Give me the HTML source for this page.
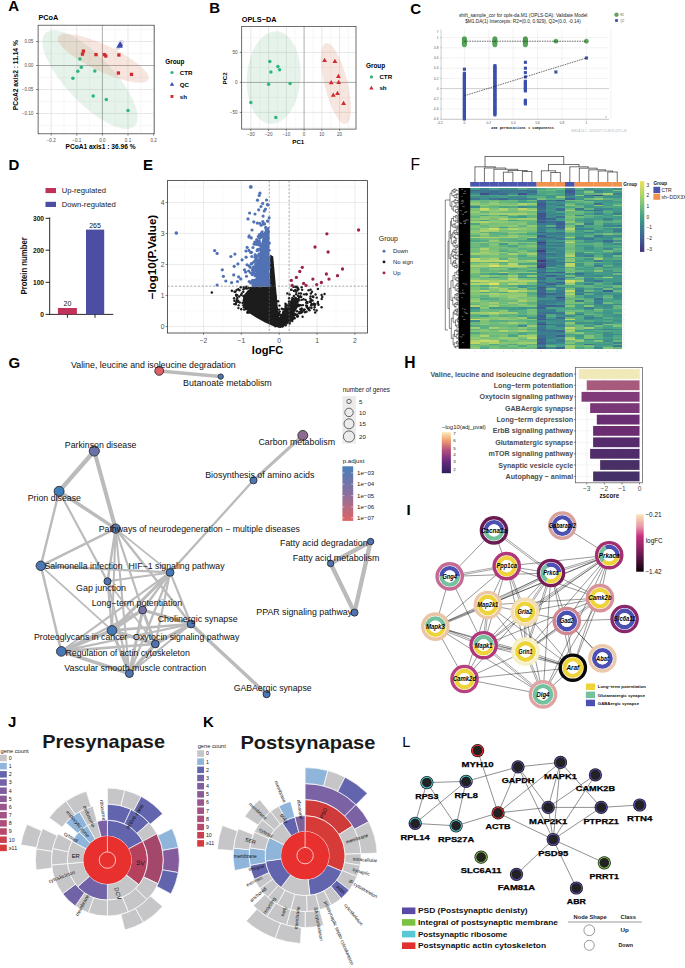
<!DOCTYPE html>
<html><head><meta charset="utf-8"><title>Figure</title>
<style>html,body{margin:0;padding:0;background:#fff;}svg{display:block;}</style>
</head><body>
<svg width="685" height="968" viewBox="0 0 685 968" font-family='"Liberation Sans", sans-serif'>
<rect width="685" height="968" fill="#fff"/>
<text x="8.2" y="10.9" font-size="15" font-weight="bold">A</text>
<text x="38.4" y="19.7" font-size="7.3" font-weight="bold">PCoA</text>
<rect x="38.1" y="25.2" width="116.1" height="108.6" fill="#fff"/>
<line x1="38.4" y1="25.2" x2="38.4" y2="133.8" stroke="#ececec" stroke-width="0.4"/>
<line x1="64" y1="25.2" x2="64" y2="133.8" stroke="#ececec" stroke-width="0.4"/>
<line x1="89.6" y1="25.2" x2="89.6" y2="133.8" stroke="#ececec" stroke-width="0.4"/>
<line x1="115.2" y1="25.2" x2="115.2" y2="133.8" stroke="#ececec" stroke-width="0.4"/>
<line x1="140.8" y1="25.2" x2="140.8" y2="133.8" stroke="#ececec" stroke-width="0.4"/>
<line x1="38.1" y1="29.5" x2="154.2" y2="29.5" stroke="#ececec" stroke-width="0.4"/>
<line x1="38.1" y1="53.5" x2="154.2" y2="53.5" stroke="#ececec" stroke-width="0.4"/>
<line x1="38.1" y1="77.5" x2="154.2" y2="77.5" stroke="#ececec" stroke-width="0.4"/>
<line x1="38.1" y1="101.5" x2="154.2" y2="101.5" stroke="#ececec" stroke-width="0.4"/>
<line x1="38.1" y1="125.5" x2="154.2" y2="125.5" stroke="#ececec" stroke-width="0.4"/>
<line x1="51.2" y1="25.2" x2="51.2" y2="133.8" stroke="#dedede" stroke-width="0.7"/>
<line x1="76.8" y1="25.2" x2="76.8" y2="133.8" stroke="#dedede" stroke-width="0.7"/>
<line x1="128" y1="25.2" x2="128" y2="133.8" stroke="#dedede" stroke-width="0.7"/>
<line x1="153.6" y1="25.2" x2="153.6" y2="133.8" stroke="#dedede" stroke-width="0.7"/>
<line x1="38.1" y1="41.5" x2="154.2" y2="41.5" stroke="#dedede" stroke-width="0.7"/>
<line x1="38.1" y1="89.5" x2="154.2" y2="89.5" stroke="#dedede" stroke-width="0.7"/>
<line x1="38.1" y1="113.5" x2="154.2" y2="113.5" stroke="#dedede" stroke-width="0.7"/>
<line x1="102.4" y1="25.2" x2="102.4" y2="133.8" stroke="#8c8c8c" stroke-width="0.7"/>
<line x1="38.1" y1="65.5" x2="154.2" y2="65.5" stroke="#8c8c8c" stroke-width="0.7"/>
<ellipse cx="90" cy="79.6" rx="64.5" ry="23.5" transform="rotate(46.4 90 79.6)" fill="#2e9e5b" fill-opacity="0.12"/>
<ellipse cx="103.3" cy="58.2" rx="50" ry="13.2" transform="rotate(25.2 103 58)" fill="#d2623f" fill-opacity="0.17"/>
<circle cx="79.9" cy="59" r="1.75" fill="#2fb67c"/>
<circle cx="81.3" cy="67.2" r="1.75" fill="#2fb67c"/>
<circle cx="77.8" cy="71.2" r="1.75" fill="#2fb67c"/>
<circle cx="94.8" cy="70.9" r="1.75" fill="#2fb67c"/>
<circle cx="72.9" cy="78.2" r="1.75" fill="#2fb67c"/>
<circle cx="93.2" cy="96.1" r="1.75" fill="#2fb67c"/>
<circle cx="106.3" cy="99.4" r="1.75" fill="#2fb67c"/>
<circle cx="128" cy="110.6" r="1.75" fill="#2fb67c"/>
<rect x="81.75" y="49.45" width="3.3" height="3.3" fill="#d02a2a"/>
<rect x="80.85" y="52.45" width="3.3" height="3.3" fill="#d02a2a"/>
<rect x="94.35" y="52.95" width="3.3" height="3.3" fill="#d02a2a"/>
<rect x="102.75" y="52.95" width="3.3" height="3.3" fill="#d02a2a"/>
<rect x="104.15" y="54.35" width="3.3" height="3.3" fill="#d02a2a"/>
<rect x="117.25" y="53.35" width="3.3" height="3.3" fill="#d02a2a"/>
<rect x="116.75" y="71.35" width="3.3" height="3.3" fill="#d02a2a"/>
<rect x="129.85" y="72.75" width="3.3" height="3.3" fill="#d02a2a"/>
<circle cx="121.3" cy="42.3" r="2.6" fill="#dcdcf0"/>
<ellipse cx="117.8" cy="48.6" rx="2.6" ry="1.2" fill="#d8d8e8"/>
<polygon points="119.6,42.06 122.9,47.77 116.3,47.77" fill="#3a48ad"/>
<polygon points="120.5,41.6 123.2,46.28 117.8,46.28" fill="#3a48ad"/>
<rect x="38.1" y="25.2" width="116.1" height="108.6" fill="none" stroke="#333" stroke-width="0.7"/>
<line x1="51.2" y1="133.8" x2="51.2" y2="135.6" stroke="#333" stroke-width="0.6"/>
<text x="51.2" y="141.5" font-size="4.6" text-anchor="middle" fill="#4d4d4d">−0.2</text>
<line x1="76.8" y1="133.8" x2="76.8" y2="135.6" stroke="#333" stroke-width="0.6"/>
<text x="76.8" y="141.5" font-size="4.6" text-anchor="middle" fill="#4d4d4d">−0.1</text>
<line x1="102.4" y1="133.8" x2="102.4" y2="135.6" stroke="#333" stroke-width="0.6"/>
<text x="102.4" y="141.5" font-size="4.6" text-anchor="middle" fill="#4d4d4d">0.0</text>
<line x1="128" y1="133.8" x2="128" y2="135.6" stroke="#333" stroke-width="0.6"/>
<text x="128" y="141.5" font-size="4.6" text-anchor="middle" fill="#4d4d4d">0.1</text>
<line x1="153.6" y1="133.8" x2="153.6" y2="135.6" stroke="#333" stroke-width="0.6"/>
<text x="153.6" y="141.5" font-size="4.6" text-anchor="middle" fill="#4d4d4d">0.2</text>
<line x1="36.1" y1="41.5" x2="38.1" y2="41.5" stroke="#333" stroke-width="0.6"/>
<text x="33.4" y="43.1" font-size="4.6" text-anchor="end" fill="#4d4d4d">0.05</text>
<line x1="36.1" y1="65.5" x2="38.1" y2="65.5" stroke="#333" stroke-width="0.6"/>
<text x="33.4" y="67.1" font-size="4.6" text-anchor="end" fill="#4d4d4d">0.00</text>
<line x1="36.1" y1="89.5" x2="38.1" y2="89.5" stroke="#333" stroke-width="0.6"/>
<text x="33.4" y="91.1" font-size="4.6" text-anchor="end" fill="#4d4d4d">−0.05</text>
<line x1="36.1" y1="113.5" x2="38.1" y2="113.5" stroke="#333" stroke-width="0.6"/>
<text x="33.4" y="115.1" font-size="4.6" text-anchor="end" fill="#4d4d4d">−0.10</text>
<text x="100.5" y="149.3" font-size="6.8" font-weight="bold" text-anchor="middle" textLength="70" lengthAdjust="spacingAndGlyphs">PCoA1 axis1 : 36.96 %</text>
<text x="18.2" y="75.2" font-size="6.8" font-weight="bold" text-anchor="middle" textLength="70" lengthAdjust="spacingAndGlyphs" transform="rotate(-90 18.2 75.2)">PCoA2 axis2 : 11.14 %</text>
<text x="165.2" y="63.8" font-size="6.4" font-weight="bold">Group</text>
<circle cx="172" cy="72.5" r="1.6" fill="#2fb67c"/>
<text x="179.7" y="74.8" font-size="6.2" font-weight="bold">CTR</text>
<polygon points="172,81.94 174.2,85.75 169.8,85.75" fill="#3a48ad"/>
<text x="179.7" y="86.6" font-size="6.2" font-weight="bold">QC</text>
<rect x="170.5" y="95" width="2.9" height="2.9" fill="#d02a2a"/>
<text x="179.7" y="98.7" font-size="6.2" font-weight="bold">sh</text>
<text x="209.2" y="13.1" font-size="15" font-weight="bold">B</text>
<text x="241.8" y="21.6" font-size="7.3" font-weight="bold">OPLS−DA</text>
<rect x="241.7" y="26.5" width="114.3" height="102.6" fill="#fff"/>
<line x1="241.98" y1="26.5" x2="241.98" y2="129.1" stroke="#ececec" stroke-width="0.4"/>
<line x1="259.73" y1="26.5" x2="259.73" y2="129.1" stroke="#ececec" stroke-width="0.4"/>
<line x1="277.48" y1="26.5" x2="277.48" y2="129.1" stroke="#ececec" stroke-width="0.4"/>
<line x1="295.23" y1="26.5" x2="295.23" y2="129.1" stroke="#ececec" stroke-width="0.4"/>
<line x1="312.98" y1="26.5" x2="312.98" y2="129.1" stroke="#ececec" stroke-width="0.4"/>
<line x1="330.73" y1="26.5" x2="330.73" y2="129.1" stroke="#ececec" stroke-width="0.4"/>
<line x1="348.48" y1="26.5" x2="348.48" y2="129.1" stroke="#ececec" stroke-width="0.4"/>
<line x1="241.7" y1="37.4" x2="356" y2="37.4" stroke="#ececec" stroke-width="0.4"/>
<line x1="241.7" y1="67.4" x2="356" y2="67.4" stroke="#ececec" stroke-width="0.4"/>
<line x1="241.7" y1="97.4" x2="356" y2="97.4" stroke="#ececec" stroke-width="0.4"/>
<line x1="241.7" y1="127.4" x2="356" y2="127.4" stroke="#ececec" stroke-width="0.4"/>
<line x1="250.85" y1="26.5" x2="250.85" y2="129.1" stroke="#dedede" stroke-width="0.7"/>
<line x1="268.6" y1="26.5" x2="268.6" y2="129.1" stroke="#dedede" stroke-width="0.7"/>
<line x1="286.35" y1="26.5" x2="286.35" y2="129.1" stroke="#dedede" stroke-width="0.7"/>
<line x1="321.85" y1="26.5" x2="321.85" y2="129.1" stroke="#dedede" stroke-width="0.7"/>
<line x1="339.6" y1="26.5" x2="339.6" y2="129.1" stroke="#dedede" stroke-width="0.7"/>
<line x1="241.7" y1="52.4" x2="356" y2="52.4" stroke="#dedede" stroke-width="0.7"/>
<line x1="241.7" y1="112.4" x2="356" y2="112.4" stroke="#dedede" stroke-width="0.7"/>
<line x1="304.1" y1="26.5" x2="304.1" y2="129.1" stroke="#8c8c8c" stroke-width="0.7"/>
<line x1="241.7" y1="82.4" x2="356" y2="82.4" stroke="#8c8c8c" stroke-width="0.7"/>
<ellipse cx="273.7" cy="77.6" rx="26.9" ry="46.4" transform="rotate(4 273.7 77.6)" fill="#2e9e5b" fill-opacity="0.12"/>
<ellipse cx="336" cy="83.5" rx="11.5" ry="41.7" transform="rotate(-13.7 336 83.5)" fill="#d2623f" fill-opacity="0.17"/>
<circle cx="269.8" cy="61.6" r="1.75" fill="#2fb67c"/>
<circle cx="277.9" cy="66.5" r="1.75" fill="#2fb67c"/>
<circle cx="279.6" cy="69.8" r="1.75" fill="#2fb67c"/>
<circle cx="270.9" cy="72.1" r="1.75" fill="#2fb67c"/>
<circle cx="268.6" cy="84.2" r="1.75" fill="#2fb67c"/>
<circle cx="290.1" cy="83.5" r="1.75" fill="#2fb67c"/>
<circle cx="250.8" cy="102.5" r="1.75" fill="#2fb67c"/>
<circle cx="275.8" cy="117.6" r="1.75" fill="#2fb67c"/>
<polygon points="324.6,57.82 327,61.98 322.2,61.98" fill="#d02a2a"/>
<polygon points="334.9,58.72 337.3,62.88 332.5,62.88" fill="#d02a2a"/>
<polygon points="338.4,73.72 340.8,77.88 336,77.88" fill="#d02a2a"/>
<polygon points="331.2,80.02 333.6,84.18 328.8,84.18" fill="#d02a2a"/>
<polygon points="338.7,79.82 341.1,83.98 336.3,83.98" fill="#d02a2a"/>
<polygon points="333.3,92.62 335.7,96.78 330.9,96.78" fill="#d02a2a"/>
<polygon points="337.5,90.72 339.9,94.88 335.1,94.88" fill="#d02a2a"/>
<polygon points="343.6,100.82 346,104.98 341.2,104.98" fill="#d02a2a"/>
<rect x="241.7" y="26.5" width="114.3" height="102.6" fill="none" stroke="#333" stroke-width="0.7"/>
<line x1="250.85" y1="129.1" x2="250.85" y2="130.9" stroke="#333" stroke-width="0.6"/>
<text x="250.85" y="136.1" font-size="4.6" text-anchor="middle" fill="#4d4d4d">−30</text>
<line x1="268.6" y1="129.1" x2="268.6" y2="130.9" stroke="#333" stroke-width="0.6"/>
<text x="268.6" y="136.1" font-size="4.6" text-anchor="middle" fill="#4d4d4d">−20</text>
<line x1="286.35" y1="129.1" x2="286.35" y2="130.9" stroke="#333" stroke-width="0.6"/>
<text x="286.35" y="136.1" font-size="4.6" text-anchor="middle" fill="#4d4d4d">−10</text>
<line x1="304.1" y1="129.1" x2="304.1" y2="130.9" stroke="#333" stroke-width="0.6"/>
<text x="304.1" y="136.1" font-size="4.6" text-anchor="middle" fill="#4d4d4d">0</text>
<line x1="321.85" y1="129.1" x2="321.85" y2="130.9" stroke="#333" stroke-width="0.6"/>
<text x="321.85" y="136.1" font-size="4.6" text-anchor="middle" fill="#4d4d4d">10</text>
<line x1="339.6" y1="129.1" x2="339.6" y2="130.9" stroke="#333" stroke-width="0.6"/>
<text x="339.6" y="136.1" font-size="4.6" text-anchor="middle" fill="#4d4d4d">20</text>
<line x1="239.7" y1="52.4" x2="241.7" y2="52.4" stroke="#333" stroke-width="0.6"/>
<text x="237.6" y="54" font-size="4.6" text-anchor="end" fill="#4d4d4d">50</text>
<line x1="239.7" y1="82.4" x2="241.7" y2="82.4" stroke="#333" stroke-width="0.6"/>
<text x="237.6" y="84" font-size="4.6" text-anchor="end" fill="#4d4d4d">0</text>
<line x1="239.7" y1="112.4" x2="241.7" y2="112.4" stroke="#333" stroke-width="0.6"/>
<text x="237.6" y="114" font-size="4.6" text-anchor="end" fill="#4d4d4d">−50</text>
<text x="298.3" y="143.6" font-size="6.2" font-weight="bold" text-anchor="middle">PC1</text>
<text x="226.8" y="78.4" font-size="6.2" font-weight="bold" text-anchor="middle" transform="rotate(-90 226.8 78.4)">PC2</text>
<text x="366" y="67.8" font-size="6.4" font-weight="bold">Group</text>
<circle cx="371.4" cy="76.9" r="1.6" fill="#2fb67c"/>
<text x="379.4" y="79.2" font-size="6.2" font-weight="bold">CTR</text>
<polygon points="371.4,85.64 373.6,89.45 369.2,89.45" fill="#d02a2a"/>
<text x="379.4" y="90.3" font-size="6.2" font-weight="bold">sh</text>
<text x="410.2" y="13.5" font-size="15" font-weight="bold">C</text>
<text x="523.2" y="17" font-size="4.7" text-anchor="middle" fill="#222" textLength="128.5" lengthAdjust="spacingAndGlyphs">shift_sample_cor for opls-da.M1 (OPLS-DA): Validate Model</text>
<text x="523" y="23.3" font-size="4.7" text-anchor="middle" fill="#222" textLength="115.6" lengthAdjust="spacingAndGlyphs">$M1.DA(1) Intercepts: R2=(0.0, 0.929), Q2=(0.0, -0.14)</text>
<line x1="441.1" y1="119.2" x2="609" y2="119.2" stroke="#e4e4e4" stroke-width="0.5"/>
<line x1="441.1" y1="109" x2="609" y2="109" stroke="#e4e4e4" stroke-width="0.5"/>
<line x1="441.1" y1="98.8" x2="609" y2="98.8" stroke="#e4e4e4" stroke-width="0.5"/>
<line x1="441.1" y1="88.6" x2="609" y2="88.6" stroke="#e4e4e4" stroke-width="0.5"/>
<line x1="441.1" y1="78.4" x2="609" y2="78.4" stroke="#e4e4e4" stroke-width="0.5"/>
<line x1="441.1" y1="68.2" x2="609" y2="68.2" stroke="#e4e4e4" stroke-width="0.5"/>
<line x1="441.1" y1="58" x2="609" y2="58" stroke="#e4e4e4" stroke-width="0.5"/>
<line x1="441.1" y1="47.8" x2="609" y2="47.8" stroke="#e4e4e4" stroke-width="0.5"/>
<line x1="441.1" y1="37.6" x2="609" y2="37.6" stroke="#e4e4e4" stroke-width="0.5"/>
<line x1="464.4" y1="29.5" x2="464.4" y2="119.3" stroke="#e4e4e4" stroke-width="0.5"/>
<line x1="488.8" y1="29.5" x2="488.8" y2="119.3" stroke="#e4e4e4" stroke-width="0.5"/>
<line x1="513.2" y1="29.5" x2="513.2" y2="119.3" stroke="#e4e4e4" stroke-width="0.5"/>
<line x1="537.6" y1="29.5" x2="537.6" y2="119.3" stroke="#e4e4e4" stroke-width="0.5"/>
<line x1="562" y1="29.5" x2="562" y2="119.3" stroke="#e4e4e4" stroke-width="0.5"/>
<line x1="586.4" y1="29.5" x2="586.4" y2="119.3" stroke="#e4e4e4" stroke-width="0.5"/>
<line x1="610.8" y1="29.5" x2="610.8" y2="119.3" stroke="#e4e4e4" stroke-width="0.5"/>
<line x1="441.1" y1="88.6" x2="609" y2="88.6" stroke="#b0b0b0" stroke-width="0.5"/>
<line x1="441.1" y1="29.5" x2="441.1" y2="119.3" stroke="#9a9a9a" stroke-width="0.5"/>
<line x1="441.1" y1="119.3" x2="609" y2="119.3" stroke="#9a9a9a" stroke-width="0.5"/>
<text x="438.5" y="38.7" font-size="3.2" text-anchor="end" fill="#555">1</text>
<line x1="439.9" y1="37.6" x2="441.1" y2="37.6" stroke="#888" stroke-width="0.4"/>
<text x="438.5" y="48.9" font-size="3.2" text-anchor="end" fill="#555">0.8</text>
<line x1="439.9" y1="47.8" x2="441.1" y2="47.8" stroke="#888" stroke-width="0.4"/>
<text x="438.5" y="59.1" font-size="3.2" text-anchor="end" fill="#555">0.6</text>
<line x1="439.9" y1="58" x2="441.1" y2="58" stroke="#888" stroke-width="0.4"/>
<text x="438.5" y="69.3" font-size="3.2" text-anchor="end" fill="#555">0.4</text>
<line x1="439.9" y1="68.2" x2="441.1" y2="68.2" stroke="#888" stroke-width="0.4"/>
<text x="438.5" y="79.5" font-size="3.2" text-anchor="end" fill="#555">0.2</text>
<line x1="439.9" y1="78.4" x2="441.1" y2="78.4" stroke="#888" stroke-width="0.4"/>
<text x="438.5" y="89.7" font-size="3.2" text-anchor="end" fill="#555">0</text>
<line x1="439.9" y1="88.6" x2="441.1" y2="88.6" stroke="#888" stroke-width="0.4"/>
<text x="438.5" y="99.9" font-size="3.2" text-anchor="end" fill="#555">-0.2</text>
<line x1="439.9" y1="98.8" x2="441.1" y2="98.8" stroke="#888" stroke-width="0.4"/>
<text x="438.5" y="110.1" font-size="3.2" text-anchor="end" fill="#555">-0.4</text>
<line x1="439.9" y1="109" x2="441.1" y2="109" stroke="#888" stroke-width="0.4"/>
<text x="438.5" y="120.3" font-size="3.2" text-anchor="end" fill="#555">-0.6</text>
<line x1="439.9" y1="119.2" x2="441.1" y2="119.2" stroke="#888" stroke-width="0.4"/>
<text x="438.5" y="31.5" font-size="3" text-anchor="end" fill="#888">y</text>
<text x="440" y="123.6" font-size="3.2" text-anchor="middle" fill="#555">-0.2</text>
<text x="464.4" y="123.6" font-size="3.2" text-anchor="middle" fill="#555">0</text>
<text x="488.8" y="123.6" font-size="3.2" text-anchor="middle" fill="#555">0.2</text>
<text x="513.2" y="123.6" font-size="3.2" text-anchor="middle" fill="#555">0.4</text>
<text x="537.6" y="123.6" font-size="3.2" text-anchor="middle" fill="#555">0.6</text>
<text x="562" y="123.6" font-size="3.2" text-anchor="middle" fill="#555">0.8</text>
<text x="586.4" y="123.6" font-size="3.2" text-anchor="middle" fill="#555">1</text>
<text x="606" y="118" font-size="3" text-anchor="middle" fill="#888">x</text>
<rect x="462.85" y="71.75" width="3.1" height="3.1" fill="#3c4fab"/>
<rect x="462.85" y="72.95" width="3.1" height="3.1" fill="#3c4fab"/>
<rect x="462.85" y="74.15" width="3.1" height="3.1" fill="#3c4fab"/>
<rect x="462.85" y="75.35" width="3.1" height="3.1" fill="#3c4fab"/>
<rect x="462.85" y="76.55" width="3.1" height="3.1" fill="#3c4fab"/>
<rect x="462.85" y="77.75" width="3.1" height="3.1" fill="#3c4fab"/>
<rect x="462.85" y="78.95" width="3.1" height="3.1" fill="#3c4fab"/>
<rect x="462.85" y="80.15" width="3.1" height="3.1" fill="#3c4fab"/>
<rect x="462.85" y="81.35" width="3.1" height="3.1" fill="#3c4fab"/>
<rect x="462.85" y="82.55" width="3.1" height="3.1" fill="#3c4fab"/>
<rect x="462.85" y="83.75" width="3.1" height="3.1" fill="#3c4fab"/>
<rect x="462.85" y="84.95" width="3.1" height="3.1" fill="#3c4fab"/>
<rect x="462.85" y="86.15" width="3.1" height="3.1" fill="#3c4fab"/>
<rect x="462.85" y="87.35" width="3.1" height="3.1" fill="#3c4fab"/>
<rect x="462.85" y="88.55" width="3.1" height="3.1" fill="#3c4fab"/>
<rect x="462.85" y="89.75" width="3.1" height="3.1" fill="#3c4fab"/>
<rect x="462.85" y="90.95" width="3.1" height="3.1" fill="#3c4fab"/>
<rect x="462.85" y="92.15" width="3.1" height="3.1" fill="#3c4fab"/>
<rect x="462.85" y="93.35" width="3.1" height="3.1" fill="#3c4fab"/>
<rect x="462.85" y="94.55" width="3.1" height="3.1" fill="#3c4fab"/>
<rect x="462.85" y="95.75" width="3.1" height="3.1" fill="#3c4fab"/>
<rect x="462.85" y="96.95" width="3.1" height="3.1" fill="#3c4fab"/>
<rect x="462.85" y="98.15" width="3.1" height="3.1" fill="#3c4fab"/>
<rect x="462.85" y="99.35" width="3.1" height="3.1" fill="#3c4fab"/>
<rect x="462.85" y="100.55" width="3.1" height="3.1" fill="#3c4fab"/>
<rect x="462.85" y="101.75" width="3.1" height="3.1" fill="#3c4fab"/>
<rect x="462.85" y="102.95" width="3.1" height="3.1" fill="#3c4fab"/>
<rect x="462.85" y="104.15" width="3.1" height="3.1" fill="#3c4fab"/>
<rect x="462.85" y="105.35" width="3.1" height="3.1" fill="#3c4fab"/>
<rect x="462.85" y="106.55" width="3.1" height="3.1" fill="#3c4fab"/>
<rect x="462.85" y="107.75" width="3.1" height="3.1" fill="#3c4fab"/>
<rect x="462.85" y="108.95" width="3.1" height="3.1" fill="#3c4fab"/>
<rect x="462.85" y="110.15" width="3.1" height="3.1" fill="#3c4fab"/>
<rect x="462.85" y="111.35" width="3.1" height="3.1" fill="#3c4fab"/>
<rect x="462.85" y="112.55" width="3.1" height="3.1" fill="#3c4fab"/>
<rect x="462.85" y="113.75" width="3.1" height="3.1" fill="#3c4fab"/>
<rect x="462.85" y="114.95" width="3.1" height="3.1" fill="#3c4fab"/>
<rect x="462.85" y="116.15" width="3.1" height="3.1" fill="#3c4fab"/>
<rect x="462.85" y="117.35" width="3.1" height="3.1" fill="#3c4fab"/>
<rect x="462.85" y="67.67" width="3.1" height="3.1" fill="#3c4fab"/>
<rect x="493.35" y="64.1" width="3.1" height="3.1" fill="#3c4fab"/>
<rect x="493.35" y="65.3" width="3.1" height="3.1" fill="#3c4fab"/>
<rect x="493.35" y="66.5" width="3.1" height="3.1" fill="#3c4fab"/>
<rect x="493.35" y="67.7" width="3.1" height="3.1" fill="#3c4fab"/>
<rect x="493.35" y="68.9" width="3.1" height="3.1" fill="#3c4fab"/>
<rect x="493.35" y="70.1" width="3.1" height="3.1" fill="#3c4fab"/>
<rect x="493.35" y="71.3" width="3.1" height="3.1" fill="#3c4fab"/>
<rect x="493.35" y="72.5" width="3.1" height="3.1" fill="#3c4fab"/>
<rect x="493.35" y="73.7" width="3.1" height="3.1" fill="#3c4fab"/>
<rect x="493.35" y="74.9" width="3.1" height="3.1" fill="#3c4fab"/>
<rect x="493.35" y="76.1" width="3.1" height="3.1" fill="#3c4fab"/>
<rect x="493.35" y="77.3" width="3.1" height="3.1" fill="#3c4fab"/>
<rect x="493.35" y="78.5" width="3.1" height="3.1" fill="#3c4fab"/>
<rect x="493.35" y="79.7" width="3.1" height="3.1" fill="#3c4fab"/>
<rect x="493.35" y="80.9" width="3.1" height="3.1" fill="#3c4fab"/>
<rect x="493.35" y="82.1" width="3.1" height="3.1" fill="#3c4fab"/>
<rect x="493.35" y="83.3" width="3.1" height="3.1" fill="#3c4fab"/>
<rect x="493.35" y="84.5" width="3.1" height="3.1" fill="#3c4fab"/>
<rect x="493.35" y="85.7" width="3.1" height="3.1" fill="#3c4fab"/>
<rect x="493.35" y="86.9" width="3.1" height="3.1" fill="#3c4fab"/>
<rect x="493.35" y="88.1" width="3.1" height="3.1" fill="#3c4fab"/>
<rect x="493.35" y="89.3" width="3.1" height="3.1" fill="#3c4fab"/>
<rect x="493.35" y="90.5" width="3.1" height="3.1" fill="#3c4fab"/>
<rect x="493.35" y="91.7" width="3.1" height="3.1" fill="#3c4fab"/>
<rect x="493.35" y="92.9" width="3.1" height="3.1" fill="#3c4fab"/>
<rect x="493.35" y="94.1" width="3.1" height="3.1" fill="#3c4fab"/>
<rect x="493.35" y="95.3" width="3.1" height="3.1" fill="#3c4fab"/>
<rect x="493.35" y="96.5" width="3.1" height="3.1" fill="#3c4fab"/>
<rect x="493.35" y="97.7" width="3.1" height="3.1" fill="#3c4fab"/>
<rect x="493.35" y="98.9" width="3.1" height="3.1" fill="#3c4fab"/>
<rect x="493.35" y="100.1" width="3.1" height="3.1" fill="#3c4fab"/>
<rect x="493.35" y="101.3" width="3.1" height="3.1" fill="#3c4fab"/>
<rect x="493.35" y="102.5" width="3.1" height="3.1" fill="#3c4fab"/>
<rect x="493.35" y="103.7" width="3.1" height="3.1" fill="#3c4fab"/>
<rect x="493.35" y="104.9" width="3.1" height="3.1" fill="#3c4fab"/>
<rect x="493.35" y="106.1" width="3.1" height="3.1" fill="#3c4fab"/>
<rect x="493.35" y="107.3" width="3.1" height="3.1" fill="#3c4fab"/>
<rect x="493.35" y="108.5" width="3.1" height="3.1" fill="#3c4fab"/>
<rect x="493.35" y="109.7" width="3.1" height="3.1" fill="#3c4fab"/>
<rect x="493.35" y="110.9" width="3.1" height="3.1" fill="#3c4fab"/>
<rect x="493.35" y="112.1" width="3.1" height="3.1" fill="#3c4fab"/>
<rect x="493.35" y="113.3" width="3.1" height="3.1" fill="#3c4fab"/>
<rect x="523.85" y="60.75" width="3.1" height="3.1" fill="#3c4fab"/>
<rect x="523.85" y="66.65" width="3.1" height="3.1" fill="#3c4fab"/>
<rect x="523.85" y="71.05" width="3.1" height="3.1" fill="#3c4fab"/>
<rect x="523.85" y="75.35" width="3.1" height="3.1" fill="#3c4fab"/>
<rect x="523.85" y="79.75" width="3.1" height="3.1" fill="#3c4fab"/>
<rect x="523.85" y="80.95" width="3.1" height="3.1" fill="#3c4fab"/>
<rect x="523.85" y="82.15" width="3.1" height="3.1" fill="#3c4fab"/>
<rect x="523.85" y="83.35" width="3.1" height="3.1" fill="#3c4fab"/>
<rect x="523.85" y="84.55" width="3.1" height="3.1" fill="#3c4fab"/>
<rect x="523.85" y="85.75" width="3.1" height="3.1" fill="#3c4fab"/>
<rect x="523.85" y="86.95" width="3.1" height="3.1" fill="#3c4fab"/>
<rect x="523.85" y="88.15" width="3.1" height="3.1" fill="#3c4fab"/>
<rect x="523.85" y="89.35" width="3.1" height="3.1" fill="#3c4fab"/>
<rect x="523.85" y="98.75" width="3.1" height="3.1" fill="#3c4fab"/>
<rect x="523.85" y="99.95" width="3.1" height="3.1" fill="#3c4fab"/>
<rect x="523.85" y="101.15" width="3.1" height="3.1" fill="#3c4fab"/>
<rect x="523.85" y="102.35" width="3.1" height="3.1" fill="#3c4fab"/>
<rect x="554.35" y="70.45" width="3.1" height="3.1" fill="#3c4fab"/>
<rect x="584.85" y="56.45" width="3.1" height="3.1" fill="#3c4fab"/>
<circle cx="464.4" cy="38.62" r="2.2" fill="#57a85a" stroke="#3f8a45" stroke-width="0.3"/>
<circle cx="464.4" cy="39.52" r="2.2" fill="#57a85a" stroke="#3f8a45" stroke-width="0.3"/>
<circle cx="464.4" cy="40.42" r="2.2" fill="#57a85a" stroke="#3f8a45" stroke-width="0.3"/>
<circle cx="464.4" cy="41.32" r="2.2" fill="#57a85a" stroke="#3f8a45" stroke-width="0.3"/>
<circle cx="464.4" cy="42.22" r="2.2" fill="#57a85a" stroke="#3f8a45" stroke-width="0.3"/>
<circle cx="464.4" cy="43.12" r="2.2" fill="#57a85a" stroke="#3f8a45" stroke-width="0.3"/>
<circle cx="464.4" cy="44.02" r="2.2" fill="#57a85a" stroke="#3f8a45" stroke-width="0.3"/>
<circle cx="464.4" cy="44.92" r="2.2" fill="#57a85a" stroke="#3f8a45" stroke-width="0.3"/>
<circle cx="494.9" cy="38.62" r="2.2" fill="#57a85a" stroke="#3f8a45" stroke-width="0.3"/>
<circle cx="494.9" cy="39.52" r="2.2" fill="#57a85a" stroke="#3f8a45" stroke-width="0.3"/>
<circle cx="494.9" cy="40.42" r="2.2" fill="#57a85a" stroke="#3f8a45" stroke-width="0.3"/>
<circle cx="494.9" cy="41.32" r="2.2" fill="#57a85a" stroke="#3f8a45" stroke-width="0.3"/>
<circle cx="494.9" cy="42.22" r="2.2" fill="#57a85a" stroke="#3f8a45" stroke-width="0.3"/>
<circle cx="494.9" cy="43.12" r="2.2" fill="#57a85a" stroke="#3f8a45" stroke-width="0.3"/>
<circle cx="494.9" cy="44.02" r="2.2" fill="#57a85a" stroke="#3f8a45" stroke-width="0.3"/>
<circle cx="494.9" cy="44.92" r="2.2" fill="#57a85a" stroke="#3f8a45" stroke-width="0.3"/>
<circle cx="525.4" cy="38.62" r="2.2" fill="#57a85a" stroke="#3f8a45" stroke-width="0.3"/>
<circle cx="525.4" cy="39.52" r="2.2" fill="#57a85a" stroke="#3f8a45" stroke-width="0.3"/>
<circle cx="525.4" cy="40.42" r="2.2" fill="#57a85a" stroke="#3f8a45" stroke-width="0.3"/>
<circle cx="525.4" cy="41.32" r="2.2" fill="#57a85a" stroke="#3f8a45" stroke-width="0.3"/>
<circle cx="525.4" cy="42.22" r="2.2" fill="#57a85a" stroke="#3f8a45" stroke-width="0.3"/>
<circle cx="525.4" cy="43.12" r="2.2" fill="#57a85a" stroke="#3f8a45" stroke-width="0.3"/>
<circle cx="525.4" cy="44.02" r="2.2" fill="#57a85a" stroke="#3f8a45" stroke-width="0.3"/>
<circle cx="525.4" cy="44.92" r="2.2" fill="#57a85a" stroke="#3f8a45" stroke-width="0.3"/>
<circle cx="555.9" cy="41.17" r="2.2" fill="#57a85a" stroke="#3f8a45" stroke-width="0.3"/>
<circle cx="586.4" cy="41.22" r="2.2" fill="#57a85a" stroke="#3f8a45" stroke-width="0.3"/>
<line x1="464.4" y1="41.22" x2="586.4" y2="41.22" stroke="#111" stroke-width="0.6" stroke-dasharray="1.6,0.9"/>
<line x1="464.4" y1="95.74" x2="586.4" y2="58" stroke="#111" stroke-width="0.6" stroke-dasharray="1.6,0.9"/>
<circle cx="616.5" cy="14.7" r="2" fill="#57a85a" stroke="#3f8a45" stroke-width="0.3"/>
<text x="620.2" y="15.9" font-size="3" fill="#666">R2</text>
<rect x="615.1" y="19.1" width="2.8" height="2.8" fill="#3c4fab"/>
<text x="620.2" y="21.7" font-size="3" fill="#666">Q2</text>
<text x="522.5" y="129" font-size="3.65" font-weight="bold" text-anchor="middle" fill="#222" font-family='"Liberation Mono", monospace' textLength="63" lengthAdjust="spacingAndGlyphs">200 permutations 1 components</text>
<text x="598.8" y="131.8" font-size="2.7" text-anchor="middle" fill="#b4b4b4" textLength="55.8" lengthAdjust="spacingAndGlyphs">SIMCA 14.1 - 2022/1/27 21:08:31 (UTC+8)</text>
<text x="8.6" y="169.7" font-size="15" font-weight="bold">D</text>
<rect x="45.5" y="188" width="10.5" height="5.1" fill="#c0325a"/>
<text x="61.7" y="193.3" font-size="8" fill="#1a1a1a" textLength="44.2" lengthAdjust="spacingAndGlyphs">Up-regulated</text>
<rect x="45.5" y="201.8" width="10.5" height="5.2" fill="#4b4ea3"/>
<text x="61.7" y="207.2" font-size="8" fill="#1a1a1a" textLength="54.1" lengthAdjust="spacingAndGlyphs">Down-regulated</text>
<line x1="49.7" y1="217.4" x2="49.7" y2="314.8" stroke="#111" stroke-width="0.9"/>
<line x1="49.3" y1="314.4" x2="113.3" y2="314.4" stroke="#111" stroke-width="0.9"/>
<line x1="45.6" y1="218.3" x2="49.7" y2="218.3" stroke="#111" stroke-width="0.9"/>
<text x="44" y="220.7" font-size="6.6" font-weight="bold" text-anchor="end" fill="#111">300</text>
<line x1="45.6" y1="250.2" x2="49.7" y2="250.2" stroke="#111" stroke-width="0.9"/>
<text x="44" y="252.6" font-size="6.6" font-weight="bold" text-anchor="end" fill="#111">200</text>
<line x1="45.6" y1="282.3" x2="49.7" y2="282.3" stroke="#111" stroke-width="0.9"/>
<text x="44" y="284.7" font-size="6.6" font-weight="bold" text-anchor="end" fill="#111">100</text>
<line x1="45.6" y1="314.4" x2="49.7" y2="314.4" stroke="#111" stroke-width="0.9"/>
<text x="44" y="316.8" font-size="6.6" font-weight="bold" text-anchor="end" fill="#111">0</text>
<rect x="57.9" y="308" width="19" height="6.4" fill="#c0325a"/>
<rect x="86" y="229.6" width="18.2" height="84.8" fill="#4b4ea3"/>
<line x1="67.4" y1="314.4" x2="67.4" y2="317.8" stroke="#111" stroke-width="0.9"/>
<line x1="95" y1="314.4" x2="95" y2="317.8" stroke="#111" stroke-width="0.9"/>
<text x="67.4" y="306" font-size="7" text-anchor="middle" fill="#111">20</text>
<text x="95" y="227.9" font-size="7" text-anchor="middle" fill="#111">265</text>
<text x="27.3" y="265.9" font-size="8.2" font-weight="bold" text-anchor="middle" fill="#111" textLength="57.3" lengthAdjust="spacingAndGlyphs" transform="rotate(-90 27.3 265.9)">Protein number</text>
<text x="143" y="169.7" font-size="15" font-weight="bold">E</text>
<rect x="167.4" y="180.6" width="200.2" height="152.4" fill="#fff"/>
<line x1="184.57" y1="180.6" x2="184.57" y2="333" stroke="#f2f2f2" stroke-width="0.5"/>
<line x1="222.42" y1="180.6" x2="222.42" y2="333" stroke="#f2f2f2" stroke-width="0.5"/>
<line x1="260.27" y1="180.6" x2="260.27" y2="333" stroke="#f2f2f2" stroke-width="0.5"/>
<line x1="298.12" y1="180.6" x2="298.12" y2="333" stroke="#f2f2f2" stroke-width="0.5"/>
<line x1="335.98" y1="180.6" x2="335.98" y2="333" stroke="#f2f2f2" stroke-width="0.5"/>
<line x1="167.4" y1="311" x2="367.6" y2="311" stroke="#f2f2f2" stroke-width="0.5"/>
<line x1="167.4" y1="280" x2="367.6" y2="280" stroke="#f2f2f2" stroke-width="0.5"/>
<line x1="167.4" y1="249" x2="367.6" y2="249" stroke="#f2f2f2" stroke-width="0.5"/>
<line x1="167.4" y1="218" x2="367.6" y2="218" stroke="#f2f2f2" stroke-width="0.5"/>
<line x1="167.4" y1="187" x2="367.6" y2="187" stroke="#f2f2f2" stroke-width="0.5"/>
<line x1="203.5" y1="180.6" x2="203.5" y2="333" stroke="#e6e6e6" stroke-width="0.8"/>
<line x1="241.35" y1="180.6" x2="241.35" y2="333" stroke="#e6e6e6" stroke-width="0.8"/>
<line x1="279.2" y1="180.6" x2="279.2" y2="333" stroke="#e6e6e6" stroke-width="0.8"/>
<line x1="317.05" y1="180.6" x2="317.05" y2="333" stroke="#e6e6e6" stroke-width="0.8"/>
<line x1="354.9" y1="180.6" x2="354.9" y2="333" stroke="#e6e6e6" stroke-width="0.8"/>
<line x1="167.4" y1="326.5" x2="367.6" y2="326.5" stroke="#e6e6e6" stroke-width="0.8"/>
<line x1="167.4" y1="295.5" x2="367.6" y2="295.5" stroke="#e6e6e6" stroke-width="0.8"/>
<line x1="167.4" y1="264.5" x2="367.6" y2="264.5" stroke="#e6e6e6" stroke-width="0.8"/>
<line x1="167.4" y1="233.5" x2="367.6" y2="233.5" stroke="#e6e6e6" stroke-width="0.8"/>
<line x1="167.4" y1="202.5" x2="367.6" y2="202.5" stroke="#e6e6e6" stroke-width="0.8"/>
<polygon points="279.6,327.2 273.2,256.5 270.2,254.6 269.6,286.6 253.5,286.6 248,290 243.5,295.5 242.5,301 244.5,307 249,313 256,317.5 265,322.5 274,326.5" fill="#1c1c1c"/>
<polygon points="280.6,327.2 283,321.5 286,312.5 288.5,304.5 291.5,298.5 296,296.5 299,300 298,307 293.5,314.5 287,322.5" fill="#1c1c1c"/>
<circle cx="284.3" cy="324.19" r="1.2" fill="#1c1c1c"/>
<circle cx="315.53" cy="294.47" r="1.2" fill="#1c1c1c"/>
<circle cx="281.29" cy="326.01" r="1.2" fill="#1c1c1c"/>
<circle cx="241.06" cy="295.02" r="1.2" fill="#1c1c1c"/>
<circle cx="280.54" cy="323.04" r="1.2" fill="#1c1c1c"/>
<circle cx="314.99" cy="304.16" r="1.2" fill="#1c1c1c"/>
<circle cx="302.17" cy="289.87" r="1.2" fill="#1c1c1c"/>
<circle cx="275.74" cy="324.69" r="1.2" fill="#1c1c1c"/>
<circle cx="280.83" cy="326.06" r="1.2" fill="#1c1c1c"/>
<circle cx="286.02" cy="304.63" r="1.2" fill="#1c1c1c"/>
<circle cx="317.93" cy="288.89" r="1.2" fill="#1c1c1c"/>
<circle cx="286.31" cy="310.02" r="1.2" fill="#1c1c1c"/>
<circle cx="301.39" cy="310.19" r="1.2" fill="#1c1c1c"/>
<circle cx="280.05" cy="325.2" r="1.2" fill="#1c1c1c"/>
<circle cx="279.66" cy="325.65" r="1.2" fill="#1c1c1c"/>
<circle cx="283.08" cy="320.3" r="1.2" fill="#1c1c1c"/>
<circle cx="279.53" cy="324.61" r="1.2" fill="#1c1c1c"/>
<circle cx="279.52" cy="323.74" r="1.2" fill="#1c1c1c"/>
<circle cx="282.5" cy="322.57" r="1.2" fill="#1c1c1c"/>
<circle cx="279.53" cy="323.96" r="1.2" fill="#1c1c1c"/>
<circle cx="280.1" cy="320.91" r="1.2" fill="#1c1c1c"/>
<circle cx="304.09" cy="294.34" r="1.2" fill="#1c1c1c"/>
<circle cx="283.36" cy="317.69" r="1.2" fill="#1c1c1c"/>
<circle cx="243.58" cy="287.08" r="1.2" fill="#1c1c1c"/>
<circle cx="236.66" cy="289.96" r="1.2" fill="#1c1c1c"/>
<circle cx="281.06" cy="325.23" r="1.2" fill="#1c1c1c"/>
<circle cx="297.22" cy="316.37" r="1.2" fill="#1c1c1c"/>
<circle cx="297.13" cy="314.4" r="1.2" fill="#1c1c1c"/>
<circle cx="281.15" cy="322.8" r="1.2" fill="#1c1c1c"/>
<circle cx="280.29" cy="326.23" r="1.2" fill="#1c1c1c"/>
<circle cx="310.88" cy="293.53" r="1.2" fill="#1c1c1c"/>
<circle cx="306.93" cy="302" r="1.2" fill="#1c1c1c"/>
<circle cx="287.64" cy="305.43" r="1.2" fill="#1c1c1c"/>
<circle cx="279.87" cy="325.19" r="1.2" fill="#1c1c1c"/>
<circle cx="304.61" cy="309.61" r="1.2" fill="#1c1c1c"/>
<circle cx="282.88" cy="319.66" r="1.2" fill="#1c1c1c"/>
<circle cx="277.17" cy="325.08" r="1.2" fill="#1c1c1c"/>
<circle cx="283.68" cy="316.01" r="1.2" fill="#1c1c1c"/>
<circle cx="278.05" cy="301.28" r="1.2" fill="#1c1c1c"/>
<circle cx="281.4" cy="321.82" r="1.2" fill="#1c1c1c"/>
<circle cx="256.12" cy="302.9" r="1.2" fill="#1c1c1c"/>
<circle cx="275.53" cy="316.09" r="1.2" fill="#1c1c1c"/>
<circle cx="310.82" cy="302.09" r="1.2" fill="#1c1c1c"/>
<circle cx="304.98" cy="312.26" r="1.2" fill="#1c1c1c"/>
<circle cx="285.4" cy="303.81" r="1.2" fill="#1c1c1c"/>
<circle cx="289.79" cy="309.45" r="1.2" fill="#1c1c1c"/>
<circle cx="279.48" cy="323.41" r="1.2" fill="#1c1c1c"/>
<circle cx="280.49" cy="324.12" r="1.2" fill="#1c1c1c"/>
<circle cx="263.99" cy="299.01" r="1.2" fill="#1c1c1c"/>
<circle cx="238.42" cy="308.08" r="1.2" fill="#1c1c1c"/>
<circle cx="298.35" cy="298.88" r="1.2" fill="#1c1c1c"/>
<circle cx="275.76" cy="320.01" r="1.2" fill="#1c1c1c"/>
<circle cx="280.09" cy="325.1" r="1.2" fill="#1c1c1c"/>
<circle cx="290.67" cy="318.26" r="1.2" fill="#1c1c1c"/>
<circle cx="269.31" cy="305.36" r="1.2" fill="#1c1c1c"/>
<circle cx="236.31" cy="295.82" r="1.2" fill="#1c1c1c"/>
<circle cx="271.84" cy="321.92" r="1.2" fill="#1c1c1c"/>
<circle cx="262.7" cy="318.79" r="1.2" fill="#1c1c1c"/>
<circle cx="279.81" cy="314.38" r="1.2" fill="#1c1c1c"/>
<circle cx="272.7" cy="311.1" r="1.2" fill="#1c1c1c"/>
<circle cx="234.07" cy="298.18" r="1.2" fill="#1c1c1c"/>
<circle cx="280.96" cy="325.33" r="1.2" fill="#1c1c1c"/>
<circle cx="288.89" cy="312.42" r="1.2" fill="#1c1c1c"/>
<circle cx="279.26" cy="320.79" r="1.2" fill="#1c1c1c"/>
<circle cx="297.01" cy="311.18" r="1.2" fill="#1c1c1c"/>
<circle cx="282.34" cy="314.63" r="1.2" fill="#1c1c1c"/>
<circle cx="282.61" cy="318.86" r="1.2" fill="#1c1c1c"/>
<circle cx="281.76" cy="320.59" r="1.2" fill="#1c1c1c"/>
<circle cx="298.75" cy="305.89" r="1.2" fill="#1c1c1c"/>
<circle cx="282.6" cy="319.09" r="1.2" fill="#1c1c1c"/>
<circle cx="253.82" cy="302.65" r="1.2" fill="#1c1c1c"/>
<circle cx="275.87" cy="315.13" r="1.2" fill="#1c1c1c"/>
<circle cx="247.48" cy="312.55" r="1.2" fill="#1c1c1c"/>
<circle cx="300.73" cy="311.86" r="1.2" fill="#1c1c1c"/>
<circle cx="284.49" cy="322.24" r="1.2" fill="#1c1c1c"/>
<circle cx="279.55" cy="323.67" r="1.2" fill="#1c1c1c"/>
<circle cx="250.86" cy="287.92" r="1.2" fill="#1c1c1c"/>
<circle cx="277.17" cy="321.01" r="1.2" fill="#1c1c1c"/>
<circle cx="271.78" cy="320.1" r="1.2" fill="#1c1c1c"/>
<circle cx="314" cy="303.73" r="1.2" fill="#1c1c1c"/>
<circle cx="311.22" cy="300.13" r="1.2" fill="#1c1c1c"/>
<circle cx="238.25" cy="289.11" r="1.2" fill="#1c1c1c"/>
<circle cx="276.25" cy="314.77" r="1.2" fill="#1c1c1c"/>
<circle cx="310.53" cy="296.47" r="1.2" fill="#1c1c1c"/>
<circle cx="283.53" cy="311.73" r="1.2" fill="#1c1c1c"/>
<circle cx="267.3" cy="290.76" r="1.2" fill="#1c1c1c"/>
<circle cx="283.24" cy="320.63" r="1.2" fill="#1c1c1c"/>
<circle cx="281.74" cy="319.29" r="1.2" fill="#1c1c1c"/>
<circle cx="283.16" cy="309.19" r="1.2" fill="#1c1c1c"/>
<circle cx="300.58" cy="312.64" r="1.2" fill="#1c1c1c"/>
<circle cx="280.13" cy="321.79" r="1.2" fill="#1c1c1c"/>
<circle cx="234.24" cy="304.08" r="1.2" fill="#1c1c1c"/>
<circle cx="275.08" cy="305.23" r="1.2" fill="#1c1c1c"/>
<circle cx="280.67" cy="325.37" r="1.2" fill="#1c1c1c"/>
<circle cx="281.52" cy="317.64" r="1.2" fill="#1c1c1c"/>
<circle cx="275.82" cy="317.88" r="1.2" fill="#1c1c1c"/>
<circle cx="291.86" cy="319.98" r="1.2" fill="#1c1c1c"/>
<circle cx="280.81" cy="320.52" r="1.2" fill="#1c1c1c"/>
<circle cx="289.98" cy="319.64" r="1.2" fill="#1c1c1c"/>
<circle cx="278.93" cy="319.02" r="1.2" fill="#1c1c1c"/>
<circle cx="281.44" cy="322.42" r="1.2" fill="#1c1c1c"/>
<circle cx="287.96" cy="309.7" r="1.2" fill="#1c1c1c"/>
<circle cx="279.84" cy="323.67" r="1.2" fill="#1c1c1c"/>
<circle cx="306.49" cy="294.5" r="1.2" fill="#1c1c1c"/>
<circle cx="275.85" cy="323.5" r="1.2" fill="#1c1c1c"/>
<circle cx="236.06" cy="294.73" r="1.2" fill="#1c1c1c"/>
<circle cx="309.51" cy="310.18" r="1.2" fill="#1c1c1c"/>
<circle cx="304.01" cy="309.71" r="1.2" fill="#1c1c1c"/>
<circle cx="281.27" cy="323.65" r="1.2" fill="#1c1c1c"/>
<circle cx="275.49" cy="322.48" r="1.2" fill="#1c1c1c"/>
<circle cx="271.9" cy="315.37" r="1.2" fill="#1c1c1c"/>
<circle cx="282.86" cy="319.63" r="1.2" fill="#1c1c1c"/>
<circle cx="281.12" cy="323.68" r="1.2" fill="#1c1c1c"/>
<circle cx="299.22" cy="297.33" r="1.2" fill="#1c1c1c"/>
<circle cx="246.41" cy="286.77" r="1.2" fill="#1c1c1c"/>
<circle cx="286.84" cy="308.18" r="1.2" fill="#1c1c1c"/>
<circle cx="292.28" cy="317.79" r="1.2" fill="#1c1c1c"/>
<circle cx="266.91" cy="300.81" r="1.2" fill="#1c1c1c"/>
<circle cx="245.29" cy="288.2" r="1.2" fill="#1c1c1c"/>
<circle cx="280.8" cy="324.51" r="1.2" fill="#1c1c1c"/>
<circle cx="297.42" cy="316.45" r="1.2" fill="#1c1c1c"/>
<circle cx="313.59" cy="303.94" r="1.2" fill="#1c1c1c"/>
<circle cx="240.73" cy="287.29" r="1.2" fill="#1c1c1c"/>
<circle cx="238.26" cy="301.87" r="1.2" fill="#1c1c1c"/>
<circle cx="276.22" cy="309.94" r="1.2" fill="#1c1c1c"/>
<circle cx="279.15" cy="324.79" r="1.2" fill="#1c1c1c"/>
<circle cx="277.61" cy="322.86" r="1.2" fill="#1c1c1c"/>
<circle cx="270.33" cy="314.63" r="1.2" fill="#1c1c1c"/>
<circle cx="282.93" cy="321" r="1.2" fill="#1c1c1c"/>
<circle cx="272.18" cy="311.44" r="1.2" fill="#1c1c1c"/>
<circle cx="275.85" cy="307.33" r="1.2" fill="#1c1c1c"/>
<circle cx="279.74" cy="319.4" r="1.2" fill="#1c1c1c"/>
<circle cx="270.7" cy="275.77" r="1.2" fill="#1c1c1c"/>
<circle cx="277.59" cy="324.72" r="1.2" fill="#1c1c1c"/>
<circle cx="283.08" cy="325.19" r="1.2" fill="#1c1c1c"/>
<circle cx="260.87" cy="317.2" r="1.2" fill="#1c1c1c"/>
<circle cx="264.51" cy="311.2" r="1.2" fill="#1c1c1c"/>
<circle cx="303.62" cy="310.59" r="1.2" fill="#1c1c1c"/>
<circle cx="301.17" cy="297.07" r="1.2" fill="#1c1c1c"/>
<circle cx="281.86" cy="323.52" r="1.2" fill="#1c1c1c"/>
<circle cx="311.5" cy="304.07" r="1.2" fill="#1c1c1c"/>
<circle cx="291.36" cy="289.73" r="1.2" fill="#1c1c1c"/>
<circle cx="279.72" cy="324.06" r="1.2" fill="#1c1c1c"/>
<circle cx="277.11" cy="321.93" r="1.2" fill="#1c1c1c"/>
<circle cx="276.05" cy="315.87" r="1.2" fill="#1c1c1c"/>
<circle cx="268.54" cy="313.61" r="1.2" fill="#1c1c1c"/>
<circle cx="324.54" cy="293.96" r="1.2" fill="#1c1c1c"/>
<circle cx="282.51" cy="326.45" r="1.2" fill="#1c1c1c"/>
<circle cx="281.61" cy="320.96" r="1.2" fill="#1c1c1c"/>
<circle cx="321.68" cy="298.94" r="1.2" fill="#1c1c1c"/>
<circle cx="285.01" cy="310.69" r="1.2" fill="#1c1c1c"/>
<circle cx="285.68" cy="306.63" r="1.2" fill="#1c1c1c"/>
<circle cx="275.17" cy="306" r="1.2" fill="#1c1c1c"/>
<circle cx="279.4" cy="324.76" r="1.2" fill="#1c1c1c"/>
<circle cx="299.27" cy="300.37" r="1.2" fill="#1c1c1c"/>
<circle cx="282.57" cy="323.26" r="1.2" fill="#1c1c1c"/>
<circle cx="275.23" cy="319.57" r="1.2" fill="#1c1c1c"/>
<circle cx="295.01" cy="314.97" r="1.2" fill="#1c1c1c"/>
<circle cx="284.29" cy="315.4" r="1.2" fill="#1c1c1c"/>
<circle cx="238.66" cy="305.34" r="1.2" fill="#1c1c1c"/>
<circle cx="281.38" cy="323.79" r="1.2" fill="#1c1c1c"/>
<circle cx="296.74" cy="286.77" r="1.2" fill="#1c1c1c"/>
<circle cx="292.66" cy="317.91" r="1.2" fill="#1c1c1c"/>
<circle cx="269.57" cy="300.79" r="1.2" fill="#1c1c1c"/>
<circle cx="302.62" cy="316.72" r="1.2" fill="#1c1c1c"/>
<circle cx="279.94" cy="320.82" r="1.2" fill="#1c1c1c"/>
<circle cx="301.41" cy="309.2" r="1.2" fill="#1c1c1c"/>
<circle cx="280.77" cy="323.36" r="1.2" fill="#1c1c1c"/>
<circle cx="298.01" cy="295.75" r="1.2" fill="#1c1c1c"/>
<circle cx="287.3" cy="322.39" r="1.2" fill="#1c1c1c"/>
<circle cx="279.42" cy="324.77" r="1.2" fill="#1c1c1c"/>
<circle cx="280.96" cy="321.08" r="1.2" fill="#1c1c1c"/>
<circle cx="298.99" cy="293.33" r="1.2" fill="#1c1c1c"/>
<circle cx="277.72" cy="318.12" r="1.2" fill="#1c1c1c"/>
<circle cx="284.9" cy="320.2" r="1.2" fill="#1c1c1c"/>
<circle cx="246.28" cy="309.11" r="1.2" fill="#1c1c1c"/>
<circle cx="285.3" cy="322.35" r="1.2" fill="#1c1c1c"/>
<circle cx="278.76" cy="322.26" r="1.2" fill="#1c1c1c"/>
<circle cx="260.56" cy="312.67" r="1.2" fill="#1c1c1c"/>
<circle cx="280.13" cy="325.81" r="1.2" fill="#1c1c1c"/>
<circle cx="318.49" cy="304.83" r="1.2" fill="#1c1c1c"/>
<circle cx="294.08" cy="290.83" r="1.2" fill="#1c1c1c"/>
<circle cx="279.77" cy="322.66" r="1.2" fill="#1c1c1c"/>
<circle cx="279.63" cy="324.27" r="1.2" fill="#1c1c1c"/>
<circle cx="279.65" cy="322.94" r="1.2" fill="#1c1c1c"/>
<circle cx="291.03" cy="319.24" r="1.2" fill="#1c1c1c"/>
<circle cx="248.6" cy="312.63" r="1.2" fill="#1c1c1c"/>
<circle cx="280.07" cy="323.69" r="1.2" fill="#1c1c1c"/>
<circle cx="314.62" cy="307.22" r="1.2" fill="#1c1c1c"/>
<circle cx="282.62" cy="316.55" r="1.2" fill="#1c1c1c"/>
<circle cx="241.23" cy="309.31" r="1.2" fill="#1c1c1c"/>
<circle cx="292.82" cy="318.74" r="1.2" fill="#1c1c1c"/>
<circle cx="276.32" cy="322.41" r="1.2" fill="#1c1c1c"/>
<circle cx="289.58" cy="323.56" r="1.2" fill="#1c1c1c"/>
<circle cx="283.6" cy="317.1" r="1.2" fill="#1c1c1c"/>
<circle cx="272.79" cy="312.16" r="1.2" fill="#1c1c1c"/>
<circle cx="309.47" cy="307.6" r="1.2" fill="#1c1c1c"/>
<circle cx="289.84" cy="319.94" r="1.2" fill="#1c1c1c"/>
<circle cx="278.81" cy="324.91" r="1.2" fill="#1c1c1c"/>
<circle cx="282.16" cy="322.03" r="1.2" fill="#1c1c1c"/>
<circle cx="277.84" cy="324.01" r="1.2" fill="#1c1c1c"/>
<circle cx="237.3" cy="298.01" r="1.2" fill="#1c1c1c"/>
<circle cx="281.73" cy="323.4" r="1.2" fill="#1c1c1c"/>
<circle cx="237.17" cy="295.25" r="1.2" fill="#1c1c1c"/>
<circle cx="282.17" cy="319.08" r="1.2" fill="#1c1c1c"/>
<circle cx="277.19" cy="317.33" r="1.2" fill="#1c1c1c"/>
<circle cx="280.39" cy="322.63" r="1.2" fill="#1c1c1c"/>
<circle cx="271.79" cy="316.22" r="1.2" fill="#1c1c1c"/>
<circle cx="281.33" cy="324.64" r="1.2" fill="#1c1c1c"/>
<circle cx="235.47" cy="291.77" r="1.2" fill="#1c1c1c"/>
<circle cx="281.09" cy="323.91" r="1.2" fill="#1c1c1c"/>
<circle cx="280.64" cy="317.61" r="1.2" fill="#1c1c1c"/>
<circle cx="243.34" cy="296.06" r="1.2" fill="#1c1c1c"/>
<circle cx="282.08" cy="322.32" r="1.2" fill="#1c1c1c"/>
<circle cx="281.07" cy="321.34" r="1.2" fill="#1c1c1c"/>
<circle cx="276.9" cy="308.47" r="1.2" fill="#1c1c1c"/>
<circle cx="280.41" cy="326.28" r="1.2" fill="#1c1c1c"/>
<circle cx="285.15" cy="310.83" r="1.2" fill="#1c1c1c"/>
<circle cx="287.32" cy="293.38" r="1.2" fill="#1c1c1c"/>
<circle cx="281.5" cy="321.98" r="1.2" fill="#1c1c1c"/>
<circle cx="296.12" cy="294.26" r="1.2" fill="#1c1c1c"/>
<circle cx="276.54" cy="321.06" r="1.2" fill="#1c1c1c"/>
<circle cx="279.04" cy="313.01" r="1.2" fill="#1c1c1c"/>
<circle cx="282.53" cy="319.1" r="1.2" fill="#1c1c1c"/>
<circle cx="275.47" cy="326.24" r="1.2" fill="#1c1c1c"/>
<circle cx="281.1" cy="322.68" r="1.2" fill="#1c1c1c"/>
<circle cx="293.23" cy="318.39" r="1.2" fill="#1c1c1c"/>
<circle cx="292.33" cy="317.19" r="1.2" fill="#1c1c1c"/>
<circle cx="294.65" cy="318.37" r="1.2" fill="#1c1c1c"/>
<circle cx="281.28" cy="324.94" r="1.2" fill="#1c1c1c"/>
<circle cx="282.79" cy="318.81" r="1.2" fill="#1c1c1c"/>
<circle cx="272.93" cy="317.33" r="1.2" fill="#1c1c1c"/>
<circle cx="281.84" cy="322.03" r="1.2" fill="#1c1c1c"/>
<circle cx="248.03" cy="311.6" r="1.2" fill="#1c1c1c"/>
<circle cx="273.53" cy="322.25" r="1.2" fill="#1c1c1c"/>
<circle cx="277.98" cy="322.37" r="1.2" fill="#1c1c1c"/>
<circle cx="291.36" cy="289.89" r="1.2" fill="#1c1c1c"/>
<circle cx="279.67" cy="322.62" r="1.2" fill="#1c1c1c"/>
<circle cx="276.23" cy="318.49" r="1.2" fill="#1c1c1c"/>
<circle cx="264.4" cy="311.89" r="1.2" fill="#1c1c1c"/>
<circle cx="245.81" cy="309.04" r="1.2" fill="#1c1c1c"/>
<circle cx="285.67" cy="325.2" r="1.2" fill="#1c1c1c"/>
<circle cx="284.8" cy="313.02" r="1.2" fill="#1c1c1c"/>
<circle cx="285.11" cy="324.29" r="1.2" fill="#1c1c1c"/>
<circle cx="272.61" cy="322.43" r="1.2" fill="#1c1c1c"/>
<circle cx="293.02" cy="315.18" r="1.2" fill="#1c1c1c"/>
<circle cx="281.8" cy="308.76" r="1.2" fill="#1c1c1c"/>
<circle cx="285.42" cy="314.01" r="1.2" fill="#1c1c1c"/>
<circle cx="238.19" cy="300.71" r="1.2" fill="#1c1c1c"/>
<circle cx="274.42" cy="311.76" r="1.2" fill="#1c1c1c"/>
<circle cx="294.42" cy="317.91" r="1.2" fill="#1c1c1c"/>
<circle cx="281.77" cy="323.39" r="1.2" fill="#1c1c1c"/>
<circle cx="296.24" cy="291.7" r="1.2" fill="#1c1c1c"/>
<circle cx="243.52" cy="289.2" r="1.2" fill="#1c1c1c"/>
<circle cx="288.86" cy="310.83" r="1.2" fill="#1c1c1c"/>
<circle cx="322.29" cy="296.92" r="1.2" fill="#1c1c1c"/>
<circle cx="241.8" cy="293.43" r="1.2" fill="#1c1c1c"/>
<circle cx="286.11" cy="321.33" r="1.2" fill="#1c1c1c"/>
<circle cx="289.51" cy="294.51" r="1.2" fill="#1c1c1c"/>
<circle cx="279.61" cy="326.28" r="1.2" fill="#1c1c1c"/>
<circle cx="281.68" cy="324.42" r="1.2" fill="#1c1c1c"/>
<circle cx="278.6" cy="324.29" r="1.2" fill="#1c1c1c"/>
<circle cx="279.78" cy="324.62" r="1.2" fill="#1c1c1c"/>
<circle cx="270.34" cy="292.19" r="1.2" fill="#1c1c1c"/>
<circle cx="274.81" cy="307.31" r="1.2" fill="#1c1c1c"/>
<circle cx="298.21" cy="298.85" r="1.2" fill="#1c1c1c"/>
<circle cx="287.72" cy="321.83" r="1.2" fill="#1c1c1c"/>
<circle cx="281.37" cy="321.56" r="1.2" fill="#1c1c1c"/>
<circle cx="300.56" cy="312.55" r="1.2" fill="#1c1c1c"/>
<circle cx="311.42" cy="305.41" r="1.2" fill="#1c1c1c"/>
<circle cx="280.75" cy="326.02" r="1.2" fill="#1c1c1c"/>
<circle cx="300.83" cy="305.21" r="1.2" fill="#1c1c1c"/>
<circle cx="283.34" cy="325.61" r="1.2" fill="#1c1c1c"/>
<circle cx="268.17" cy="313.42" r="1.2" fill="#1c1c1c"/>
<circle cx="239.76" cy="302.53" r="1.2" fill="#1c1c1c"/>
<circle cx="278.83" cy="318.12" r="1.2" fill="#1c1c1c"/>
<circle cx="280.72" cy="322.11" r="1.2" fill="#1c1c1c"/>
<circle cx="279.57" cy="323.07" r="1.2" fill="#1c1c1c"/>
<circle cx="282.15" cy="323.04" r="1.2" fill="#1c1c1c"/>
<circle cx="275.09" cy="321.67" r="1.2" fill="#1c1c1c"/>
<circle cx="268.01" cy="306.08" r="1.2" fill="#1c1c1c"/>
<circle cx="278.64" cy="315.21" r="1.2" fill="#1c1c1c"/>
<circle cx="281.21" cy="320.94" r="1.2" fill="#1c1c1c"/>
<circle cx="308.6" cy="290.25" r="1.2" fill="#1c1c1c"/>
<circle cx="282.94" cy="320.32" r="1.2" fill="#1c1c1c"/>
<circle cx="285.17" cy="310.46" r="1.2" fill="#1c1c1c"/>
<circle cx="281.23" cy="324.17" r="1.2" fill="#1c1c1c"/>
<circle cx="297.37" cy="290.41" r="1.2" fill="#1c1c1c"/>
<circle cx="282.06" cy="320.11" r="1.2" fill="#1c1c1c"/>
<circle cx="283.67" cy="312.35" r="1.2" fill="#1c1c1c"/>
<circle cx="293.8" cy="317.32" r="1.2" fill="#1c1c1c"/>
<circle cx="278.75" cy="324.48" r="1.2" fill="#1c1c1c"/>
<circle cx="282.06" cy="323.64" r="1.2" fill="#1c1c1c"/>
<circle cx="258.52" cy="293.66" r="1.2" fill="#1c1c1c"/>
<circle cx="306.09" cy="305.48" r="1.2" fill="#1c1c1c"/>
<circle cx="244.17" cy="309.59" r="1.2" fill="#1c1c1c"/>
<circle cx="295.36" cy="289.95" r="1.2" fill="#1c1c1c"/>
<circle cx="278.03" cy="315.88" r="1.2" fill="#1c1c1c"/>
<circle cx="234.37" cy="300.71" r="1.2" fill="#1c1c1c"/>
<circle cx="278.07" cy="325.15" r="1.2" fill="#1c1c1c"/>
<circle cx="289.73" cy="322.06" r="1.2" fill="#1c1c1c"/>
<circle cx="282.7" cy="321.86" r="1.2" fill="#1c1c1c"/>
<circle cx="302.21" cy="311.85" r="1.2" fill="#1c1c1c"/>
<circle cx="305.65" cy="299.98" r="1.2" fill="#1c1c1c"/>
<circle cx="293.51" cy="286.89" r="1.2" fill="#1c1c1c"/>
<circle cx="280.85" cy="323.65" r="1.2" fill="#1c1c1c"/>
<circle cx="263.82" cy="318.74" r="1.2" fill="#1c1c1c"/>
<circle cx="285.79" cy="310.41" r="1.2" fill="#1c1c1c"/>
<circle cx="283.11" cy="320.77" r="1.2" fill="#1c1c1c"/>
<circle cx="288.18" cy="321.36" r="1.2" fill="#1c1c1c"/>
<circle cx="276.73" cy="323.13" r="1.2" fill="#1c1c1c"/>
<circle cx="279.58" cy="323.95" r="1.2" fill="#1c1c1c"/>
<circle cx="286.86" cy="309.32" r="1.2" fill="#1c1c1c"/>
<circle cx="281.47" cy="316.15" r="1.2" fill="#1c1c1c"/>
<circle cx="271.8" cy="302.51" r="1.2" fill="#1c1c1c"/>
<circle cx="297.84" cy="316.14" r="1.2" fill="#1c1c1c"/>
<circle cx="277.46" cy="323.58" r="1.2" fill="#1c1c1c"/>
<circle cx="282.99" cy="313.79" r="1.2" fill="#1c1c1c"/>
<circle cx="308.02" cy="308.57" r="1.2" fill="#1c1c1c"/>
<circle cx="292.02" cy="320.04" r="1.2" fill="#1c1c1c"/>
<circle cx="302.96" cy="305.1" r="1.2" fill="#1c1c1c"/>
<circle cx="280.3" cy="325.59" r="1.2" fill="#1c1c1c"/>
<circle cx="283" cy="316.64" r="1.2" fill="#1c1c1c"/>
<circle cx="298.47" cy="289.32" r="1.2" fill="#1c1c1c"/>
<circle cx="276.36" cy="318.57" r="1.2" fill="#1c1c1c"/>
<circle cx="301.72" cy="299.84" r="1.2" fill="#1c1c1c"/>
<circle cx="283.93" cy="313.07" r="1.2" fill="#1c1c1c"/>
<circle cx="284.84" cy="315.48" r="1.2" fill="#1c1c1c"/>
<circle cx="284.73" cy="309.39" r="1.2" fill="#1c1c1c"/>
<circle cx="314.7" cy="305.14" r="1.2" fill="#1c1c1c"/>
<circle cx="300.99" cy="293.5" r="1.2" fill="#1c1c1c"/>
<circle cx="292.65" cy="319.07" r="1.2" fill="#1c1c1c"/>
<circle cx="281.33" cy="324.75" r="1.2" fill="#1c1c1c"/>
<circle cx="269.36" cy="275" r="1.2" fill="#1c1c1c"/>
<circle cx="288.92" cy="303.49" r="1.2" fill="#1c1c1c"/>
<circle cx="280.01" cy="318.05" r="1.2" fill="#1c1c1c"/>
<circle cx="271.01" cy="302.22" r="1.2" fill="#1c1c1c"/>
<circle cx="321.62" cy="295.04" r="1.2" fill="#1c1c1c"/>
<circle cx="309.56" cy="301.59" r="1.2" fill="#1c1c1c"/>
<circle cx="279.83" cy="320.28" r="1.2" fill="#1c1c1c"/>
<circle cx="301.67" cy="287.24" r="1.2" fill="#1c1c1c"/>
<circle cx="306.56" cy="311.67" r="1.2" fill="#1c1c1c"/>
<circle cx="283.96" cy="320.4" r="1.2" fill="#1c1c1c"/>
<circle cx="280.13" cy="326.15" r="1.2" fill="#1c1c1c"/>
<circle cx="283.4" cy="315.85" r="1.2" fill="#1c1c1c"/>
<circle cx="276.04" cy="325.49" r="1.2" fill="#1c1c1c"/>
<circle cx="300.36" cy="309.17" r="1.2" fill="#1c1c1c"/>
<circle cx="294.91" cy="313.96" r="1.2" fill="#1c1c1c"/>
<circle cx="292.24" cy="321.04" r="1.2" fill="#1c1c1c"/>
<circle cx="281.21" cy="321.44" r="1.2" fill="#1c1c1c"/>
<circle cx="264.13" cy="296.57" r="1.2" fill="#1c1c1c"/>
<circle cx="280.25" cy="324" r="1.2" fill="#1c1c1c"/>
<circle cx="281.08" cy="325.22" r="1.2" fill="#1c1c1c"/>
<circle cx="281.66" cy="316.37" r="1.2" fill="#1c1c1c"/>
<circle cx="281.08" cy="323.52" r="1.2" fill="#1c1c1c"/>
<circle cx="266.6" cy="320.34" r="1.2" fill="#1c1c1c"/>
<circle cx="279.69" cy="325.88" r="1.2" fill="#1c1c1c"/>
<circle cx="264.75" cy="302.78" r="1.2" fill="#1c1c1c"/>
<circle cx="281.92" cy="318.6" r="1.2" fill="#1c1c1c"/>
<circle cx="311.21" cy="305.27" r="1.2" fill="#1c1c1c"/>
<circle cx="294.1" cy="291.1" r="1.2" fill="#1c1c1c"/>
<circle cx="278.11" cy="321.6" r="1.2" fill="#1c1c1c"/>
<circle cx="281.29" cy="322.82" r="1.2" fill="#1c1c1c"/>
<circle cx="285.46" cy="310.23" r="1.2" fill="#1c1c1c"/>
<circle cx="273.98" cy="316.51" r="1.2" fill="#1c1c1c"/>
<circle cx="279.32" cy="322.61" r="1.2" fill="#1c1c1c"/>
<circle cx="287.99" cy="320.7" r="1.2" fill="#1c1c1c"/>
<circle cx="280.84" cy="323.87" r="1.2" fill="#1c1c1c"/>
<circle cx="270.48" cy="319.81" r="1.2" fill="#1c1c1c"/>
<circle cx="279.05" cy="309.59" r="1.2" fill="#1c1c1c"/>
<circle cx="244.59" cy="307.35" r="1.2" fill="#1c1c1c"/>
<circle cx="301.73" cy="308.39" r="1.2" fill="#1c1c1c"/>
<circle cx="263.41" cy="316.65" r="1.2" fill="#1c1c1c"/>
<circle cx="299.42" cy="313.31" r="1.2" fill="#1c1c1c"/>
<circle cx="280.58" cy="321.23" r="1.2" fill="#1c1c1c"/>
<circle cx="235.79" cy="304.22" r="1.2" fill="#1c1c1c"/>
<circle cx="248.72" cy="287.89" r="1.2" fill="#1c1c1c"/>
<circle cx="286.66" cy="309.95" r="1.2" fill="#1c1c1c"/>
<circle cx="282.01" cy="321.24" r="1.2" fill="#1c1c1c"/>
<circle cx="280.97" cy="322.54" r="1.2" fill="#1c1c1c"/>
<circle cx="280.15" cy="322.92" r="1.2" fill="#1c1c1c"/>
<circle cx="317.92" cy="301.99" r="1.2" fill="#1c1c1c"/>
<circle cx="278.62" cy="315.14" r="1.2" fill="#1c1c1c"/>
<circle cx="281.44" cy="324.73" r="1.2" fill="#1c1c1c"/>
<circle cx="290.3" cy="319.13" r="1.2" fill="#1c1c1c"/>
<circle cx="284.77" cy="316.33" r="1.2" fill="#1c1c1c"/>
<circle cx="280.16" cy="323.19" r="1.2" fill="#1c1c1c"/>
<circle cx="279.57" cy="325.13" r="1.2" fill="#1c1c1c"/>
<circle cx="280.79" cy="325.71" r="1.2" fill="#1c1c1c"/>
<circle cx="276.66" cy="325.91" r="1.2" fill="#1c1c1c"/>
<circle cx="310.59" cy="289.64" r="1.2" fill="#1c1c1c"/>
<circle cx="276.12" cy="325.76" r="1.2" fill="#1c1c1c"/>
<circle cx="279.67" cy="323.27" r="1.2" fill="#1c1c1c"/>
<circle cx="282.24" cy="316.41" r="1.2" fill="#1c1c1c"/>
<circle cx="281.89" cy="320.77" r="1.2" fill="#1c1c1c"/>
<circle cx="278.53" cy="323.49" r="1.2" fill="#1c1c1c"/>
<circle cx="312.6" cy="300.6" r="1.2" fill="#1c1c1c"/>
<circle cx="242.59" cy="303.02" r="1.2" fill="#1c1c1c"/>
<circle cx="236.19" cy="302.86" r="1.2" fill="#1c1c1c"/>
<circle cx="293.83" cy="314.55" r="1.2" fill="#1c1c1c"/>
<circle cx="279.74" cy="322.51" r="1.2" fill="#1c1c1c"/>
<circle cx="280.44" cy="323.73" r="1.2" fill="#1c1c1c"/>
<circle cx="285.67" cy="305.82" r="1.2" fill="#1c1c1c"/>
<circle cx="310.05" cy="301.84" r="1.2" fill="#1c1c1c"/>
<circle cx="283.62" cy="312.28" r="1.2" fill="#1c1c1c"/>
<circle cx="297.59" cy="287.87" r="1.2" fill="#1c1c1c"/>
<circle cx="279.59" cy="320.47" r="1.2" fill="#1c1c1c"/>
<circle cx="293.02" cy="307.53" r="1.2" fill="#1c1c1c"/>
<circle cx="279.73" cy="324.17" r="1.2" fill="#1c1c1c"/>
<circle cx="277.14" cy="311.53" r="1.2" fill="#1c1c1c"/>
<circle cx="243.89" cy="307.28" r="1.2" fill="#1c1c1c"/>
<circle cx="297.43" cy="287.6" r="1.2" fill="#1c1c1c"/>
<circle cx="298.96" cy="304.94" r="1.2" fill="#1c1c1c"/>
<circle cx="316.74" cy="297.67" r="1.2" fill="#1c1c1c"/>
<circle cx="275.39" cy="298.91" r="1.2" fill="#1c1c1c"/>
<circle cx="279.46" cy="324.08" r="1.2" fill="#1c1c1c"/>
<circle cx="303.59" cy="299.22" r="1.2" fill="#1c1c1c"/>
<circle cx="280.49" cy="322.71" r="1.2" fill="#1c1c1c"/>
<circle cx="273.08" cy="319.12" r="1.2" fill="#1c1c1c"/>
<circle cx="272.28" cy="307.48" r="1.2" fill="#1c1c1c"/>
<circle cx="280.17" cy="326.37" r="1.2" fill="#1c1c1c"/>
<circle cx="283.93" cy="316.68" r="1.2" fill="#1c1c1c"/>
<circle cx="281.82" cy="320.42" r="1.2" fill="#1c1c1c"/>
<circle cx="274.07" cy="318.48" r="1.2" fill="#1c1c1c"/>
<circle cx="261.58" cy="298.97" r="1.2" fill="#1c1c1c"/>
<circle cx="279.83" cy="322.89" r="1.2" fill="#1c1c1c"/>
<circle cx="265.8" cy="311.92" r="1.2" fill="#1c1c1c"/>
<circle cx="276.14" cy="318.86" r="1.2" fill="#1c1c1c"/>
<circle cx="292.32" cy="297.91" r="1.2" fill="#1c1c1c"/>
<circle cx="279.37" cy="319.43" r="1.2" fill="#1c1c1c"/>
<circle cx="286.64" cy="309.82" r="1.2" fill="#1c1c1c"/>
<circle cx="279.53" cy="325.6" r="1.2" fill="#1c1c1c"/>
<circle cx="266.39" cy="299.57" r="1.2" fill="#1c1c1c"/>
<circle cx="278.39" cy="326.49" r="1.2" fill="#1c1c1c"/>
<circle cx="286.12" cy="308.16" r="1.2" fill="#1c1c1c"/>
<circle cx="279.74" cy="311.61" r="1.2" fill="#1c1c1c"/>
<circle cx="247.61" cy="312.25" r="1.2" fill="#1c1c1c"/>
<circle cx="283.83" cy="312.92" r="1.2" fill="#1c1c1c"/>
<circle cx="281.07" cy="322.25" r="1.2" fill="#1c1c1c"/>
<circle cx="295.17" cy="286.79" r="1.2" fill="#1c1c1c"/>
<circle cx="311.98" cy="291.72" r="1.2" fill="#1c1c1c"/>
<circle cx="281.19" cy="324.78" r="1.2" fill="#1c1c1c"/>
<circle cx="284.6" cy="319.41" r="1.2" fill="#1c1c1c"/>
<circle cx="246.96" cy="288.61" r="1.2" fill="#1c1c1c"/>
<circle cx="297.14" cy="315.96" r="1.2" fill="#1c1c1c"/>
<circle cx="251.68" cy="302.31" r="1.2" fill="#1c1c1c"/>
<circle cx="301.31" cy="312.63" r="1.2" fill="#1c1c1c"/>
<circle cx="281.66" cy="320.53" r="1.2" fill="#1c1c1c"/>
<circle cx="280.68" cy="321.58" r="1.2" fill="#1c1c1c"/>
<circle cx="289.13" cy="298.19" r="1.2" fill="#1c1c1c"/>
<circle cx="280" cy="320.6" r="1.2" fill="#1c1c1c"/>
<circle cx="274.23" cy="315.69" r="1.2" fill="#1c1c1c"/>
<circle cx="264.69" cy="308.07" r="1.2" fill="#1c1c1c"/>
<circle cx="301.82" cy="311.78" r="1.2" fill="#1c1c1c"/>
<circle cx="272.21" cy="321.66" r="1.2" fill="#1c1c1c"/>
<circle cx="293.91" cy="314.62" r="1.2" fill="#1c1c1c"/>
<circle cx="307.45" cy="303.05" r="1.2" fill="#1c1c1c"/>
<circle cx="280.19" cy="322.09" r="1.2" fill="#1c1c1c"/>
<circle cx="306.23" cy="302.7" r="1.2" fill="#1c1c1c"/>
<circle cx="283.13" cy="321.46" r="1.2" fill="#1c1c1c"/>
<circle cx="266.99" cy="302.53" r="1.2" fill="#1c1c1c"/>
<circle cx="289" cy="301.53" r="1.2" fill="#1c1c1c"/>
<circle cx="269.73" cy="320.96" r="1.2" fill="#1c1c1c"/>
<circle cx="277.38" cy="322.13" r="1.2" fill="#1c1c1c"/>
<circle cx="293.85" cy="295.88" r="1.2" fill="#1c1c1c"/>
<circle cx="292.72" cy="301.56" r="1.2" fill="#1c1c1c"/>
<circle cx="285.53" cy="308.1" r="1.2" fill="#1c1c1c"/>
<circle cx="243.47" cy="305.3" r="1.2" fill="#1c1c1c"/>
<circle cx="284.48" cy="314.19" r="1.2" fill="#1c1c1c"/>
<circle cx="311.51" cy="308.06" r="1.2" fill="#1c1c1c"/>
<circle cx="280.7" cy="323.08" r="1.2" fill="#1c1c1c"/>
<circle cx="280.11" cy="324.94" r="1.2" fill="#1c1c1c"/>
<circle cx="284.16" cy="316.81" r="1.2" fill="#1c1c1c"/>
<circle cx="253.21" cy="286.59" r="1.2" fill="#1c1c1c"/>
<circle cx="299.29" cy="296.92" r="1.2" fill="#1c1c1c"/>
<circle cx="307.07" cy="305.88" r="1.2" fill="#1c1c1c"/>
<circle cx="299.27" cy="311.92" r="1.2" fill="#1c1c1c"/>
<circle cx="314.22" cy="309.6" r="1.2" fill="#1c1c1c"/>
<circle cx="310.36" cy="298.48" r="1.2" fill="#1c1c1c"/>
<circle cx="281.33" cy="315.21" r="1.2" fill="#1c1c1c"/>
<circle cx="286.21" cy="311.62" r="1.2" fill="#1c1c1c"/>
<circle cx="266.27" cy="311.44" r="1.2" fill="#1c1c1c"/>
<circle cx="275.53" cy="313.56" r="1.2" fill="#1c1c1c"/>
<circle cx="281.22" cy="317.35" r="1.2" fill="#1c1c1c"/>
<circle cx="279.73" cy="320.01" r="1.2" fill="#1c1c1c"/>
<circle cx="270.05" cy="305.89" r="1.2" fill="#1c1c1c"/>
<circle cx="277.45" cy="323.03" r="1.2" fill="#1c1c1c"/>
<circle cx="281.89" cy="320.24" r="1.2" fill="#1c1c1c"/>
<circle cx="236.79" cy="299.76" r="1.2" fill="#1c1c1c"/>
<circle cx="306.93" cy="307.19" r="1.2" fill="#1c1c1c"/>
<circle cx="280.78" cy="325.58" r="1.2" fill="#1c1c1c"/>
<circle cx="280.95" cy="323.88" r="1.2" fill="#1c1c1c"/>
<circle cx="280.59" cy="324.16" r="1.2" fill="#1c1c1c"/>
<circle cx="279.45" cy="305.62" r="1.2" fill="#1c1c1c"/>
<circle cx="312.9" cy="296.47" r="1.2" fill="#1c1c1c"/>
<circle cx="313.37" cy="304.16" r="1.2" fill="#1c1c1c"/>
<circle cx="281.94" cy="323.35" r="1.2" fill="#1c1c1c"/>
<circle cx="281.17" cy="324.03" r="1.2" fill="#1c1c1c"/>
<circle cx="236.42" cy="301.51" r="1.2" fill="#1c1c1c"/>
<circle cx="273.44" cy="317.47" r="1.2" fill="#1c1c1c"/>
<circle cx="279.31" cy="325.26" r="1.2" fill="#1c1c1c"/>
<circle cx="276.19" cy="323.97" r="1.2" fill="#1c1c1c"/>
<circle cx="252.07" cy="299.3" r="1.2" fill="#1c1c1c"/>
<circle cx="300.37" cy="296.24" r="1.2" fill="#1c1c1c"/>
<circle cx="276.21" cy="310.58" r="1.2" fill="#1c1c1c"/>
<circle cx="264.84" cy="314.55" r="1.2" fill="#1c1c1c"/>
<circle cx="282.15" cy="320" r="1.2" fill="#1c1c1c"/>
<circle cx="267.48" cy="305.09" r="1.2" fill="#1c1c1c"/>
<circle cx="298.51" cy="306.09" r="1.2" fill="#1c1c1c"/>
<circle cx="278.66" cy="323.86" r="1.2" fill="#1c1c1c"/>
<circle cx="280.49" cy="326.27" r="1.2" fill="#1c1c1c"/>
<circle cx="279.62" cy="325.72" r="1.2" fill="#1c1c1c"/>
<circle cx="279.5" cy="318.9" r="1.2" fill="#1c1c1c"/>
<circle cx="275.52" cy="296.18" r="1.2" fill="#1c1c1c"/>
<circle cx="316.65" cy="310.47" r="1.2" fill="#1c1c1c"/>
<circle cx="286.64" cy="323.39" r="1.2" fill="#1c1c1c"/>
<circle cx="239.21" cy="296.47" r="1.2" fill="#1c1c1c"/>
<circle cx="282.92" cy="317.86" r="1.2" fill="#1c1c1c"/>
<circle cx="281.51" cy="324.26" r="1.2" fill="#1c1c1c"/>
<circle cx="281.68" cy="320.54" r="1.2" fill="#1c1c1c"/>
<circle cx="211.83" cy="292.4" r="1.25" fill="#1c1c1c"/>
<circle cx="231.89" cy="290.85" r="1.25" fill="#1c1c1c"/>
<circle cx="234.54" cy="291.78" r="1.25" fill="#1c1c1c"/>
<circle cx="239.46" cy="290.23" r="1.25" fill="#1c1c1c"/>
<circle cx="243.24" cy="291.78" r="1.25" fill="#1c1c1c"/>
<circle cx="317.81" cy="303.25" r="1.25" fill="#1c1c1c"/>
<circle cx="321.59" cy="307.28" r="1.25" fill="#1c1c1c"/>
<circle cx="311.37" cy="300.15" r="1.25" fill="#1c1c1c"/>
<circle cx="313.26" cy="297.05" r="1.25" fill="#1c1c1c"/>
<circle cx="306.45" cy="293.95" r="1.25" fill="#1c1c1c"/>
<circle cx="315.16" cy="312.55" r="1.25" fill="#1c1c1c"/>
<circle cx="308.72" cy="309.45" r="1.25" fill="#1c1c1c"/>
<polygon points="269.4,286.4 256.5,286.4 255.5,279 257,266 259.5,252 262,240 265,230 269.4,226" fill="#5172b5"/>
<circle cx="250.8" cy="186.9" r="1.9" fill="#5172b5"/>
<circle cx="176.3" cy="233.1" r="1.8" fill="#5172b5"/>
<circle cx="259.9" cy="193.2" r="1.6" fill="#5172b5"/>
<circle cx="259.2" cy="195.5" r="1.6" fill="#5172b5"/>
<circle cx="257.5" cy="200.2" r="1.6" fill="#5172b5"/>
<circle cx="262.7" cy="203.4" r="1.6" fill="#5172b5"/>
<circle cx="258.7" cy="209.8" r="1.6" fill="#5172b5"/>
<circle cx="265.5" cy="209.1" r="1.6" fill="#5172b5"/>
<circle cx="264.3" cy="210.9" r="1.6" fill="#5172b5"/>
<circle cx="249.6" cy="213" r="1.6" fill="#5172b5"/>
<circle cx="248" cy="218.9" r="1.6" fill="#5172b5"/>
<circle cx="263.1" cy="216.1" r="1.6" fill="#5172b5"/>
<circle cx="253.8" cy="221.9" r="1.6" fill="#5172b5"/>
<circle cx="257.3" cy="223.1" r="1.6" fill="#5172b5"/>
<circle cx="214.6" cy="250.6" r="1.6" fill="#5172b5"/>
<circle cx="217.1" cy="253.4" r="1.6" fill="#5172b5"/>
<circle cx="230.9" cy="256.5" r="1.6" fill="#5172b5"/>
<circle cx="234.9" cy="254.1" r="1.6" fill="#5172b5"/>
<circle cx="222.3" cy="269.8" r="1.6" fill="#5172b5"/>
<circle cx="223.4" cy="276.3" r="1.6" fill="#5172b5"/>
<circle cx="225.8" cy="281" r="1.6" fill="#5172b5"/>
<circle cx="217.1" cy="285" r="1.6" fill="#5172b5"/>
<circle cx="234.2" cy="266.3" r="1.6" fill="#5172b5"/>
<circle cx="237.9" cy="263.9" r="1.6" fill="#5172b5"/>
<circle cx="246.1" cy="257.2" r="1.6" fill="#5172b5"/>
<circle cx="233.7" cy="274.9" r="1.6" fill="#5172b5"/>
<circle cx="238.6" cy="276.8" r="1.6" fill="#5172b5"/>
<circle cx="237.5" cy="281.5" r="1.6" fill="#5172b5"/>
<circle cx="244.5" cy="269.8" r="1.6" fill="#5172b5"/>
<circle cx="245.6" cy="272.1" r="1.6" fill="#5172b5"/>
<circle cx="251.5" cy="252.3" r="1.6" fill="#5172b5"/>
<circle cx="251.5" cy="264" r="1.6" fill="#5172b5"/>
<circle cx="242.1" cy="259.8" r="1.6" fill="#5172b5"/>
<circle cx="247.2" cy="247.4" r="1.6" fill="#5172b5"/>
<circle cx="240.8" cy="278.9" r="1.6" fill="#5172b5"/>
<circle cx="231.6" cy="282.6" r="1.6" fill="#5172b5"/>
<circle cx="266.5" cy="200" r="1.6" fill="#5172b5"/>
<circle cx="268" cy="205" r="1.6" fill="#5172b5"/>
<circle cx="261" cy="206.5" r="1.6" fill="#5172b5"/>
<circle cx="255" cy="214" r="1.6" fill="#5172b5"/>
<circle cx="267.5" cy="221" r="1.6" fill="#5172b5"/>
<circle cx="252" cy="230" r="1.6" fill="#5172b5"/>
<circle cx="249" cy="237" r="1.6" fill="#5172b5"/>
<circle cx="254" cy="244" r="1.6" fill="#5172b5"/>
<circle cx="246" cy="251" r="1.6" fill="#5172b5"/>
<circle cx="257.12" cy="272.07" r="1.55" fill="#5172b5"/>
<circle cx="260.59" cy="281.13" r="1.55" fill="#5172b5"/>
<circle cx="259.2" cy="244.45" r="1.55" fill="#5172b5"/>
<circle cx="268.06" cy="266.99" r="1.55" fill="#5172b5"/>
<circle cx="253.2" cy="285.46" r="1.55" fill="#5172b5"/>
<circle cx="268" cy="269.82" r="1.55" fill="#5172b5"/>
<circle cx="264.8" cy="271.75" r="1.55" fill="#5172b5"/>
<circle cx="257.98" cy="272.68" r="1.55" fill="#5172b5"/>
<circle cx="264.56" cy="281.61" r="1.55" fill="#5172b5"/>
<circle cx="264.97" cy="247.96" r="1.55" fill="#5172b5"/>
<circle cx="269.26" cy="243.13" r="1.55" fill="#5172b5"/>
<circle cx="250.59" cy="272.78" r="1.55" fill="#5172b5"/>
<circle cx="263.05" cy="275.23" r="1.55" fill="#5172b5"/>
<circle cx="246.97" cy="264.81" r="1.55" fill="#5172b5"/>
<circle cx="256.97" cy="261" r="1.55" fill="#5172b5"/>
<circle cx="253.76" cy="285.79" r="1.55" fill="#5172b5"/>
<circle cx="249.17" cy="281.56" r="1.55" fill="#5172b5"/>
<circle cx="266.98" cy="267.34" r="1.55" fill="#5172b5"/>
<circle cx="255.06" cy="275.8" r="1.55" fill="#5172b5"/>
<circle cx="261.32" cy="255.11" r="1.55" fill="#5172b5"/>
<circle cx="260.35" cy="248.65" r="1.55" fill="#5172b5"/>
<circle cx="261.14" cy="225.27" r="1.55" fill="#5172b5"/>
<circle cx="261.75" cy="246.51" r="1.55" fill="#5172b5"/>
<circle cx="258.08" cy="256.04" r="1.55" fill="#5172b5"/>
<circle cx="251.78" cy="256.56" r="1.55" fill="#5172b5"/>
<circle cx="265.92" cy="263.27" r="1.55" fill="#5172b5"/>
<circle cx="260.91" cy="268.47" r="1.55" fill="#5172b5"/>
<circle cx="257.82" cy="249.26" r="1.55" fill="#5172b5"/>
<circle cx="263.87" cy="223.85" r="1.55" fill="#5172b5"/>
<circle cx="254.56" cy="244.07" r="1.55" fill="#5172b5"/>
<circle cx="259.69" cy="223.26" r="1.55" fill="#5172b5"/>
<circle cx="265.67" cy="245.65" r="1.55" fill="#5172b5"/>
<circle cx="256.58" cy="269.43" r="1.55" fill="#5172b5"/>
<circle cx="254.91" cy="260.87" r="1.55" fill="#5172b5"/>
<circle cx="263.21" cy="265.67" r="1.55" fill="#5172b5"/>
<circle cx="263.4" cy="270.22" r="1.55" fill="#5172b5"/>
<circle cx="267.19" cy="267" r="1.55" fill="#5172b5"/>
<circle cx="255.47" cy="267.59" r="1.55" fill="#5172b5"/>
<circle cx="256.75" cy="279.86" r="1.55" fill="#5172b5"/>
<circle cx="257.67" cy="268" r="1.55" fill="#5172b5"/>
<circle cx="261.9" cy="269.61" r="1.55" fill="#5172b5"/>
<circle cx="265.08" cy="281.46" r="1.55" fill="#5172b5"/>
<circle cx="257.74" cy="279.94" r="1.55" fill="#5172b5"/>
<circle cx="263.76" cy="255.73" r="1.55" fill="#5172b5"/>
<circle cx="255.12" cy="266.95" r="1.55" fill="#5172b5"/>
<circle cx="260.38" cy="285.93" r="1.55" fill="#5172b5"/>
<circle cx="263.83" cy="269.21" r="1.55" fill="#5172b5"/>
<circle cx="267.37" cy="285.31" r="1.55" fill="#5172b5"/>
<circle cx="256.58" cy="244.5" r="1.55" fill="#5172b5"/>
<circle cx="260.47" cy="235.67" r="1.55" fill="#5172b5"/>
<circle cx="264.23" cy="265.79" r="1.55" fill="#5172b5"/>
<circle cx="266.84" cy="280.87" r="1.55" fill="#5172b5"/>
<circle cx="250.69" cy="282.88" r="1.55" fill="#5172b5"/>
<circle cx="248.64" cy="271" r="1.55" fill="#5172b5"/>
<circle cx="261.62" cy="267.18" r="1.55" fill="#5172b5"/>
<circle cx="256.54" cy="258.6" r="1.55" fill="#5172b5"/>
<circle cx="260.31" cy="258.69" r="1.55" fill="#5172b5"/>
<circle cx="266.31" cy="261.49" r="1.55" fill="#5172b5"/>
<circle cx="257.67" cy="264.39" r="1.55" fill="#5172b5"/>
<circle cx="253.42" cy="268.37" r="1.55" fill="#5172b5"/>
<circle cx="255.62" cy="270.29" r="1.55" fill="#5172b5"/>
<circle cx="258.26" cy="236.51" r="1.55" fill="#5172b5"/>
<circle cx="256.97" cy="240.81" r="1.55" fill="#5172b5"/>
<circle cx="256.48" cy="263.26" r="1.55" fill="#5172b5"/>
<circle cx="256.21" cy="269.91" r="1.55" fill="#5172b5"/>
<circle cx="264.25" cy="271.83" r="1.55" fill="#5172b5"/>
<circle cx="252.97" cy="280.4" r="1.55" fill="#5172b5"/>
<circle cx="269.15" cy="217.77" r="1.55" fill="#5172b5"/>
<circle cx="265.79" cy="278.22" r="1.55" fill="#5172b5"/>
<circle cx="259.05" cy="263.81" r="1.55" fill="#5172b5"/>
<circle cx="267.07" cy="262.81" r="1.55" fill="#5172b5"/>
<circle cx="262.13" cy="236.08" r="1.55" fill="#5172b5"/>
<circle cx="262.97" cy="234.25" r="1.55" fill="#5172b5"/>
<circle cx="269.15" cy="250.27" r="1.55" fill="#5172b5"/>
<circle cx="259.66" cy="263.95" r="1.55" fill="#5172b5"/>
<circle cx="252.47" cy="280.65" r="1.55" fill="#5172b5"/>
<circle cx="267.91" cy="221.08" r="1.55" fill="#5172b5"/>
<circle cx="255.22" cy="254.91" r="1.55" fill="#5172b5"/>
<circle cx="257.67" cy="250.36" r="1.55" fill="#5172b5"/>
<circle cx="257.12" cy="250.44" r="1.55" fill="#5172b5"/>
<circle cx="252.95" cy="247.54" r="1.55" fill="#5172b5"/>
<circle cx="254.29" cy="281.63" r="1.55" fill="#5172b5"/>
<circle cx="262.65" cy="280.42" r="1.55" fill="#5172b5"/>
<circle cx="258.21" cy="242.61" r="1.55" fill="#5172b5"/>
<circle cx="267.78" cy="249.24" r="1.55" fill="#5172b5"/>
<circle cx="268.13" cy="241.98" r="1.55" fill="#5172b5"/>
<circle cx="265.23" cy="232.96" r="1.55" fill="#5172b5"/>
<circle cx="254.76" cy="242.01" r="1.55" fill="#5172b5"/>
<circle cx="265.61" cy="260.32" r="1.55" fill="#5172b5"/>
<circle cx="246.51" cy="276.25" r="1.55" fill="#5172b5"/>
<circle cx="261.76" cy="279.91" r="1.55" fill="#5172b5"/>
<circle cx="263.11" cy="273.72" r="1.55" fill="#5172b5"/>
<circle cx="255.77" cy="284.68" r="1.55" fill="#5172b5"/>
<circle cx="264.09" cy="280.48" r="1.55" fill="#5172b5"/>
<circle cx="265.77" cy="227.28" r="1.55" fill="#5172b5"/>
<circle cx="255.04" cy="257.3" r="1.55" fill="#5172b5"/>
<circle cx="258.88" cy="254.12" r="1.55" fill="#5172b5"/>
<circle cx="262.67" cy="274.13" r="1.55" fill="#5172b5"/>
<circle cx="267.78" cy="261.34" r="1.55" fill="#5172b5"/>
<circle cx="256.09" cy="255.99" r="1.55" fill="#5172b5"/>
<circle cx="268.89" cy="281.62" r="1.55" fill="#5172b5"/>
<circle cx="267.88" cy="232.23" r="1.55" fill="#5172b5"/>
<circle cx="255.68" cy="283.89" r="1.55" fill="#5172b5"/>
<circle cx="259.16" cy="240.87" r="1.55" fill="#5172b5"/>
<circle cx="251.34" cy="263.47" r="1.55" fill="#5172b5"/>
<circle cx="266.96" cy="274.8" r="1.55" fill="#5172b5"/>
<circle cx="269.05" cy="267.32" r="1.55" fill="#5172b5"/>
<circle cx="269.23" cy="267.24" r="1.55" fill="#5172b5"/>
<circle cx="253.59" cy="266.75" r="1.55" fill="#5172b5"/>
<circle cx="255.04" cy="273.98" r="1.55" fill="#5172b5"/>
<circle cx="253.21" cy="284.28" r="1.55" fill="#5172b5"/>
<circle cx="265.93" cy="228.38" r="1.55" fill="#5172b5"/>
<circle cx="259.38" cy="245.24" r="1.55" fill="#5172b5"/>
<circle cx="268.9" cy="257.14" r="1.55" fill="#5172b5"/>
<circle cx="259.49" cy="284.83" r="1.55" fill="#5172b5"/>
<circle cx="256.71" cy="239.59" r="1.55" fill="#5172b5"/>
<circle cx="260.37" cy="265.55" r="1.55" fill="#5172b5"/>
<circle cx="267.18" cy="282.2" r="1.55" fill="#5172b5"/>
<circle cx="255.73" cy="260.18" r="1.55" fill="#5172b5"/>
<circle cx="256.14" cy="271.23" r="1.55" fill="#5172b5"/>
<circle cx="250.84" cy="281.95" r="1.55" fill="#5172b5"/>
<circle cx="248.97" cy="250.42" r="1.55" fill="#5172b5"/>
<circle cx="249" cy="265.71" r="1.55" fill="#5172b5"/>
<circle cx="263.2" cy="275.59" r="1.55" fill="#5172b5"/>
<circle cx="268.91" cy="274.93" r="1.55" fill="#5172b5"/>
<circle cx="258.9" cy="274.97" r="1.55" fill="#5172b5"/>
<circle cx="263.45" cy="264.68" r="1.55" fill="#5172b5"/>
<circle cx="250.58" cy="252.44" r="1.55" fill="#5172b5"/>
<circle cx="269.35" cy="284.91" r="1.55" fill="#5172b5"/>
<circle cx="255.99" cy="264.16" r="1.55" fill="#5172b5"/>
<circle cx="255.25" cy="285.68" r="1.55" fill="#5172b5"/>
<circle cx="263.04" cy="223.9" r="1.55" fill="#5172b5"/>
<circle cx="265.85" cy="271.85" r="1.55" fill="#5172b5"/>
<circle cx="263.64" cy="278.97" r="1.55" fill="#5172b5"/>
<circle cx="256.05" cy="269.68" r="1.55" fill="#5172b5"/>
<circle cx="251.33" cy="237.91" r="1.55" fill="#5172b5"/>
<circle cx="259.43" cy="234.65" r="1.55" fill="#5172b5"/>
<circle cx="268.11" cy="237.61" r="1.55" fill="#5172b5"/>
<circle cx="260.37" cy="244.34" r="1.55" fill="#5172b5"/>
<circle cx="250.26" cy="267.35" r="1.55" fill="#5172b5"/>
<circle cx="265.82" cy="267.58" r="1.55" fill="#5172b5"/>
<circle cx="255.11" cy="279.95" r="1.55" fill="#5172b5"/>
<circle cx="252.31" cy="269.79" r="1.55" fill="#5172b5"/>
<circle cx="261.68" cy="274.48" r="1.55" fill="#5172b5"/>
<circle cx="268.55" cy="266.11" r="1.55" fill="#5172b5"/>
<circle cx="259.46" cy="268.98" r="1.55" fill="#5172b5"/>
<circle cx="263.68" cy="274.99" r="1.55" fill="#5172b5"/>
<circle cx="256.41" cy="258.32" r="1.55" fill="#5172b5"/>
<circle cx="268.01" cy="267.66" r="1.55" fill="#5172b5"/>
<circle cx="258.99" cy="260.57" r="1.55" fill="#5172b5"/>
<circle cx="266.08" cy="259.12" r="1.55" fill="#5172b5"/>
<circle cx="263.34" cy="258.03" r="1.55" fill="#5172b5"/>
<circle cx="266.65" cy="277.76" r="1.55" fill="#5172b5"/>
<circle cx="259.78" cy="255.47" r="1.55" fill="#5172b5"/>
<circle cx="262" cy="277.24" r="1.55" fill="#5172b5"/>
<circle cx="265.58" cy="264.09" r="1.55" fill="#5172b5"/>
<circle cx="268.91" cy="279.72" r="1.55" fill="#5172b5"/>
<circle cx="261.13" cy="272.17" r="1.55" fill="#5172b5"/>
<circle cx="265.77" cy="276.77" r="1.55" fill="#5172b5"/>
<circle cx="255.34" cy="283.09" r="1.55" fill="#5172b5"/>
<circle cx="265.64" cy="275.13" r="1.55" fill="#5172b5"/>
<circle cx="249.19" cy="235.92" r="1.55" fill="#5172b5"/>
<circle cx="268.29" cy="232.12" r="1.55" fill="#5172b5"/>
<circle cx="264.15" cy="242.02" r="1.55" fill="#5172b5"/>
<circle cx="267.73" cy="247.41" r="1.55" fill="#5172b5"/>
<circle cx="269.27" cy="263.01" r="1.55" fill="#5172b5"/>
<circle cx="254.21" cy="282.26" r="1.55" fill="#5172b5"/>
<circle cx="253.25" cy="282.09" r="1.55" fill="#5172b5"/>
<circle cx="259.8" cy="281.47" r="1.55" fill="#5172b5"/>
<circle cx="268.14" cy="275.52" r="1.55" fill="#5172b5"/>
<circle cx="255.19" cy="255.11" r="1.55" fill="#5172b5"/>
<circle cx="260.42" cy="262.51" r="1.55" fill="#5172b5"/>
<circle cx="268.54" cy="259.15" r="1.55" fill="#5172b5"/>
<circle cx="259.71" cy="275.12" r="1.55" fill="#5172b5"/>
<circle cx="263.74" cy="252.03" r="1.55" fill="#5172b5"/>
<circle cx="255.71" cy="275.53" r="1.55" fill="#5172b5"/>
<circle cx="260.13" cy="261.33" r="1.55" fill="#5172b5"/>
<circle cx="253.57" cy="262.3" r="1.55" fill="#5172b5"/>
<circle cx="259" cy="249.47" r="1.55" fill="#5172b5"/>
<circle cx="264.66" cy="223.91" r="1.55" fill="#5172b5"/>
<circle cx="267.05" cy="283.12" r="1.55" fill="#5172b5"/>
<circle cx="262.67" cy="234.67" r="1.55" fill="#5172b5"/>
<circle cx="268.25" cy="266.08" r="1.55" fill="#5172b5"/>
<circle cx="253.71" cy="273.02" r="1.55" fill="#5172b5"/>
<circle cx="261.47" cy="233.06" r="1.55" fill="#5172b5"/>
<circle cx="253.04" cy="272.2" r="1.55" fill="#5172b5"/>
<circle cx="252.28" cy="274.76" r="1.55" fill="#5172b5"/>
<circle cx="265.59" cy="278.54" r="1.55" fill="#5172b5"/>
<circle cx="262.19" cy="231.84" r="1.55" fill="#5172b5"/>
<circle cx="267.35" cy="204.45" r="1.55" fill="#5172b5"/>
<circle cx="266.33" cy="281.77" r="1.55" fill="#5172b5"/>
<circle cx="253.32" cy="271.66" r="1.55" fill="#5172b5"/>
<circle cx="255.79" cy="265.45" r="1.55" fill="#5172b5"/>
<circle cx="253.38" cy="268.87" r="1.55" fill="#5172b5"/>
<circle cx="256.46" cy="242.49" r="1.55" fill="#5172b5"/>
<circle cx="263.3" cy="265.39" r="1.55" fill="#5172b5"/>
<circle cx="262.83" cy="221.62" r="1.55" fill="#5172b5"/>
<circle cx="261.37" cy="237.08" r="1.55" fill="#5172b5"/>
<circle cx="259.68" cy="238.15" r="1.55" fill="#5172b5"/>
<circle cx="259.62" cy="242.45" r="1.55" fill="#5172b5"/>
<circle cx="358.6" cy="230" r="1.65" fill="#9b2346"/>
<circle cx="326.9" cy="233.8" r="1.65" fill="#9b2346"/>
<circle cx="315" cy="247" r="1.65" fill="#9b2346"/>
<circle cx="328.1" cy="252" r="1.65" fill="#9b2346"/>
<circle cx="342.5" cy="269" r="1.65" fill="#9b2346"/>
<circle cx="302.3" cy="267.3" r="1.65" fill="#9b2346"/>
<circle cx="299.8" cy="271.5" r="1.65" fill="#9b2346"/>
<circle cx="337.5" cy="275.7" r="1.65" fill="#9b2346"/>
<circle cx="326.4" cy="274" r="1.65" fill="#9b2346"/>
<circle cx="296.4" cy="277.4" r="1.65" fill="#9b2346"/>
<circle cx="291.3" cy="280.4" r="1.65" fill="#9b2346"/>
<circle cx="292.2" cy="285.5" r="1.65" fill="#9b2346"/>
<circle cx="303.6" cy="283.4" r="1.65" fill="#9b2346"/>
<circle cx="306.1" cy="285.5" r="1.65" fill="#9b2346"/>
<circle cx="312.9" cy="279.1" r="1.65" fill="#9b2346"/>
<circle cx="316.7" cy="284.6" r="1.65" fill="#9b2346"/>
<circle cx="321.4" cy="282.5" r="1.65" fill="#9b2346"/>
<circle cx="329" cy="279.1" r="1.65" fill="#9b2346"/>
<line x1="269.25" y1="180.6" x2="269.25" y2="333" stroke="#6e6e6e" stroke-width="0.6" stroke-dasharray="2.2,1.6"/>
<line x1="289.15" y1="180.6" x2="289.15" y2="333" stroke="#6e6e6e" stroke-width="0.6" stroke-dasharray="2.2,1.6"/>
<line x1="167.4" y1="286.17" x2="367.6" y2="286.17" stroke="#6e6e6e" stroke-width="0.6" stroke-dasharray="2.2,1.6"/>
<rect x="167.4" y="180.6" width="200.2" height="152.4" fill="none" stroke="#333" stroke-width="0.8"/>
<line x1="165.6" y1="326.5" x2="167.4" y2="326.5" stroke="#333" stroke-width="0.6"/>
<text x="164.4" y="328.9" font-size="6.7" text-anchor="end" fill="#4d4d4d">0</text>
<line x1="165.6" y1="295.5" x2="167.4" y2="295.5" stroke="#333" stroke-width="0.6"/>
<text x="164.4" y="297.9" font-size="6.7" text-anchor="end" fill="#4d4d4d">1</text>
<line x1="165.6" y1="264.5" x2="167.4" y2="264.5" stroke="#333" stroke-width="0.6"/>
<text x="164.4" y="266.9" font-size="6.7" text-anchor="end" fill="#4d4d4d">2</text>
<line x1="165.6" y1="233.5" x2="167.4" y2="233.5" stroke="#333" stroke-width="0.6"/>
<text x="164.4" y="235.9" font-size="6.7" text-anchor="end" fill="#4d4d4d">3</text>
<line x1="165.6" y1="202.5" x2="167.4" y2="202.5" stroke="#333" stroke-width="0.6"/>
<text x="164.4" y="204.9" font-size="6.7" text-anchor="end" fill="#4d4d4d">4</text>
<line x1="203.5" y1="333" x2="203.5" y2="334.8" stroke="#333" stroke-width="0.6"/>
<text x="203.5" y="342.8" font-size="6.8" text-anchor="middle" fill="#4d4d4d">−2</text>
<line x1="241.35" y1="333" x2="241.35" y2="334.8" stroke="#333" stroke-width="0.6"/>
<text x="241.35" y="342.8" font-size="6.8" text-anchor="middle" fill="#4d4d4d">−1</text>
<line x1="279.2" y1="333" x2="279.2" y2="334.8" stroke="#333" stroke-width="0.6"/>
<text x="279.2" y="342.8" font-size="6.8" text-anchor="middle" fill="#4d4d4d">0</text>
<line x1="317.05" y1="333" x2="317.05" y2="334.8" stroke="#333" stroke-width="0.6"/>
<text x="317.05" y="342.8" font-size="6.8" text-anchor="middle" fill="#4d4d4d">1</text>
<line x1="354.9" y1="333" x2="354.9" y2="334.8" stroke="#333" stroke-width="0.6"/>
<text x="354.9" y="342.8" font-size="6.8" text-anchor="middle" fill="#4d4d4d">2</text>
<text x="155.8" y="257.1" font-size="10.8" font-weight="bold" text-anchor="middle" textLength="84.6" lengthAdjust="spacingAndGlyphs" transform="rotate(-90 155.8 257.1)">−log10(P.Value)</text>
<text x="267.5" y="354.1" font-size="10.8" font-weight="bold" text-anchor="middle" textLength="31.3" lengthAdjust="spacingAndGlyphs">logFC</text>
<text x="378.8" y="241.3" font-size="6.9" fill="#1a1a1a">Group</text>
<circle cx="384" cy="251.2" r="1.45" fill="#5172b5"/>
<text x="393" y="253.2" font-size="5.9" fill="#1a1a1a">Down</text>
<circle cx="384" cy="261.9" r="1.45" fill="#1c1c1c"/>
<text x="393" y="263.9" font-size="5.9" fill="#1a1a1a">No sign</text>
<circle cx="384" cy="272.9" r="1.45" fill="#9b2346"/>
<text x="393" y="274.9" font-size="5.9" fill="#1a1a1a">Up</text>
<text x="410.6" y="170" font-size="15.6" fill="#000">F</text>
<rect x="470.2" y="188" width="9.54" height="1.72" fill="#439e88" shape-rendering="crispEdges"/>
<rect x="479.69" y="188" width="9.54" height="1.72" fill="#3c818f" shape-rendering="crispEdges"/>
<rect x="489.18" y="188" width="9.54" height="1.72" fill="#439b89" shape-rendering="crispEdges"/>
<rect x="498.66" y="188" width="9.54" height="1.72" fill="#3e8a8d" shape-rendering="crispEdges"/>
<rect x="508.15" y="188" width="9.54" height="1.72" fill="#3e8a8d" shape-rendering="crispEdges"/>
<rect x="517.64" y="188" width="9.54" height="1.72" fill="#50a885" shape-rendering="crispEdges"/>
<rect x="527.12" y="188" width="9.54" height="1.72" fill="#3f8f8c" shape-rendering="crispEdges"/>
<rect x="536.61" y="188" width="9.54" height="1.72" fill="#4da686" shape-rendering="crispEdges"/>
<rect x="546.1" y="188" width="9.54" height="1.72" fill="#61b280" shape-rendering="crispEdges"/>
<rect x="555.59" y="188" width="9.54" height="1.72" fill="#6cb97d" shape-rendering="crispEdges"/>
<rect x="565.08" y="188" width="9.54" height="1.72" fill="#3c7890" shape-rendering="crispEdges"/>
<rect x="574.56" y="188" width="9.54" height="1.72" fill="#61b280" shape-rendering="crispEdges"/>
<rect x="584.05" y="188" width="9.54" height="1.72" fill="#40918b" shape-rendering="crispEdges"/>
<rect x="593.54" y="188" width="9.54" height="1.72" fill="#449e88" shape-rendering="crispEdges"/>
<rect x="603.02" y="188" width="9.54" height="1.72" fill="#439d89" shape-rendering="crispEdges"/>
<rect x="612.51" y="188" width="9.54" height="1.72" fill="#3e8c8c" shape-rendering="crispEdges"/>
<rect x="470.2" y="189.67" width="9.54" height="1.72" fill="#3e6291" shape-rendering="crispEdges"/>
<rect x="479.69" y="189.67" width="9.54" height="1.72" fill="#3c7790" shape-rendering="crispEdges"/>
<rect x="489.18" y="189.67" width="9.54" height="1.72" fill="#3c7890" shape-rendering="crispEdges"/>
<rect x="498.66" y="189.67" width="9.54" height="1.72" fill="#3c7690" shape-rendering="crispEdges"/>
<rect x="508.15" y="189.67" width="9.54" height="1.72" fill="#3b7b8f" shape-rendering="crispEdges"/>
<rect x="517.64" y="189.67" width="9.54" height="1.72" fill="#3e6691" shape-rendering="crispEdges"/>
<rect x="527.12" y="189.67" width="9.54" height="1.72" fill="#3c798f" shape-rendering="crispEdges"/>
<rect x="536.61" y="189.67" width="9.54" height="1.72" fill="#5fb181" shape-rendering="crispEdges"/>
<rect x="546.1" y="189.67" width="9.54" height="1.72" fill="#6eba7d" shape-rendering="crispEdges"/>
<rect x="555.59" y="189.67" width="9.54" height="1.72" fill="#44a088" shape-rendering="crispEdges"/>
<rect x="565.08" y="189.67" width="9.54" height="1.72" fill="#3f5c92" shape-rendering="crispEdges"/>
<rect x="574.56" y="189.67" width="9.54" height="1.72" fill="#3d868e" shape-rendering="crispEdges"/>
<rect x="584.05" y="189.67" width="9.54" height="1.72" fill="#48a387" shape-rendering="crispEdges"/>
<rect x="593.54" y="189.67" width="9.54" height="1.72" fill="#3b7e8f" shape-rendering="crispEdges"/>
<rect x="603.02" y="189.67" width="9.54" height="1.72" fill="#3f8f8c" shape-rendering="crispEdges"/>
<rect x="612.51" y="189.67" width="9.54" height="1.72" fill="#7ec379" shape-rendering="crispEdges"/>
<rect x="470.2" y="191.35" width="9.54" height="1.72" fill="#3b7d8f" shape-rendering="crispEdges"/>
<rect x="479.69" y="191.35" width="9.54" height="1.72" fill="#3c7690" shape-rendering="crispEdges"/>
<rect x="489.18" y="191.35" width="9.54" height="1.72" fill="#3d6c91" shape-rendering="crispEdges"/>
<rect x="498.66" y="191.35" width="9.54" height="1.72" fill="#3c7890" shape-rendering="crispEdges"/>
<rect x="508.15" y="191.35" width="9.54" height="1.72" fill="#3c798f" shape-rendering="crispEdges"/>
<rect x="517.64" y="191.35" width="9.54" height="1.72" fill="#3c818f" shape-rendering="crispEdges"/>
<rect x="527.12" y="191.35" width="9.54" height="1.72" fill="#3d6e90" shape-rendering="crispEdges"/>
<rect x="536.61" y="191.35" width="9.54" height="1.72" fill="#51a885" shape-rendering="crispEdges"/>
<rect x="546.1" y="191.35" width="9.54" height="1.72" fill="#4fa785" shape-rendering="crispEdges"/>
<rect x="555.59" y="191.35" width="9.54" height="1.72" fill="#45a088" shape-rendering="crispEdges"/>
<rect x="565.08" y="191.35" width="9.54" height="1.72" fill="#3f5a92" shape-rendering="crispEdges"/>
<rect x="574.56" y="191.35" width="9.54" height="1.72" fill="#46a187" shape-rendering="crispEdges"/>
<rect x="584.05" y="191.35" width="9.54" height="1.72" fill="#86c577" shape-rendering="crispEdges"/>
<rect x="593.54" y="191.35" width="9.54" height="1.72" fill="#3e898d" shape-rendering="crispEdges"/>
<rect x="603.02" y="191.35" width="9.54" height="1.72" fill="#429989" shape-rendering="crispEdges"/>
<rect x="612.51" y="191.35" width="9.54" height="1.72" fill="#439e88" shape-rendering="crispEdges"/>
<rect x="470.2" y="193.02" width="9.54" height="1.72" fill="#3f8d8c" shape-rendering="crispEdges"/>
<rect x="479.69" y="193.02" width="9.54" height="1.72" fill="#414e8b" shape-rendering="crispEdges"/>
<rect x="489.18" y="193.02" width="9.54" height="1.72" fill="#3d6e90" shape-rendering="crispEdges"/>
<rect x="498.66" y="193.02" width="9.54" height="1.72" fill="#3d6b91" shape-rendering="crispEdges"/>
<rect x="508.15" y="193.02" width="9.54" height="1.72" fill="#3e8a8d" shape-rendering="crispEdges"/>
<rect x="517.64" y="193.02" width="9.54" height="1.72" fill="#40538e" shape-rendering="crispEdges"/>
<rect x="527.12" y="193.02" width="9.54" height="1.72" fill="#3c828e" shape-rendering="crispEdges"/>
<rect x="536.61" y="193.02" width="9.54" height="1.72" fill="#4da586" shape-rendering="crispEdges"/>
<rect x="546.1" y="193.02" width="9.54" height="1.72" fill="#5aae82" shape-rendering="crispEdges"/>
<rect x="555.59" y="193.02" width="9.54" height="1.72" fill="#4ca586" shape-rendering="crispEdges"/>
<rect x="565.08" y="193.02" width="9.54" height="1.72" fill="#3d6a91" shape-rendering="crispEdges"/>
<rect x="574.56" y="193.02" width="9.54" height="1.72" fill="#429a89" shape-rendering="crispEdges"/>
<rect x="584.05" y="193.02" width="9.54" height="1.72" fill="#5baf82" shape-rendering="crispEdges"/>
<rect x="593.54" y="193.02" width="9.54" height="1.72" fill="#6ab87e" shape-rendering="crispEdges"/>
<rect x="603.02" y="193.02" width="9.54" height="1.72" fill="#a5d06f" shape-rendering="crispEdges"/>
<rect x="612.51" y="193.02" width="9.54" height="1.72" fill="#3b818f" shape-rendering="crispEdges"/>
<rect x="470.2" y="194.7" width="9.54" height="1.72" fill="#55aa84" shape-rendering="crispEdges"/>
<rect x="479.69" y="194.7" width="9.54" height="1.72" fill="#42978a" shape-rendering="crispEdges"/>
<rect x="489.18" y="194.7" width="9.54" height="1.72" fill="#47a287" shape-rendering="crispEdges"/>
<rect x="498.66" y="194.7" width="9.54" height="1.72" fill="#42988a" shape-rendering="crispEdges"/>
<rect x="508.15" y="194.7" width="9.54" height="1.72" fill="#63b480" shape-rendering="crispEdges"/>
<rect x="517.64" y="194.7" width="9.54" height="1.72" fill="#45a188" shape-rendering="crispEdges"/>
<rect x="527.12" y="194.7" width="9.54" height="1.72" fill="#439b89" shape-rendering="crispEdges"/>
<rect x="536.61" y="194.7" width="9.54" height="1.72" fill="#439c89" shape-rendering="crispEdges"/>
<rect x="546.1" y="194.7" width="9.54" height="1.72" fill="#439c89" shape-rendering="crispEdges"/>
<rect x="555.59" y="194.7" width="9.54" height="1.72" fill="#439d89" shape-rendering="crispEdges"/>
<rect x="565.08" y="194.7" width="9.54" height="1.72" fill="#3c798f" shape-rendering="crispEdges"/>
<rect x="574.56" y="194.7" width="9.54" height="1.72" fill="#87c676" shape-rendering="crispEdges"/>
<rect x="584.05" y="194.7" width="9.54" height="1.72" fill="#3c7690" shape-rendering="crispEdges"/>
<rect x="593.54" y="194.7" width="9.54" height="1.72" fill="#414b89" shape-rendering="crispEdges"/>
<rect x="603.02" y="194.7" width="9.54" height="1.72" fill="#439d89" shape-rendering="crispEdges"/>
<rect x="612.51" y="194.7" width="9.54" height="1.72" fill="#439d89" shape-rendering="crispEdges"/>
<rect x="470.2" y="196.37" width="9.54" height="1.72" fill="#3f8e8c" shape-rendering="crispEdges"/>
<rect x="479.69" y="196.37" width="9.54" height="1.72" fill="#3f8f8c" shape-rendering="crispEdges"/>
<rect x="489.18" y="196.37" width="9.54" height="1.72" fill="#41958a" shape-rendering="crispEdges"/>
<rect x="498.66" y="196.37" width="9.54" height="1.72" fill="#439d89" shape-rendering="crispEdges"/>
<rect x="508.15" y="196.37" width="9.54" height="1.72" fill="#3e8b8d" shape-rendering="crispEdges"/>
<rect x="517.64" y="196.37" width="9.54" height="1.72" fill="#3e8b8c" shape-rendering="crispEdges"/>
<rect x="527.12" y="196.37" width="9.54" height="1.72" fill="#54aa84" shape-rendering="crispEdges"/>
<rect x="536.61" y="196.37" width="9.54" height="1.72" fill="#58ad83" shape-rendering="crispEdges"/>
<rect x="546.1" y="196.37" width="9.54" height="1.72" fill="#41958a" shape-rendering="crispEdges"/>
<rect x="555.59" y="196.37" width="9.54" height="1.72" fill="#8dc875" shape-rendering="crispEdges"/>
<rect x="565.08" y="196.37" width="9.54" height="1.72" fill="#3e8b8d" shape-rendering="crispEdges"/>
<rect x="574.56" y="196.37" width="9.54" height="1.72" fill="#429989" shape-rendering="crispEdges"/>
<rect x="584.05" y="196.37" width="9.54" height="1.72" fill="#3e8c8c" shape-rendering="crispEdges"/>
<rect x="593.54" y="196.37" width="9.54" height="1.72" fill="#56ab83" shape-rendering="crispEdges"/>
<rect x="603.02" y="196.37" width="9.54" height="1.72" fill="#40938b" shape-rendering="crispEdges"/>
<rect x="612.51" y="196.37" width="9.54" height="1.72" fill="#40908b" shape-rendering="crispEdges"/>
<rect x="470.2" y="198.04" width="9.54" height="1.72" fill="#3c7690" shape-rendering="crispEdges"/>
<rect x="479.69" y="198.04" width="9.54" height="1.72" fill="#3f8c8c" shape-rendering="crispEdges"/>
<rect x="489.18" y="198.04" width="9.54" height="1.72" fill="#3c7690" shape-rendering="crispEdges"/>
<rect x="498.66" y="198.04" width="9.54" height="1.72" fill="#3e6891" shape-rendering="crispEdges"/>
<rect x="508.15" y="198.04" width="9.54" height="1.72" fill="#3d868e" shape-rendering="crispEdges"/>
<rect x="517.64" y="198.04" width="9.54" height="1.72" fill="#3b7e8f" shape-rendering="crispEdges"/>
<rect x="527.12" y="198.04" width="9.54" height="1.72" fill="#3e888d" shape-rendering="crispEdges"/>
<rect x="536.61" y="198.04" width="9.54" height="1.72" fill="#75be7b" shape-rendering="crispEdges"/>
<rect x="546.1" y="198.04" width="9.54" height="1.72" fill="#54aa84" shape-rendering="crispEdges"/>
<rect x="555.59" y="198.04" width="9.54" height="1.72" fill="#54aa84" shape-rendering="crispEdges"/>
<rect x="565.08" y="198.04" width="9.54" height="1.72" fill="#3e6691" shape-rendering="crispEdges"/>
<rect x="574.56" y="198.04" width="9.54" height="1.72" fill="#41968a" shape-rendering="crispEdges"/>
<rect x="584.05" y="198.04" width="9.54" height="1.72" fill="#6fbb7d" shape-rendering="crispEdges"/>
<rect x="593.54" y="198.04" width="9.54" height="1.72" fill="#8ac776" shape-rendering="crispEdges"/>
<rect x="603.02" y="198.04" width="9.54" height="1.72" fill="#5eb081" shape-rendering="crispEdges"/>
<rect x="612.51" y="198.04" width="9.54" height="1.72" fill="#51a885" shape-rendering="crispEdges"/>
<rect x="470.2" y="199.72" width="9.54" height="1.72" fill="#64b480" shape-rendering="crispEdges"/>
<rect x="479.69" y="199.72" width="9.54" height="1.72" fill="#68b77e" shape-rendering="crispEdges"/>
<rect x="489.18" y="199.72" width="9.54" height="1.72" fill="#6eba7d" shape-rendering="crispEdges"/>
<rect x="498.66" y="199.72" width="9.54" height="1.72" fill="#60b181" shape-rendering="crispEdges"/>
<rect x="508.15" y="199.72" width="9.54" height="1.72" fill="#6bb87e" shape-rendering="crispEdges"/>
<rect x="517.64" y="199.72" width="9.54" height="1.72" fill="#4ea685" shape-rendering="crispEdges"/>
<rect x="527.12" y="199.72" width="9.54" height="1.72" fill="#74be7b" shape-rendering="crispEdges"/>
<rect x="536.61" y="199.72" width="9.54" height="1.72" fill="#3d6b91" shape-rendering="crispEdges"/>
<rect x="546.1" y="199.72" width="9.54" height="1.72" fill="#3c7490" shape-rendering="crispEdges"/>
<rect x="555.59" y="199.72" width="9.54" height="1.72" fill="#3f5b92" shape-rendering="crispEdges"/>
<rect x="565.08" y="199.72" width="9.54" height="1.72" fill="#6fbb7d" shape-rendering="crispEdges"/>
<rect x="574.56" y="199.72" width="9.54" height="1.72" fill="#71bc7c" shape-rendering="crispEdges"/>
<rect x="584.05" y="199.72" width="9.54" height="1.72" fill="#40908b" shape-rendering="crispEdges"/>
<rect x="593.54" y="199.72" width="9.54" height="1.72" fill="#40928b" shape-rendering="crispEdges"/>
<rect x="603.02" y="199.72" width="9.54" height="1.72" fill="#40928b" shape-rendering="crispEdges"/>
<rect x="612.51" y="199.72" width="9.54" height="1.72" fill="#5bae82" shape-rendering="crispEdges"/>
<rect x="470.2" y="201.39" width="9.54" height="1.72" fill="#7ec379" shape-rendering="crispEdges"/>
<rect x="479.69" y="201.39" width="9.54" height="1.72" fill="#67b67f" shape-rendering="crispEdges"/>
<rect x="489.18" y="201.39" width="9.54" height="1.72" fill="#81c478" shape-rendering="crispEdges"/>
<rect x="498.66" y="201.39" width="9.54" height="1.72" fill="#66b57f" shape-rendering="crispEdges"/>
<rect x="508.15" y="201.39" width="9.54" height="1.72" fill="#63b380" shape-rendering="crispEdges"/>
<rect x="517.64" y="201.39" width="9.54" height="1.72" fill="#44a088" shape-rendering="crispEdges"/>
<rect x="527.12" y="201.39" width="9.54" height="1.72" fill="#51a884" shape-rendering="crispEdges"/>
<rect x="536.61" y="201.39" width="9.54" height="1.72" fill="#3d6991" shape-rendering="crispEdges"/>
<rect x="546.1" y="201.39" width="9.54" height="1.72" fill="#41968a" shape-rendering="crispEdges"/>
<rect x="555.59" y="201.39" width="9.54" height="1.72" fill="#3f8c8c" shape-rendering="crispEdges"/>
<rect x="565.08" y="201.39" width="9.54" height="1.72" fill="#4ea685" shape-rendering="crispEdges"/>
<rect x="574.56" y="201.39" width="9.54" height="1.72" fill="#60b181" shape-rendering="crispEdges"/>
<rect x="584.05" y="201.39" width="9.54" height="1.72" fill="#6ab87e" shape-rendering="crispEdges"/>
<rect x="593.54" y="201.39" width="9.54" height="1.72" fill="#439c89" shape-rendering="crispEdges"/>
<rect x="603.02" y="201.39" width="9.54" height="1.72" fill="#42988a" shape-rendering="crispEdges"/>
<rect x="612.51" y="201.39" width="9.54" height="1.72" fill="#439c89" shape-rendering="crispEdges"/>
<rect x="470.2" y="203.07" width="9.54" height="1.72" fill="#99cc72" shape-rendering="crispEdges"/>
<rect x="479.69" y="203.07" width="9.54" height="1.72" fill="#7ac17a" shape-rendering="crispEdges"/>
<rect x="489.18" y="203.07" width="9.54" height="1.72" fill="#98cc72" shape-rendering="crispEdges"/>
<rect x="498.66" y="203.07" width="9.54" height="1.72" fill="#7cc279" shape-rendering="crispEdges"/>
<rect x="508.15" y="203.07" width="9.54" height="1.72" fill="#78c07a" shape-rendering="crispEdges"/>
<rect x="517.64" y="203.07" width="9.54" height="1.72" fill="#a9d26e" shape-rendering="crispEdges"/>
<rect x="527.12" y="203.07" width="9.54" height="1.72" fill="#97cb73" shape-rendering="crispEdges"/>
<rect x="536.61" y="203.07" width="9.54" height="1.72" fill="#3f5891" shape-rendering="crispEdges"/>
<rect x="546.1" y="203.07" width="9.54" height="1.72" fill="#3d858e" shape-rendering="crispEdges"/>
<rect x="555.59" y="203.07" width="9.54" height="1.72" fill="#3e888d" shape-rendering="crispEdges"/>
<rect x="565.08" y="203.07" width="9.54" height="1.72" fill="#70bb7c" shape-rendering="crispEdges"/>
<rect x="574.56" y="203.07" width="9.54" height="1.72" fill="#449f88" shape-rendering="crispEdges"/>
<rect x="584.05" y="203.07" width="9.54" height="1.72" fill="#52a984" shape-rendering="crispEdges"/>
<rect x="593.54" y="203.07" width="9.54" height="1.72" fill="#3d6f90" shape-rendering="crispEdges"/>
<rect x="603.02" y="203.07" width="9.54" height="1.72" fill="#44a088" shape-rendering="crispEdges"/>
<rect x="612.51" y="203.07" width="9.54" height="1.72" fill="#55ab83" shape-rendering="crispEdges"/>
<rect x="470.2" y="204.74" width="9.54" height="1.72" fill="#66b57f" shape-rendering="crispEdges"/>
<rect x="479.69" y="204.74" width="9.54" height="1.72" fill="#93ca74" shape-rendering="crispEdges"/>
<rect x="489.18" y="204.74" width="9.54" height="1.72" fill="#72bd7c" shape-rendering="crispEdges"/>
<rect x="498.66" y="204.74" width="9.54" height="1.72" fill="#90c974" shape-rendering="crispEdges"/>
<rect x="508.15" y="204.74" width="9.54" height="1.72" fill="#94ca73" shape-rendering="crispEdges"/>
<rect x="517.64" y="204.74" width="9.54" height="1.72" fill="#87c677" shape-rendering="crispEdges"/>
<rect x="527.12" y="204.74" width="9.54" height="1.72" fill="#6ab87e" shape-rendering="crispEdges"/>
<rect x="536.61" y="204.74" width="9.54" height="1.72" fill="#3f5c92" shape-rendering="crispEdges"/>
<rect x="546.1" y="204.74" width="9.54" height="1.72" fill="#40938b" shape-rendering="crispEdges"/>
<rect x="555.59" y="204.74" width="9.54" height="1.72" fill="#3c7190" shape-rendering="crispEdges"/>
<rect x="565.08" y="204.74" width="9.54" height="1.72" fill="#8fc974" shape-rendering="crispEdges"/>
<rect x="574.56" y="204.74" width="9.54" height="1.72" fill="#58ad83" shape-rendering="crispEdges"/>
<rect x="584.05" y="204.74" width="9.54" height="1.72" fill="#41968a" shape-rendering="crispEdges"/>
<rect x="593.54" y="204.74" width="9.54" height="1.72" fill="#8ec875" shape-rendering="crispEdges"/>
<rect x="603.02" y="204.74" width="9.54" height="1.72" fill="#439c89" shape-rendering="crispEdges"/>
<rect x="612.51" y="204.74" width="9.54" height="1.72" fill="#87c677" shape-rendering="crispEdges"/>
<rect x="470.2" y="206.41" width="9.54" height="1.72" fill="#3f8c8c" shape-rendering="crispEdges"/>
<rect x="479.69" y="206.41" width="9.54" height="1.72" fill="#6eba7d" shape-rendering="crispEdges"/>
<rect x="489.18" y="206.41" width="9.54" height="1.72" fill="#64b47f" shape-rendering="crispEdges"/>
<rect x="498.66" y="206.41" width="9.54" height="1.72" fill="#4aa486" shape-rendering="crispEdges"/>
<rect x="508.15" y="206.41" width="9.54" height="1.72" fill="#52a984" shape-rendering="crispEdges"/>
<rect x="517.64" y="206.41" width="9.54" height="1.72" fill="#3f8e8c" shape-rendering="crispEdges"/>
<rect x="527.12" y="206.41" width="9.54" height="1.72" fill="#439c89" shape-rendering="crispEdges"/>
<rect x="536.61" y="206.41" width="9.54" height="1.72" fill="#3e6291" shape-rendering="crispEdges"/>
<rect x="546.1" y="206.41" width="9.54" height="1.72" fill="#3f8d8c" shape-rendering="crispEdges"/>
<rect x="555.59" y="206.41" width="9.54" height="1.72" fill="#439c89" shape-rendering="crispEdges"/>
<rect x="565.08" y="206.41" width="9.54" height="1.72" fill="#50a785" shape-rendering="crispEdges"/>
<rect x="574.56" y="206.41" width="9.54" height="1.72" fill="#67b67f" shape-rendering="crispEdges"/>
<rect x="584.05" y="206.41" width="9.54" height="1.72" fill="#42998a" shape-rendering="crispEdges"/>
<rect x="593.54" y="206.41" width="9.54" height="1.72" fill="#439b89" shape-rendering="crispEdges"/>
<rect x="603.02" y="206.41" width="9.54" height="1.72" fill="#52a884" shape-rendering="crispEdges"/>
<rect x="612.51" y="206.41" width="9.54" height="1.72" fill="#4aa486" shape-rendering="crispEdges"/>
<rect x="470.2" y="208.09" width="9.54" height="1.72" fill="#7fc379" shape-rendering="crispEdges"/>
<rect x="479.69" y="208.09" width="9.54" height="1.72" fill="#c6da66" shape-rendering="crispEdges"/>
<rect x="489.18" y="208.09" width="9.54" height="1.72" fill="#7ec379" shape-rendering="crispEdges"/>
<rect x="498.66" y="208.09" width="9.54" height="1.72" fill="#add36d" shape-rendering="crispEdges"/>
<rect x="508.15" y="208.09" width="9.54" height="1.72" fill="#82c478" shape-rendering="crispEdges"/>
<rect x="517.64" y="208.09" width="9.54" height="1.72" fill="#bdd869" shape-rendering="crispEdges"/>
<rect x="527.12" y="208.09" width="9.54" height="1.72" fill="#8fc974" shape-rendering="crispEdges"/>
<rect x="536.61" y="208.09" width="9.54" height="1.72" fill="#3d6991" shape-rendering="crispEdges"/>
<rect x="546.1" y="208.09" width="9.54" height="1.72" fill="#3f8e8c" shape-rendering="crispEdges"/>
<rect x="555.59" y="208.09" width="9.54" height="1.72" fill="#3c7290" shape-rendering="crispEdges"/>
<rect x="565.08" y="208.09" width="9.54" height="1.72" fill="#6db97d" shape-rendering="crispEdges"/>
<rect x="574.56" y="208.09" width="9.54" height="1.72" fill="#3c7690" shape-rendering="crispEdges"/>
<rect x="584.05" y="208.09" width="9.54" height="1.72" fill="#62b380" shape-rendering="crispEdges"/>
<rect x="593.54" y="208.09" width="9.54" height="1.72" fill="#3d868d" shape-rendering="crispEdges"/>
<rect x="603.02" y="208.09" width="9.54" height="1.72" fill="#3e8a8d" shape-rendering="crispEdges"/>
<rect x="612.51" y="208.09" width="9.54" height="1.72" fill="#429a89" shape-rendering="crispEdges"/>
<rect x="470.2" y="209.76" width="9.54" height="1.72" fill="#79c17a" shape-rendering="crispEdges"/>
<rect x="479.69" y="209.76" width="9.54" height="1.72" fill="#b2d56c" shape-rendering="crispEdges"/>
<rect x="489.18" y="209.76" width="9.54" height="1.72" fill="#9ece71" shape-rendering="crispEdges"/>
<rect x="498.66" y="209.76" width="9.54" height="1.72" fill="#b0d46c" shape-rendering="crispEdges"/>
<rect x="508.15" y="209.76" width="9.54" height="1.72" fill="#78c07a" shape-rendering="crispEdges"/>
<rect x="517.64" y="209.76" width="9.54" height="1.72" fill="#98cc72" shape-rendering="crispEdges"/>
<rect x="527.12" y="209.76" width="9.54" height="1.72" fill="#b1d46c" shape-rendering="crispEdges"/>
<rect x="536.61" y="209.76" width="9.54" height="1.72" fill="#3c7890" shape-rendering="crispEdges"/>
<rect x="546.1" y="209.76" width="9.54" height="1.72" fill="#42988a" shape-rendering="crispEdges"/>
<rect x="555.59" y="209.76" width="9.54" height="1.72" fill="#3d6a91" shape-rendering="crispEdges"/>
<rect x="565.08" y="209.76" width="9.54" height="1.72" fill="#a1cf70" shape-rendering="crispEdges"/>
<rect x="574.56" y="209.76" width="9.54" height="1.72" fill="#429a89" shape-rendering="crispEdges"/>
<rect x="584.05" y="209.76" width="9.54" height="1.72" fill="#3c7790" shape-rendering="crispEdges"/>
<rect x="593.54" y="209.76" width="9.54" height="1.72" fill="#3c7290" shape-rendering="crispEdges"/>
<rect x="603.02" y="209.76" width="9.54" height="1.72" fill="#4aa486" shape-rendering="crispEdges"/>
<rect x="612.51" y="209.76" width="9.54" height="1.72" fill="#439c89" shape-rendering="crispEdges"/>
<rect x="470.2" y="211.44" width="9.54" height="1.72" fill="#95cb73" shape-rendering="crispEdges"/>
<rect x="479.69" y="211.44" width="9.54" height="1.72" fill="#66b57f" shape-rendering="crispEdges"/>
<rect x="489.18" y="211.44" width="9.54" height="1.72" fill="#87c676" shape-rendering="crispEdges"/>
<rect x="498.66" y="211.44" width="9.54" height="1.72" fill="#74be7b" shape-rendering="crispEdges"/>
<rect x="508.15" y="211.44" width="9.54" height="1.72" fill="#75bf7b" shape-rendering="crispEdges"/>
<rect x="517.64" y="211.44" width="9.54" height="1.72" fill="#80c378" shape-rendering="crispEdges"/>
<rect x="527.12" y="211.44" width="9.54" height="1.72" fill="#72bd7c" shape-rendering="crispEdges"/>
<rect x="536.61" y="211.44" width="9.54" height="1.72" fill="#3d6e90" shape-rendering="crispEdges"/>
<rect x="546.1" y="211.44" width="9.54" height="1.72" fill="#3f8c8c" shape-rendering="crispEdges"/>
<rect x="555.59" y="211.44" width="9.54" height="1.72" fill="#4ba586" shape-rendering="crispEdges"/>
<rect x="565.08" y="211.44" width="9.54" height="1.72" fill="#68b67e" shape-rendering="crispEdges"/>
<rect x="574.56" y="211.44" width="9.54" height="1.72" fill="#6dba7d" shape-rendering="crispEdges"/>
<rect x="584.05" y="211.44" width="9.54" height="1.72" fill="#57ac83" shape-rendering="crispEdges"/>
<rect x="593.54" y="211.44" width="9.54" height="1.72" fill="#41948b" shape-rendering="crispEdges"/>
<rect x="603.02" y="211.44" width="9.54" height="1.72" fill="#5bae82" shape-rendering="crispEdges"/>
<rect x="612.51" y="211.44" width="9.54" height="1.72" fill="#40908b" shape-rendering="crispEdges"/>
<rect x="470.2" y="213.11" width="9.54" height="1.72" fill="#7ec379" shape-rendering="crispEdges"/>
<rect x="479.69" y="213.11" width="9.54" height="1.72" fill="#8dc875" shape-rendering="crispEdges"/>
<rect x="489.18" y="213.11" width="9.54" height="1.72" fill="#9fce71" shape-rendering="crispEdges"/>
<rect x="498.66" y="213.11" width="9.54" height="1.72" fill="#a5d06f" shape-rendering="crispEdges"/>
<rect x="508.15" y="213.11" width="9.54" height="1.72" fill="#aad26e" shape-rendering="crispEdges"/>
<rect x="517.64" y="213.11" width="9.54" height="1.72" fill="#a8d16e" shape-rendering="crispEdges"/>
<rect x="527.12" y="213.11" width="9.54" height="1.72" fill="#84c577" shape-rendering="crispEdges"/>
<rect x="536.61" y="213.11" width="9.54" height="1.72" fill="#40528d" shape-rendering="crispEdges"/>
<rect x="546.1" y="213.11" width="9.54" height="1.72" fill="#3e8b8c" shape-rendering="crispEdges"/>
<rect x="555.59" y="213.11" width="9.54" height="1.72" fill="#3c848e" shape-rendering="crispEdges"/>
<rect x="565.08" y="213.11" width="9.54" height="1.72" fill="#6dba7d" shape-rendering="crispEdges"/>
<rect x="574.56" y="213.11" width="9.54" height="1.72" fill="#62b380" shape-rendering="crispEdges"/>
<rect x="584.05" y="213.11" width="9.54" height="1.72" fill="#439d89" shape-rendering="crispEdges"/>
<rect x="593.54" y="213.11" width="9.54" height="1.72" fill="#3c818f" shape-rendering="crispEdges"/>
<rect x="603.02" y="213.11" width="9.54" height="1.72" fill="#45a188" shape-rendering="crispEdges"/>
<rect x="612.51" y="213.11" width="9.54" height="1.72" fill="#3b808f" shape-rendering="crispEdges"/>
<rect x="470.2" y="214.78" width="9.54" height="1.72" fill="#71bc7c" shape-rendering="crispEdges"/>
<rect x="479.69" y="214.78" width="9.54" height="1.72" fill="#4da686" shape-rendering="crispEdges"/>
<rect x="489.18" y="214.78" width="9.54" height="1.72" fill="#6cb97d" shape-rendering="crispEdges"/>
<rect x="498.66" y="214.78" width="9.54" height="1.72" fill="#49a387" shape-rendering="crispEdges"/>
<rect x="508.15" y="214.78" width="9.54" height="1.72" fill="#78c17a" shape-rendering="crispEdges"/>
<rect x="517.64" y="214.78" width="9.54" height="1.72" fill="#56ab83" shape-rendering="crispEdges"/>
<rect x="527.12" y="214.78" width="9.54" height="1.72" fill="#65b47f" shape-rendering="crispEdges"/>
<rect x="536.61" y="214.78" width="9.54" height="1.72" fill="#40548e" shape-rendering="crispEdges"/>
<rect x="546.1" y="214.78" width="9.54" height="1.72" fill="#3d868e" shape-rendering="crispEdges"/>
<rect x="555.59" y="214.78" width="9.54" height="1.72" fill="#42988a" shape-rendering="crispEdges"/>
<rect x="565.08" y="214.78" width="9.54" height="1.72" fill="#71bc7c" shape-rendering="crispEdges"/>
<rect x="574.56" y="214.78" width="9.54" height="1.72" fill="#3d858e" shape-rendering="crispEdges"/>
<rect x="584.05" y="214.78" width="9.54" height="1.72" fill="#68b67f" shape-rendering="crispEdges"/>
<rect x="593.54" y="214.78" width="9.54" height="1.72" fill="#61b280" shape-rendering="crispEdges"/>
<rect x="603.02" y="214.78" width="9.54" height="1.72" fill="#42998a" shape-rendering="crispEdges"/>
<rect x="612.51" y="214.78" width="9.54" height="1.72" fill="#78c07a" shape-rendering="crispEdges"/>
<rect x="470.2" y="216.46" width="9.54" height="1.72" fill="#64b480" shape-rendering="crispEdges"/>
<rect x="479.69" y="216.46" width="9.54" height="1.72" fill="#84c577" shape-rendering="crispEdges"/>
<rect x="489.18" y="216.46" width="9.54" height="1.72" fill="#88c676" shape-rendering="crispEdges"/>
<rect x="498.66" y="216.46" width="9.54" height="1.72" fill="#7fc379" shape-rendering="crispEdges"/>
<rect x="508.15" y="216.46" width="9.54" height="1.72" fill="#4ea685" shape-rendering="crispEdges"/>
<rect x="517.64" y="216.46" width="9.54" height="1.72" fill="#429a89" shape-rendering="crispEdges"/>
<rect x="527.12" y="216.46" width="9.54" height="1.72" fill="#66b57f" shape-rendering="crispEdges"/>
<rect x="536.61" y="216.46" width="9.54" height="1.72" fill="#405690" shape-rendering="crispEdges"/>
<rect x="546.1" y="216.46" width="9.54" height="1.72" fill="#3e8a8d" shape-rendering="crispEdges"/>
<rect x="555.59" y="216.46" width="9.54" height="1.72" fill="#3c7290" shape-rendering="crispEdges"/>
<rect x="565.08" y="216.46" width="9.54" height="1.72" fill="#80c378" shape-rendering="crispEdges"/>
<rect x="574.56" y="216.46" width="9.54" height="1.72" fill="#6dba7d" shape-rendering="crispEdges"/>
<rect x="584.05" y="216.46" width="9.54" height="1.72" fill="#5caf82" shape-rendering="crispEdges"/>
<rect x="593.54" y="216.46" width="9.54" height="1.72" fill="#44a088" shape-rendering="crispEdges"/>
<rect x="603.02" y="216.46" width="9.54" height="1.72" fill="#48a387" shape-rendering="crispEdges"/>
<rect x="612.51" y="216.46" width="9.54" height="1.72" fill="#449f88" shape-rendering="crispEdges"/>
<rect x="470.2" y="218.13" width="9.54" height="1.72" fill="#88c676" shape-rendering="crispEdges"/>
<rect x="479.69" y="218.13" width="9.54" height="1.72" fill="#94ca73" shape-rendering="crispEdges"/>
<rect x="489.18" y="218.13" width="9.54" height="1.72" fill="#79c17a" shape-rendering="crispEdges"/>
<rect x="498.66" y="218.13" width="9.54" height="1.72" fill="#afd46d" shape-rendering="crispEdges"/>
<rect x="508.15" y="218.13" width="9.54" height="1.72" fill="#89c676" shape-rendering="crispEdges"/>
<rect x="517.64" y="218.13" width="9.54" height="1.72" fill="#a4d06f" shape-rendering="crispEdges"/>
<rect x="527.12" y="218.13" width="9.54" height="1.72" fill="#9acc72" shape-rendering="crispEdges"/>
<rect x="536.61" y="218.13" width="9.54" height="1.72" fill="#3f5891" shape-rendering="crispEdges"/>
<rect x="546.1" y="218.13" width="9.54" height="1.72" fill="#3e6791" shape-rendering="crispEdges"/>
<rect x="555.59" y="218.13" width="9.54" height="1.72" fill="#42978a" shape-rendering="crispEdges"/>
<rect x="565.08" y="218.13" width="9.54" height="1.72" fill="#70bb7d" shape-rendering="crispEdges"/>
<rect x="574.56" y="218.13" width="9.54" height="1.72" fill="#4ca586" shape-rendering="crispEdges"/>
<rect x="584.05" y="218.13" width="9.54" height="1.72" fill="#42978a" shape-rendering="crispEdges"/>
<rect x="593.54" y="218.13" width="9.54" height="1.72" fill="#439c89" shape-rendering="crispEdges"/>
<rect x="603.02" y="218.13" width="9.54" height="1.72" fill="#3c818e" shape-rendering="crispEdges"/>
<rect x="612.51" y="218.13" width="9.54" height="1.72" fill="#439c89" shape-rendering="crispEdges"/>
<rect x="470.2" y="219.81" width="9.54" height="1.72" fill="#70bb7c" shape-rendering="crispEdges"/>
<rect x="479.69" y="219.81" width="9.54" height="1.72" fill="#44a088" shape-rendering="crispEdges"/>
<rect x="489.18" y="219.81" width="9.54" height="1.72" fill="#88c676" shape-rendering="crispEdges"/>
<rect x="498.66" y="219.81" width="9.54" height="1.72" fill="#75be7b" shape-rendering="crispEdges"/>
<rect x="508.15" y="219.81" width="9.54" height="1.72" fill="#4ca586" shape-rendering="crispEdges"/>
<rect x="517.64" y="219.81" width="9.54" height="1.72" fill="#5db081" shape-rendering="crispEdges"/>
<rect x="527.12" y="219.81" width="9.54" height="1.72" fill="#69b77e" shape-rendering="crispEdges"/>
<rect x="536.61" y="219.81" width="9.54" height="1.72" fill="#3c7690" shape-rendering="crispEdges"/>
<rect x="546.1" y="219.81" width="9.54" height="1.72" fill="#3e898d" shape-rendering="crispEdges"/>
<rect x="555.59" y="219.81" width="9.54" height="1.72" fill="#439d89" shape-rendering="crispEdges"/>
<rect x="565.08" y="219.81" width="9.54" height="1.72" fill="#6cb97e" shape-rendering="crispEdges"/>
<rect x="574.56" y="219.81" width="9.54" height="1.72" fill="#41938b" shape-rendering="crispEdges"/>
<rect x="584.05" y="219.81" width="9.54" height="1.72" fill="#40928b" shape-rendering="crispEdges"/>
<rect x="593.54" y="219.81" width="9.54" height="1.72" fill="#59ad82" shape-rendering="crispEdges"/>
<rect x="603.02" y="219.81" width="9.54" height="1.72" fill="#40928b" shape-rendering="crispEdges"/>
<rect x="612.51" y="219.81" width="9.54" height="1.72" fill="#62b380" shape-rendering="crispEdges"/>
<rect x="470.2" y="221.48" width="9.54" height="1.72" fill="#9fce71" shape-rendering="crispEdges"/>
<rect x="479.69" y="221.48" width="9.54" height="1.72" fill="#b0d46c" shape-rendering="crispEdges"/>
<rect x="489.18" y="221.48" width="9.54" height="1.72" fill="#8ec875" shape-rendering="crispEdges"/>
<rect x="498.66" y="221.48" width="9.54" height="1.72" fill="#8cc875" shape-rendering="crispEdges"/>
<rect x="508.15" y="221.48" width="9.54" height="1.72" fill="#81c478" shape-rendering="crispEdges"/>
<rect x="517.64" y="221.48" width="9.54" height="1.72" fill="#7cc279" shape-rendering="crispEdges"/>
<rect x="527.12" y="221.48" width="9.54" height="1.72" fill="#63b380" shape-rendering="crispEdges"/>
<rect x="536.61" y="221.48" width="9.54" height="1.72" fill="#3f5a92" shape-rendering="crispEdges"/>
<rect x="546.1" y="221.48" width="9.54" height="1.72" fill="#3d6f90" shape-rendering="crispEdges"/>
<rect x="555.59" y="221.48" width="9.54" height="1.72" fill="#3e6591" shape-rendering="crispEdges"/>
<rect x="565.08" y="221.48" width="9.54" height="1.72" fill="#8fc875" shape-rendering="crispEdges"/>
<rect x="574.56" y="221.48" width="9.54" height="1.72" fill="#53a984" shape-rendering="crispEdges"/>
<rect x="584.05" y="221.48" width="9.54" height="1.72" fill="#40928b" shape-rendering="crispEdges"/>
<rect x="593.54" y="221.48" width="9.54" height="1.72" fill="#64b480" shape-rendering="crispEdges"/>
<rect x="603.02" y="221.48" width="9.54" height="1.72" fill="#58ac83" shape-rendering="crispEdges"/>
<rect x="612.51" y="221.48" width="9.54" height="1.72" fill="#5eb081" shape-rendering="crispEdges"/>
<rect x="470.2" y="223.15" width="9.54" height="1.72" fill="#4ea685" shape-rendering="crispEdges"/>
<rect x="479.69" y="223.15" width="9.54" height="1.72" fill="#80c378" shape-rendering="crispEdges"/>
<rect x="489.18" y="223.15" width="9.54" height="1.72" fill="#77c07a" shape-rendering="crispEdges"/>
<rect x="498.66" y="223.15" width="9.54" height="1.72" fill="#7bc27a" shape-rendering="crispEdges"/>
<rect x="508.15" y="223.15" width="9.54" height="1.72" fill="#77c07b" shape-rendering="crispEdges"/>
<rect x="517.64" y="223.15" width="9.54" height="1.72" fill="#8ac776" shape-rendering="crispEdges"/>
<rect x="527.12" y="223.15" width="9.54" height="1.72" fill="#60b181" shape-rendering="crispEdges"/>
<rect x="536.61" y="223.15" width="9.54" height="1.72" fill="#3c7790" shape-rendering="crispEdges"/>
<rect x="546.1" y="223.15" width="9.54" height="1.72" fill="#3b7b8f" shape-rendering="crispEdges"/>
<rect x="555.59" y="223.15" width="9.54" height="1.72" fill="#3f5d92" shape-rendering="crispEdges"/>
<rect x="565.08" y="223.15" width="9.54" height="1.72" fill="#5caf82" shape-rendering="crispEdges"/>
<rect x="574.56" y="223.15" width="9.54" height="1.72" fill="#82c478" shape-rendering="crispEdges"/>
<rect x="584.05" y="223.15" width="9.54" height="1.72" fill="#3b7d8f" shape-rendering="crispEdges"/>
<rect x="593.54" y="223.15" width="9.54" height="1.72" fill="#64b480" shape-rendering="crispEdges"/>
<rect x="603.02" y="223.15" width="9.54" height="1.72" fill="#40918b" shape-rendering="crispEdges"/>
<rect x="612.51" y="223.15" width="9.54" height="1.72" fill="#439b89" shape-rendering="crispEdges"/>
<rect x="470.2" y="224.83" width="9.54" height="1.72" fill="#7fc378" shape-rendering="crispEdges"/>
<rect x="479.69" y="224.83" width="9.54" height="1.72" fill="#6ab87e" shape-rendering="crispEdges"/>
<rect x="489.18" y="224.83" width="9.54" height="1.72" fill="#81c478" shape-rendering="crispEdges"/>
<rect x="498.66" y="224.83" width="9.54" height="1.72" fill="#82c478" shape-rendering="crispEdges"/>
<rect x="508.15" y="224.83" width="9.54" height="1.72" fill="#8fc974" shape-rendering="crispEdges"/>
<rect x="517.64" y="224.83" width="9.54" height="1.72" fill="#66b57f" shape-rendering="crispEdges"/>
<rect x="527.12" y="224.83" width="9.54" height="1.72" fill="#98cc72" shape-rendering="crispEdges"/>
<rect x="536.61" y="224.83" width="9.54" height="1.72" fill="#3d878d" shape-rendering="crispEdges"/>
<rect x="546.1" y="224.83" width="9.54" height="1.72" fill="#5caf82" shape-rendering="crispEdges"/>
<rect x="555.59" y="224.83" width="9.54" height="1.72" fill="#3d6c91" shape-rendering="crispEdges"/>
<rect x="565.08" y="224.83" width="9.54" height="1.72" fill="#7ac17a" shape-rendering="crispEdges"/>
<rect x="574.56" y="224.83" width="9.54" height="1.72" fill="#3b808f" shape-rendering="crispEdges"/>
<rect x="584.05" y="224.83" width="9.54" height="1.72" fill="#4ea685" shape-rendering="crispEdges"/>
<rect x="593.54" y="224.83" width="9.54" height="1.72" fill="#4fa785" shape-rendering="crispEdges"/>
<rect x="603.02" y="224.83" width="9.54" height="1.72" fill="#3c848e" shape-rendering="crispEdges"/>
<rect x="612.51" y="224.83" width="9.54" height="1.72" fill="#3b808f" shape-rendering="crispEdges"/>
<rect x="470.2" y="226.5" width="9.54" height="1.72" fill="#8dc875" shape-rendering="crispEdges"/>
<rect x="479.69" y="226.5" width="9.54" height="1.72" fill="#71bc7c" shape-rendering="crispEdges"/>
<rect x="489.18" y="226.5" width="9.54" height="1.72" fill="#79c17a" shape-rendering="crispEdges"/>
<rect x="498.66" y="226.5" width="9.54" height="1.72" fill="#44a088" shape-rendering="crispEdges"/>
<rect x="508.15" y="226.5" width="9.54" height="1.72" fill="#6dba7d" shape-rendering="crispEdges"/>
<rect x="517.64" y="226.5" width="9.54" height="1.72" fill="#7ec379" shape-rendering="crispEdges"/>
<rect x="527.12" y="226.5" width="9.54" height="1.72" fill="#78c07a" shape-rendering="crispEdges"/>
<rect x="536.61" y="226.5" width="9.54" height="1.72" fill="#3c828e" shape-rendering="crispEdges"/>
<rect x="546.1" y="226.5" width="9.54" height="1.72" fill="#3c7290" shape-rendering="crispEdges"/>
<rect x="555.59" y="226.5" width="9.54" height="1.72" fill="#3f5a92" shape-rendering="crispEdges"/>
<rect x="565.08" y="226.5" width="9.54" height="1.72" fill="#87c677" shape-rendering="crispEdges"/>
<rect x="574.56" y="226.5" width="9.54" height="1.72" fill="#42988a" shape-rendering="crispEdges"/>
<rect x="584.05" y="226.5" width="9.54" height="1.72" fill="#4aa486" shape-rendering="crispEdges"/>
<rect x="593.54" y="226.5" width="9.54" height="1.72" fill="#53aa84" shape-rendering="crispEdges"/>
<rect x="603.02" y="226.5" width="9.54" height="1.72" fill="#52a984" shape-rendering="crispEdges"/>
<rect x="612.51" y="226.5" width="9.54" height="1.72" fill="#70bc7c" shape-rendering="crispEdges"/>
<rect x="470.2" y="228.18" width="9.54" height="1.72" fill="#6fbb7d" shape-rendering="crispEdges"/>
<rect x="479.69" y="228.18" width="9.54" height="1.72" fill="#9ccd71" shape-rendering="crispEdges"/>
<rect x="489.18" y="228.18" width="9.54" height="1.72" fill="#c9db65" shape-rendering="crispEdges"/>
<rect x="498.66" y="228.18" width="9.54" height="1.72" fill="#8ac776" shape-rendering="crispEdges"/>
<rect x="508.15" y="228.18" width="9.54" height="1.72" fill="#b0d46c" shape-rendering="crispEdges"/>
<rect x="517.64" y="228.18" width="9.54" height="1.72" fill="#93ca74" shape-rendering="crispEdges"/>
<rect x="527.12" y="228.18" width="9.54" height="1.72" fill="#83c478" shape-rendering="crispEdges"/>
<rect x="536.61" y="228.18" width="9.54" height="1.72" fill="#3b7c8f" shape-rendering="crispEdges"/>
<rect x="546.1" y="228.18" width="9.54" height="1.72" fill="#40928b" shape-rendering="crispEdges"/>
<rect x="555.59" y="228.18" width="9.54" height="1.72" fill="#3c798f" shape-rendering="crispEdges"/>
<rect x="565.08" y="228.18" width="9.54" height="1.72" fill="#b1d46c" shape-rendering="crispEdges"/>
<rect x="574.56" y="228.18" width="9.54" height="1.72" fill="#3d858e" shape-rendering="crispEdges"/>
<rect x="584.05" y="228.18" width="9.54" height="1.72" fill="#3e898d" shape-rendering="crispEdges"/>
<rect x="593.54" y="228.18" width="9.54" height="1.72" fill="#51a885" shape-rendering="crispEdges"/>
<rect x="603.02" y="228.18" width="9.54" height="1.72" fill="#42978a" shape-rendering="crispEdges"/>
<rect x="612.51" y="228.18" width="9.54" height="1.72" fill="#3d858e" shape-rendering="crispEdges"/>
<rect x="470.2" y="229.85" width="9.54" height="1.72" fill="#8cc775" shape-rendering="crispEdges"/>
<rect x="479.69" y="229.85" width="9.54" height="1.72" fill="#aad26e" shape-rendering="crispEdges"/>
<rect x="489.18" y="229.85" width="9.54" height="1.72" fill="#a0ce70" shape-rendering="crispEdges"/>
<rect x="498.66" y="229.85" width="9.54" height="1.72" fill="#79c17a" shape-rendering="crispEdges"/>
<rect x="508.15" y="229.85" width="9.54" height="1.72" fill="#77c07b" shape-rendering="crispEdges"/>
<rect x="517.64" y="229.85" width="9.54" height="1.72" fill="#7cc279" shape-rendering="crispEdges"/>
<rect x="527.12" y="229.85" width="9.54" height="1.72" fill="#75be7b" shape-rendering="crispEdges"/>
<rect x="536.61" y="229.85" width="9.54" height="1.72" fill="#3b7f8f" shape-rendering="crispEdges"/>
<rect x="546.1" y="229.85" width="9.54" height="1.72" fill="#449f88" shape-rendering="crispEdges"/>
<rect x="555.59" y="229.85" width="9.54" height="1.72" fill="#42988a" shape-rendering="crispEdges"/>
<rect x="565.08" y="229.85" width="9.54" height="1.72" fill="#8ac776" shape-rendering="crispEdges"/>
<rect x="574.56" y="229.85" width="9.54" height="1.72" fill="#439e88" shape-rendering="crispEdges"/>
<rect x="584.05" y="229.85" width="9.54" height="1.72" fill="#5db081" shape-rendering="crispEdges"/>
<rect x="593.54" y="229.85" width="9.54" height="1.72" fill="#40918b" shape-rendering="crispEdges"/>
<rect x="603.02" y="229.85" width="9.54" height="1.72" fill="#44a088" shape-rendering="crispEdges"/>
<rect x="612.51" y="229.85" width="9.54" height="1.72" fill="#3b7d8f" shape-rendering="crispEdges"/>
<rect x="470.2" y="231.52" width="9.54" height="1.72" fill="#94ca73" shape-rendering="crispEdges"/>
<rect x="479.69" y="231.52" width="9.54" height="1.72" fill="#61b280" shape-rendering="crispEdges"/>
<rect x="489.18" y="231.52" width="9.54" height="1.72" fill="#53a984" shape-rendering="crispEdges"/>
<rect x="498.66" y="231.52" width="9.54" height="1.72" fill="#6bb87e" shape-rendering="crispEdges"/>
<rect x="508.15" y="231.52" width="9.54" height="1.72" fill="#9acc72" shape-rendering="crispEdges"/>
<rect x="517.64" y="231.52" width="9.54" height="1.72" fill="#93ca73" shape-rendering="crispEdges"/>
<rect x="527.12" y="231.52" width="9.54" height="1.72" fill="#62b280" shape-rendering="crispEdges"/>
<rect x="536.61" y="231.52" width="9.54" height="1.72" fill="#3e6391" shape-rendering="crispEdges"/>
<rect x="546.1" y="231.52" width="9.54" height="1.72" fill="#3d878d" shape-rendering="crispEdges"/>
<rect x="555.59" y="231.52" width="9.54" height="1.72" fill="#3c7690" shape-rendering="crispEdges"/>
<rect x="565.08" y="231.52" width="9.54" height="1.72" fill="#6db97d" shape-rendering="crispEdges"/>
<rect x="574.56" y="231.52" width="9.54" height="1.72" fill="#46a188" shape-rendering="crispEdges"/>
<rect x="584.05" y="231.52" width="9.54" height="1.72" fill="#3b818f" shape-rendering="crispEdges"/>
<rect x="593.54" y="231.52" width="9.54" height="1.72" fill="#40918b" shape-rendering="crispEdges"/>
<rect x="603.02" y="231.52" width="9.54" height="1.72" fill="#429989" shape-rendering="crispEdges"/>
<rect x="612.51" y="231.52" width="9.54" height="1.72" fill="#40918b" shape-rendering="crispEdges"/>
<rect x="470.2" y="233.2" width="9.54" height="1.72" fill="#77c07a" shape-rendering="crispEdges"/>
<rect x="479.69" y="233.2" width="9.54" height="1.72" fill="#97cb73" shape-rendering="crispEdges"/>
<rect x="489.18" y="233.2" width="9.54" height="1.72" fill="#60b280" shape-rendering="crispEdges"/>
<rect x="498.66" y="233.2" width="9.54" height="1.72" fill="#59ad83" shape-rendering="crispEdges"/>
<rect x="508.15" y="233.2" width="9.54" height="1.72" fill="#6fbb7d" shape-rendering="crispEdges"/>
<rect x="517.64" y="233.2" width="9.54" height="1.72" fill="#5caf82" shape-rendering="crispEdges"/>
<rect x="527.12" y="233.2" width="9.54" height="1.72" fill="#4ca586" shape-rendering="crispEdges"/>
<rect x="536.61" y="233.2" width="9.54" height="1.72" fill="#3d858e" shape-rendering="crispEdges"/>
<rect x="546.1" y="233.2" width="9.54" height="1.72" fill="#3b7b8f" shape-rendering="crispEdges"/>
<rect x="555.59" y="233.2" width="9.54" height="1.72" fill="#3b7d8f" shape-rendering="crispEdges"/>
<rect x="565.08" y="233.2" width="9.54" height="1.72" fill="#4ca586" shape-rendering="crispEdges"/>
<rect x="574.56" y="233.2" width="9.54" height="1.72" fill="#42998a" shape-rendering="crispEdges"/>
<rect x="584.05" y="233.2" width="9.54" height="1.72" fill="#449e88" shape-rendering="crispEdges"/>
<rect x="593.54" y="233.2" width="9.54" height="1.72" fill="#58ad83" shape-rendering="crispEdges"/>
<rect x="603.02" y="233.2" width="9.54" height="1.72" fill="#79c17a" shape-rendering="crispEdges"/>
<rect x="612.51" y="233.2" width="9.54" height="1.72" fill="#61b280" shape-rendering="crispEdges"/>
<rect x="470.2" y="234.87" width="9.54" height="1.72" fill="#5fb181" shape-rendering="crispEdges"/>
<rect x="479.69" y="234.87" width="9.54" height="1.72" fill="#7fc379" shape-rendering="crispEdges"/>
<rect x="489.18" y="234.87" width="9.54" height="1.72" fill="#67b67f" shape-rendering="crispEdges"/>
<rect x="498.66" y="234.87" width="9.54" height="1.72" fill="#75be7b" shape-rendering="crispEdges"/>
<rect x="508.15" y="234.87" width="9.54" height="1.72" fill="#93ca74" shape-rendering="crispEdges"/>
<rect x="517.64" y="234.87" width="9.54" height="1.72" fill="#7cc279" shape-rendering="crispEdges"/>
<rect x="527.12" y="234.87" width="9.54" height="1.72" fill="#6dba7d" shape-rendering="crispEdges"/>
<rect x="536.61" y="234.87" width="9.54" height="1.72" fill="#3f5c92" shape-rendering="crispEdges"/>
<rect x="546.1" y="234.87" width="9.54" height="1.72" fill="#3d878d" shape-rendering="crispEdges"/>
<rect x="555.59" y="234.87" width="9.54" height="1.72" fill="#3d868e" shape-rendering="crispEdges"/>
<rect x="565.08" y="234.87" width="9.54" height="1.72" fill="#59ad82" shape-rendering="crispEdges"/>
<rect x="574.56" y="234.87" width="9.54" height="1.72" fill="#439b89" shape-rendering="crispEdges"/>
<rect x="584.05" y="234.87" width="9.54" height="1.72" fill="#5fb181" shape-rendering="crispEdges"/>
<rect x="593.54" y="234.87" width="9.54" height="1.72" fill="#3c7690" shape-rendering="crispEdges"/>
<rect x="603.02" y="234.87" width="9.54" height="1.72" fill="#40938b" shape-rendering="crispEdges"/>
<rect x="612.51" y="234.87" width="9.54" height="1.72" fill="#3e898d" shape-rendering="crispEdges"/>
<rect x="470.2" y="236.54" width="9.54" height="1.72" fill="#abd26d" shape-rendering="crispEdges"/>
<rect x="479.69" y="236.54" width="9.54" height="1.72" fill="#afd46c" shape-rendering="crispEdges"/>
<rect x="489.18" y="236.54" width="9.54" height="1.72" fill="#a9d26e" shape-rendering="crispEdges"/>
<rect x="498.66" y="236.54" width="9.54" height="1.72" fill="#a0ce70" shape-rendering="crispEdges"/>
<rect x="508.15" y="236.54" width="9.54" height="1.72" fill="#a3cf6f" shape-rendering="crispEdges"/>
<rect x="517.64" y="236.54" width="9.54" height="1.72" fill="#70bb7c" shape-rendering="crispEdges"/>
<rect x="527.12" y="236.54" width="9.54" height="1.72" fill="#99cc72" shape-rendering="crispEdges"/>
<rect x="536.61" y="236.54" width="9.54" height="1.72" fill="#3d6b91" shape-rendering="crispEdges"/>
<rect x="546.1" y="236.54" width="9.54" height="1.72" fill="#3e6691" shape-rendering="crispEdges"/>
<rect x="555.59" y="236.54" width="9.54" height="1.72" fill="#3e8a8d" shape-rendering="crispEdges"/>
<rect x="565.08" y="236.54" width="9.54" height="1.72" fill="#add36d" shape-rendering="crispEdges"/>
<rect x="574.56" y="236.54" width="9.54" height="1.72" fill="#3b808f" shape-rendering="crispEdges"/>
<rect x="584.05" y="236.54" width="9.54" height="1.72" fill="#3f8d8c" shape-rendering="crispEdges"/>
<rect x="593.54" y="236.54" width="9.54" height="1.72" fill="#3f8d8c" shape-rendering="crispEdges"/>
<rect x="603.02" y="236.54" width="9.54" height="1.72" fill="#3e8a8d" shape-rendering="crispEdges"/>
<rect x="612.51" y="236.54" width="9.54" height="1.72" fill="#45a188" shape-rendering="crispEdges"/>
<rect x="470.2" y="238.22" width="9.54" height="1.72" fill="#5daf82" shape-rendering="crispEdges"/>
<rect x="479.69" y="238.22" width="9.54" height="1.72" fill="#6bb97e" shape-rendering="crispEdges"/>
<rect x="489.18" y="238.22" width="9.54" height="1.72" fill="#74be7b" shape-rendering="crispEdges"/>
<rect x="498.66" y="238.22" width="9.54" height="1.72" fill="#60b181" shape-rendering="crispEdges"/>
<rect x="508.15" y="238.22" width="9.54" height="1.72" fill="#5caf82" shape-rendering="crispEdges"/>
<rect x="517.64" y="238.22" width="9.54" height="1.72" fill="#6eba7d" shape-rendering="crispEdges"/>
<rect x="527.12" y="238.22" width="9.54" height="1.72" fill="#40938b" shape-rendering="crispEdges"/>
<rect x="536.61" y="238.22" width="9.54" height="1.72" fill="#3b7f8f" shape-rendering="crispEdges"/>
<rect x="546.1" y="238.22" width="9.54" height="1.72" fill="#3d888d" shape-rendering="crispEdges"/>
<rect x="555.59" y="238.22" width="9.54" height="1.72" fill="#3c7490" shape-rendering="crispEdges"/>
<rect x="565.08" y="238.22" width="9.54" height="1.72" fill="#50a785" shape-rendering="crispEdges"/>
<rect x="574.56" y="238.22" width="9.54" height="1.72" fill="#3d878d" shape-rendering="crispEdges"/>
<rect x="584.05" y="238.22" width="9.54" height="1.72" fill="#3c7890" shape-rendering="crispEdges"/>
<rect x="593.54" y="238.22" width="9.54" height="1.72" fill="#429a89" shape-rendering="crispEdges"/>
<rect x="603.02" y="238.22" width="9.54" height="1.72" fill="#40928b" shape-rendering="crispEdges"/>
<rect x="612.51" y="238.22" width="9.54" height="1.72" fill="#65b47f" shape-rendering="crispEdges"/>
<rect x="470.2" y="239.89" width="9.54" height="1.72" fill="#4da686" shape-rendering="crispEdges"/>
<rect x="479.69" y="239.89" width="9.54" height="1.72" fill="#5aad82" shape-rendering="crispEdges"/>
<rect x="489.18" y="239.89" width="9.54" height="1.72" fill="#96cb73" shape-rendering="crispEdges"/>
<rect x="498.66" y="239.89" width="9.54" height="1.72" fill="#66b57f" shape-rendering="crispEdges"/>
<rect x="508.15" y="239.89" width="9.54" height="1.72" fill="#5caf82" shape-rendering="crispEdges"/>
<rect x="517.64" y="239.89" width="9.54" height="1.72" fill="#50a785" shape-rendering="crispEdges"/>
<rect x="527.12" y="239.89" width="9.54" height="1.72" fill="#49a387" shape-rendering="crispEdges"/>
<rect x="536.61" y="239.89" width="9.54" height="1.72" fill="#3d6b91" shape-rendering="crispEdges"/>
<rect x="546.1" y="239.89" width="9.54" height="1.72" fill="#40928b" shape-rendering="crispEdges"/>
<rect x="555.59" y="239.89" width="9.54" height="1.72" fill="#439b89" shape-rendering="crispEdges"/>
<rect x="565.08" y="239.89" width="9.54" height="1.72" fill="#87c676" shape-rendering="crispEdges"/>
<rect x="574.56" y="239.89" width="9.54" height="1.72" fill="#5bae82" shape-rendering="crispEdges"/>
<rect x="584.05" y="239.89" width="9.54" height="1.72" fill="#41948a" shape-rendering="crispEdges"/>
<rect x="593.54" y="239.89" width="9.54" height="1.72" fill="#3f8d8c" shape-rendering="crispEdges"/>
<rect x="603.02" y="239.89" width="9.54" height="1.72" fill="#3d6d90" shape-rendering="crispEdges"/>
<rect x="612.51" y="239.89" width="9.54" height="1.72" fill="#40908b" shape-rendering="crispEdges"/>
<rect x="470.2" y="241.57" width="9.54" height="1.72" fill="#7ac17a" shape-rendering="crispEdges"/>
<rect x="479.69" y="241.57" width="9.54" height="1.72" fill="#92ca74" shape-rendering="crispEdges"/>
<rect x="489.18" y="241.57" width="9.54" height="1.72" fill="#65b57f" shape-rendering="crispEdges"/>
<rect x="498.66" y="241.57" width="9.54" height="1.72" fill="#96cb73" shape-rendering="crispEdges"/>
<rect x="508.15" y="241.57" width="9.54" height="1.72" fill="#8ac776" shape-rendering="crispEdges"/>
<rect x="517.64" y="241.57" width="9.54" height="1.72" fill="#80c478" shape-rendering="crispEdges"/>
<rect x="527.12" y="241.57" width="9.54" height="1.72" fill="#83c477" shape-rendering="crispEdges"/>
<rect x="536.61" y="241.57" width="9.54" height="1.72" fill="#433e82" shape-rendering="crispEdges"/>
<rect x="546.1" y="241.57" width="9.54" height="1.72" fill="#3b7c8f" shape-rendering="crispEdges"/>
<rect x="555.59" y="241.57" width="9.54" height="1.72" fill="#3c7290" shape-rendering="crispEdges"/>
<rect x="565.08" y="241.57" width="9.54" height="1.72" fill="#bbd769" shape-rendering="crispEdges"/>
<rect x="574.56" y="241.57" width="9.54" height="1.72" fill="#449f88" shape-rendering="crispEdges"/>
<rect x="584.05" y="241.57" width="9.54" height="1.72" fill="#40928b" shape-rendering="crispEdges"/>
<rect x="593.54" y="241.57" width="9.54" height="1.72" fill="#56ab83" shape-rendering="crispEdges"/>
<rect x="603.02" y="241.57" width="9.54" height="1.72" fill="#3c848e" shape-rendering="crispEdges"/>
<rect x="612.51" y="241.57" width="9.54" height="1.72" fill="#6eba7d" shape-rendering="crispEdges"/>
<rect x="470.2" y="243.24" width="9.54" height="1.72" fill="#6bb87e" shape-rendering="crispEdges"/>
<rect x="479.69" y="243.24" width="9.54" height="1.72" fill="#5eb081" shape-rendering="crispEdges"/>
<rect x="489.18" y="243.24" width="9.54" height="1.72" fill="#82c478" shape-rendering="crispEdges"/>
<rect x="498.66" y="243.24" width="9.54" height="1.72" fill="#439b89" shape-rendering="crispEdges"/>
<rect x="508.15" y="243.24" width="9.54" height="1.72" fill="#7bc27a" shape-rendering="crispEdges"/>
<rect x="517.64" y="243.24" width="9.54" height="1.72" fill="#57ac83" shape-rendering="crispEdges"/>
<rect x="527.12" y="243.24" width="9.54" height="1.72" fill="#65b57f" shape-rendering="crispEdges"/>
<rect x="536.61" y="243.24" width="9.54" height="1.72" fill="#3f5992" shape-rendering="crispEdges"/>
<rect x="546.1" y="243.24" width="9.54" height="1.72" fill="#3f8e8c" shape-rendering="crispEdges"/>
<rect x="555.59" y="243.24" width="9.54" height="1.72" fill="#3e8a8d" shape-rendering="crispEdges"/>
<rect x="565.08" y="243.24" width="9.54" height="1.72" fill="#78c07a" shape-rendering="crispEdges"/>
<rect x="574.56" y="243.24" width="9.54" height="1.72" fill="#5bae82" shape-rendering="crispEdges"/>
<rect x="584.05" y="243.24" width="9.54" height="1.72" fill="#5caf82" shape-rendering="crispEdges"/>
<rect x="593.54" y="243.24" width="9.54" height="1.72" fill="#63b480" shape-rendering="crispEdges"/>
<rect x="603.02" y="243.24" width="9.54" height="1.72" fill="#42988a" shape-rendering="crispEdges"/>
<rect x="612.51" y="243.24" width="9.54" height="1.72" fill="#3f8c8c" shape-rendering="crispEdges"/>
<rect x="470.2" y="244.91" width="9.54" height="1.72" fill="#70bb7c" shape-rendering="crispEdges"/>
<rect x="479.69" y="244.91" width="9.54" height="1.72" fill="#5fb181" shape-rendering="crispEdges"/>
<rect x="489.18" y="244.91" width="9.54" height="1.72" fill="#7cc279" shape-rendering="crispEdges"/>
<rect x="498.66" y="244.91" width="9.54" height="1.72" fill="#60b181" shape-rendering="crispEdges"/>
<rect x="508.15" y="244.91" width="9.54" height="1.72" fill="#4ca586" shape-rendering="crispEdges"/>
<rect x="517.64" y="244.91" width="9.54" height="1.72" fill="#73bd7c" shape-rendering="crispEdges"/>
<rect x="527.12" y="244.91" width="9.54" height="1.72" fill="#85c577" shape-rendering="crispEdges"/>
<rect x="536.61" y="244.91" width="9.54" height="1.72" fill="#3d6c91" shape-rendering="crispEdges"/>
<rect x="546.1" y="244.91" width="9.54" height="1.72" fill="#3b7d8f" shape-rendering="crispEdges"/>
<rect x="555.59" y="244.91" width="9.54" height="1.72" fill="#3b7c8f" shape-rendering="crispEdges"/>
<rect x="565.08" y="244.91" width="9.54" height="1.72" fill="#76bf7b" shape-rendering="crispEdges"/>
<rect x="574.56" y="244.91" width="9.54" height="1.72" fill="#449f88" shape-rendering="crispEdges"/>
<rect x="584.05" y="244.91" width="9.54" height="1.72" fill="#439c89" shape-rendering="crispEdges"/>
<rect x="593.54" y="244.91" width="9.54" height="1.72" fill="#5db081" shape-rendering="crispEdges"/>
<rect x="603.02" y="244.91" width="9.54" height="1.72" fill="#49a387" shape-rendering="crispEdges"/>
<rect x="612.51" y="244.91" width="9.54" height="1.72" fill="#51a885" shape-rendering="crispEdges"/>
<rect x="470.2" y="246.59" width="9.54" height="1.72" fill="#61b280" shape-rendering="crispEdges"/>
<rect x="479.69" y="246.59" width="9.54" height="1.72" fill="#78c07a" shape-rendering="crispEdges"/>
<rect x="489.18" y="246.59" width="9.54" height="1.72" fill="#75bf7b" shape-rendering="crispEdges"/>
<rect x="498.66" y="246.59" width="9.54" height="1.72" fill="#79c17a" shape-rendering="crispEdges"/>
<rect x="508.15" y="246.59" width="9.54" height="1.72" fill="#64b47f" shape-rendering="crispEdges"/>
<rect x="517.64" y="246.59" width="9.54" height="1.72" fill="#74be7b" shape-rendering="crispEdges"/>
<rect x="527.12" y="246.59" width="9.54" height="1.72" fill="#71bc7c" shape-rendering="crispEdges"/>
<rect x="536.61" y="246.59" width="9.54" height="1.72" fill="#3d6d90" shape-rendering="crispEdges"/>
<rect x="546.1" y="246.59" width="9.54" height="1.72" fill="#41938b" shape-rendering="crispEdges"/>
<rect x="555.59" y="246.59" width="9.54" height="1.72" fill="#42978a" shape-rendering="crispEdges"/>
<rect x="565.08" y="246.59" width="9.54" height="1.72" fill="#6fbb7d" shape-rendering="crispEdges"/>
<rect x="574.56" y="246.59" width="9.54" height="1.72" fill="#52a984" shape-rendering="crispEdges"/>
<rect x="584.05" y="246.59" width="9.54" height="1.72" fill="#3f8c8c" shape-rendering="crispEdges"/>
<rect x="593.54" y="246.59" width="9.54" height="1.72" fill="#4ba586" shape-rendering="crispEdges"/>
<rect x="603.02" y="246.59" width="9.54" height="1.72" fill="#439d89" shape-rendering="crispEdges"/>
<rect x="612.51" y="246.59" width="9.54" height="1.72" fill="#439c89" shape-rendering="crispEdges"/>
<rect x="470.2" y="248.26" width="9.54" height="1.72" fill="#76bf7b" shape-rendering="crispEdges"/>
<rect x="479.69" y="248.26" width="9.54" height="1.72" fill="#aed36d" shape-rendering="crispEdges"/>
<rect x="489.18" y="248.26" width="9.54" height="1.72" fill="#76bf7b" shape-rendering="crispEdges"/>
<rect x="498.66" y="248.26" width="9.54" height="1.72" fill="#69b77e" shape-rendering="crispEdges"/>
<rect x="508.15" y="248.26" width="9.54" height="1.72" fill="#73bd7c" shape-rendering="crispEdges"/>
<rect x="517.64" y="248.26" width="9.54" height="1.72" fill="#5aae82" shape-rendering="crispEdges"/>
<rect x="527.12" y="248.26" width="9.54" height="1.72" fill="#64b480" shape-rendering="crispEdges"/>
<rect x="536.61" y="248.26" width="9.54" height="1.72" fill="#3e6291" shape-rendering="crispEdges"/>
<rect x="546.1" y="248.26" width="9.54" height="1.72" fill="#3b808f" shape-rendering="crispEdges"/>
<rect x="555.59" y="248.26" width="9.54" height="1.72" fill="#3e8c8c" shape-rendering="crispEdges"/>
<rect x="565.08" y="248.26" width="9.54" height="1.72" fill="#6bb87e" shape-rendering="crispEdges"/>
<rect x="574.56" y="248.26" width="9.54" height="1.72" fill="#4fa785" shape-rendering="crispEdges"/>
<rect x="584.05" y="248.26" width="9.54" height="1.72" fill="#40918b" shape-rendering="crispEdges"/>
<rect x="593.54" y="248.26" width="9.54" height="1.72" fill="#4ba586" shape-rendering="crispEdges"/>
<rect x="603.02" y="248.26" width="9.54" height="1.72" fill="#3e898d" shape-rendering="crispEdges"/>
<rect x="612.51" y="248.26" width="9.54" height="1.72" fill="#63b380" shape-rendering="crispEdges"/>
<rect x="470.2" y="249.94" width="9.54" height="1.72" fill="#73bd7c" shape-rendering="crispEdges"/>
<rect x="479.69" y="249.94" width="9.54" height="1.72" fill="#8cc775" shape-rendering="crispEdges"/>
<rect x="489.18" y="249.94" width="9.54" height="1.72" fill="#83c577" shape-rendering="crispEdges"/>
<rect x="498.66" y="249.94" width="9.54" height="1.72" fill="#55aa84" shape-rendering="crispEdges"/>
<rect x="508.15" y="249.94" width="9.54" height="1.72" fill="#6dba7d" shape-rendering="crispEdges"/>
<rect x="517.64" y="249.94" width="9.54" height="1.72" fill="#78c07a" shape-rendering="crispEdges"/>
<rect x="527.12" y="249.94" width="9.54" height="1.72" fill="#54aa84" shape-rendering="crispEdges"/>
<rect x="536.61" y="249.94" width="9.54" height="1.72" fill="#433f83" shape-rendering="crispEdges"/>
<rect x="546.1" y="249.94" width="9.54" height="1.72" fill="#3d888d" shape-rendering="crispEdges"/>
<rect x="555.59" y="249.94" width="9.54" height="1.72" fill="#3d858e" shape-rendering="crispEdges"/>
<rect x="565.08" y="249.94" width="9.54" height="1.72" fill="#7ac17a" shape-rendering="crispEdges"/>
<rect x="574.56" y="249.94" width="9.54" height="1.72" fill="#51a885" shape-rendering="crispEdges"/>
<rect x="584.05" y="249.94" width="9.54" height="1.72" fill="#48a387" shape-rendering="crispEdges"/>
<rect x="593.54" y="249.94" width="9.54" height="1.72" fill="#47a287" shape-rendering="crispEdges"/>
<rect x="603.02" y="249.94" width="9.54" height="1.72" fill="#71bc7c" shape-rendering="crispEdges"/>
<rect x="612.51" y="249.94" width="9.54" height="1.72" fill="#56ab83" shape-rendering="crispEdges"/>
<rect x="470.2" y="251.61" width="9.54" height="1.72" fill="#7bc279" shape-rendering="crispEdges"/>
<rect x="479.69" y="251.61" width="9.54" height="1.72" fill="#a8d16e" shape-rendering="crispEdges"/>
<rect x="489.18" y="251.61" width="9.54" height="1.72" fill="#83c577" shape-rendering="crispEdges"/>
<rect x="498.66" y="251.61" width="9.54" height="1.72" fill="#95cb73" shape-rendering="crispEdges"/>
<rect x="508.15" y="251.61" width="9.54" height="1.72" fill="#56ab83" shape-rendering="crispEdges"/>
<rect x="517.64" y="251.61" width="9.54" height="1.72" fill="#89c676" shape-rendering="crispEdges"/>
<rect x="527.12" y="251.61" width="9.54" height="1.72" fill="#79c17a" shape-rendering="crispEdges"/>
<rect x="536.61" y="251.61" width="9.54" height="1.72" fill="#3f5e92" shape-rendering="crispEdges"/>
<rect x="546.1" y="251.61" width="9.54" height="1.72" fill="#429a89" shape-rendering="crispEdges"/>
<rect x="555.59" y="251.61" width="9.54" height="1.72" fill="#3d888d" shape-rendering="crispEdges"/>
<rect x="565.08" y="251.61" width="9.54" height="1.72" fill="#7ac17a" shape-rendering="crispEdges"/>
<rect x="574.56" y="251.61" width="9.54" height="1.72" fill="#42988a" shape-rendering="crispEdges"/>
<rect x="584.05" y="251.61" width="9.54" height="1.72" fill="#7fc379" shape-rendering="crispEdges"/>
<rect x="593.54" y="251.61" width="9.54" height="1.72" fill="#52a984" shape-rendering="crispEdges"/>
<rect x="603.02" y="251.61" width="9.54" height="1.72" fill="#51a884" shape-rendering="crispEdges"/>
<rect x="612.51" y="251.61" width="9.54" height="1.72" fill="#3f8e8c" shape-rendering="crispEdges"/>
<rect x="470.2" y="253.28" width="9.54" height="1.72" fill="#a4d06f" shape-rendering="crispEdges"/>
<rect x="479.69" y="253.28" width="9.54" height="1.72" fill="#96cb73" shape-rendering="crispEdges"/>
<rect x="489.18" y="253.28" width="9.54" height="1.72" fill="#97cb73" shape-rendering="crispEdges"/>
<rect x="498.66" y="253.28" width="9.54" height="1.72" fill="#6cb97d" shape-rendering="crispEdges"/>
<rect x="508.15" y="253.28" width="9.54" height="1.72" fill="#a7d16f" shape-rendering="crispEdges"/>
<rect x="517.64" y="253.28" width="9.54" height="1.72" fill="#76bf7b" shape-rendering="crispEdges"/>
<rect x="527.12" y="253.28" width="9.54" height="1.72" fill="#a2cf70" shape-rendering="crispEdges"/>
<rect x="536.61" y="253.28" width="9.54" height="1.72" fill="#3f5b92" shape-rendering="crispEdges"/>
<rect x="546.1" y="253.28" width="9.54" height="1.72" fill="#3c7690" shape-rendering="crispEdges"/>
<rect x="555.59" y="253.28" width="9.54" height="1.72" fill="#3c848e" shape-rendering="crispEdges"/>
<rect x="565.08" y="253.28" width="9.54" height="1.72" fill="#97cb72" shape-rendering="crispEdges"/>
<rect x="574.56" y="253.28" width="9.54" height="1.72" fill="#3e898d" shape-rendering="crispEdges"/>
<rect x="584.05" y="253.28" width="9.54" height="1.72" fill="#41978a" shape-rendering="crispEdges"/>
<rect x="593.54" y="253.28" width="9.54" height="1.72" fill="#47a287" shape-rendering="crispEdges"/>
<rect x="603.02" y="253.28" width="9.54" height="1.72" fill="#40918b" shape-rendering="crispEdges"/>
<rect x="612.51" y="253.28" width="9.54" height="1.72" fill="#3b7f8f" shape-rendering="crispEdges"/>
<rect x="470.2" y="254.96" width="9.54" height="1.72" fill="#60b281" shape-rendering="crispEdges"/>
<rect x="479.69" y="254.96" width="9.54" height="1.72" fill="#6eba7d" shape-rendering="crispEdges"/>
<rect x="489.18" y="254.96" width="9.54" height="1.72" fill="#78c17a" shape-rendering="crispEdges"/>
<rect x="498.66" y="254.96" width="9.54" height="1.72" fill="#71bc7c" shape-rendering="crispEdges"/>
<rect x="508.15" y="254.96" width="9.54" height="1.72" fill="#70bb7c" shape-rendering="crispEdges"/>
<rect x="517.64" y="254.96" width="9.54" height="1.72" fill="#4da686" shape-rendering="crispEdges"/>
<rect x="527.12" y="254.96" width="9.54" height="1.72" fill="#74be7b" shape-rendering="crispEdges"/>
<rect x="536.61" y="254.96" width="9.54" height="1.72" fill="#3e6791" shape-rendering="crispEdges"/>
<rect x="546.1" y="254.96" width="9.54" height="1.72" fill="#3c828e" shape-rendering="crispEdges"/>
<rect x="555.59" y="254.96" width="9.54" height="1.72" fill="#3d888d" shape-rendering="crispEdges"/>
<rect x="565.08" y="254.96" width="9.54" height="1.72" fill="#b1d46c" shape-rendering="crispEdges"/>
<rect x="574.56" y="254.96" width="9.54" height="1.72" fill="#3f8d8c" shape-rendering="crispEdges"/>
<rect x="584.05" y="254.96" width="9.54" height="1.72" fill="#3b7d8f" shape-rendering="crispEdges"/>
<rect x="593.54" y="254.96" width="9.54" height="1.72" fill="#58ac83" shape-rendering="crispEdges"/>
<rect x="603.02" y="254.96" width="9.54" height="1.72" fill="#3f8d8c" shape-rendering="crispEdges"/>
<rect x="612.51" y="254.96" width="9.54" height="1.72" fill="#6fbb7d" shape-rendering="crispEdges"/>
<rect x="470.2" y="256.63" width="9.54" height="1.72" fill="#5daf82" shape-rendering="crispEdges"/>
<rect x="479.69" y="256.63" width="9.54" height="1.72" fill="#7fc379" shape-rendering="crispEdges"/>
<rect x="489.18" y="256.63" width="9.54" height="1.72" fill="#7fc379" shape-rendering="crispEdges"/>
<rect x="498.66" y="256.63" width="9.54" height="1.72" fill="#6eba7d" shape-rendering="crispEdges"/>
<rect x="508.15" y="256.63" width="9.54" height="1.72" fill="#70bc7c" shape-rendering="crispEdges"/>
<rect x="517.64" y="256.63" width="9.54" height="1.72" fill="#61b280" shape-rendering="crispEdges"/>
<rect x="527.12" y="256.63" width="9.54" height="1.72" fill="#56ab83" shape-rendering="crispEdges"/>
<rect x="536.61" y="256.63" width="9.54" height="1.72" fill="#3d6b91" shape-rendering="crispEdges"/>
<rect x="546.1" y="256.63" width="9.54" height="1.72" fill="#45a188" shape-rendering="crispEdges"/>
<rect x="555.59" y="256.63" width="9.54" height="1.72" fill="#41948b" shape-rendering="crispEdges"/>
<rect x="565.08" y="256.63" width="9.54" height="1.72" fill="#62b380" shape-rendering="crispEdges"/>
<rect x="574.56" y="256.63" width="9.54" height="1.72" fill="#5db081" shape-rendering="crispEdges"/>
<rect x="584.05" y="256.63" width="9.54" height="1.72" fill="#65b57f" shape-rendering="crispEdges"/>
<rect x="593.54" y="256.63" width="9.54" height="1.72" fill="#6cb97d" shape-rendering="crispEdges"/>
<rect x="603.02" y="256.63" width="9.54" height="1.72" fill="#449e88" shape-rendering="crispEdges"/>
<rect x="612.51" y="256.63" width="9.54" height="1.72" fill="#49a387" shape-rendering="crispEdges"/>
<rect x="470.2" y="258.31" width="9.54" height="1.72" fill="#c0d968" shape-rendering="crispEdges"/>
<rect x="479.69" y="258.31" width="9.54" height="1.72" fill="#8dc875" shape-rendering="crispEdges"/>
<rect x="489.18" y="258.31" width="9.54" height="1.72" fill="#a6d06f" shape-rendering="crispEdges"/>
<rect x="498.66" y="258.31" width="9.54" height="1.72" fill="#5caf82" shape-rendering="crispEdges"/>
<rect x="508.15" y="258.31" width="9.54" height="1.72" fill="#96cb73" shape-rendering="crispEdges"/>
<rect x="517.64" y="258.31" width="9.54" height="1.72" fill="#5db081" shape-rendering="crispEdges"/>
<rect x="527.12" y="258.31" width="9.54" height="1.72" fill="#60b281" shape-rendering="crispEdges"/>
<rect x="536.61" y="258.31" width="9.54" height="1.72" fill="#3f5d92" shape-rendering="crispEdges"/>
<rect x="546.1" y="258.31" width="9.54" height="1.72" fill="#3c838e" shape-rendering="crispEdges"/>
<rect x="555.59" y="258.31" width="9.54" height="1.72" fill="#3d858e" shape-rendering="crispEdges"/>
<rect x="565.08" y="258.31" width="9.54" height="1.72" fill="#87c677" shape-rendering="crispEdges"/>
<rect x="574.56" y="258.31" width="9.54" height="1.72" fill="#51a885" shape-rendering="crispEdges"/>
<rect x="584.05" y="258.31" width="9.54" height="1.72" fill="#41948b" shape-rendering="crispEdges"/>
<rect x="593.54" y="258.31" width="9.54" height="1.72" fill="#98cc72" shape-rendering="crispEdges"/>
<rect x="603.02" y="258.31" width="9.54" height="1.72" fill="#4aa486" shape-rendering="crispEdges"/>
<rect x="612.51" y="258.31" width="9.54" height="1.72" fill="#57ac83" shape-rendering="crispEdges"/>
<rect x="470.2" y="259.98" width="9.54" height="1.72" fill="#bdd869" shape-rendering="crispEdges"/>
<rect x="479.69" y="259.98" width="9.54" height="1.72" fill="#bad76a" shape-rendering="crispEdges"/>
<rect x="489.18" y="259.98" width="9.54" height="1.72" fill="#b2d56c" shape-rendering="crispEdges"/>
<rect x="498.66" y="259.98" width="9.54" height="1.72" fill="#cbdb64" shape-rendering="crispEdges"/>
<rect x="508.15" y="259.98" width="9.54" height="1.72" fill="#8bc776" shape-rendering="crispEdges"/>
<rect x="517.64" y="259.98" width="9.54" height="1.72" fill="#89c776" shape-rendering="crispEdges"/>
<rect x="527.12" y="259.98" width="9.54" height="1.72" fill="#a0ce70" shape-rendering="crispEdges"/>
<rect x="536.61" y="259.98" width="9.54" height="1.72" fill="#44397f" shape-rendering="crispEdges"/>
<rect x="546.1" y="259.98" width="9.54" height="1.72" fill="#3d7090" shape-rendering="crispEdges"/>
<rect x="555.59" y="259.98" width="9.54" height="1.72" fill="#3f8d8c" shape-rendering="crispEdges"/>
<rect x="565.08" y="259.98" width="9.54" height="1.72" fill="#90c974" shape-rendering="crispEdges"/>
<rect x="574.56" y="259.98" width="9.54" height="1.72" fill="#449f88" shape-rendering="crispEdges"/>
<rect x="584.05" y="259.98" width="9.54" height="1.72" fill="#4aa486" shape-rendering="crispEdges"/>
<rect x="593.54" y="259.98" width="9.54" height="1.72" fill="#3c7890" shape-rendering="crispEdges"/>
<rect x="603.02" y="259.98" width="9.54" height="1.72" fill="#429989" shape-rendering="crispEdges"/>
<rect x="612.51" y="259.98" width="9.54" height="1.72" fill="#3e8a8d" shape-rendering="crispEdges"/>
<rect x="470.2" y="261.65" width="9.54" height="1.72" fill="#5fb181" shape-rendering="crispEdges"/>
<rect x="479.69" y="261.65" width="9.54" height="1.72" fill="#69b77e" shape-rendering="crispEdges"/>
<rect x="489.18" y="261.65" width="9.54" height="1.72" fill="#5fb181" shape-rendering="crispEdges"/>
<rect x="498.66" y="261.65" width="9.54" height="1.72" fill="#54aa84" shape-rendering="crispEdges"/>
<rect x="508.15" y="261.65" width="9.54" height="1.72" fill="#79c17a" shape-rendering="crispEdges"/>
<rect x="517.64" y="261.65" width="9.54" height="1.72" fill="#7cc279" shape-rendering="crispEdges"/>
<rect x="527.12" y="261.65" width="9.54" height="1.72" fill="#69b77e" shape-rendering="crispEdges"/>
<rect x="536.61" y="261.65" width="9.54" height="1.72" fill="#3d6d90" shape-rendering="crispEdges"/>
<rect x="546.1" y="261.65" width="9.54" height="1.72" fill="#3b7b8f" shape-rendering="crispEdges"/>
<rect x="555.59" y="261.65" width="9.54" height="1.72" fill="#3b7b8f" shape-rendering="crispEdges"/>
<rect x="565.08" y="261.65" width="9.54" height="1.72" fill="#439d89" shape-rendering="crispEdges"/>
<rect x="574.56" y="261.65" width="9.54" height="1.72" fill="#5bae82" shape-rendering="crispEdges"/>
<rect x="584.05" y="261.65" width="9.54" height="1.72" fill="#69b77e" shape-rendering="crispEdges"/>
<rect x="593.54" y="261.65" width="9.54" height="1.72" fill="#63b380" shape-rendering="crispEdges"/>
<rect x="603.02" y="261.65" width="9.54" height="1.72" fill="#46a187" shape-rendering="crispEdges"/>
<rect x="612.51" y="261.65" width="9.54" height="1.72" fill="#439d89" shape-rendering="crispEdges"/>
<rect x="470.2" y="263.33" width="9.54" height="1.72" fill="#80c378" shape-rendering="crispEdges"/>
<rect x="479.69" y="263.33" width="9.54" height="1.72" fill="#92ca74" shape-rendering="crispEdges"/>
<rect x="489.18" y="263.33" width="9.54" height="1.72" fill="#a7d16e" shape-rendering="crispEdges"/>
<rect x="498.66" y="263.33" width="9.54" height="1.72" fill="#6bb87e" shape-rendering="crispEdges"/>
<rect x="508.15" y="263.33" width="9.54" height="1.72" fill="#b2d56c" shape-rendering="crispEdges"/>
<rect x="517.64" y="263.33" width="9.54" height="1.72" fill="#4ba586" shape-rendering="crispEdges"/>
<rect x="527.12" y="263.33" width="9.54" height="1.72" fill="#4fa785" shape-rendering="crispEdges"/>
<rect x="536.61" y="263.33" width="9.54" height="1.72" fill="#414d8b" shape-rendering="crispEdges"/>
<rect x="546.1" y="263.33" width="9.54" height="1.72" fill="#3c7590" shape-rendering="crispEdges"/>
<rect x="555.59" y="263.33" width="9.54" height="1.72" fill="#3b7f8f" shape-rendering="crispEdges"/>
<rect x="565.08" y="263.33" width="9.54" height="1.72" fill="#bdd869" shape-rendering="crispEdges"/>
<rect x="574.56" y="263.33" width="9.54" height="1.72" fill="#41968a" shape-rendering="crispEdges"/>
<rect x="584.05" y="263.33" width="9.54" height="1.72" fill="#66b57f" shape-rendering="crispEdges"/>
<rect x="593.54" y="263.33" width="9.54" height="1.72" fill="#40938b" shape-rendering="crispEdges"/>
<rect x="603.02" y="263.33" width="9.54" height="1.72" fill="#449f88" shape-rendering="crispEdges"/>
<rect x="612.51" y="263.33" width="9.54" height="1.72" fill="#3e8b8c" shape-rendering="crispEdges"/>
<rect x="470.2" y="265" width="9.54" height="1.72" fill="#aad26e" shape-rendering="crispEdges"/>
<rect x="479.69" y="265" width="9.54" height="1.72" fill="#a2cf70" shape-rendering="crispEdges"/>
<rect x="489.18" y="265" width="9.54" height="1.72" fill="#dcdf5f" shape-rendering="crispEdges"/>
<rect x="498.66" y="265" width="9.54" height="1.72" fill="#add36d" shape-rendering="crispEdges"/>
<rect x="508.15" y="265" width="9.54" height="1.72" fill="#b6d66b" shape-rendering="crispEdges"/>
<rect x="517.64" y="265" width="9.54" height="1.72" fill="#a4d06f" shape-rendering="crispEdges"/>
<rect x="527.12" y="265" width="9.54" height="1.72" fill="#8dc875" shape-rendering="crispEdges"/>
<rect x="536.61" y="265" width="9.54" height="1.72" fill="#424385" shape-rendering="crispEdges"/>
<rect x="546.1" y="265" width="9.54" height="1.72" fill="#3c798f" shape-rendering="crispEdges"/>
<rect x="555.59" y="265" width="9.54" height="1.72" fill="#41948b" shape-rendering="crispEdges"/>
<rect x="565.08" y="265" width="9.54" height="1.72" fill="#b4d56b" shape-rendering="crispEdges"/>
<rect x="574.56" y="265" width="9.54" height="1.72" fill="#42978a" shape-rendering="crispEdges"/>
<rect x="584.05" y="265" width="9.54" height="1.72" fill="#55aa84" shape-rendering="crispEdges"/>
<rect x="593.54" y="265" width="9.54" height="1.72" fill="#3b7d8f" shape-rendering="crispEdges"/>
<rect x="603.02" y="265" width="9.54" height="1.72" fill="#5db081" shape-rendering="crispEdges"/>
<rect x="612.51" y="265" width="9.54" height="1.72" fill="#41958a" shape-rendering="crispEdges"/>
<rect x="470.2" y="266.68" width="9.54" height="1.72" fill="#78c07a" shape-rendering="crispEdges"/>
<rect x="479.69" y="266.68" width="9.54" height="1.72" fill="#7ac17a" shape-rendering="crispEdges"/>
<rect x="489.18" y="266.68" width="9.54" height="1.72" fill="#65b47f" shape-rendering="crispEdges"/>
<rect x="498.66" y="266.68" width="9.54" height="1.72" fill="#6cb97e" shape-rendering="crispEdges"/>
<rect x="508.15" y="266.68" width="9.54" height="1.72" fill="#7fc378" shape-rendering="crispEdges"/>
<rect x="517.64" y="266.68" width="9.54" height="1.72" fill="#89c676" shape-rendering="crispEdges"/>
<rect x="527.12" y="266.68" width="9.54" height="1.72" fill="#50a785" shape-rendering="crispEdges"/>
<rect x="536.61" y="266.68" width="9.54" height="1.72" fill="#433e82" shape-rendering="crispEdges"/>
<rect x="546.1" y="266.68" width="9.54" height="1.72" fill="#58ac83" shape-rendering="crispEdges"/>
<rect x="555.59" y="266.68" width="9.54" height="1.72" fill="#3c838e" shape-rendering="crispEdges"/>
<rect x="565.08" y="266.68" width="9.54" height="1.72" fill="#58ad83" shape-rendering="crispEdges"/>
<rect x="574.56" y="266.68" width="9.54" height="1.72" fill="#60b181" shape-rendering="crispEdges"/>
<rect x="584.05" y="266.68" width="9.54" height="1.72" fill="#429989" shape-rendering="crispEdges"/>
<rect x="593.54" y="266.68" width="9.54" height="1.72" fill="#66b57f" shape-rendering="crispEdges"/>
<rect x="603.02" y="266.68" width="9.54" height="1.72" fill="#3d868e" shape-rendering="crispEdges"/>
<rect x="612.51" y="266.68" width="9.54" height="1.72" fill="#44a088" shape-rendering="crispEdges"/>
<rect x="470.2" y="268.35" width="9.54" height="1.72" fill="#84c577" shape-rendering="crispEdges"/>
<rect x="479.69" y="268.35" width="9.54" height="1.72" fill="#62b380" shape-rendering="crispEdges"/>
<rect x="489.18" y="268.35" width="9.54" height="1.72" fill="#7ec379" shape-rendering="crispEdges"/>
<rect x="498.66" y="268.35" width="9.54" height="1.72" fill="#7dc279" shape-rendering="crispEdges"/>
<rect x="508.15" y="268.35" width="9.54" height="1.72" fill="#49a387" shape-rendering="crispEdges"/>
<rect x="517.64" y="268.35" width="9.54" height="1.72" fill="#5aae82" shape-rendering="crispEdges"/>
<rect x="527.12" y="268.35" width="9.54" height="1.72" fill="#69b77e" shape-rendering="crispEdges"/>
<rect x="536.61" y="268.35" width="9.54" height="1.72" fill="#3d7090" shape-rendering="crispEdges"/>
<rect x="546.1" y="268.35" width="9.54" height="1.72" fill="#3e8b8c" shape-rendering="crispEdges"/>
<rect x="555.59" y="268.35" width="9.54" height="1.72" fill="#42978a" shape-rendering="crispEdges"/>
<rect x="565.08" y="268.35" width="9.54" height="1.72" fill="#77c07b" shape-rendering="crispEdges"/>
<rect x="574.56" y="268.35" width="9.54" height="1.72" fill="#449f88" shape-rendering="crispEdges"/>
<rect x="584.05" y="268.35" width="9.54" height="1.72" fill="#46a187" shape-rendering="crispEdges"/>
<rect x="593.54" y="268.35" width="9.54" height="1.72" fill="#5baf82" shape-rendering="crispEdges"/>
<rect x="603.02" y="268.35" width="9.54" height="1.72" fill="#4fa785" shape-rendering="crispEdges"/>
<rect x="612.51" y="268.35" width="9.54" height="1.72" fill="#52a984" shape-rendering="crispEdges"/>
<rect x="470.2" y="270.02" width="9.54" height="1.72" fill="#8dc875" shape-rendering="crispEdges"/>
<rect x="479.69" y="270.02" width="9.54" height="1.72" fill="#65b47f" shape-rendering="crispEdges"/>
<rect x="489.18" y="270.02" width="9.54" height="1.72" fill="#6db97d" shape-rendering="crispEdges"/>
<rect x="498.66" y="270.02" width="9.54" height="1.72" fill="#61b280" shape-rendering="crispEdges"/>
<rect x="508.15" y="270.02" width="9.54" height="1.72" fill="#66b57f" shape-rendering="crispEdges"/>
<rect x="517.64" y="270.02" width="9.54" height="1.72" fill="#65b57f" shape-rendering="crispEdges"/>
<rect x="527.12" y="270.02" width="9.54" height="1.72" fill="#4ba486" shape-rendering="crispEdges"/>
<rect x="536.61" y="270.02" width="9.54" height="1.72" fill="#3c7590" shape-rendering="crispEdges"/>
<rect x="546.1" y="270.02" width="9.54" height="1.72" fill="#44a088" shape-rendering="crispEdges"/>
<rect x="555.59" y="270.02" width="9.54" height="1.72" fill="#40908b" shape-rendering="crispEdges"/>
<rect x="565.08" y="270.02" width="9.54" height="1.72" fill="#74be7b" shape-rendering="crispEdges"/>
<rect x="574.56" y="270.02" width="9.54" height="1.72" fill="#63b480" shape-rendering="crispEdges"/>
<rect x="584.05" y="270.02" width="9.54" height="1.72" fill="#4ba486" shape-rendering="crispEdges"/>
<rect x="593.54" y="270.02" width="9.54" height="1.72" fill="#84c577" shape-rendering="crispEdges"/>
<rect x="603.02" y="270.02" width="9.54" height="1.72" fill="#41938b" shape-rendering="crispEdges"/>
<rect x="612.51" y="270.02" width="9.54" height="1.72" fill="#58ad83" shape-rendering="crispEdges"/>
<rect x="470.2" y="271.7" width="9.54" height="1.72" fill="#97cb72" shape-rendering="crispEdges"/>
<rect x="479.69" y="271.7" width="9.54" height="1.72" fill="#7cc279" shape-rendering="crispEdges"/>
<rect x="489.18" y="271.7" width="9.54" height="1.72" fill="#77bf7b" shape-rendering="crispEdges"/>
<rect x="498.66" y="271.7" width="9.54" height="1.72" fill="#b4d56b" shape-rendering="crispEdges"/>
<rect x="508.15" y="271.7" width="9.54" height="1.72" fill="#78c07a" shape-rendering="crispEdges"/>
<rect x="517.64" y="271.7" width="9.54" height="1.72" fill="#8dc875" shape-rendering="crispEdges"/>
<rect x="527.12" y="271.7" width="9.54" height="1.72" fill="#94ca73" shape-rendering="crispEdges"/>
<rect x="536.61" y="271.7" width="9.54" height="1.72" fill="#3e6591" shape-rendering="crispEdges"/>
<rect x="546.1" y="271.7" width="9.54" height="1.72" fill="#3e6291" shape-rendering="crispEdges"/>
<rect x="555.59" y="271.7" width="9.54" height="1.72" fill="#3f5c92" shape-rendering="crispEdges"/>
<rect x="565.08" y="271.7" width="9.54" height="1.72" fill="#86c577" shape-rendering="crispEdges"/>
<rect x="574.56" y="271.7" width="9.54" height="1.72" fill="#40918b" shape-rendering="crispEdges"/>
<rect x="584.05" y="271.7" width="9.54" height="1.72" fill="#41948b" shape-rendering="crispEdges"/>
<rect x="593.54" y="271.7" width="9.54" height="1.72" fill="#42988a" shape-rendering="crispEdges"/>
<rect x="603.02" y="271.7" width="9.54" height="1.72" fill="#439b89" shape-rendering="crispEdges"/>
<rect x="612.51" y="271.7" width="9.54" height="1.72" fill="#3c818f" shape-rendering="crispEdges"/>
<rect x="470.2" y="273.37" width="9.54" height="1.72" fill="#6eba7d" shape-rendering="crispEdges"/>
<rect x="479.69" y="273.37" width="9.54" height="1.72" fill="#52a984" shape-rendering="crispEdges"/>
<rect x="489.18" y="273.37" width="9.54" height="1.72" fill="#449f88" shape-rendering="crispEdges"/>
<rect x="498.66" y="273.37" width="9.54" height="1.72" fill="#40928b" shape-rendering="crispEdges"/>
<rect x="508.15" y="273.37" width="9.54" height="1.72" fill="#65b57f" shape-rendering="crispEdges"/>
<rect x="517.64" y="273.37" width="9.54" height="1.72" fill="#439b89" shape-rendering="crispEdges"/>
<rect x="527.12" y="273.37" width="9.54" height="1.72" fill="#439b89" shape-rendering="crispEdges"/>
<rect x="536.61" y="273.37" width="9.54" height="1.72" fill="#3b7c8f" shape-rendering="crispEdges"/>
<rect x="546.1" y="273.37" width="9.54" height="1.72" fill="#41948b" shape-rendering="crispEdges"/>
<rect x="555.59" y="273.37" width="9.54" height="1.72" fill="#41958a" shape-rendering="crispEdges"/>
<rect x="565.08" y="273.37" width="9.54" height="1.72" fill="#41948b" shape-rendering="crispEdges"/>
<rect x="574.56" y="273.37" width="9.54" height="1.72" fill="#3c7390" shape-rendering="crispEdges"/>
<rect x="584.05" y="273.37" width="9.54" height="1.72" fill="#40918b" shape-rendering="crispEdges"/>
<rect x="593.54" y="273.37" width="9.54" height="1.72" fill="#439c89" shape-rendering="crispEdges"/>
<rect x="603.02" y="273.37" width="9.54" height="1.72" fill="#41968a" shape-rendering="crispEdges"/>
<rect x="612.51" y="273.37" width="9.54" height="1.72" fill="#6cb97d" shape-rendering="crispEdges"/>
<rect x="470.2" y="275.05" width="9.54" height="1.72" fill="#6ab77e" shape-rendering="crispEdges"/>
<rect x="479.69" y="275.05" width="9.54" height="1.72" fill="#96cb73" shape-rendering="crispEdges"/>
<rect x="489.18" y="275.05" width="9.54" height="1.72" fill="#80c478" shape-rendering="crispEdges"/>
<rect x="498.66" y="275.05" width="9.54" height="1.72" fill="#73bd7c" shape-rendering="crispEdges"/>
<rect x="508.15" y="275.05" width="9.54" height="1.72" fill="#9ece71" shape-rendering="crispEdges"/>
<rect x="517.64" y="275.05" width="9.54" height="1.72" fill="#58ac83" shape-rendering="crispEdges"/>
<rect x="527.12" y="275.05" width="9.54" height="1.72" fill="#92c974" shape-rendering="crispEdges"/>
<rect x="536.61" y="275.05" width="9.54" height="1.72" fill="#3c798f" shape-rendering="crispEdges"/>
<rect x="546.1" y="275.05" width="9.54" height="1.72" fill="#3e6191" shape-rendering="crispEdges"/>
<rect x="555.59" y="275.05" width="9.54" height="1.72" fill="#3b7f8f" shape-rendering="crispEdges"/>
<rect x="565.08" y="275.05" width="9.54" height="1.72" fill="#76bf7b" shape-rendering="crispEdges"/>
<rect x="574.56" y="275.05" width="9.54" height="1.72" fill="#3f8d8c" shape-rendering="crispEdges"/>
<rect x="584.05" y="275.05" width="9.54" height="1.72" fill="#40908b" shape-rendering="crispEdges"/>
<rect x="593.54" y="275.05" width="9.54" height="1.72" fill="#3d888d" shape-rendering="crispEdges"/>
<rect x="603.02" y="275.05" width="9.54" height="1.72" fill="#439c89" shape-rendering="crispEdges"/>
<rect x="612.51" y="275.05" width="9.54" height="1.72" fill="#41938b" shape-rendering="crispEdges"/>
<rect x="470.2" y="276.72" width="9.54" height="1.72" fill="#6bb87e" shape-rendering="crispEdges"/>
<rect x="479.69" y="276.72" width="9.54" height="1.72" fill="#6ab77e" shape-rendering="crispEdges"/>
<rect x="489.18" y="276.72" width="9.54" height="1.72" fill="#449f88" shape-rendering="crispEdges"/>
<rect x="498.66" y="276.72" width="9.54" height="1.72" fill="#61b280" shape-rendering="crispEdges"/>
<rect x="508.15" y="276.72" width="9.54" height="1.72" fill="#7dc279" shape-rendering="crispEdges"/>
<rect x="517.64" y="276.72" width="9.54" height="1.72" fill="#40918b" shape-rendering="crispEdges"/>
<rect x="527.12" y="276.72" width="9.54" height="1.72" fill="#439e88" shape-rendering="crispEdges"/>
<rect x="536.61" y="276.72" width="9.54" height="1.72" fill="#3d6b91" shape-rendering="crispEdges"/>
<rect x="546.1" y="276.72" width="9.54" height="1.72" fill="#429a89" shape-rendering="crispEdges"/>
<rect x="555.59" y="276.72" width="9.54" height="1.72" fill="#3e898d" shape-rendering="crispEdges"/>
<rect x="565.08" y="276.72" width="9.54" height="1.72" fill="#3e8c8c" shape-rendering="crispEdges"/>
<rect x="574.56" y="276.72" width="9.54" height="1.72" fill="#86c577" shape-rendering="crispEdges"/>
<rect x="584.05" y="276.72" width="9.54" height="1.72" fill="#46a187" shape-rendering="crispEdges"/>
<rect x="593.54" y="276.72" width="9.54" height="1.72" fill="#65b47f" shape-rendering="crispEdges"/>
<rect x="603.02" y="276.72" width="9.54" height="1.72" fill="#a5d06f" shape-rendering="crispEdges"/>
<rect x="612.51" y="276.72" width="9.54" height="1.72" fill="#439b89" shape-rendering="crispEdges"/>
<rect x="470.2" y="278.39" width="9.54" height="1.72" fill="#87c676" shape-rendering="crispEdges"/>
<rect x="479.69" y="278.39" width="9.54" height="1.72" fill="#74be7b" shape-rendering="crispEdges"/>
<rect x="489.18" y="278.39" width="9.54" height="1.72" fill="#81c478" shape-rendering="crispEdges"/>
<rect x="498.66" y="278.39" width="9.54" height="1.72" fill="#6fbb7d" shape-rendering="crispEdges"/>
<rect x="508.15" y="278.39" width="9.54" height="1.72" fill="#b7d66a" shape-rendering="crispEdges"/>
<rect x="517.64" y="278.39" width="9.54" height="1.72" fill="#7ec379" shape-rendering="crispEdges"/>
<rect x="527.12" y="278.39" width="9.54" height="1.72" fill="#71bc7c" shape-rendering="crispEdges"/>
<rect x="536.61" y="278.39" width="9.54" height="1.72" fill="#3d6d90" shape-rendering="crispEdges"/>
<rect x="546.1" y="278.39" width="9.54" height="1.72" fill="#40908b" shape-rendering="crispEdges"/>
<rect x="555.59" y="278.39" width="9.54" height="1.72" fill="#3d6991" shape-rendering="crispEdges"/>
<rect x="565.08" y="278.39" width="9.54" height="1.72" fill="#64b47f" shape-rendering="crispEdges"/>
<rect x="574.56" y="278.39" width="9.54" height="1.72" fill="#67b67f" shape-rendering="crispEdges"/>
<rect x="584.05" y="278.39" width="9.54" height="1.72" fill="#3d868d" shape-rendering="crispEdges"/>
<rect x="593.54" y="278.39" width="9.54" height="1.72" fill="#439e88" shape-rendering="crispEdges"/>
<rect x="603.02" y="278.39" width="9.54" height="1.72" fill="#439d89" shape-rendering="crispEdges"/>
<rect x="612.51" y="278.39" width="9.54" height="1.72" fill="#42988a" shape-rendering="crispEdges"/>
<rect x="470.2" y="280.07" width="9.54" height="1.72" fill="#c0d968" shape-rendering="crispEdges"/>
<rect x="479.69" y="280.07" width="9.54" height="1.72" fill="#bed868" shape-rendering="crispEdges"/>
<rect x="489.18" y="280.07" width="9.54" height="1.72" fill="#9fce70" shape-rendering="crispEdges"/>
<rect x="498.66" y="280.07" width="9.54" height="1.72" fill="#b0d46c" shape-rendering="crispEdges"/>
<rect x="508.15" y="280.07" width="9.54" height="1.72" fill="#a9d26e" shape-rendering="crispEdges"/>
<rect x="517.64" y="280.07" width="9.54" height="1.72" fill="#abd26d" shape-rendering="crispEdges"/>
<rect x="527.12" y="280.07" width="9.54" height="1.72" fill="#add36d" shape-rendering="crispEdges"/>
<rect x="536.61" y="280.07" width="9.54" height="1.72" fill="#3d858e" shape-rendering="crispEdges"/>
<rect x="546.1" y="280.07" width="9.54" height="1.72" fill="#40928b" shape-rendering="crispEdges"/>
<rect x="555.59" y="280.07" width="9.54" height="1.72" fill="#41958a" shape-rendering="crispEdges"/>
<rect x="565.08" y="280.07" width="9.54" height="1.72" fill="#d1dc63" shape-rendering="crispEdges"/>
<rect x="574.56" y="280.07" width="9.54" height="1.72" fill="#99cc72" shape-rendering="crispEdges"/>
<rect x="584.05" y="280.07" width="9.54" height="1.72" fill="#3d858e" shape-rendering="crispEdges"/>
<rect x="593.54" y="280.07" width="9.54" height="1.72" fill="#3c7390" shape-rendering="crispEdges"/>
<rect x="603.02" y="280.07" width="9.54" height="1.72" fill="#41968a" shape-rendering="crispEdges"/>
<rect x="612.51" y="280.07" width="9.54" height="1.72" fill="#429a89" shape-rendering="crispEdges"/>
<rect x="470.2" y="281.74" width="9.54" height="1.72" fill="#6db97d" shape-rendering="crispEdges"/>
<rect x="479.69" y="281.74" width="9.54" height="1.72" fill="#92ca74" shape-rendering="crispEdges"/>
<rect x="489.18" y="281.74" width="9.54" height="1.72" fill="#abd26d" shape-rendering="crispEdges"/>
<rect x="498.66" y="281.74" width="9.54" height="1.72" fill="#7cc279" shape-rendering="crispEdges"/>
<rect x="508.15" y="281.74" width="9.54" height="1.72" fill="#75be7b" shape-rendering="crispEdges"/>
<rect x="517.64" y="281.74" width="9.54" height="1.72" fill="#97cb73" shape-rendering="crispEdges"/>
<rect x="527.12" y="281.74" width="9.54" height="1.72" fill="#6bb87e" shape-rendering="crispEdges"/>
<rect x="536.61" y="281.74" width="9.54" height="1.72" fill="#3e6391" shape-rendering="crispEdges"/>
<rect x="546.1" y="281.74" width="9.54" height="1.72" fill="#3f8c8c" shape-rendering="crispEdges"/>
<rect x="555.59" y="281.74" width="9.54" height="1.72" fill="#3f5a92" shape-rendering="crispEdges"/>
<rect x="565.08" y="281.74" width="9.54" height="1.72" fill="#b6d66b" shape-rendering="crispEdges"/>
<rect x="574.56" y="281.74" width="9.54" height="1.72" fill="#48a387" shape-rendering="crispEdges"/>
<rect x="584.05" y="281.74" width="9.54" height="1.72" fill="#53a984" shape-rendering="crispEdges"/>
<rect x="593.54" y="281.74" width="9.54" height="1.72" fill="#47a287" shape-rendering="crispEdges"/>
<rect x="603.02" y="281.74" width="9.54" height="1.72" fill="#4da586" shape-rendering="crispEdges"/>
<rect x="612.51" y="281.74" width="9.54" height="1.72" fill="#3d858e" shape-rendering="crispEdges"/>
<rect x="470.2" y="283.42" width="9.54" height="1.72" fill="#b0d46c" shape-rendering="crispEdges"/>
<rect x="479.69" y="283.42" width="9.54" height="1.72" fill="#afd46d" shape-rendering="crispEdges"/>
<rect x="489.18" y="283.42" width="9.54" height="1.72" fill="#e6e15c" shape-rendering="crispEdges"/>
<rect x="498.66" y="283.42" width="9.54" height="1.72" fill="#7dc279" shape-rendering="crispEdges"/>
<rect x="508.15" y="283.42" width="9.54" height="1.72" fill="#b4d56b" shape-rendering="crispEdges"/>
<rect x="517.64" y="283.42" width="9.54" height="1.72" fill="#9bcd71" shape-rendering="crispEdges"/>
<rect x="527.12" y="283.42" width="9.54" height="1.72" fill="#72bd7c" shape-rendering="crispEdges"/>
<rect x="536.61" y="283.42" width="9.54" height="1.72" fill="#3b808f" shape-rendering="crispEdges"/>
<rect x="546.1" y="283.42" width="9.54" height="1.72" fill="#3e6291" shape-rendering="crispEdges"/>
<rect x="555.59" y="283.42" width="9.54" height="1.72" fill="#3b7e8f" shape-rendering="crispEdges"/>
<rect x="565.08" y="283.42" width="9.54" height="1.72" fill="#98cc72" shape-rendering="crispEdges"/>
<rect x="574.56" y="283.42" width="9.54" height="1.72" fill="#45a188" shape-rendering="crispEdges"/>
<rect x="584.05" y="283.42" width="9.54" height="1.72" fill="#3c828e" shape-rendering="crispEdges"/>
<rect x="593.54" y="283.42" width="9.54" height="1.72" fill="#5eb081" shape-rendering="crispEdges"/>
<rect x="603.02" y="283.42" width="9.54" height="1.72" fill="#429a89" shape-rendering="crispEdges"/>
<rect x="612.51" y="283.42" width="9.54" height="1.72" fill="#3b7f8f" shape-rendering="crispEdges"/>
<rect x="470.2" y="285.09" width="9.54" height="1.72" fill="#68b77e" shape-rendering="crispEdges"/>
<rect x="479.69" y="285.09" width="9.54" height="1.72" fill="#4fa785" shape-rendering="crispEdges"/>
<rect x="489.18" y="285.09" width="9.54" height="1.72" fill="#6fbb7d" shape-rendering="crispEdges"/>
<rect x="498.66" y="285.09" width="9.54" height="1.72" fill="#67b67f" shape-rendering="crispEdges"/>
<rect x="508.15" y="285.09" width="9.54" height="1.72" fill="#56ab83" shape-rendering="crispEdges"/>
<rect x="517.64" y="285.09" width="9.54" height="1.72" fill="#41978a" shape-rendering="crispEdges"/>
<rect x="527.12" y="285.09" width="9.54" height="1.72" fill="#439d89" shape-rendering="crispEdges"/>
<rect x="536.61" y="285.09" width="9.54" height="1.72" fill="#3c7590" shape-rendering="crispEdges"/>
<rect x="546.1" y="285.09" width="9.54" height="1.72" fill="#3c848e" shape-rendering="crispEdges"/>
<rect x="555.59" y="285.09" width="9.54" height="1.72" fill="#51a884" shape-rendering="crispEdges"/>
<rect x="565.08" y="285.09" width="9.54" height="1.72" fill="#51a885" shape-rendering="crispEdges"/>
<rect x="574.56" y="285.09" width="9.54" height="1.72" fill="#61b280" shape-rendering="crispEdges"/>
<rect x="584.05" y="285.09" width="9.54" height="1.72" fill="#62b380" shape-rendering="crispEdges"/>
<rect x="593.54" y="285.09" width="9.54" height="1.72" fill="#48a387" shape-rendering="crispEdges"/>
<rect x="603.02" y="285.09" width="9.54" height="1.72" fill="#53a984" shape-rendering="crispEdges"/>
<rect x="612.51" y="285.09" width="9.54" height="1.72" fill="#6dba7d" shape-rendering="crispEdges"/>
<rect x="470.2" y="286.76" width="9.54" height="1.72" fill="#7fc379" shape-rendering="crispEdges"/>
<rect x="479.69" y="286.76" width="9.54" height="1.72" fill="#74be7b" shape-rendering="crispEdges"/>
<rect x="489.18" y="286.76" width="9.54" height="1.72" fill="#afd46c" shape-rendering="crispEdges"/>
<rect x="498.66" y="286.76" width="9.54" height="1.72" fill="#78c07a" shape-rendering="crispEdges"/>
<rect x="508.15" y="286.76" width="9.54" height="1.72" fill="#8bc775" shape-rendering="crispEdges"/>
<rect x="517.64" y="286.76" width="9.54" height="1.72" fill="#41958a" shape-rendering="crispEdges"/>
<rect x="527.12" y="286.76" width="9.54" height="1.72" fill="#64b47f" shape-rendering="crispEdges"/>
<rect x="536.61" y="286.76" width="9.54" height="1.72" fill="#405690" shape-rendering="crispEdges"/>
<rect x="546.1" y="286.76" width="9.54" height="1.72" fill="#3e898d" shape-rendering="crispEdges"/>
<rect x="555.59" y="286.76" width="9.54" height="1.72" fill="#3b7d8f" shape-rendering="crispEdges"/>
<rect x="565.08" y="286.76" width="9.54" height="1.72" fill="#53a984" shape-rendering="crispEdges"/>
<rect x="574.56" y="286.76" width="9.54" height="1.72" fill="#44a088" shape-rendering="crispEdges"/>
<rect x="584.05" y="286.76" width="9.54" height="1.72" fill="#5fb181" shape-rendering="crispEdges"/>
<rect x="593.54" y="286.76" width="9.54" height="1.72" fill="#62b380" shape-rendering="crispEdges"/>
<rect x="603.02" y="286.76" width="9.54" height="1.72" fill="#40928b" shape-rendering="crispEdges"/>
<rect x="612.51" y="286.76" width="9.54" height="1.72" fill="#67b67f" shape-rendering="crispEdges"/>
<rect x="470.2" y="288.44" width="9.54" height="1.72" fill="#7bc279" shape-rendering="crispEdges"/>
<rect x="479.69" y="288.44" width="9.54" height="1.72" fill="#61b280" shape-rendering="crispEdges"/>
<rect x="489.18" y="288.44" width="9.54" height="1.72" fill="#8bc776" shape-rendering="crispEdges"/>
<rect x="498.66" y="288.44" width="9.54" height="1.72" fill="#a4d06f" shape-rendering="crispEdges"/>
<rect x="508.15" y="288.44" width="9.54" height="1.72" fill="#68b67f" shape-rendering="crispEdges"/>
<rect x="517.64" y="288.44" width="9.54" height="1.72" fill="#89c776" shape-rendering="crispEdges"/>
<rect x="527.12" y="288.44" width="9.54" height="1.72" fill="#47a287" shape-rendering="crispEdges"/>
<rect x="536.61" y="288.44" width="9.54" height="1.72" fill="#3e6291" shape-rendering="crispEdges"/>
<rect x="546.1" y="288.44" width="9.54" height="1.72" fill="#68b67f" shape-rendering="crispEdges"/>
<rect x="555.59" y="288.44" width="9.54" height="1.72" fill="#3d868e" shape-rendering="crispEdges"/>
<rect x="565.08" y="288.44" width="9.54" height="1.72" fill="#77c07a" shape-rendering="crispEdges"/>
<rect x="574.56" y="288.44" width="9.54" height="1.72" fill="#3d888d" shape-rendering="crispEdges"/>
<rect x="584.05" y="288.44" width="9.54" height="1.72" fill="#46a188" shape-rendering="crispEdges"/>
<rect x="593.54" y="288.44" width="9.54" height="1.72" fill="#3f8d8c" shape-rendering="crispEdges"/>
<rect x="603.02" y="288.44" width="9.54" height="1.72" fill="#6dba7d" shape-rendering="crispEdges"/>
<rect x="612.51" y="288.44" width="9.54" height="1.72" fill="#42988a" shape-rendering="crispEdges"/>
<rect x="470.2" y="290.11" width="9.54" height="1.72" fill="#96cb73" shape-rendering="crispEdges"/>
<rect x="479.69" y="290.11" width="9.54" height="1.72" fill="#bfd868" shape-rendering="crispEdges"/>
<rect x="489.18" y="290.11" width="9.54" height="1.72" fill="#80c378" shape-rendering="crispEdges"/>
<rect x="498.66" y="290.11" width="9.54" height="1.72" fill="#a5d06f" shape-rendering="crispEdges"/>
<rect x="508.15" y="290.11" width="9.54" height="1.72" fill="#cadb65" shape-rendering="crispEdges"/>
<rect x="517.64" y="290.11" width="9.54" height="1.72" fill="#acd36d" shape-rendering="crispEdges"/>
<rect x="527.12" y="290.11" width="9.54" height="1.72" fill="#88c676" shape-rendering="crispEdges"/>
<rect x="536.61" y="290.11" width="9.54" height="1.72" fill="#3e6491" shape-rendering="crispEdges"/>
<rect x="546.1" y="290.11" width="9.54" height="1.72" fill="#3e8b8c" shape-rendering="crispEdges"/>
<rect x="555.59" y="290.11" width="9.54" height="1.72" fill="#3b7f8f" shape-rendering="crispEdges"/>
<rect x="565.08" y="290.11" width="9.54" height="1.72" fill="#c8da65" shape-rendering="crispEdges"/>
<rect x="574.56" y="290.11" width="9.54" height="1.72" fill="#3b7d8f" shape-rendering="crispEdges"/>
<rect x="584.05" y="290.11" width="9.54" height="1.72" fill="#6dba7d" shape-rendering="crispEdges"/>
<rect x="593.54" y="290.11" width="9.54" height="1.72" fill="#449f88" shape-rendering="crispEdges"/>
<rect x="603.02" y="290.11" width="9.54" height="1.72" fill="#3e6091" shape-rendering="crispEdges"/>
<rect x="612.51" y="290.11" width="9.54" height="1.72" fill="#6db97d" shape-rendering="crispEdges"/>
<rect x="470.2" y="291.79" width="9.54" height="1.72" fill="#7cc279" shape-rendering="crispEdges"/>
<rect x="479.69" y="291.79" width="9.54" height="1.72" fill="#4ca586" shape-rendering="crispEdges"/>
<rect x="489.18" y="291.79" width="9.54" height="1.72" fill="#65b57f" shape-rendering="crispEdges"/>
<rect x="498.66" y="291.79" width="9.54" height="1.72" fill="#47a287" shape-rendering="crispEdges"/>
<rect x="508.15" y="291.79" width="9.54" height="1.72" fill="#84c577" shape-rendering="crispEdges"/>
<rect x="517.64" y="291.79" width="9.54" height="1.72" fill="#69b77e" shape-rendering="crispEdges"/>
<rect x="527.12" y="291.79" width="9.54" height="1.72" fill="#55ab84" shape-rendering="crispEdges"/>
<rect x="536.61" y="291.79" width="9.54" height="1.72" fill="#3e6591" shape-rendering="crispEdges"/>
<rect x="546.1" y="291.79" width="9.54" height="1.72" fill="#439c89" shape-rendering="crispEdges"/>
<rect x="555.59" y="291.79" width="9.54" height="1.72" fill="#3c7990" shape-rendering="crispEdges"/>
<rect x="565.08" y="291.79" width="9.54" height="1.72" fill="#7cc279" shape-rendering="crispEdges"/>
<rect x="574.56" y="291.79" width="9.54" height="1.72" fill="#40908b" shape-rendering="crispEdges"/>
<rect x="584.05" y="291.79" width="9.54" height="1.72" fill="#3b7d8f" shape-rendering="crispEdges"/>
<rect x="593.54" y="291.79" width="9.54" height="1.72" fill="#40938b" shape-rendering="crispEdges"/>
<rect x="603.02" y="291.79" width="9.54" height="1.72" fill="#42998a" shape-rendering="crispEdges"/>
<rect x="612.51" y="291.79" width="9.54" height="1.72" fill="#4da686" shape-rendering="crispEdges"/>
<rect x="470.2" y="293.46" width="9.54" height="1.72" fill="#84c577" shape-rendering="crispEdges"/>
<rect x="479.69" y="293.46" width="9.54" height="1.72" fill="#8bc775" shape-rendering="crispEdges"/>
<rect x="489.18" y="293.46" width="9.54" height="1.72" fill="#a6d06f" shape-rendering="crispEdges"/>
<rect x="498.66" y="293.46" width="9.54" height="1.72" fill="#96cb73" shape-rendering="crispEdges"/>
<rect x="508.15" y="293.46" width="9.54" height="1.72" fill="#8dc875" shape-rendering="crispEdges"/>
<rect x="517.64" y="293.46" width="9.54" height="1.72" fill="#91c974" shape-rendering="crispEdges"/>
<rect x="527.12" y="293.46" width="9.54" height="1.72" fill="#54aa84" shape-rendering="crispEdges"/>
<rect x="536.61" y="293.46" width="9.54" height="1.72" fill="#3f5b92" shape-rendering="crispEdges"/>
<rect x="546.1" y="293.46" width="9.54" height="1.72" fill="#3e6691" shape-rendering="crispEdges"/>
<rect x="555.59" y="293.46" width="9.54" height="1.72" fill="#3c798f" shape-rendering="crispEdges"/>
<rect x="565.08" y="293.46" width="9.54" height="1.72" fill="#a8d16e" shape-rendering="crispEdges"/>
<rect x="574.56" y="293.46" width="9.54" height="1.72" fill="#3b7f8f" shape-rendering="crispEdges"/>
<rect x="584.05" y="293.46" width="9.54" height="1.72" fill="#5aae82" shape-rendering="crispEdges"/>
<rect x="593.54" y="293.46" width="9.54" height="1.72" fill="#3e8b8d" shape-rendering="crispEdges"/>
<rect x="603.02" y="293.46" width="9.54" height="1.72" fill="#41948b" shape-rendering="crispEdges"/>
<rect x="612.51" y="293.46" width="9.54" height="1.72" fill="#40928b" shape-rendering="crispEdges"/>
<rect x="470.2" y="295.13" width="9.54" height="1.72" fill="#78c07a" shape-rendering="crispEdges"/>
<rect x="479.69" y="295.13" width="9.54" height="1.72" fill="#5fb181" shape-rendering="crispEdges"/>
<rect x="489.18" y="295.13" width="9.54" height="1.72" fill="#95cb73" shape-rendering="crispEdges"/>
<rect x="498.66" y="295.13" width="9.54" height="1.72" fill="#82c478" shape-rendering="crispEdges"/>
<rect x="508.15" y="295.13" width="9.54" height="1.72" fill="#99cc72" shape-rendering="crispEdges"/>
<rect x="517.64" y="295.13" width="9.54" height="1.72" fill="#96cb73" shape-rendering="crispEdges"/>
<rect x="527.12" y="295.13" width="9.54" height="1.72" fill="#65b47f" shape-rendering="crispEdges"/>
<rect x="536.61" y="295.13" width="9.54" height="1.72" fill="#3d6991" shape-rendering="crispEdges"/>
<rect x="546.1" y="295.13" width="9.54" height="1.72" fill="#3d868e" shape-rendering="crispEdges"/>
<rect x="555.59" y="295.13" width="9.54" height="1.72" fill="#3b7f8f" shape-rendering="crispEdges"/>
<rect x="565.08" y="295.13" width="9.54" height="1.72" fill="#86c577" shape-rendering="crispEdges"/>
<rect x="574.56" y="295.13" width="9.54" height="1.72" fill="#51a885" shape-rendering="crispEdges"/>
<rect x="584.05" y="295.13" width="9.54" height="1.72" fill="#3f8f8c" shape-rendering="crispEdges"/>
<rect x="593.54" y="295.13" width="9.54" height="1.72" fill="#41958a" shape-rendering="crispEdges"/>
<rect x="603.02" y="295.13" width="9.54" height="1.72" fill="#5bae82" shape-rendering="crispEdges"/>
<rect x="612.51" y="295.13" width="9.54" height="1.72" fill="#3d888d" shape-rendering="crispEdges"/>
<rect x="470.2" y="296.81" width="9.54" height="1.72" fill="#62b380" shape-rendering="crispEdges"/>
<rect x="479.69" y="296.81" width="9.54" height="1.72" fill="#66b57f" shape-rendering="crispEdges"/>
<rect x="489.18" y="296.81" width="9.54" height="1.72" fill="#71bc7c" shape-rendering="crispEdges"/>
<rect x="498.66" y="296.81" width="9.54" height="1.72" fill="#79c17a" shape-rendering="crispEdges"/>
<rect x="508.15" y="296.81" width="9.54" height="1.72" fill="#9ece71" shape-rendering="crispEdges"/>
<rect x="517.64" y="296.81" width="9.54" height="1.72" fill="#70bc7c" shape-rendering="crispEdges"/>
<rect x="527.12" y="296.81" width="9.54" height="1.72" fill="#86c577" shape-rendering="crispEdges"/>
<rect x="536.61" y="296.81" width="9.54" height="1.72" fill="#3c7290" shape-rendering="crispEdges"/>
<rect x="546.1" y="296.81" width="9.54" height="1.72" fill="#3e898d" shape-rendering="crispEdges"/>
<rect x="555.59" y="296.81" width="9.54" height="1.72" fill="#414a89" shape-rendering="crispEdges"/>
<rect x="565.08" y="296.81" width="9.54" height="1.72" fill="#76bf7b" shape-rendering="crispEdges"/>
<rect x="574.56" y="296.81" width="9.54" height="1.72" fill="#4ea685" shape-rendering="crispEdges"/>
<rect x="584.05" y="296.81" width="9.54" height="1.72" fill="#3e888d" shape-rendering="crispEdges"/>
<rect x="593.54" y="296.81" width="9.54" height="1.72" fill="#449e88" shape-rendering="crispEdges"/>
<rect x="603.02" y="296.81" width="9.54" height="1.72" fill="#72bd7c" shape-rendering="crispEdges"/>
<rect x="612.51" y="296.81" width="9.54" height="1.72" fill="#3e8a8d" shape-rendering="crispEdges"/>
<rect x="470.2" y="298.48" width="9.54" height="1.72" fill="#85c577" shape-rendering="crispEdges"/>
<rect x="479.69" y="298.48" width="9.54" height="1.72" fill="#4fa785" shape-rendering="crispEdges"/>
<rect x="489.18" y="298.48" width="9.54" height="1.72" fill="#5bae82" shape-rendering="crispEdges"/>
<rect x="498.66" y="298.48" width="9.54" height="1.72" fill="#73bd7c" shape-rendering="crispEdges"/>
<rect x="508.15" y="298.48" width="9.54" height="1.72" fill="#86c577" shape-rendering="crispEdges"/>
<rect x="517.64" y="298.48" width="9.54" height="1.72" fill="#8bc775" shape-rendering="crispEdges"/>
<rect x="527.12" y="298.48" width="9.54" height="1.72" fill="#78c07a" shape-rendering="crispEdges"/>
<rect x="536.61" y="298.48" width="9.54" height="1.72" fill="#40908b" shape-rendering="crispEdges"/>
<rect x="546.1" y="298.48" width="9.54" height="1.72" fill="#40908b" shape-rendering="crispEdges"/>
<rect x="555.59" y="298.48" width="9.54" height="1.72" fill="#3d6f90" shape-rendering="crispEdges"/>
<rect x="565.08" y="298.48" width="9.54" height="1.72" fill="#65b47f" shape-rendering="crispEdges"/>
<rect x="574.56" y="298.48" width="9.54" height="1.72" fill="#64b480" shape-rendering="crispEdges"/>
<rect x="584.05" y="298.48" width="9.54" height="1.72" fill="#52a984" shape-rendering="crispEdges"/>
<rect x="593.54" y="298.48" width="9.54" height="1.72" fill="#3c7390" shape-rendering="crispEdges"/>
<rect x="603.02" y="298.48" width="9.54" height="1.72" fill="#50a785" shape-rendering="crispEdges"/>
<rect x="612.51" y="298.48" width="9.54" height="1.72" fill="#40938b" shape-rendering="crispEdges"/>
<rect x="470.2" y="300.16" width="9.54" height="1.72" fill="#9acc72" shape-rendering="crispEdges"/>
<rect x="479.69" y="300.16" width="9.54" height="1.72" fill="#77c07b" shape-rendering="crispEdges"/>
<rect x="489.18" y="300.16" width="9.54" height="1.72" fill="#69b77e" shape-rendering="crispEdges"/>
<rect x="498.66" y="300.16" width="9.54" height="1.72" fill="#70bb7c" shape-rendering="crispEdges"/>
<rect x="508.15" y="300.16" width="9.54" height="1.72" fill="#68b67f" shape-rendering="crispEdges"/>
<rect x="517.64" y="300.16" width="9.54" height="1.72" fill="#a8d16e" shape-rendering="crispEdges"/>
<rect x="527.12" y="300.16" width="9.54" height="1.72" fill="#80c378" shape-rendering="crispEdges"/>
<rect x="536.61" y="300.16" width="9.54" height="1.72" fill="#3c798f" shape-rendering="crispEdges"/>
<rect x="546.1" y="300.16" width="9.54" height="1.72" fill="#3b7d8f" shape-rendering="crispEdges"/>
<rect x="555.59" y="300.16" width="9.54" height="1.72" fill="#3c7a8f" shape-rendering="crispEdges"/>
<rect x="565.08" y="300.16" width="9.54" height="1.72" fill="#78c07a" shape-rendering="crispEdges"/>
<rect x="574.56" y="300.16" width="9.54" height="1.72" fill="#3c7a8f" shape-rendering="crispEdges"/>
<rect x="584.05" y="300.16" width="9.54" height="1.72" fill="#66b57f" shape-rendering="crispEdges"/>
<rect x="593.54" y="300.16" width="9.54" height="1.72" fill="#3b818f" shape-rendering="crispEdges"/>
<rect x="603.02" y="300.16" width="9.54" height="1.72" fill="#44a088" shape-rendering="crispEdges"/>
<rect x="612.51" y="300.16" width="9.54" height="1.72" fill="#50a885" shape-rendering="crispEdges"/>
<rect x="470.2" y="301.83" width="9.54" height="1.72" fill="#72bd7c" shape-rendering="crispEdges"/>
<rect x="479.69" y="301.83" width="9.54" height="1.72" fill="#80c378" shape-rendering="crispEdges"/>
<rect x="489.18" y="301.83" width="9.54" height="1.72" fill="#9ece71" shape-rendering="crispEdges"/>
<rect x="498.66" y="301.83" width="9.54" height="1.72" fill="#70bb7c" shape-rendering="crispEdges"/>
<rect x="508.15" y="301.83" width="9.54" height="1.72" fill="#96cb73" shape-rendering="crispEdges"/>
<rect x="517.64" y="301.83" width="9.54" height="1.72" fill="#72bd7c" shape-rendering="crispEdges"/>
<rect x="527.12" y="301.83" width="9.54" height="1.72" fill="#5eb081" shape-rendering="crispEdges"/>
<rect x="536.61" y="301.83" width="9.54" height="1.72" fill="#3b7b8f" shape-rendering="crispEdges"/>
<rect x="546.1" y="301.83" width="9.54" height="1.72" fill="#3c828e" shape-rendering="crispEdges"/>
<rect x="555.59" y="301.83" width="9.54" height="1.72" fill="#3e8a8d" shape-rendering="crispEdges"/>
<rect x="565.08" y="301.83" width="9.54" height="1.72" fill="#77c07a" shape-rendering="crispEdges"/>
<rect x="574.56" y="301.83" width="9.54" height="1.72" fill="#76bf7b" shape-rendering="crispEdges"/>
<rect x="584.05" y="301.83" width="9.54" height="1.72" fill="#51a885" shape-rendering="crispEdges"/>
<rect x="593.54" y="301.83" width="9.54" height="1.72" fill="#3b7f8f" shape-rendering="crispEdges"/>
<rect x="603.02" y="301.83" width="9.54" height="1.72" fill="#71bc7c" shape-rendering="crispEdges"/>
<rect x="612.51" y="301.83" width="9.54" height="1.72" fill="#4fa785" shape-rendering="crispEdges"/>
<rect x="470.2" y="303.5" width="9.54" height="1.72" fill="#62b380" shape-rendering="crispEdges"/>
<rect x="479.69" y="303.5" width="9.54" height="1.72" fill="#88c676" shape-rendering="crispEdges"/>
<rect x="489.18" y="303.5" width="9.54" height="1.72" fill="#7fc379" shape-rendering="crispEdges"/>
<rect x="498.66" y="303.5" width="9.54" height="1.72" fill="#81c478" shape-rendering="crispEdges"/>
<rect x="508.15" y="303.5" width="9.54" height="1.72" fill="#71bc7c" shape-rendering="crispEdges"/>
<rect x="517.64" y="303.5" width="9.54" height="1.72" fill="#98cc72" shape-rendering="crispEdges"/>
<rect x="527.12" y="303.5" width="9.54" height="1.72" fill="#66b57f" shape-rendering="crispEdges"/>
<rect x="536.61" y="303.5" width="9.54" height="1.72" fill="#3c7190" shape-rendering="crispEdges"/>
<rect x="546.1" y="303.5" width="9.54" height="1.72" fill="#3f8c8c" shape-rendering="crispEdges"/>
<rect x="555.59" y="303.5" width="9.54" height="1.72" fill="#42978a" shape-rendering="crispEdges"/>
<rect x="565.08" y="303.5" width="9.54" height="1.72" fill="#5aae82" shape-rendering="crispEdges"/>
<rect x="574.56" y="303.5" width="9.54" height="1.72" fill="#45a088" shape-rendering="crispEdges"/>
<rect x="584.05" y="303.5" width="9.54" height="1.72" fill="#439b89" shape-rendering="crispEdges"/>
<rect x="593.54" y="303.5" width="9.54" height="1.72" fill="#3f8e8c" shape-rendering="crispEdges"/>
<rect x="603.02" y="303.5" width="9.54" height="1.72" fill="#40908b" shape-rendering="crispEdges"/>
<rect x="612.51" y="303.5" width="9.54" height="1.72" fill="#3e8a8d" shape-rendering="crispEdges"/>
<rect x="470.2" y="305.18" width="9.54" height="1.72" fill="#b0d46c" shape-rendering="crispEdges"/>
<rect x="479.69" y="305.18" width="9.54" height="1.72" fill="#77c07a" shape-rendering="crispEdges"/>
<rect x="489.18" y="305.18" width="9.54" height="1.72" fill="#a2cf70" shape-rendering="crispEdges"/>
<rect x="498.66" y="305.18" width="9.54" height="1.72" fill="#6cb97d" shape-rendering="crispEdges"/>
<rect x="508.15" y="305.18" width="9.54" height="1.72" fill="#76bf7b" shape-rendering="crispEdges"/>
<rect x="517.64" y="305.18" width="9.54" height="1.72" fill="#7ec379" shape-rendering="crispEdges"/>
<rect x="527.12" y="305.18" width="9.54" height="1.72" fill="#83c577" shape-rendering="crispEdges"/>
<rect x="536.61" y="305.18" width="9.54" height="1.72" fill="#3d6c91" shape-rendering="crispEdges"/>
<rect x="546.1" y="305.18" width="9.54" height="1.72" fill="#3e6191" shape-rendering="crispEdges"/>
<rect x="555.59" y="305.18" width="9.54" height="1.72" fill="#3d6891" shape-rendering="crispEdges"/>
<rect x="565.08" y="305.18" width="9.54" height="1.72" fill="#86c677" shape-rendering="crispEdges"/>
<rect x="574.56" y="305.18" width="9.54" height="1.72" fill="#439d89" shape-rendering="crispEdges"/>
<rect x="584.05" y="305.18" width="9.54" height="1.72" fill="#87c676" shape-rendering="crispEdges"/>
<rect x="593.54" y="305.18" width="9.54" height="1.72" fill="#40928b" shape-rendering="crispEdges"/>
<rect x="603.02" y="305.18" width="9.54" height="1.72" fill="#3e8b8c" shape-rendering="crispEdges"/>
<rect x="612.51" y="305.18" width="9.54" height="1.72" fill="#65b47f" shape-rendering="crispEdges"/>
<rect x="470.2" y="306.85" width="9.54" height="1.72" fill="#3e8a8d" shape-rendering="crispEdges"/>
<rect x="479.69" y="306.85" width="9.54" height="1.72" fill="#89c776" shape-rendering="crispEdges"/>
<rect x="489.18" y="306.85" width="9.54" height="1.72" fill="#439b89" shape-rendering="crispEdges"/>
<rect x="498.66" y="306.85" width="9.54" height="1.72" fill="#46a187" shape-rendering="crispEdges"/>
<rect x="508.15" y="306.85" width="9.54" height="1.72" fill="#44a088" shape-rendering="crispEdges"/>
<rect x="517.64" y="306.85" width="9.54" height="1.72" fill="#41948a" shape-rendering="crispEdges"/>
<rect x="527.12" y="306.85" width="9.54" height="1.72" fill="#439b89" shape-rendering="crispEdges"/>
<rect x="536.61" y="306.85" width="9.54" height="1.72" fill="#3e6191" shape-rendering="crispEdges"/>
<rect x="546.1" y="306.85" width="9.54" height="1.72" fill="#49a387" shape-rendering="crispEdges"/>
<rect x="555.59" y="306.85" width="9.54" height="1.72" fill="#439d89" shape-rendering="crispEdges"/>
<rect x="565.08" y="306.85" width="9.54" height="1.72" fill="#56ab83" shape-rendering="crispEdges"/>
<rect x="574.56" y="306.85" width="9.54" height="1.72" fill="#449f88" shape-rendering="crispEdges"/>
<rect x="584.05" y="306.85" width="9.54" height="1.72" fill="#3c818f" shape-rendering="crispEdges"/>
<rect x="593.54" y="306.85" width="9.54" height="1.72" fill="#439d89" shape-rendering="crispEdges"/>
<rect x="603.02" y="306.85" width="9.54" height="1.72" fill="#40918b" shape-rendering="crispEdges"/>
<rect x="612.51" y="306.85" width="9.54" height="1.72" fill="#64b480" shape-rendering="crispEdges"/>
<rect x="470.2" y="308.52" width="9.54" height="1.72" fill="#47a287" shape-rendering="crispEdges"/>
<rect x="479.69" y="308.52" width="9.54" height="1.72" fill="#63b380" shape-rendering="crispEdges"/>
<rect x="489.18" y="308.52" width="9.54" height="1.72" fill="#67b67f" shape-rendering="crispEdges"/>
<rect x="498.66" y="308.52" width="9.54" height="1.72" fill="#5aae82" shape-rendering="crispEdges"/>
<rect x="508.15" y="308.52" width="9.54" height="1.72" fill="#439e89" shape-rendering="crispEdges"/>
<rect x="517.64" y="308.52" width="9.54" height="1.72" fill="#49a387" shape-rendering="crispEdges"/>
<rect x="527.12" y="308.52" width="9.54" height="1.72" fill="#7ec379" shape-rendering="crispEdges"/>
<rect x="536.61" y="308.52" width="9.54" height="1.72" fill="#3b818f" shape-rendering="crispEdges"/>
<rect x="546.1" y="308.52" width="9.54" height="1.72" fill="#3c818f" shape-rendering="crispEdges"/>
<rect x="555.59" y="308.52" width="9.54" height="1.72" fill="#55ab83" shape-rendering="crispEdges"/>
<rect x="565.08" y="308.52" width="9.54" height="1.72" fill="#52a984" shape-rendering="crispEdges"/>
<rect x="574.56" y="308.52" width="9.54" height="1.72" fill="#58ac83" shape-rendering="crispEdges"/>
<rect x="584.05" y="308.52" width="9.54" height="1.72" fill="#41948b" shape-rendering="crispEdges"/>
<rect x="593.54" y="308.52" width="9.54" height="1.72" fill="#7cc279" shape-rendering="crispEdges"/>
<rect x="603.02" y="308.52" width="9.54" height="1.72" fill="#4ea685" shape-rendering="crispEdges"/>
<rect x="612.51" y="308.52" width="9.54" height="1.72" fill="#4da686" shape-rendering="crispEdges"/>
<rect x="470.2" y="310.2" width="9.54" height="1.72" fill="#4da586" shape-rendering="crispEdges"/>
<rect x="479.69" y="310.2" width="9.54" height="1.72" fill="#71bc7c" shape-rendering="crispEdges"/>
<rect x="489.18" y="310.2" width="9.54" height="1.72" fill="#6bb87e" shape-rendering="crispEdges"/>
<rect x="498.66" y="310.2" width="9.54" height="1.72" fill="#89c676" shape-rendering="crispEdges"/>
<rect x="508.15" y="310.2" width="9.54" height="1.72" fill="#55aa84" shape-rendering="crispEdges"/>
<rect x="517.64" y="310.2" width="9.54" height="1.72" fill="#5daf81" shape-rendering="crispEdges"/>
<rect x="527.12" y="310.2" width="9.54" height="1.72" fill="#75be7b" shape-rendering="crispEdges"/>
<rect x="536.61" y="310.2" width="9.54" height="1.72" fill="#3b7b8f" shape-rendering="crispEdges"/>
<rect x="546.1" y="310.2" width="9.54" height="1.72" fill="#3b808f" shape-rendering="crispEdges"/>
<rect x="555.59" y="310.2" width="9.54" height="1.72" fill="#44a088" shape-rendering="crispEdges"/>
<rect x="565.08" y="310.2" width="9.54" height="1.72" fill="#70bc7c" shape-rendering="crispEdges"/>
<rect x="574.56" y="310.2" width="9.54" height="1.72" fill="#6fbb7d" shape-rendering="crispEdges"/>
<rect x="584.05" y="310.2" width="9.54" height="1.72" fill="#54aa84" shape-rendering="crispEdges"/>
<rect x="593.54" y="310.2" width="9.54" height="1.72" fill="#64b47f" shape-rendering="crispEdges"/>
<rect x="603.02" y="310.2" width="9.54" height="1.72" fill="#42988a" shape-rendering="crispEdges"/>
<rect x="612.51" y="310.2" width="9.54" height="1.72" fill="#44a088" shape-rendering="crispEdges"/>
<rect x="470.2" y="311.87" width="9.54" height="1.72" fill="#9bcd71" shape-rendering="crispEdges"/>
<rect x="479.69" y="311.87" width="9.54" height="1.72" fill="#a1cf70" shape-rendering="crispEdges"/>
<rect x="489.18" y="311.87" width="9.54" height="1.72" fill="#b3d56c" shape-rendering="crispEdges"/>
<rect x="498.66" y="311.87" width="9.54" height="1.72" fill="#94ca73" shape-rendering="crispEdges"/>
<rect x="508.15" y="311.87" width="9.54" height="1.72" fill="#9bcd71" shape-rendering="crispEdges"/>
<rect x="517.64" y="311.87" width="9.54" height="1.72" fill="#59ad82" shape-rendering="crispEdges"/>
<rect x="527.12" y="311.87" width="9.54" height="1.72" fill="#7ac17a" shape-rendering="crispEdges"/>
<rect x="536.61" y="311.87" width="9.54" height="1.72" fill="#3d7190" shape-rendering="crispEdges"/>
<rect x="546.1" y="311.87" width="9.54" height="1.72" fill="#3c7290" shape-rendering="crispEdges"/>
<rect x="555.59" y="311.87" width="9.54" height="1.72" fill="#3c798f" shape-rendering="crispEdges"/>
<rect x="565.08" y="311.87" width="9.54" height="1.72" fill="#93ca74" shape-rendering="crispEdges"/>
<rect x="574.56" y="311.87" width="9.54" height="1.72" fill="#439d89" shape-rendering="crispEdges"/>
<rect x="584.05" y="311.87" width="9.54" height="1.72" fill="#57ac83" shape-rendering="crispEdges"/>
<rect x="593.54" y="311.87" width="9.54" height="1.72" fill="#44a088" shape-rendering="crispEdges"/>
<rect x="603.02" y="311.87" width="9.54" height="1.72" fill="#41948b" shape-rendering="crispEdges"/>
<rect x="612.51" y="311.87" width="9.54" height="1.72" fill="#5eb081" shape-rendering="crispEdges"/>
<rect x="470.2" y="313.55" width="9.54" height="1.72" fill="#63b380" shape-rendering="crispEdges"/>
<rect x="479.69" y="313.55" width="9.54" height="1.72" fill="#7fc378" shape-rendering="crispEdges"/>
<rect x="489.18" y="313.55" width="9.54" height="1.72" fill="#85c577" shape-rendering="crispEdges"/>
<rect x="498.66" y="313.55" width="9.54" height="1.72" fill="#6cb97d" shape-rendering="crispEdges"/>
<rect x="508.15" y="313.55" width="9.54" height="1.72" fill="#5baf82" shape-rendering="crispEdges"/>
<rect x="517.64" y="313.55" width="9.54" height="1.72" fill="#64b480" shape-rendering="crispEdges"/>
<rect x="527.12" y="313.55" width="9.54" height="1.72" fill="#6fbb7d" shape-rendering="crispEdges"/>
<rect x="536.61" y="313.55" width="9.54" height="1.72" fill="#3c7690" shape-rendering="crispEdges"/>
<rect x="546.1" y="313.55" width="9.54" height="1.72" fill="#4ea685" shape-rendering="crispEdges"/>
<rect x="555.59" y="313.55" width="9.54" height="1.72" fill="#3c838e" shape-rendering="crispEdges"/>
<rect x="565.08" y="313.55" width="9.54" height="1.72" fill="#66b57f" shape-rendering="crispEdges"/>
<rect x="574.56" y="313.55" width="9.54" height="1.72" fill="#3b7c8f" shape-rendering="crispEdges"/>
<rect x="584.05" y="313.55" width="9.54" height="1.72" fill="#70bb7c" shape-rendering="crispEdges"/>
<rect x="593.54" y="313.55" width="9.54" height="1.72" fill="#5eb081" shape-rendering="crispEdges"/>
<rect x="603.02" y="313.55" width="9.54" height="1.72" fill="#449e88" shape-rendering="crispEdges"/>
<rect x="612.51" y="313.55" width="9.54" height="1.72" fill="#41948b" shape-rendering="crispEdges"/>
<rect x="470.2" y="315.22" width="9.54" height="1.72" fill="#58ac83" shape-rendering="crispEdges"/>
<rect x="479.69" y="315.22" width="9.54" height="1.72" fill="#439c89" shape-rendering="crispEdges"/>
<rect x="489.18" y="315.22" width="9.54" height="1.72" fill="#6db97d" shape-rendering="crispEdges"/>
<rect x="498.66" y="315.22" width="9.54" height="1.72" fill="#56ab83" shape-rendering="crispEdges"/>
<rect x="508.15" y="315.22" width="9.54" height="1.72" fill="#64b480" shape-rendering="crispEdges"/>
<rect x="517.64" y="315.22" width="9.54" height="1.72" fill="#449f88" shape-rendering="crispEdges"/>
<rect x="527.12" y="315.22" width="9.54" height="1.72" fill="#5aae82" shape-rendering="crispEdges"/>
<rect x="536.61" y="315.22" width="9.54" height="1.72" fill="#3e5f92" shape-rendering="crispEdges"/>
<rect x="546.1" y="315.22" width="9.54" height="1.72" fill="#56ab83" shape-rendering="crispEdges"/>
<rect x="555.59" y="315.22" width="9.54" height="1.72" fill="#3f8f8c" shape-rendering="crispEdges"/>
<rect x="565.08" y="315.22" width="9.54" height="1.72" fill="#3e8a8d" shape-rendering="crispEdges"/>
<rect x="574.56" y="315.22" width="9.54" height="1.72" fill="#52a984" shape-rendering="crispEdges"/>
<rect x="584.05" y="315.22" width="9.54" height="1.72" fill="#41958a" shape-rendering="crispEdges"/>
<rect x="593.54" y="315.22" width="9.54" height="1.72" fill="#58ad83" shape-rendering="crispEdges"/>
<rect x="603.02" y="315.22" width="9.54" height="1.72" fill="#429989" shape-rendering="crispEdges"/>
<rect x="612.51" y="315.22" width="9.54" height="1.72" fill="#40938b" shape-rendering="crispEdges"/>
<rect x="470.2" y="316.89" width="9.54" height="1.72" fill="#6dba7d" shape-rendering="crispEdges"/>
<rect x="479.69" y="316.89" width="9.54" height="1.72" fill="#7cc279" shape-rendering="crispEdges"/>
<rect x="489.18" y="316.89" width="9.54" height="1.72" fill="#87c677" shape-rendering="crispEdges"/>
<rect x="498.66" y="316.89" width="9.54" height="1.72" fill="#8ec875" shape-rendering="crispEdges"/>
<rect x="508.15" y="316.89" width="9.54" height="1.72" fill="#7bc279" shape-rendering="crispEdges"/>
<rect x="517.64" y="316.89" width="9.54" height="1.72" fill="#9acc72" shape-rendering="crispEdges"/>
<rect x="527.12" y="316.89" width="9.54" height="1.72" fill="#42978a" shape-rendering="crispEdges"/>
<rect x="536.61" y="316.89" width="9.54" height="1.72" fill="#3d6991" shape-rendering="crispEdges"/>
<rect x="546.1" y="316.89" width="9.54" height="1.72" fill="#42988a" shape-rendering="crispEdges"/>
<rect x="555.59" y="316.89" width="9.54" height="1.72" fill="#3d6e90" shape-rendering="crispEdges"/>
<rect x="565.08" y="316.89" width="9.54" height="1.72" fill="#67b67f" shape-rendering="crispEdges"/>
<rect x="574.56" y="316.89" width="9.54" height="1.72" fill="#55ab83" shape-rendering="crispEdges"/>
<rect x="584.05" y="316.89" width="9.54" height="1.72" fill="#3b7f8f" shape-rendering="crispEdges"/>
<rect x="593.54" y="316.89" width="9.54" height="1.72" fill="#40908b" shape-rendering="crispEdges"/>
<rect x="603.02" y="316.89" width="9.54" height="1.72" fill="#56ab83" shape-rendering="crispEdges"/>
<rect x="612.51" y="316.89" width="9.54" height="1.72" fill="#439b89" shape-rendering="crispEdges"/>
<rect x="470.2" y="318.57" width="9.54" height="1.72" fill="#cedc63" shape-rendering="crispEdges"/>
<rect x="479.69" y="318.57" width="9.54" height="1.72" fill="#a0ce70" shape-rendering="crispEdges"/>
<rect x="489.18" y="318.57" width="9.54" height="1.72" fill="#80c378" shape-rendering="crispEdges"/>
<rect x="498.66" y="318.57" width="9.54" height="1.72" fill="#97cb73" shape-rendering="crispEdges"/>
<rect x="508.15" y="318.57" width="9.54" height="1.72" fill="#8dc875" shape-rendering="crispEdges"/>
<rect x="517.64" y="318.57" width="9.54" height="1.72" fill="#73bd7c" shape-rendering="crispEdges"/>
<rect x="527.12" y="318.57" width="9.54" height="1.72" fill="#87c676" shape-rendering="crispEdges"/>
<rect x="536.61" y="318.57" width="9.54" height="1.72" fill="#3f5991" shape-rendering="crispEdges"/>
<rect x="546.1" y="318.57" width="9.54" height="1.72" fill="#3c7a8f" shape-rendering="crispEdges"/>
<rect x="555.59" y="318.57" width="9.54" height="1.72" fill="#3f8c8c" shape-rendering="crispEdges"/>
<rect x="565.08" y="318.57" width="9.54" height="1.72" fill="#bad76a" shape-rendering="crispEdges"/>
<rect x="574.56" y="318.57" width="9.54" height="1.72" fill="#4ea685" shape-rendering="crispEdges"/>
<rect x="584.05" y="318.57" width="9.54" height="1.72" fill="#40908b" shape-rendering="crispEdges"/>
<rect x="593.54" y="318.57" width="9.54" height="1.72" fill="#439d89" shape-rendering="crispEdges"/>
<rect x="603.02" y="318.57" width="9.54" height="1.72" fill="#41968a" shape-rendering="crispEdges"/>
<rect x="612.51" y="318.57" width="9.54" height="1.72" fill="#439d89" shape-rendering="crispEdges"/>
<rect x="470.2" y="320.24" width="9.54" height="1.72" fill="#3f8d8c" shape-rendering="crispEdges"/>
<rect x="479.69" y="320.24" width="9.54" height="1.72" fill="#80c378" shape-rendering="crispEdges"/>
<rect x="489.18" y="320.24" width="9.54" height="1.72" fill="#5caf82" shape-rendering="crispEdges"/>
<rect x="498.66" y="320.24" width="9.54" height="1.72" fill="#5aad82" shape-rendering="crispEdges"/>
<rect x="508.15" y="320.24" width="9.54" height="1.72" fill="#67b67f" shape-rendering="crispEdges"/>
<rect x="517.64" y="320.24" width="9.54" height="1.72" fill="#63b380" shape-rendering="crispEdges"/>
<rect x="527.12" y="320.24" width="9.54" height="1.72" fill="#59ad83" shape-rendering="crispEdges"/>
<rect x="536.61" y="320.24" width="9.54" height="1.72" fill="#3d868d" shape-rendering="crispEdges"/>
<rect x="546.1" y="320.24" width="9.54" height="1.72" fill="#3f8e8c" shape-rendering="crispEdges"/>
<rect x="555.59" y="320.24" width="9.54" height="1.72" fill="#3f8c8c" shape-rendering="crispEdges"/>
<rect x="565.08" y="320.24" width="9.54" height="1.72" fill="#48a287" shape-rendering="crispEdges"/>
<rect x="574.56" y="320.24" width="9.54" height="1.72" fill="#50a785" shape-rendering="crispEdges"/>
<rect x="584.05" y="320.24" width="9.54" height="1.72" fill="#58ad83" shape-rendering="crispEdges"/>
<rect x="593.54" y="320.24" width="9.54" height="1.72" fill="#439e88" shape-rendering="crispEdges"/>
<rect x="603.02" y="320.24" width="9.54" height="1.72" fill="#51a885" shape-rendering="crispEdges"/>
<rect x="612.51" y="320.24" width="9.54" height="1.72" fill="#40928b" shape-rendering="crispEdges"/>
<rect x="470.2" y="321.92" width="9.54" height="1.72" fill="#6ab87e" shape-rendering="crispEdges"/>
<rect x="479.69" y="321.92" width="9.54" height="1.72" fill="#7cc279" shape-rendering="crispEdges"/>
<rect x="489.18" y="321.92" width="9.54" height="1.72" fill="#71bc7c" shape-rendering="crispEdges"/>
<rect x="498.66" y="321.92" width="9.54" height="1.72" fill="#83c478" shape-rendering="crispEdges"/>
<rect x="508.15" y="321.92" width="9.54" height="1.72" fill="#9dcd71" shape-rendering="crispEdges"/>
<rect x="517.64" y="321.92" width="9.54" height="1.72" fill="#86c577" shape-rendering="crispEdges"/>
<rect x="527.12" y="321.92" width="9.54" height="1.72" fill="#65b57f" shape-rendering="crispEdges"/>
<rect x="536.61" y="321.92" width="9.54" height="1.72" fill="#3d6991" shape-rendering="crispEdges"/>
<rect x="546.1" y="321.92" width="9.54" height="1.72" fill="#41978a" shape-rendering="crispEdges"/>
<rect x="555.59" y="321.92" width="9.54" height="1.72" fill="#3f8e8c" shape-rendering="crispEdges"/>
<rect x="565.08" y="321.92" width="9.54" height="1.72" fill="#8cc875" shape-rendering="crispEdges"/>
<rect x="574.56" y="321.92" width="9.54" height="1.72" fill="#3f8d8c" shape-rendering="crispEdges"/>
<rect x="584.05" y="321.92" width="9.54" height="1.72" fill="#40918b" shape-rendering="crispEdges"/>
<rect x="593.54" y="321.92" width="9.54" height="1.72" fill="#3e8b8c" shape-rendering="crispEdges"/>
<rect x="603.02" y="321.92" width="9.54" height="1.72" fill="#40918b" shape-rendering="crispEdges"/>
<rect x="612.51" y="321.92" width="9.54" height="1.72" fill="#49a387" shape-rendering="crispEdges"/>
<rect x="470.2" y="323.59" width="9.54" height="1.72" fill="#72bd7c" shape-rendering="crispEdges"/>
<rect x="479.69" y="323.59" width="9.54" height="1.72" fill="#8fc875" shape-rendering="crispEdges"/>
<rect x="489.18" y="323.59" width="9.54" height="1.72" fill="#6cb97d" shape-rendering="crispEdges"/>
<rect x="498.66" y="323.59" width="9.54" height="1.72" fill="#70bb7c" shape-rendering="crispEdges"/>
<rect x="508.15" y="323.59" width="9.54" height="1.72" fill="#7cc279" shape-rendering="crispEdges"/>
<rect x="517.64" y="323.59" width="9.54" height="1.72" fill="#59ad82" shape-rendering="crispEdges"/>
<rect x="527.12" y="323.59" width="9.54" height="1.72" fill="#60b181" shape-rendering="crispEdges"/>
<rect x="536.61" y="323.59" width="9.54" height="1.72" fill="#40508c" shape-rendering="crispEdges"/>
<rect x="546.1" y="323.59" width="9.54" height="1.72" fill="#3c7590" shape-rendering="crispEdges"/>
<rect x="555.59" y="323.59" width="9.54" height="1.72" fill="#3c818e" shape-rendering="crispEdges"/>
<rect x="565.08" y="323.59" width="9.54" height="1.72" fill="#71bc7c" shape-rendering="crispEdges"/>
<rect x="574.56" y="323.59" width="9.54" height="1.72" fill="#56ab83" shape-rendering="crispEdges"/>
<rect x="584.05" y="323.59" width="9.54" height="1.72" fill="#4ca586" shape-rendering="crispEdges"/>
<rect x="593.54" y="323.59" width="9.54" height="1.72" fill="#3c838e" shape-rendering="crispEdges"/>
<rect x="603.02" y="323.59" width="9.54" height="1.72" fill="#7fc378" shape-rendering="crispEdges"/>
<rect x="612.51" y="323.59" width="9.54" height="1.72" fill="#6eba7d" shape-rendering="crispEdges"/>
<rect x="470.2" y="325.26" width="9.54" height="1.72" fill="#54aa84" shape-rendering="crispEdges"/>
<rect x="479.69" y="325.26" width="9.54" height="1.72" fill="#5eb081" shape-rendering="crispEdges"/>
<rect x="489.18" y="325.26" width="9.54" height="1.72" fill="#69b77e" shape-rendering="crispEdges"/>
<rect x="498.66" y="325.26" width="9.54" height="1.72" fill="#6db97d" shape-rendering="crispEdges"/>
<rect x="508.15" y="325.26" width="9.54" height="1.72" fill="#62b380" shape-rendering="crispEdges"/>
<rect x="517.64" y="325.26" width="9.54" height="1.72" fill="#3f8e8c" shape-rendering="crispEdges"/>
<rect x="527.12" y="325.26" width="9.54" height="1.72" fill="#9dcd71" shape-rendering="crispEdges"/>
<rect x="536.61" y="325.26" width="9.54" height="1.72" fill="#3b7d8f" shape-rendering="crispEdges"/>
<rect x="546.1" y="325.26" width="9.54" height="1.72" fill="#429a89" shape-rendering="crispEdges"/>
<rect x="555.59" y="325.26" width="9.54" height="1.72" fill="#3b7d8f" shape-rendering="crispEdges"/>
<rect x="565.08" y="325.26" width="9.54" height="1.72" fill="#60b181" shape-rendering="crispEdges"/>
<rect x="574.56" y="325.26" width="9.54" height="1.72" fill="#72bd7c" shape-rendering="crispEdges"/>
<rect x="584.05" y="325.26" width="9.54" height="1.72" fill="#429a89" shape-rendering="crispEdges"/>
<rect x="593.54" y="325.26" width="9.54" height="1.72" fill="#6cb97d" shape-rendering="crispEdges"/>
<rect x="603.02" y="325.26" width="9.54" height="1.72" fill="#4ba486" shape-rendering="crispEdges"/>
<rect x="612.51" y="325.26" width="9.54" height="1.72" fill="#80c378" shape-rendering="crispEdges"/>
<rect x="470.2" y="326.94" width="9.54" height="1.72" fill="#a0ce70" shape-rendering="crispEdges"/>
<rect x="479.69" y="326.94" width="9.54" height="1.72" fill="#5db081" shape-rendering="crispEdges"/>
<rect x="489.18" y="326.94" width="9.54" height="1.72" fill="#a4d06f" shape-rendering="crispEdges"/>
<rect x="498.66" y="326.94" width="9.54" height="1.72" fill="#82c478" shape-rendering="crispEdges"/>
<rect x="508.15" y="326.94" width="9.54" height="1.72" fill="#72bd7c" shape-rendering="crispEdges"/>
<rect x="517.64" y="326.94" width="9.54" height="1.72" fill="#93ca73" shape-rendering="crispEdges"/>
<rect x="527.12" y="326.94" width="9.54" height="1.72" fill="#6cb97d" shape-rendering="crispEdges"/>
<rect x="536.61" y="326.94" width="9.54" height="1.72" fill="#3c7690" shape-rendering="crispEdges"/>
<rect x="546.1" y="326.94" width="9.54" height="1.72" fill="#41978a" shape-rendering="crispEdges"/>
<rect x="555.59" y="326.94" width="9.54" height="1.72" fill="#41958a" shape-rendering="crispEdges"/>
<rect x="565.08" y="326.94" width="9.54" height="1.72" fill="#bed868" shape-rendering="crispEdges"/>
<rect x="574.56" y="326.94" width="9.54" height="1.72" fill="#77c07b" shape-rendering="crispEdges"/>
<rect x="584.05" y="326.94" width="9.54" height="1.72" fill="#9dcd71" shape-rendering="crispEdges"/>
<rect x="593.54" y="326.94" width="9.54" height="1.72" fill="#54aa84" shape-rendering="crispEdges"/>
<rect x="603.02" y="326.94" width="9.54" height="1.72" fill="#44a088" shape-rendering="crispEdges"/>
<rect x="612.51" y="326.94" width="9.54" height="1.72" fill="#50a885" shape-rendering="crispEdges"/>
<rect x="470.2" y="328.61" width="9.54" height="1.72" fill="#5eb081" shape-rendering="crispEdges"/>
<rect x="479.69" y="328.61" width="9.54" height="1.72" fill="#82c478" shape-rendering="crispEdges"/>
<rect x="489.18" y="328.61" width="9.54" height="1.72" fill="#61b280" shape-rendering="crispEdges"/>
<rect x="498.66" y="328.61" width="9.54" height="1.72" fill="#70bb7c" shape-rendering="crispEdges"/>
<rect x="508.15" y="328.61" width="9.54" height="1.72" fill="#72bd7c" shape-rendering="crispEdges"/>
<rect x="517.64" y="328.61" width="9.54" height="1.72" fill="#69b77e" shape-rendering="crispEdges"/>
<rect x="527.12" y="328.61" width="9.54" height="1.72" fill="#5aae82" shape-rendering="crispEdges"/>
<rect x="536.61" y="328.61" width="9.54" height="1.72" fill="#3d6b91" shape-rendering="crispEdges"/>
<rect x="546.1" y="328.61" width="9.54" height="1.72" fill="#3d878d" shape-rendering="crispEdges"/>
<rect x="555.59" y="328.61" width="9.54" height="1.72" fill="#439b89" shape-rendering="crispEdges"/>
<rect x="565.08" y="328.61" width="9.54" height="1.72" fill="#88c676" shape-rendering="crispEdges"/>
<rect x="574.56" y="328.61" width="9.54" height="1.72" fill="#6ab87e" shape-rendering="crispEdges"/>
<rect x="584.05" y="328.61" width="9.54" height="1.72" fill="#41948a" shape-rendering="crispEdges"/>
<rect x="593.54" y="328.61" width="9.54" height="1.72" fill="#41958a" shape-rendering="crispEdges"/>
<rect x="603.02" y="328.61" width="9.54" height="1.72" fill="#3c828e" shape-rendering="crispEdges"/>
<rect x="612.51" y="328.61" width="9.54" height="1.72" fill="#3f8f8c" shape-rendering="crispEdges"/>
<rect x="470.2" y="330.29" width="9.54" height="1.72" fill="#84c577" shape-rendering="crispEdges"/>
<rect x="479.69" y="330.29" width="9.54" height="1.72" fill="#8cc775" shape-rendering="crispEdges"/>
<rect x="489.18" y="330.29" width="9.54" height="1.72" fill="#7dc279" shape-rendering="crispEdges"/>
<rect x="498.66" y="330.29" width="9.54" height="1.72" fill="#add36d" shape-rendering="crispEdges"/>
<rect x="508.15" y="330.29" width="9.54" height="1.72" fill="#87c676" shape-rendering="crispEdges"/>
<rect x="517.64" y="330.29" width="9.54" height="1.72" fill="#a4d06f" shape-rendering="crispEdges"/>
<rect x="527.12" y="330.29" width="9.54" height="1.72" fill="#7ec379" shape-rendering="crispEdges"/>
<rect x="536.61" y="330.29" width="9.54" height="1.72" fill="#3c7590" shape-rendering="crispEdges"/>
<rect x="546.1" y="330.29" width="9.54" height="1.72" fill="#3c7390" shape-rendering="crispEdges"/>
<rect x="555.59" y="330.29" width="9.54" height="1.72" fill="#3d6891" shape-rendering="crispEdges"/>
<rect x="565.08" y="330.29" width="9.54" height="1.72" fill="#a9d26e" shape-rendering="crispEdges"/>
<rect x="574.56" y="330.29" width="9.54" height="1.72" fill="#439c89" shape-rendering="crispEdges"/>
<rect x="584.05" y="330.29" width="9.54" height="1.72" fill="#45a188" shape-rendering="crispEdges"/>
<rect x="593.54" y="330.29" width="9.54" height="1.72" fill="#55aa84" shape-rendering="crispEdges"/>
<rect x="603.02" y="330.29" width="9.54" height="1.72" fill="#51a885" shape-rendering="crispEdges"/>
<rect x="612.51" y="330.29" width="9.54" height="1.72" fill="#47a287" shape-rendering="crispEdges"/>
<rect x="470.2" y="331.96" width="9.54" height="1.72" fill="#54aa84" shape-rendering="crispEdges"/>
<rect x="479.69" y="331.96" width="9.54" height="1.72" fill="#69b77e" shape-rendering="crispEdges"/>
<rect x="489.18" y="331.96" width="9.54" height="1.72" fill="#74be7b" shape-rendering="crispEdges"/>
<rect x="498.66" y="331.96" width="9.54" height="1.72" fill="#6bb87e" shape-rendering="crispEdges"/>
<rect x="508.15" y="331.96" width="9.54" height="1.72" fill="#6bb87e" shape-rendering="crispEdges"/>
<rect x="517.64" y="331.96" width="9.54" height="1.72" fill="#4fa785" shape-rendering="crispEdges"/>
<rect x="527.12" y="331.96" width="9.54" height="1.72" fill="#5bae82" shape-rendering="crispEdges"/>
<rect x="536.61" y="331.96" width="9.54" height="1.72" fill="#3b7f8f" shape-rendering="crispEdges"/>
<rect x="546.1" y="331.96" width="9.54" height="1.72" fill="#3b7e8f" shape-rendering="crispEdges"/>
<rect x="555.59" y="331.96" width="9.54" height="1.72" fill="#3b808f" shape-rendering="crispEdges"/>
<rect x="565.08" y="331.96" width="9.54" height="1.72" fill="#78c07a" shape-rendering="crispEdges"/>
<rect x="574.56" y="331.96" width="9.54" height="1.72" fill="#8ac776" shape-rendering="crispEdges"/>
<rect x="584.05" y="331.96" width="9.54" height="1.72" fill="#58ac83" shape-rendering="crispEdges"/>
<rect x="593.54" y="331.96" width="9.54" height="1.72" fill="#45a188" shape-rendering="crispEdges"/>
<rect x="603.02" y="331.96" width="9.54" height="1.72" fill="#3f8e8c" shape-rendering="crispEdges"/>
<rect x="612.51" y="331.96" width="9.54" height="1.72" fill="#49a387" shape-rendering="crispEdges"/>
<rect x="470.2" y="333.63" width="9.54" height="1.72" fill="#6dba7d" shape-rendering="crispEdges"/>
<rect x="479.69" y="333.63" width="9.54" height="1.72" fill="#80c378" shape-rendering="crispEdges"/>
<rect x="489.18" y="333.63" width="9.54" height="1.72" fill="#77c07b" shape-rendering="crispEdges"/>
<rect x="498.66" y="333.63" width="9.54" height="1.72" fill="#85c577" shape-rendering="crispEdges"/>
<rect x="508.15" y="333.63" width="9.54" height="1.72" fill="#55ab84" shape-rendering="crispEdges"/>
<rect x="517.64" y="333.63" width="9.54" height="1.72" fill="#4ca586" shape-rendering="crispEdges"/>
<rect x="527.12" y="333.63" width="9.54" height="1.72" fill="#80c478" shape-rendering="crispEdges"/>
<rect x="536.61" y="333.63" width="9.54" height="1.72" fill="#3b7e8f" shape-rendering="crispEdges"/>
<rect x="546.1" y="333.63" width="9.54" height="1.72" fill="#3b7a8f" shape-rendering="crispEdges"/>
<rect x="555.59" y="333.63" width="9.54" height="1.72" fill="#3e8a8d" shape-rendering="crispEdges"/>
<rect x="565.08" y="333.63" width="9.54" height="1.72" fill="#46a187" shape-rendering="crispEdges"/>
<rect x="574.56" y="333.63" width="9.54" height="1.72" fill="#51a885" shape-rendering="crispEdges"/>
<rect x="584.05" y="333.63" width="9.54" height="1.72" fill="#52a984" shape-rendering="crispEdges"/>
<rect x="593.54" y="333.63" width="9.54" height="1.72" fill="#63b380" shape-rendering="crispEdges"/>
<rect x="603.02" y="333.63" width="9.54" height="1.72" fill="#3e8c8c" shape-rendering="crispEdges"/>
<rect x="612.51" y="333.63" width="9.54" height="1.72" fill="#3e8b8d" shape-rendering="crispEdges"/>
<rect x="470.2" y="335.31" width="9.54" height="1.72" fill="#7dc279" shape-rendering="crispEdges"/>
<rect x="479.69" y="335.31" width="9.54" height="1.72" fill="#b0d46c" shape-rendering="crispEdges"/>
<rect x="489.18" y="335.31" width="9.54" height="1.72" fill="#6db97d" shape-rendering="crispEdges"/>
<rect x="498.66" y="335.31" width="9.54" height="1.72" fill="#73bd7c" shape-rendering="crispEdges"/>
<rect x="508.15" y="335.31" width="9.54" height="1.72" fill="#4aa486" shape-rendering="crispEdges"/>
<rect x="517.64" y="335.31" width="9.54" height="1.72" fill="#a1cf70" shape-rendering="crispEdges"/>
<rect x="527.12" y="335.31" width="9.54" height="1.72" fill="#9ece71" shape-rendering="crispEdges"/>
<rect x="536.61" y="335.31" width="9.54" height="1.72" fill="#3d6d90" shape-rendering="crispEdges"/>
<rect x="546.1" y="335.31" width="9.54" height="1.72" fill="#3b808f" shape-rendering="crispEdges"/>
<rect x="555.59" y="335.31" width="9.54" height="1.72" fill="#3f5c92" shape-rendering="crispEdges"/>
<rect x="565.08" y="335.31" width="9.54" height="1.72" fill="#57ac83" shape-rendering="crispEdges"/>
<rect x="574.56" y="335.31" width="9.54" height="1.72" fill="#42988a" shape-rendering="crispEdges"/>
<rect x="584.05" y="335.31" width="9.54" height="1.72" fill="#80c378" shape-rendering="crispEdges"/>
<rect x="593.54" y="335.31" width="9.54" height="1.72" fill="#56ac83" shape-rendering="crispEdges"/>
<rect x="603.02" y="335.31" width="9.54" height="1.72" fill="#3f8d8c" shape-rendering="crispEdges"/>
<rect x="612.51" y="335.31" width="9.54" height="1.72" fill="#4da686" shape-rendering="crispEdges"/>
<rect x="470.2" y="336.98" width="9.54" height="1.72" fill="#92ca74" shape-rendering="crispEdges"/>
<rect x="479.69" y="336.98" width="9.54" height="1.72" fill="#75bf7b" shape-rendering="crispEdges"/>
<rect x="489.18" y="336.98" width="9.54" height="1.72" fill="#7dc279" shape-rendering="crispEdges"/>
<rect x="498.66" y="336.98" width="9.54" height="1.72" fill="#9ccd71" shape-rendering="crispEdges"/>
<rect x="508.15" y="336.98" width="9.54" height="1.72" fill="#97cb73" shape-rendering="crispEdges"/>
<rect x="517.64" y="336.98" width="9.54" height="1.72" fill="#79c17a" shape-rendering="crispEdges"/>
<rect x="527.12" y="336.98" width="9.54" height="1.72" fill="#bad76a" shape-rendering="crispEdges"/>
<rect x="536.61" y="336.98" width="9.54" height="1.72" fill="#3d6b91" shape-rendering="crispEdges"/>
<rect x="546.1" y="336.98" width="9.54" height="1.72" fill="#3b7e8f" shape-rendering="crispEdges"/>
<rect x="555.59" y="336.98" width="9.54" height="1.72" fill="#40908b" shape-rendering="crispEdges"/>
<rect x="565.08" y="336.98" width="9.54" height="1.72" fill="#9bcd71" shape-rendering="crispEdges"/>
<rect x="574.56" y="336.98" width="9.54" height="1.72" fill="#44a088" shape-rendering="crispEdges"/>
<rect x="584.05" y="336.98" width="9.54" height="1.72" fill="#7cc279" shape-rendering="crispEdges"/>
<rect x="593.54" y="336.98" width="9.54" height="1.72" fill="#5db081" shape-rendering="crispEdges"/>
<rect x="603.02" y="336.98" width="9.54" height="1.72" fill="#439b89" shape-rendering="crispEdges"/>
<rect x="612.51" y="336.98" width="9.54" height="1.72" fill="#56ab83" shape-rendering="crispEdges"/>
<rect x="470.2" y="338.66" width="9.54" height="1.72" fill="#81c478" shape-rendering="crispEdges"/>
<rect x="479.69" y="338.66" width="9.54" height="1.72" fill="#a1cf70" shape-rendering="crispEdges"/>
<rect x="489.18" y="338.66" width="9.54" height="1.72" fill="#7dc279" shape-rendering="crispEdges"/>
<rect x="498.66" y="338.66" width="9.54" height="1.72" fill="#7fc379" shape-rendering="crispEdges"/>
<rect x="508.15" y="338.66" width="9.54" height="1.72" fill="#99cc72" shape-rendering="crispEdges"/>
<rect x="517.64" y="338.66" width="9.54" height="1.72" fill="#67b67f" shape-rendering="crispEdges"/>
<rect x="527.12" y="338.66" width="9.54" height="1.72" fill="#76bf7b" shape-rendering="crispEdges"/>
<rect x="536.61" y="338.66" width="9.54" height="1.72" fill="#40558f" shape-rendering="crispEdges"/>
<rect x="546.1" y="338.66" width="9.54" height="1.72" fill="#40908b" shape-rendering="crispEdges"/>
<rect x="555.59" y="338.66" width="9.54" height="1.72" fill="#3c7790" shape-rendering="crispEdges"/>
<rect x="565.08" y="338.66" width="9.54" height="1.72" fill="#bfd868" shape-rendering="crispEdges"/>
<rect x="574.56" y="338.66" width="9.54" height="1.72" fill="#78c07a" shape-rendering="crispEdges"/>
<rect x="584.05" y="338.66" width="9.54" height="1.72" fill="#3f8d8c" shape-rendering="crispEdges"/>
<rect x="593.54" y="338.66" width="9.54" height="1.72" fill="#439b89" shape-rendering="crispEdges"/>
<rect x="603.02" y="338.66" width="9.54" height="1.72" fill="#40928b" shape-rendering="crispEdges"/>
<rect x="612.51" y="338.66" width="9.54" height="1.72" fill="#439d89" shape-rendering="crispEdges"/>
<rect x="470.2" y="340.33" width="9.54" height="1.72" fill="#aed36d" shape-rendering="crispEdges"/>
<rect x="479.69" y="340.33" width="9.54" height="1.72" fill="#c2d967" shape-rendering="crispEdges"/>
<rect x="489.18" y="340.33" width="9.54" height="1.72" fill="#bcd869" shape-rendering="crispEdges"/>
<rect x="498.66" y="340.33" width="9.54" height="1.72" fill="#69b77e" shape-rendering="crispEdges"/>
<rect x="508.15" y="340.33" width="9.54" height="1.72" fill="#7cc279" shape-rendering="crispEdges"/>
<rect x="517.64" y="340.33" width="9.54" height="1.72" fill="#80c378" shape-rendering="crispEdges"/>
<rect x="527.12" y="340.33" width="9.54" height="1.72" fill="#77c07b" shape-rendering="crispEdges"/>
<rect x="536.61" y="340.33" width="9.54" height="1.72" fill="#3e6891" shape-rendering="crispEdges"/>
<rect x="546.1" y="340.33" width="9.54" height="1.72" fill="#3f8f8c" shape-rendering="crispEdges"/>
<rect x="555.59" y="340.33" width="9.54" height="1.72" fill="#3c798f" shape-rendering="crispEdges"/>
<rect x="565.08" y="340.33" width="9.54" height="1.72" fill="#70bb7d" shape-rendering="crispEdges"/>
<rect x="574.56" y="340.33" width="9.54" height="1.72" fill="#97cb73" shape-rendering="crispEdges"/>
<rect x="584.05" y="340.33" width="9.54" height="1.72" fill="#54aa84" shape-rendering="crispEdges"/>
<rect x="593.54" y="340.33" width="9.54" height="1.72" fill="#83c478" shape-rendering="crispEdges"/>
<rect x="603.02" y="340.33" width="9.54" height="1.72" fill="#3f8e8c" shape-rendering="crispEdges"/>
<rect x="612.51" y="340.33" width="9.54" height="1.72" fill="#6bb87e" shape-rendering="crispEdges"/>
<rect x="470.2" y="342" width="9.54" height="1.72" fill="#bed868" shape-rendering="crispEdges"/>
<rect x="479.69" y="342" width="9.54" height="1.72" fill="#92ca74" shape-rendering="crispEdges"/>
<rect x="489.18" y="342" width="9.54" height="1.72" fill="#b0d46c" shape-rendering="crispEdges"/>
<rect x="498.66" y="342" width="9.54" height="1.72" fill="#88c676" shape-rendering="crispEdges"/>
<rect x="508.15" y="342" width="9.54" height="1.72" fill="#82c478" shape-rendering="crispEdges"/>
<rect x="517.64" y="342" width="9.54" height="1.72" fill="#9bcd71" shape-rendering="crispEdges"/>
<rect x="527.12" y="342" width="9.54" height="1.72" fill="#a2cf70" shape-rendering="crispEdges"/>
<rect x="536.61" y="342" width="9.54" height="1.72" fill="#3f5d92" shape-rendering="crispEdges"/>
<rect x="546.1" y="342" width="9.54" height="1.72" fill="#3b7e8f" shape-rendering="crispEdges"/>
<rect x="555.59" y="342" width="9.54" height="1.72" fill="#3d878d" shape-rendering="crispEdges"/>
<rect x="565.08" y="342" width="9.54" height="1.72" fill="#81c478" shape-rendering="crispEdges"/>
<rect x="574.56" y="342" width="9.54" height="1.72" fill="#4da686" shape-rendering="crispEdges"/>
<rect x="584.05" y="342" width="9.54" height="1.72" fill="#50a785" shape-rendering="crispEdges"/>
<rect x="593.54" y="342" width="9.54" height="1.72" fill="#46a187" shape-rendering="crispEdges"/>
<rect x="603.02" y="342" width="9.54" height="1.72" fill="#46a187" shape-rendering="crispEdges"/>
<rect x="612.51" y="342" width="9.54" height="1.72" fill="#3d858e" shape-rendering="crispEdges"/>
<rect x="470.2" y="343.68" width="9.54" height="1.72" fill="#6bb87e" shape-rendering="crispEdges"/>
<rect x="479.69" y="343.68" width="9.54" height="1.72" fill="#8cc775" shape-rendering="crispEdges"/>
<rect x="489.18" y="343.68" width="9.54" height="1.72" fill="#50a785" shape-rendering="crispEdges"/>
<rect x="498.66" y="343.68" width="9.54" height="1.72" fill="#74be7b" shape-rendering="crispEdges"/>
<rect x="508.15" y="343.68" width="9.54" height="1.72" fill="#52a984" shape-rendering="crispEdges"/>
<rect x="517.64" y="343.68" width="9.54" height="1.72" fill="#81c478" shape-rendering="crispEdges"/>
<rect x="527.12" y="343.68" width="9.54" height="1.72" fill="#61b280" shape-rendering="crispEdges"/>
<rect x="536.61" y="343.68" width="9.54" height="1.72" fill="#3d6b91" shape-rendering="crispEdges"/>
<rect x="546.1" y="343.68" width="9.54" height="1.72" fill="#42988a" shape-rendering="crispEdges"/>
<rect x="555.59" y="343.68" width="9.54" height="1.72" fill="#46a187" shape-rendering="crispEdges"/>
<rect x="565.08" y="343.68" width="9.54" height="1.72" fill="#52a984" shape-rendering="crispEdges"/>
<rect x="574.56" y="343.68" width="9.54" height="1.72" fill="#52a984" shape-rendering="crispEdges"/>
<rect x="584.05" y="343.68" width="9.54" height="1.72" fill="#3c7590" shape-rendering="crispEdges"/>
<rect x="593.54" y="343.68" width="9.54" height="1.72" fill="#42988a" shape-rendering="crispEdges"/>
<rect x="603.02" y="343.68" width="9.54" height="1.72" fill="#40908b" shape-rendering="crispEdges"/>
<rect x="612.51" y="343.68" width="9.54" height="1.72" fill="#5baf82" shape-rendering="crispEdges"/>
<rect x="470.2" y="345.35" width="9.54" height="1.72" fill="#7ac17a" shape-rendering="crispEdges"/>
<rect x="479.69" y="345.35" width="9.54" height="1.72" fill="#65b57f" shape-rendering="crispEdges"/>
<rect x="489.18" y="345.35" width="9.54" height="1.72" fill="#73bd7c" shape-rendering="crispEdges"/>
<rect x="498.66" y="345.35" width="9.54" height="1.72" fill="#5db081" shape-rendering="crispEdges"/>
<rect x="508.15" y="345.35" width="9.54" height="1.72" fill="#78c07a" shape-rendering="crispEdges"/>
<rect x="517.64" y="345.35" width="9.54" height="1.72" fill="#52a984" shape-rendering="crispEdges"/>
<rect x="527.12" y="345.35" width="9.54" height="1.72" fill="#75bf7b" shape-rendering="crispEdges"/>
<rect x="536.61" y="345.35" width="9.54" height="1.72" fill="#3b7c8f" shape-rendering="crispEdges"/>
<rect x="546.1" y="345.35" width="9.54" height="1.72" fill="#62b380" shape-rendering="crispEdges"/>
<rect x="555.59" y="345.35" width="9.54" height="1.72" fill="#439d89" shape-rendering="crispEdges"/>
<rect x="565.08" y="345.35" width="9.54" height="1.72" fill="#9fce71" shape-rendering="crispEdges"/>
<rect x="574.56" y="345.35" width="9.54" height="1.72" fill="#66b57f" shape-rendering="crispEdges"/>
<rect x="584.05" y="345.35" width="9.54" height="1.72" fill="#79c17a" shape-rendering="crispEdges"/>
<rect x="593.54" y="345.35" width="9.54" height="1.72" fill="#439b89" shape-rendering="crispEdges"/>
<rect x="603.02" y="345.35" width="9.54" height="1.72" fill="#4da686" shape-rendering="crispEdges"/>
<rect x="612.51" y="345.35" width="9.54" height="1.72" fill="#3b7b8f" shape-rendering="crispEdges"/>
<rect x="470.2" y="347.03" width="9.54" height="1.72" fill="#8cc775" shape-rendering="crispEdges"/>
<rect x="479.69" y="347.03" width="9.54" height="1.72" fill="#52a884" shape-rendering="crispEdges"/>
<rect x="489.18" y="347.03" width="9.54" height="1.72" fill="#7ac17a" shape-rendering="crispEdges"/>
<rect x="498.66" y="347.03" width="9.54" height="1.72" fill="#6cb97d" shape-rendering="crispEdges"/>
<rect x="508.15" y="347.03" width="9.54" height="1.72" fill="#69b77e" shape-rendering="crispEdges"/>
<rect x="517.64" y="347.03" width="9.54" height="1.72" fill="#75be7b" shape-rendering="crispEdges"/>
<rect x="527.12" y="347.03" width="9.54" height="1.72" fill="#69b77e" shape-rendering="crispEdges"/>
<rect x="536.61" y="347.03" width="9.54" height="1.72" fill="#3f5991" shape-rendering="crispEdges"/>
<rect x="546.1" y="347.03" width="9.54" height="1.72" fill="#3e888d" shape-rendering="crispEdges"/>
<rect x="555.59" y="347.03" width="9.54" height="1.72" fill="#3e6691" shape-rendering="crispEdges"/>
<rect x="565.08" y="347.03" width="9.54" height="1.72" fill="#9dcd71" shape-rendering="crispEdges"/>
<rect x="574.56" y="347.03" width="9.54" height="1.72" fill="#4fa785" shape-rendering="crispEdges"/>
<rect x="584.05" y="347.03" width="9.54" height="1.72" fill="#64b480" shape-rendering="crispEdges"/>
<rect x="593.54" y="347.03" width="9.54" height="1.72" fill="#3e8a8d" shape-rendering="crispEdges"/>
<rect x="603.02" y="347.03" width="9.54" height="1.72" fill="#84c577" shape-rendering="crispEdges"/>
<rect x="612.51" y="347.03" width="9.54" height="1.72" fill="#68b67e" shape-rendering="crispEdges"/>
<rect x="470.2" y="182" width="9.54" height="4.6" fill="#4a55ad"/>
<rect x="479.69" y="182" width="9.54" height="4.6" fill="#4a55ad"/>
<rect x="489.18" y="182" width="9.54" height="4.6" fill="#4a55ad"/>
<rect x="498.66" y="182" width="9.54" height="4.6" fill="#4a55ad"/>
<rect x="508.15" y="182" width="9.54" height="4.6" fill="#4a55ad"/>
<rect x="517.64" y="182" width="9.54" height="4.6" fill="#4a55ad"/>
<rect x="527.12" y="182" width="9.54" height="4.6" fill="#4a55ad"/>
<rect x="536.61" y="182" width="9.54" height="4.6" fill="#f0924d"/>
<rect x="546.1" y="182" width="9.54" height="4.6" fill="#f0924d"/>
<rect x="555.59" y="182" width="9.54" height="4.6" fill="#f0924d"/>
<rect x="565.08" y="182" width="9.54" height="4.6" fill="#4a55ad"/>
<rect x="574.56" y="182" width="9.54" height="4.6" fill="#f0924d"/>
<rect x="584.05" y="182" width="9.54" height="4.6" fill="#f0924d"/>
<rect x="593.54" y="182" width="9.54" height="4.6" fill="#f0924d"/>
<rect x="603.02" y="182" width="9.54" height="4.6" fill="#f0924d"/>
<rect x="612.51" y="182" width="9.54" height="4.6" fill="#f0924d"/>
<text x="623.3" y="186.2" font-size="4.6" font-weight="bold" fill="#111">Group</text>
<line x1="503.41" y1="172.2" x2="503.41" y2="182" stroke="#111" stroke-width="0.6"/>
<line x1="512.89" y1="172.2" x2="512.89" y2="182" stroke="#111" stroke-width="0.6"/>
<line x1="503.11" y1="172.2" x2="513.19" y2="172.2" stroke="#111" stroke-width="0.6"/>
<line x1="522.38" y1="171.5" x2="522.38" y2="182" stroke="#111" stroke-width="0.6"/>
<line x1="531.87" y1="171.5" x2="531.87" y2="182" stroke="#111" stroke-width="0.6"/>
<line x1="522.08" y1="171.5" x2="532.17" y2="171.5" stroke="#111" stroke-width="0.6"/>
<line x1="508.15" y1="170.5" x2="508.15" y2="172.2" stroke="#111" stroke-width="0.6"/>
<line x1="527.12" y1="170.5" x2="527.12" y2="171.5" stroke="#111" stroke-width="0.6"/>
<line x1="507.85" y1="170.5" x2="527.42" y2="170.5" stroke="#111" stroke-width="0.6"/>
<line x1="493.92" y1="169.3" x2="493.92" y2="182" stroke="#111" stroke-width="0.6"/>
<line x1="517.64" y1="169.3" x2="517.64" y2="170.5" stroke="#111" stroke-width="0.6"/>
<line x1="493.62" y1="169.3" x2="517.94" y2="169.3" stroke="#111" stroke-width="0.6"/>
<line x1="484.43" y1="168" x2="484.43" y2="182" stroke="#111" stroke-width="0.6"/>
<line x1="505.78" y1="168" x2="505.78" y2="169.3" stroke="#111" stroke-width="0.6"/>
<line x1="484.13" y1="168" x2="506.08" y2="168" stroke="#111" stroke-width="0.6"/>
<line x1="474.94" y1="166.8" x2="474.94" y2="182" stroke="#111" stroke-width="0.6"/>
<line x1="495.1" y1="166.8" x2="495.1" y2="168" stroke="#111" stroke-width="0.6"/>
<line x1="474.64" y1="166.8" x2="495.4" y2="166.8" stroke="#111" stroke-width="0.6"/>
<line x1="550.84" y1="172.5" x2="550.84" y2="182" stroke="#111" stroke-width="0.6"/>
<line x1="560.33" y1="172.5" x2="560.33" y2="182" stroke="#111" stroke-width="0.6"/>
<line x1="550.54" y1="172.5" x2="560.63" y2="172.5" stroke="#111" stroke-width="0.6"/>
<line x1="541.36" y1="170.8" x2="541.36" y2="182" stroke="#111" stroke-width="0.6"/>
<line x1="555.59" y1="170.8" x2="555.59" y2="172.5" stroke="#111" stroke-width="0.6"/>
<line x1="541.06" y1="170.8" x2="555.89" y2="170.8" stroke="#111" stroke-width="0.6"/>
<line x1="607.77" y1="172" x2="607.77" y2="182" stroke="#111" stroke-width="0.6"/>
<line x1="617.26" y1="172" x2="617.26" y2="182" stroke="#111" stroke-width="0.6"/>
<line x1="607.47" y1="172" x2="617.56" y2="172" stroke="#111" stroke-width="0.6"/>
<line x1="598.28" y1="171" x2="598.28" y2="182" stroke="#111" stroke-width="0.6"/>
<line x1="612.51" y1="171" x2="612.51" y2="172" stroke="#111" stroke-width="0.6"/>
<line x1="597.98" y1="171" x2="612.81" y2="171" stroke="#111" stroke-width="0.6"/>
<line x1="588.79" y1="169.8" x2="588.79" y2="182" stroke="#111" stroke-width="0.6"/>
<line x1="605.4" y1="169.8" x2="605.4" y2="171" stroke="#111" stroke-width="0.6"/>
<line x1="588.49" y1="169.8" x2="605.7" y2="169.8" stroke="#111" stroke-width="0.6"/>
<line x1="579.31" y1="168.2" x2="579.31" y2="182" stroke="#111" stroke-width="0.6"/>
<line x1="597.1" y1="168.2" x2="597.1" y2="169.8" stroke="#111" stroke-width="0.6"/>
<line x1="579.01" y1="168.2" x2="597.4" y2="168.2" stroke="#111" stroke-width="0.6"/>
<line x1="569.82" y1="166.8" x2="569.82" y2="182" stroke="#111" stroke-width="0.6"/>
<line x1="588.2" y1="166.8" x2="588.2" y2="168.2" stroke="#111" stroke-width="0.6"/>
<line x1="569.52" y1="166.8" x2="588.5" y2="166.8" stroke="#111" stroke-width="0.6"/>
<line x1="548.47" y1="164.5" x2="548.47" y2="170.8" stroke="#111" stroke-width="0.6"/>
<line x1="579.01" y1="164.5" x2="579.01" y2="166.8" stroke="#111" stroke-width="0.6"/>
<line x1="548.17" y1="164.5" x2="579.31" y2="164.5" stroke="#111" stroke-width="0.6"/>
<line x1="485.02" y1="156.5" x2="485.02" y2="166.8" stroke="#111" stroke-width="0.6"/>
<line x1="563.74" y1="156.5" x2="563.74" y2="164.5" stroke="#111" stroke-width="0.6"/>
<line x1="484.72" y1="156.5" x2="564.04" y2="156.5" stroke="#111" stroke-width="0.6"/>
<rect x="458.6" y="188" width="11.6" height="160.7" fill="#000"/>
<line x1="445.3" y1="200" x2="445.3" y2="330" stroke="#111" stroke-width="0.5"/>
<line x1="445.3" y1="200" x2="450" y2="200" stroke="#111" stroke-width="0.5"/>
<line x1="445.3" y1="330" x2="448" y2="330" stroke="#111" stroke-width="0.5"/>
<line x1="450" y1="193.19" x2="450" y2="206.19" stroke="#111" stroke-width="0.5"/>
<line x1="450" y1="193.19" x2="451.9" y2="193.19" stroke="#111" stroke-width="0.5"/>
<line x1="450" y1="206.19" x2="451.82" y2="206.19" stroke="#111" stroke-width="0.5"/>
<line x1="451.9" y1="190.56" x2="451.9" y2="195.76" stroke="#111" stroke-width="0.5"/>
<line x1="451.9" y1="190.56" x2="453.05" y2="190.56" stroke="#111" stroke-width="0.5"/>
<line x1="451.9" y1="195.76" x2="453.97" y2="195.76" stroke="#111" stroke-width="0.5"/>
<line x1="453.05" y1="189.52" x2="453.05" y2="192.08" stroke="#111" stroke-width="0.5"/>
<line x1="453.05" y1="189.52" x2="454.67" y2="189.52" stroke="#111" stroke-width="0.5"/>
<line x1="453.05" y1="192.08" x2="454.66" y2="192.08" stroke="#111" stroke-width="0.5"/>
<line x1="454.67" y1="188.64" x2="454.67" y2="190.16" stroke="#111" stroke-width="0.5"/>
<line x1="454.67" y1="188.64" x2="455.47" y2="188.64" stroke="#111" stroke-width="0.5"/>
<line x1="454.67" y1="190.16" x2="456.06" y2="190.16" stroke="#111" stroke-width="0.5"/>
<line x1="456.06" y1="189.74" x2="456.06" y2="190.62" stroke="#111" stroke-width="0.5"/>
<line x1="456.06" y1="189.74" x2="456.97" y2="189.74" stroke="#111" stroke-width="0.5"/>
<line x1="456.06" y1="190.62" x2="458.13" y2="190.62" stroke="#111" stroke-width="0.5"/>
<line x1="454.66" y1="191.48" x2="454.66" y2="192.52" stroke="#111" stroke-width="0.5"/>
<line x1="454.66" y1="191.48" x2="455.83" y2="191.48" stroke="#111" stroke-width="0.5"/>
<line x1="454.66" y1="192.52" x2="455.53" y2="192.52" stroke="#111" stroke-width="0.5"/>
<line x1="453.97" y1="194.84" x2="453.97" y2="197.46" stroke="#111" stroke-width="0.5"/>
<line x1="453.97" y1="194.84" x2="455.95" y2="194.84" stroke="#111" stroke-width="0.5"/>
<line x1="453.97" y1="197.46" x2="456.17" y2="197.46" stroke="#111" stroke-width="0.5"/>
<line x1="455.95" y1="194.04" x2="455.95" y2="195.75" stroke="#111" stroke-width="0.5"/>
<line x1="455.95" y1="194.04" x2="456.81" y2="194.04" stroke="#111" stroke-width="0.5"/>
<line x1="455.95" y1="195.75" x2="457.28" y2="195.75" stroke="#111" stroke-width="0.5"/>
<line x1="456.81" y1="193.58" x2="456.81" y2="194.5" stroke="#111" stroke-width="0.5"/>
<line x1="456.81" y1="193.58" x2="457.79" y2="193.58" stroke="#111" stroke-width="0.5"/>
<line x1="456.81" y1="194.5" x2="458.6" y2="194.5" stroke="#111" stroke-width="0.5"/>
<line x1="456.17" y1="196.97" x2="456.17" y2="197.89" stroke="#111" stroke-width="0.5"/>
<line x1="456.17" y1="196.97" x2="457.22" y2="196.97" stroke="#111" stroke-width="0.5"/>
<line x1="456.17" y1="197.89" x2="458.28" y2="197.89" stroke="#111" stroke-width="0.5"/>
<line x1="451.82" y1="201.41" x2="451.82" y2="209.22" stroke="#111" stroke-width="0.5"/>
<line x1="451.82" y1="201.41" x2="454.1" y2="201.41" stroke="#111" stroke-width="0.5"/>
<line x1="451.82" y1="209.22" x2="453.34" y2="209.22" stroke="#111" stroke-width="0.5"/>
<line x1="454.1" y1="199.95" x2="454.1" y2="202.97" stroke="#111" stroke-width="0.5"/>
<line x1="454.1" y1="199.95" x2="455.45" y2="199.95" stroke="#111" stroke-width="0.5"/>
<line x1="454.1" y1="202.97" x2="455.68" y2="202.97" stroke="#111" stroke-width="0.5"/>
<line x1="455.45" y1="199.02" x2="455.45" y2="200.58" stroke="#111" stroke-width="0.5"/>
<line x1="455.45" y1="199.02" x2="456.31" y2="199.02" stroke="#111" stroke-width="0.5"/>
<line x1="455.45" y1="200.58" x2="457.63" y2="200.58" stroke="#111" stroke-width="0.5"/>
<line x1="457.63" y1="200.04" x2="457.63" y2="200.97" stroke="#111" stroke-width="0.5"/>
<line x1="457.63" y1="200.04" x2="458.6" y2="200.04" stroke="#111" stroke-width="0.5"/>
<line x1="457.63" y1="200.97" x2="458.6" y2="200.97" stroke="#111" stroke-width="0.5"/>
<line x1="455.68" y1="202.44" x2="455.68" y2="203.91" stroke="#111" stroke-width="0.5"/>
<line x1="455.68" y1="202.44" x2="457.91" y2="202.44" stroke="#111" stroke-width="0.5"/>
<line x1="455.68" y1="203.91" x2="457.68" y2="203.91" stroke="#111" stroke-width="0.5"/>
<line x1="457.91" y1="202.05" x2="457.91" y2="202.99" stroke="#111" stroke-width="0.5"/>
<line x1="457.91" y1="202.05" x2="458.6" y2="202.05" stroke="#111" stroke-width="0.5"/>
<line x1="457.91" y1="202.99" x2="458.6" y2="202.99" stroke="#111" stroke-width="0.5"/>
<line x1="453.34" y1="206.29" x2="453.34" y2="211.07" stroke="#111" stroke-width="0.5"/>
<line x1="453.34" y1="206.29" x2="454.9" y2="206.29" stroke="#111" stroke-width="0.5"/>
<line x1="453.34" y1="211.07" x2="455.46" y2="211.07" stroke="#111" stroke-width="0.5"/>
<line x1="454.9" y1="205.2" x2="454.9" y2="207.04" stroke="#111" stroke-width="0.5"/>
<line x1="454.9" y1="205.2" x2="457.18" y2="205.2" stroke="#111" stroke-width="0.5"/>
<line x1="454.9" y1="207.04" x2="457.12" y2="207.04" stroke="#111" stroke-width="0.5"/>
<line x1="457.12" y1="206.47" x2="457.12" y2="207.56" stroke="#111" stroke-width="0.5"/>
<line x1="457.12" y1="206.47" x2="458.51" y2="206.47" stroke="#111" stroke-width="0.5"/>
<line x1="457.12" y1="207.56" x2="458.6" y2="207.56" stroke="#111" stroke-width="0.5"/>
<line x1="455.46" y1="209.5" x2="455.46" y2="212.43" stroke="#111" stroke-width="0.5"/>
<line x1="455.46" y1="209.5" x2="457.86" y2="209.5" stroke="#111" stroke-width="0.5"/>
<line x1="455.46" y1="212.43" x2="456.88" y2="212.43" stroke="#111" stroke-width="0.5"/>
<line x1="457.86" y1="208.62" x2="457.86" y2="209.99" stroke="#111" stroke-width="0.5"/>
<line x1="457.86" y1="208.62" x2="458.6" y2="208.62" stroke="#111" stroke-width="0.5"/>
<line x1="457.86" y1="209.99" x2="458.6" y2="209.99" stroke="#111" stroke-width="0.5"/>
<line x1="458.6" y1="209.68" x2="458.6" y2="210.56" stroke="#111" stroke-width="0.5"/>
<line x1="458.6" y1="209.68" x2="458.6" y2="209.68" stroke="#111" stroke-width="0.5"/>
<line x1="458.6" y1="210.56" x2="458.6" y2="210.56" stroke="#111" stroke-width="0.5"/>
<line x1="456.88" y1="211.67" x2="456.88" y2="213.24" stroke="#111" stroke-width="0.5"/>
<line x1="456.88" y1="211.67" x2="458.6" y2="211.67" stroke="#111" stroke-width="0.5"/>
<line x1="456.88" y1="213.24" x2="458.04" y2="213.24" stroke="#111" stroke-width="0.5"/>
<line x1="458.6" y1="211.3" x2="458.6" y2="212.1" stroke="#111" stroke-width="0.5"/>
<line x1="458.6" y1="211.3" x2="458.6" y2="211.3" stroke="#111" stroke-width="0.5"/>
<line x1="458.6" y1="212.1" x2="458.6" y2="212.1" stroke="#111" stroke-width="0.5"/>
<line x1="448" y1="241.22" x2="448" y2="308.57" stroke="#111" stroke-width="0.5"/>
<line x1="448" y1="241.22" x2="449.07" y2="241.22" stroke="#111" stroke-width="0.5"/>
<line x1="448" y1="308.57" x2="449.36" y2="308.57" stroke="#111" stroke-width="0.5"/>
<line x1="449.07" y1="231.1" x2="449.07" y2="258.32" stroke="#111" stroke-width="0.5"/>
<line x1="449.07" y1="231.1" x2="450.43" y2="231.1" stroke="#111" stroke-width="0.5"/>
<line x1="449.07" y1="258.32" x2="450.83" y2="258.32" stroke="#111" stroke-width="0.5"/>
<line x1="450.43" y1="221.56" x2="450.43" y2="238.66" stroke="#111" stroke-width="0.5"/>
<line x1="450.43" y1="221.56" x2="451.39" y2="221.56" stroke="#111" stroke-width="0.5"/>
<line x1="450.43" y1="238.66" x2="451.33" y2="238.66" stroke="#111" stroke-width="0.5"/>
<line x1="451.39" y1="218.49" x2="451.39" y2="226.05" stroke="#111" stroke-width="0.5"/>
<line x1="451.39" y1="218.49" x2="453.44" y2="218.49" stroke="#111" stroke-width="0.5"/>
<line x1="451.39" y1="226.05" x2="452.79" y2="226.05" stroke="#111" stroke-width="0.5"/>
<line x1="453.44" y1="216.49" x2="453.44" y2="220.98" stroke="#111" stroke-width="0.5"/>
<line x1="453.44" y1="216.49" x2="455.32" y2="216.49" stroke="#111" stroke-width="0.5"/>
<line x1="453.44" y1="220.98" x2="455.67" y2="220.98" stroke="#111" stroke-width="0.5"/>
<line x1="455.32" y1="215.59" x2="455.32" y2="218.08" stroke="#111" stroke-width="0.5"/>
<line x1="455.32" y1="215.59" x2="456.77" y2="215.59" stroke="#111" stroke-width="0.5"/>
<line x1="455.32" y1="218.08" x2="457.7" y2="218.08" stroke="#111" stroke-width="0.5"/>
<line x1="456.77" y1="215.01" x2="456.77" y2="216.6" stroke="#111" stroke-width="0.5"/>
<line x1="456.77" y1="215.01" x2="458.51" y2="215.01" stroke="#111" stroke-width="0.5"/>
<line x1="456.77" y1="216.6" x2="458.6" y2="216.6" stroke="#111" stroke-width="0.5"/>
<line x1="458.51" y1="214.5" x2="458.51" y2="215.52" stroke="#111" stroke-width="0.5"/>
<line x1="458.51" y1="214.5" x2="458.6" y2="214.5" stroke="#111" stroke-width="0.5"/>
<line x1="458.51" y1="215.52" x2="458.6" y2="215.52" stroke="#111" stroke-width="0.5"/>
<line x1="457.7" y1="217.73" x2="457.7" y2="218.63" stroke="#111" stroke-width="0.5"/>
<line x1="457.7" y1="217.73" x2="458.6" y2="217.73" stroke="#111" stroke-width="0.5"/>
<line x1="457.7" y1="218.63" x2="458.6" y2="218.63" stroke="#111" stroke-width="0.5"/>
<line x1="455.67" y1="220.17" x2="455.67" y2="222.16" stroke="#111" stroke-width="0.5"/>
<line x1="455.67" y1="220.17" x2="457.71" y2="220.17" stroke="#111" stroke-width="0.5"/>
<line x1="455.67" y1="222.16" x2="457.25" y2="222.16" stroke="#111" stroke-width="0.5"/>
<line x1="457.71" y1="219.69" x2="457.71" y2="220.88" stroke="#111" stroke-width="0.5"/>
<line x1="457.71" y1="219.69" x2="458.59" y2="219.69" stroke="#111" stroke-width="0.5"/>
<line x1="457.71" y1="220.88" x2="458.6" y2="220.88" stroke="#111" stroke-width="0.5"/>
<line x1="457.25" y1="221.7" x2="457.25" y2="222.52" stroke="#111" stroke-width="0.5"/>
<line x1="457.25" y1="221.7" x2="458.6" y2="221.7" stroke="#111" stroke-width="0.5"/>
<line x1="457.25" y1="222.52" x2="458.32" y2="222.52" stroke="#111" stroke-width="0.5"/>
<line x1="452.79" y1="224.12" x2="452.79" y2="227.19" stroke="#111" stroke-width="0.5"/>
<line x1="452.79" y1="224.12" x2="454.13" y2="224.12" stroke="#111" stroke-width="0.5"/>
<line x1="452.79" y1="227.19" x2="455.03" y2="227.19" stroke="#111" stroke-width="0.5"/>
<line x1="454.13" y1="223.71" x2="454.13" y2="224.85" stroke="#111" stroke-width="0.5"/>
<line x1="454.13" y1="223.71" x2="456.13" y2="223.71" stroke="#111" stroke-width="0.5"/>
<line x1="454.13" y1="224.85" x2="455.7" y2="224.85" stroke="#111" stroke-width="0.5"/>
<line x1="455.03" y1="226.08" x2="455.03" y2="228.01" stroke="#111" stroke-width="0.5"/>
<line x1="455.03" y1="226.08" x2="457.36" y2="226.08" stroke="#111" stroke-width="0.5"/>
<line x1="455.03" y1="228.01" x2="456.67" y2="228.01" stroke="#111" stroke-width="0.5"/>
<line x1="457.36" y1="225.72" x2="457.36" y2="226.54" stroke="#111" stroke-width="0.5"/>
<line x1="457.36" y1="225.72" x2="458.21" y2="225.72" stroke="#111" stroke-width="0.5"/>
<line x1="457.36" y1="226.54" x2="458.5" y2="226.54" stroke="#111" stroke-width="0.5"/>
<line x1="456.67" y1="227.57" x2="456.67" y2="228.67" stroke="#111" stroke-width="0.5"/>
<line x1="456.67" y1="227.57" x2="458.6" y2="227.57" stroke="#111" stroke-width="0.5"/>
<line x1="456.67" y1="228.67" x2="458.6" y2="228.67" stroke="#111" stroke-width="0.5"/>
<line x1="451.33" y1="234.18" x2="451.33" y2="243.72" stroke="#111" stroke-width="0.5"/>
<line x1="451.33" y1="234.18" x2="452.81" y2="234.18" stroke="#111" stroke-width="0.5"/>
<line x1="451.33" y1="243.72" x2="453.06" y2="243.72" stroke="#111" stroke-width="0.5"/>
<line x1="452.81" y1="232.18" x2="452.81" y2="237.24" stroke="#111" stroke-width="0.5"/>
<line x1="452.81" y1="232.18" x2="454.11" y2="232.18" stroke="#111" stroke-width="0.5"/>
<line x1="452.81" y1="237.24" x2="454.47" y2="237.24" stroke="#111" stroke-width="0.5"/>
<line x1="454.11" y1="230.44" x2="454.11" y2="233.5" stroke="#111" stroke-width="0.5"/>
<line x1="454.11" y1="230.44" x2="456.14" y2="230.44" stroke="#111" stroke-width="0.5"/>
<line x1="454.11" y1="233.5" x2="454.92" y2="233.5" stroke="#111" stroke-width="0.5"/>
<line x1="456.14" y1="229.85" x2="456.14" y2="231.18" stroke="#111" stroke-width="0.5"/>
<line x1="456.14" y1="229.85" x2="458.46" y2="229.85" stroke="#111" stroke-width="0.5"/>
<line x1="456.14" y1="231.18" x2="456.97" y2="231.18" stroke="#111" stroke-width="0.5"/>
<line x1="454.92" y1="232.68" x2="454.92" y2="234.42" stroke="#111" stroke-width="0.5"/>
<line x1="454.92" y1="232.68" x2="456.75" y2="232.68" stroke="#111" stroke-width="0.5"/>
<line x1="454.92" y1="234.42" x2="457.09" y2="234.42" stroke="#111" stroke-width="0.5"/>
<line x1="456.75" y1="232.25" x2="456.75" y2="233.16" stroke="#111" stroke-width="0.5"/>
<line x1="456.75" y1="232.25" x2="458.6" y2="232.25" stroke="#111" stroke-width="0.5"/>
<line x1="456.75" y1="233.16" x2="458.6" y2="233.16" stroke="#111" stroke-width="0.5"/>
<line x1="457.09" y1="234.12" x2="457.09" y2="234.94" stroke="#111" stroke-width="0.5"/>
<line x1="457.09" y1="234.12" x2="458.6" y2="234.12" stroke="#111" stroke-width="0.5"/>
<line x1="457.09" y1="234.94" x2="458.6" y2="234.94" stroke="#111" stroke-width="0.5"/>
<line x1="454.47" y1="235.99" x2="454.47" y2="237.99" stroke="#111" stroke-width="0.5"/>
<line x1="454.47" y1="235.99" x2="455.42" y2="235.99" stroke="#111" stroke-width="0.5"/>
<line x1="454.47" y1="237.99" x2="455.31" y2="237.99" stroke="#111" stroke-width="0.5"/>
<line x1="455.31" y1="237.35" x2="455.31" y2="238.6" stroke="#111" stroke-width="0.5"/>
<line x1="455.31" y1="237.35" x2="456.33" y2="237.35" stroke="#111" stroke-width="0.5"/>
<line x1="455.31" y1="238.6" x2="457.5" y2="238.6" stroke="#111" stroke-width="0.5"/>
<line x1="453.06" y1="241.69" x2="453.06" y2="246.17" stroke="#111" stroke-width="0.5"/>
<line x1="453.06" y1="241.69" x2="454.06" y2="241.69" stroke="#111" stroke-width="0.5"/>
<line x1="453.06" y1="246.17" x2="454.72" y2="246.17" stroke="#111" stroke-width="0.5"/>
<line x1="454.06" y1="240.33" x2="454.06" y2="242.78" stroke="#111" stroke-width="0.5"/>
<line x1="454.06" y1="240.33" x2="455.65" y2="240.33" stroke="#111" stroke-width="0.5"/>
<line x1="454.06" y1="242.78" x2="455.22" y2="242.78" stroke="#111" stroke-width="0.5"/>
<line x1="455.65" y1="239.68" x2="455.65" y2="240.77" stroke="#111" stroke-width="0.5"/>
<line x1="455.65" y1="239.68" x2="456.75" y2="239.68" stroke="#111" stroke-width="0.5"/>
<line x1="455.65" y1="240.77" x2="457.06" y2="240.77" stroke="#111" stroke-width="0.5"/>
<line x1="455.22" y1="242.19" x2="455.22" y2="243.54" stroke="#111" stroke-width="0.5"/>
<line x1="455.22" y1="242.19" x2="456.9" y2="242.19" stroke="#111" stroke-width="0.5"/>
<line x1="455.22" y1="243.54" x2="456.09" y2="243.54" stroke="#111" stroke-width="0.5"/>
<line x1="454.72" y1="245.28" x2="454.72" y2="247.31" stroke="#111" stroke-width="0.5"/>
<line x1="454.72" y1="245.28" x2="456.92" y2="245.28" stroke="#111" stroke-width="0.5"/>
<line x1="454.72" y1="247.31" x2="456.76" y2="247.31" stroke="#111" stroke-width="0.5"/>
<line x1="456.92" y1="244.81" x2="456.92" y2="245.95" stroke="#111" stroke-width="0.5"/>
<line x1="456.92" y1="244.81" x2="457.73" y2="244.81" stroke="#111" stroke-width="0.5"/>
<line x1="456.92" y1="245.95" x2="458.46" y2="245.95" stroke="#111" stroke-width="0.5"/>
<line x1="456.76" y1="246.75" x2="456.76" y2="247.64" stroke="#111" stroke-width="0.5"/>
<line x1="456.76" y1="246.75" x2="458.6" y2="246.75" stroke="#111" stroke-width="0.5"/>
<line x1="456.76" y1="247.64" x2="457.84" y2="247.64" stroke="#111" stroke-width="0.5"/>
<line x1="450.83" y1="253.9" x2="450.83" y2="264.03" stroke="#111" stroke-width="0.5"/>
<line x1="450.83" y1="253.9" x2="452.03" y2="253.9" stroke="#111" stroke-width="0.5"/>
<line x1="450.83" y1="264.03" x2="452.74" y2="264.03" stroke="#111" stroke-width="0.5"/>
<line x1="452.03" y1="250.73" x2="452.03" y2="256.44" stroke="#111" stroke-width="0.5"/>
<line x1="452.03" y1="250.73" x2="452.9" y2="250.73" stroke="#111" stroke-width="0.5"/>
<line x1="452.03" y1="256.44" x2="453.45" y2="256.44" stroke="#111" stroke-width="0.5"/>
<line x1="452.9" y1="249.32" x2="452.9" y2="251.85" stroke="#111" stroke-width="0.5"/>
<line x1="452.9" y1="249.32" x2="455.14" y2="249.32" stroke="#111" stroke-width="0.5"/>
<line x1="452.9" y1="251.85" x2="454.17" y2="251.85" stroke="#111" stroke-width="0.5"/>
<line x1="455.14" y1="248.76" x2="455.14" y2="249.88" stroke="#111" stroke-width="0.5"/>
<line x1="455.14" y1="248.76" x2="456.82" y2="248.76" stroke="#111" stroke-width="0.5"/>
<line x1="455.14" y1="249.88" x2="457.46" y2="249.88" stroke="#111" stroke-width="0.5"/>
<line x1="454.17" y1="250.98" x2="454.17" y2="252.39" stroke="#111" stroke-width="0.5"/>
<line x1="454.17" y1="250.98" x2="455.93" y2="250.98" stroke="#111" stroke-width="0.5"/>
<line x1="454.17" y1="252.39" x2="455.78" y2="252.39" stroke="#111" stroke-width="0.5"/>
<line x1="455.78" y1="252.01" x2="455.78" y2="252.89" stroke="#111" stroke-width="0.5"/>
<line x1="455.78" y1="252.01" x2="458.13" y2="252.01" stroke="#111" stroke-width="0.5"/>
<line x1="455.78" y1="252.89" x2="457.08" y2="252.89" stroke="#111" stroke-width="0.5"/>
<line x1="453.45" y1="255.04" x2="453.45" y2="258.21" stroke="#111" stroke-width="0.5"/>
<line x1="453.45" y1="255.04" x2="455.1" y2="255.04" stroke="#111" stroke-width="0.5"/>
<line x1="453.45" y1="258.21" x2="455.15" y2="258.21" stroke="#111" stroke-width="0.5"/>
<line x1="455.1" y1="253.92" x2="455.1" y2="255.7" stroke="#111" stroke-width="0.5"/>
<line x1="455.1" y1="253.92" x2="457.2" y2="253.92" stroke="#111" stroke-width="0.5"/>
<line x1="455.1" y1="255.7" x2="457.46" y2="255.7" stroke="#111" stroke-width="0.5"/>
<line x1="457.46" y1="255.09" x2="457.46" y2="256.21" stroke="#111" stroke-width="0.5"/>
<line x1="457.46" y1="255.09" x2="458.6" y2="255.09" stroke="#111" stroke-width="0.5"/>
<line x1="457.46" y1="256.21" x2="458.6" y2="256.21" stroke="#111" stroke-width="0.5"/>
<line x1="455.15" y1="257.35" x2="455.15" y2="258.74" stroke="#111" stroke-width="0.5"/>
<line x1="455.15" y1="257.35" x2="456.07" y2="257.35" stroke="#111" stroke-width="0.5"/>
<line x1="455.15" y1="258.74" x2="456.07" y2="258.74" stroke="#111" stroke-width="0.5"/>
<line x1="456.07" y1="258.4" x2="456.07" y2="259.26" stroke="#111" stroke-width="0.5"/>
<line x1="456.07" y1="258.4" x2="458.08" y2="258.4" stroke="#111" stroke-width="0.5"/>
<line x1="456.07" y1="259.26" x2="457.59" y2="259.26" stroke="#111" stroke-width="0.5"/>
<line x1="452.74" y1="261.98" x2="452.74" y2="266.4" stroke="#111" stroke-width="0.5"/>
<line x1="452.74" y1="261.98" x2="453.57" y2="261.98" stroke="#111" stroke-width="0.5"/>
<line x1="452.74" y1="266.4" x2="454.57" y2="266.4" stroke="#111" stroke-width="0.5"/>
<line x1="453.57" y1="260.75" x2="453.57" y2="263.12" stroke="#111" stroke-width="0.5"/>
<line x1="453.57" y1="260.75" x2="455.2" y2="260.75" stroke="#111" stroke-width="0.5"/>
<line x1="453.57" y1="263.12" x2="455" y2="263.12" stroke="#111" stroke-width="0.5"/>
<line x1="455.2" y1="260.15" x2="455.2" y2="261.29" stroke="#111" stroke-width="0.5"/>
<line x1="455.2" y1="260.15" x2="456.36" y2="260.15" stroke="#111" stroke-width="0.5"/>
<line x1="455.2" y1="261.29" x2="456.08" y2="261.29" stroke="#111" stroke-width="0.5"/>
<line x1="455" y1="262.49" x2="455" y2="263.71" stroke="#111" stroke-width="0.5"/>
<line x1="455" y1="262.49" x2="456.19" y2="262.49" stroke="#111" stroke-width="0.5"/>
<line x1="455" y1="263.71" x2="456.92" y2="263.71" stroke="#111" stroke-width="0.5"/>
<line x1="454.57" y1="265.57" x2="454.57" y2="267.62" stroke="#111" stroke-width="0.5"/>
<line x1="454.57" y1="265.57" x2="456.53" y2="265.57" stroke="#111" stroke-width="0.5"/>
<line x1="454.57" y1="267.62" x2="456.1" y2="267.62" stroke="#111" stroke-width="0.5"/>
<line x1="456.53" y1="264.86" x2="456.53" y2="266.08" stroke="#111" stroke-width="0.5"/>
<line x1="456.53" y1="264.86" x2="457.95" y2="264.86" stroke="#111" stroke-width="0.5"/>
<line x1="456.53" y1="266.08" x2="458.11" y2="266.08" stroke="#111" stroke-width="0.5"/>
<line x1="456.1" y1="267.23" x2="456.1" y2="268.06" stroke="#111" stroke-width="0.5"/>
<line x1="456.1" y1="267.23" x2="458.44" y2="267.23" stroke="#111" stroke-width="0.5"/>
<line x1="456.1" y1="268.06" x2="457.04" y2="268.06" stroke="#111" stroke-width="0.5"/>
<line x1="449.36" y1="288.27" x2="449.36" y2="328.39" stroke="#111" stroke-width="0.5"/>
<line x1="449.36" y1="288.27" x2="450.94" y2="288.27" stroke="#111" stroke-width="0.5"/>
<line x1="449.36" y1="328.39" x2="451.3" y2="328.39" stroke="#111" stroke-width="0.5"/>
<line x1="450.94" y1="280.68" x2="450.94" y2="300.5" stroke="#111" stroke-width="0.5"/>
<line x1="450.94" y1="280.68" x2="452.99" y2="280.68" stroke="#111" stroke-width="0.5"/>
<line x1="450.94" y1="300.5" x2="452.75" y2="300.5" stroke="#111" stroke-width="0.5"/>
<line x1="452.99" y1="275.51" x2="452.99" y2="287.74" stroke="#111" stroke-width="0.5"/>
<line x1="452.99" y1="275.51" x2="454.86" y2="275.51" stroke="#111" stroke-width="0.5"/>
<line x1="452.99" y1="287.74" x2="455.17" y2="287.74" stroke="#111" stroke-width="0.5"/>
<line x1="454.86" y1="272.4" x2="454.86" y2="279.46" stroke="#111" stroke-width="0.5"/>
<line x1="454.86" y1="272.4" x2="456.75" y2="272.4" stroke="#111" stroke-width="0.5"/>
<line x1="454.86" y1="279.46" x2="456.05" y2="279.46" stroke="#111" stroke-width="0.5"/>
<line x1="456.75" y1="270.92" x2="456.75" y2="274.87" stroke="#111" stroke-width="0.5"/>
<line x1="456.75" y1="270.92" x2="458.17" y2="270.92" stroke="#111" stroke-width="0.5"/>
<line x1="456.75" y1="274.87" x2="458.54" y2="274.87" stroke="#111" stroke-width="0.5"/>
<line x1="458.17" y1="269.92" x2="458.17" y2="272.39" stroke="#111" stroke-width="0.5"/>
<line x1="458.17" y1="269.92" x2="458.6" y2="269.92" stroke="#111" stroke-width="0.5"/>
<line x1="458.17" y1="272.39" x2="458.6" y2="272.39" stroke="#111" stroke-width="0.5"/>
<line x1="458.6" y1="268.97" x2="458.6" y2="270.44" stroke="#111" stroke-width="0.5"/>
<line x1="458.6" y1="268.97" x2="458.6" y2="268.97" stroke="#111" stroke-width="0.5"/>
<line x1="458.6" y1="270.44" x2="458.6" y2="270.44" stroke="#111" stroke-width="0.5"/>
<line x1="458.6" y1="269.93" x2="458.6" y2="270.89" stroke="#111" stroke-width="0.5"/>
<line x1="458.6" y1="269.93" x2="458.6" y2="269.93" stroke="#111" stroke-width="0.5"/>
<line x1="458.6" y1="270.89" x2="458.6" y2="270.89" stroke="#111" stroke-width="0.5"/>
<line x1="458.6" y1="271.77" x2="458.6" y2="272.77" stroke="#111" stroke-width="0.5"/>
<line x1="458.6" y1="271.77" x2="458.6" y2="271.77" stroke="#111" stroke-width="0.5"/>
<line x1="458.6" y1="272.77" x2="458.6" y2="272.77" stroke="#111" stroke-width="0.5"/>
<line x1="458.54" y1="274.24" x2="458.54" y2="275.72" stroke="#111" stroke-width="0.5"/>
<line x1="458.54" y1="274.24" x2="458.6" y2="274.24" stroke="#111" stroke-width="0.5"/>
<line x1="458.54" y1="275.72" x2="458.6" y2="275.72" stroke="#111" stroke-width="0.5"/>
<line x1="458.6" y1="273.93" x2="458.6" y2="274.78" stroke="#111" stroke-width="0.5"/>
<line x1="458.6" y1="273.93" x2="458.6" y2="273.93" stroke="#111" stroke-width="0.5"/>
<line x1="458.6" y1="274.78" x2="458.6" y2="274.78" stroke="#111" stroke-width="0.5"/>
<line x1="456.05" y1="277.76" x2="456.05" y2="280.87" stroke="#111" stroke-width="0.5"/>
<line x1="456.05" y1="277.76" x2="457.88" y2="277.76" stroke="#111" stroke-width="0.5"/>
<line x1="456.05" y1="280.87" x2="457.94" y2="280.87" stroke="#111" stroke-width="0.5"/>
<line x1="457.88" y1="276.95" x2="457.88" y2="278.36" stroke="#111" stroke-width="0.5"/>
<line x1="457.88" y1="276.95" x2="458.6" y2="276.95" stroke="#111" stroke-width="0.5"/>
<line x1="457.88" y1="278.36" x2="458.6" y2="278.36" stroke="#111" stroke-width="0.5"/>
<line x1="458.6" y1="277.9" x2="458.6" y2="278.7" stroke="#111" stroke-width="0.5"/>
<line x1="458.6" y1="277.9" x2="458.6" y2="277.9" stroke="#111" stroke-width="0.5"/>
<line x1="458.6" y1="278.7" x2="458.6" y2="278.7" stroke="#111" stroke-width="0.5"/>
<line x1="457.94" y1="280.1" x2="457.94" y2="281.81" stroke="#111" stroke-width="0.5"/>
<line x1="457.94" y1="280.1" x2="458.6" y2="280.1" stroke="#111" stroke-width="0.5"/>
<line x1="457.94" y1="281.81" x2="458.6" y2="281.81" stroke="#111" stroke-width="0.5"/>
<line x1="458.6" y1="279.57" x2="458.6" y2="280.51" stroke="#111" stroke-width="0.5"/>
<line x1="458.6" y1="279.57" x2="458.6" y2="279.57" stroke="#111" stroke-width="0.5"/>
<line x1="458.6" y1="280.51" x2="458.6" y2="280.51" stroke="#111" stroke-width="0.5"/>
<line x1="455.17" y1="285.11" x2="455.17" y2="290.27" stroke="#111" stroke-width="0.5"/>
<line x1="455.17" y1="285.11" x2="456.66" y2="285.11" stroke="#111" stroke-width="0.5"/>
<line x1="455.17" y1="290.27" x2="456.95" y2="290.27" stroke="#111" stroke-width="0.5"/>
<line x1="456.66" y1="283.67" x2="456.66" y2="286.21" stroke="#111" stroke-width="0.5"/>
<line x1="456.66" y1="283.67" x2="457.74" y2="283.67" stroke="#111" stroke-width="0.5"/>
<line x1="456.66" y1="286.21" x2="458.08" y2="286.21" stroke="#111" stroke-width="0.5"/>
<line x1="457.74" y1="283.05" x2="457.74" y2="284.15" stroke="#111" stroke-width="0.5"/>
<line x1="457.74" y1="283.05" x2="458.6" y2="283.05" stroke="#111" stroke-width="0.5"/>
<line x1="457.74" y1="284.15" x2="458.6" y2="284.15" stroke="#111" stroke-width="0.5"/>
<line x1="458.08" y1="285.29" x2="458.08" y2="286.72" stroke="#111" stroke-width="0.5"/>
<line x1="458.08" y1="285.29" x2="458.6" y2="285.29" stroke="#111" stroke-width="0.5"/>
<line x1="458.08" y1="286.72" x2="458.6" y2="286.72" stroke="#111" stroke-width="0.5"/>
<line x1="458.6" y1="286.32" x2="458.6" y2="287.24" stroke="#111" stroke-width="0.5"/>
<line x1="458.6" y1="286.32" x2="458.6" y2="286.32" stroke="#111" stroke-width="0.5"/>
<line x1="458.6" y1="287.24" x2="458.6" y2="287.24" stroke="#111" stroke-width="0.5"/>
<line x1="456.95" y1="288.59" x2="456.95" y2="291.23" stroke="#111" stroke-width="0.5"/>
<line x1="456.95" y1="288.59" x2="458.6" y2="288.59" stroke="#111" stroke-width="0.5"/>
<line x1="456.95" y1="291.23" x2="458.6" y2="291.23" stroke="#111" stroke-width="0.5"/>
<line x1="458.6" y1="288.04" x2="458.6" y2="288.99" stroke="#111" stroke-width="0.5"/>
<line x1="458.6" y1="288.04" x2="458.6" y2="288.04" stroke="#111" stroke-width="0.5"/>
<line x1="458.6" y1="288.99" x2="458.6" y2="288.99" stroke="#111" stroke-width="0.5"/>
<line x1="458.6" y1="290.18" x2="458.6" y2="291.86" stroke="#111" stroke-width="0.5"/>
<line x1="458.6" y1="290.18" x2="458.6" y2="290.18" stroke="#111" stroke-width="0.5"/>
<line x1="458.6" y1="291.86" x2="458.6" y2="291.86" stroke="#111" stroke-width="0.5"/>
<line x1="458.6" y1="291.46" x2="458.6" y2="292.51" stroke="#111" stroke-width="0.5"/>
<line x1="458.6" y1="291.46" x2="458.6" y2="291.46" stroke="#111" stroke-width="0.5"/>
<line x1="458.6" y1="292.51" x2="458.6" y2="292.51" stroke="#111" stroke-width="0.5"/>
<line x1="452.75" y1="297.37" x2="452.75" y2="304.95" stroke="#111" stroke-width="0.5"/>
<line x1="452.75" y1="297.37" x2="454.86" y2="297.37" stroke="#111" stroke-width="0.5"/>
<line x1="452.75" y1="304.95" x2="454.39" y2="304.95" stroke="#111" stroke-width="0.5"/>
<line x1="454.86" y1="294.53" x2="454.86" y2="298.99" stroke="#111" stroke-width="0.5"/>
<line x1="454.86" y1="294.53" x2="455.96" y2="294.53" stroke="#111" stroke-width="0.5"/>
<line x1="454.86" y1="298.99" x2="456.31" y2="298.99" stroke="#111" stroke-width="0.5"/>
<line x1="455.96" y1="293.75" x2="455.96" y2="295.37" stroke="#111" stroke-width="0.5"/>
<line x1="455.96" y1="293.75" x2="457.12" y2="293.75" stroke="#111" stroke-width="0.5"/>
<line x1="455.96" y1="295.37" x2="458.05" y2="295.37" stroke="#111" stroke-width="0.5"/>
<line x1="457.12" y1="293.41" x2="457.12" y2="294.25" stroke="#111" stroke-width="0.5"/>
<line x1="457.12" y1="293.41" x2="458.6" y2="293.41" stroke="#111" stroke-width="0.5"/>
<line x1="457.12" y1="294.25" x2="458.6" y2="294.25" stroke="#111" stroke-width="0.5"/>
<line x1="456.31" y1="297.17" x2="456.31" y2="300" stroke="#111" stroke-width="0.5"/>
<line x1="456.31" y1="297.17" x2="458.04" y2="297.17" stroke="#111" stroke-width="0.5"/>
<line x1="456.31" y1="300" x2="457.24" y2="300" stroke="#111" stroke-width="0.5"/>
<line x1="458.04" y1="296.78" x2="458.04" y2="297.79" stroke="#111" stroke-width="0.5"/>
<line x1="458.04" y1="296.78" x2="458.6" y2="296.78" stroke="#111" stroke-width="0.5"/>
<line x1="458.04" y1="297.79" x2="458.6" y2="297.79" stroke="#111" stroke-width="0.5"/>
<line x1="457.24" y1="298.92" x2="457.24" y2="300.74" stroke="#111" stroke-width="0.5"/>
<line x1="457.24" y1="298.92" x2="458.13" y2="298.92" stroke="#111" stroke-width="0.5"/>
<line x1="457.24" y1="300.74" x2="458.6" y2="300.74" stroke="#111" stroke-width="0.5"/>
<line x1="458.6" y1="300.23" x2="458.6" y2="301.32" stroke="#111" stroke-width="0.5"/>
<line x1="458.6" y1="300.23" x2="458.6" y2="300.23" stroke="#111" stroke-width="0.5"/>
<line x1="458.6" y1="301.32" x2="458.6" y2="301.32" stroke="#111" stroke-width="0.5"/>
<line x1="454.39" y1="303.67" x2="454.39" y2="306.8" stroke="#111" stroke-width="0.5"/>
<line x1="454.39" y1="303.67" x2="455.73" y2="303.67" stroke="#111" stroke-width="0.5"/>
<line x1="454.39" y1="306.8" x2="455.63" y2="306.8" stroke="#111" stroke-width="0.5"/>
<line x1="455.73" y1="302.67" x2="455.73" y2="304.51" stroke="#111" stroke-width="0.5"/>
<line x1="455.73" y1="302.67" x2="457.01" y2="302.67" stroke="#111" stroke-width="0.5"/>
<line x1="455.73" y1="304.51" x2="457.54" y2="304.51" stroke="#111" stroke-width="0.5"/>
<line x1="457.01" y1="302.34" x2="457.01" y2="303.19" stroke="#111" stroke-width="0.5"/>
<line x1="457.01" y1="302.34" x2="457.93" y2="302.34" stroke="#111" stroke-width="0.5"/>
<line x1="457.01" y1="303.19" x2="457.92" y2="303.19" stroke="#111" stroke-width="0.5"/>
<line x1="457.54" y1="304.01" x2="457.54" y2="305.02" stroke="#111" stroke-width="0.5"/>
<line x1="457.54" y1="304.01" x2="458.6" y2="304.01" stroke="#111" stroke-width="0.5"/>
<line x1="457.54" y1="305.02" x2="458.6" y2="305.02" stroke="#111" stroke-width="0.5"/>
<line x1="455.63" y1="306.07" x2="455.63" y2="307.35" stroke="#111" stroke-width="0.5"/>
<line x1="455.63" y1="306.07" x2="456.52" y2="306.07" stroke="#111" stroke-width="0.5"/>
<line x1="455.63" y1="307.35" x2="456.49" y2="307.35" stroke="#111" stroke-width="0.5"/>
<line x1="451.3" y1="318.21" x2="451.3" y2="338.52" stroke="#111" stroke-width="0.5"/>
<line x1="451.3" y1="318.21" x2="453.19" y2="318.21" stroke="#111" stroke-width="0.5"/>
<line x1="451.3" y1="338.52" x2="453.15" y2="338.52" stroke="#111" stroke-width="0.5"/>
<line x1="453.19" y1="312.11" x2="453.19" y2="322.23" stroke="#111" stroke-width="0.5"/>
<line x1="453.19" y1="312.11" x2="454.16" y2="312.11" stroke="#111" stroke-width="0.5"/>
<line x1="453.19" y1="322.23" x2="455.48" y2="322.23" stroke="#111" stroke-width="0.5"/>
<line x1="454.16" y1="310.14" x2="454.16" y2="314.17" stroke="#111" stroke-width="0.5"/>
<line x1="454.16" y1="310.14" x2="455.61" y2="310.14" stroke="#111" stroke-width="0.5"/>
<line x1="454.16" y1="314.17" x2="456.07" y2="314.17" stroke="#111" stroke-width="0.5"/>
<line x1="455.61" y1="309.25" x2="455.61" y2="311.31" stroke="#111" stroke-width="0.5"/>
<line x1="455.61" y1="309.25" x2="457.25" y2="309.25" stroke="#111" stroke-width="0.5"/>
<line x1="455.61" y1="311.31" x2="456.54" y2="311.31" stroke="#111" stroke-width="0.5"/>
<line x1="457.25" y1="308.78" x2="457.25" y2="309.95" stroke="#111" stroke-width="0.5"/>
<line x1="457.25" y1="308.78" x2="458.4" y2="308.78" stroke="#111" stroke-width="0.5"/>
<line x1="457.25" y1="309.95" x2="458.12" y2="309.95" stroke="#111" stroke-width="0.5"/>
<line x1="456.54" y1="310.83" x2="456.54" y2="311.72" stroke="#111" stroke-width="0.5"/>
<line x1="456.54" y1="310.83" x2="458.19" y2="310.83" stroke="#111" stroke-width="0.5"/>
<line x1="456.54" y1="311.72" x2="458.34" y2="311.72" stroke="#111" stroke-width="0.5"/>
<line x1="456.07" y1="312.99" x2="456.07" y2="314.96" stroke="#111" stroke-width="0.5"/>
<line x1="456.07" y1="312.99" x2="458" y2="312.99" stroke="#111" stroke-width="0.5"/>
<line x1="456.07" y1="314.96" x2="457.66" y2="314.96" stroke="#111" stroke-width="0.5"/>
<line x1="457.66" y1="314.25" x2="457.66" y2="315.43" stroke="#111" stroke-width="0.5"/>
<line x1="457.66" y1="314.25" x2="458.6" y2="314.25" stroke="#111" stroke-width="0.5"/>
<line x1="457.66" y1="315.43" x2="458.6" y2="315.43" stroke="#111" stroke-width="0.5"/>
<line x1="455.48" y1="319.93" x2="455.48" y2="326.03" stroke="#111" stroke-width="0.5"/>
<line x1="455.48" y1="319.93" x2="457.37" y2="319.93" stroke="#111" stroke-width="0.5"/>
<line x1="455.48" y1="326.03" x2="456.63" y2="326.03" stroke="#111" stroke-width="0.5"/>
<line x1="457.37" y1="318.34" x2="457.37" y2="322.14" stroke="#111" stroke-width="0.5"/>
<line x1="457.37" y1="318.34" x2="458.6" y2="318.34" stroke="#111" stroke-width="0.5"/>
<line x1="457.37" y1="322.14" x2="458.6" y2="322.14" stroke="#111" stroke-width="0.5"/>
<line x1="458.6" y1="317.51" x2="458.6" y2="319.72" stroke="#111" stroke-width="0.5"/>
<line x1="458.6" y1="317.51" x2="458.6" y2="317.51" stroke="#111" stroke-width="0.5"/>
<line x1="458.6" y1="319.72" x2="458.6" y2="319.72" stroke="#111" stroke-width="0.5"/>
<line x1="458.6" y1="317" x2="458.6" y2="318.38" stroke="#111" stroke-width="0.5"/>
<line x1="458.6" y1="317" x2="458.6" y2="317" stroke="#111" stroke-width="0.5"/>
<line x1="458.6" y1="318.38" x2="458.6" y2="318.38" stroke="#111" stroke-width="0.5"/>
<line x1="458.6" y1="316.44" x2="458.6" y2="317.31" stroke="#111" stroke-width="0.5"/>
<line x1="458.6" y1="316.44" x2="458.6" y2="316.44" stroke="#111" stroke-width="0.5"/>
<line x1="458.6" y1="317.31" x2="458.6" y2="317.31" stroke="#111" stroke-width="0.5"/>
<line x1="458.6" y1="319.33" x2="458.6" y2="320.17" stroke="#111" stroke-width="0.5"/>
<line x1="458.6" y1="319.33" x2="458.6" y2="319.33" stroke="#111" stroke-width="0.5"/>
<line x1="458.6" y1="320.17" x2="458.6" y2="320.17" stroke="#111" stroke-width="0.5"/>
<line x1="458.6" y1="321.19" x2="458.6" y2="322.77" stroke="#111" stroke-width="0.5"/>
<line x1="458.6" y1="321.19" x2="458.6" y2="321.19" stroke="#111" stroke-width="0.5"/>
<line x1="458.6" y1="322.77" x2="458.6" y2="322.77" stroke="#111" stroke-width="0.5"/>
<line x1="458.6" y1="322.4" x2="458.6" y2="323.35" stroke="#111" stroke-width="0.5"/>
<line x1="458.6" y1="322.4" x2="458.6" y2="322.4" stroke="#111" stroke-width="0.5"/>
<line x1="458.6" y1="323.35" x2="458.6" y2="323.35" stroke="#111" stroke-width="0.5"/>
<line x1="456.63" y1="324.91" x2="456.63" y2="327.22" stroke="#111" stroke-width="0.5"/>
<line x1="456.63" y1="324.91" x2="458.6" y2="324.91" stroke="#111" stroke-width="0.5"/>
<line x1="456.63" y1="327.22" x2="458.6" y2="327.22" stroke="#111" stroke-width="0.5"/>
<line x1="458.6" y1="324.45" x2="458.6" y2="325.64" stroke="#111" stroke-width="0.5"/>
<line x1="458.6" y1="324.45" x2="458.6" y2="324.45" stroke="#111" stroke-width="0.5"/>
<line x1="458.6" y1="325.64" x2="458.6" y2="325.64" stroke="#111" stroke-width="0.5"/>
<line x1="458.6" y1="326.63" x2="458.6" y2="327.74" stroke="#111" stroke-width="0.5"/>
<line x1="458.6" y1="326.63" x2="458.6" y2="326.63" stroke="#111" stroke-width="0.5"/>
<line x1="458.6" y1="327.74" x2="458.6" y2="327.74" stroke="#111" stroke-width="0.5"/>
<line x1="453.15" y1="334.39" x2="453.15" y2="344.57" stroke="#111" stroke-width="0.5"/>
<line x1="453.15" y1="334.39" x2="454.53" y2="334.39" stroke="#111" stroke-width="0.5"/>
<line x1="453.15" y1="344.57" x2="454.16" y2="344.57" stroke="#111" stroke-width="0.5"/>
<line x1="454.53" y1="330.5" x2="454.53" y2="336.55" stroke="#111" stroke-width="0.5"/>
<line x1="454.53" y1="330.5" x2="456.01" y2="330.5" stroke="#111" stroke-width="0.5"/>
<line x1="454.53" y1="336.55" x2="456.26" y2="336.55" stroke="#111" stroke-width="0.5"/>
<line x1="456.01" y1="329.11" x2="456.01" y2="331.28" stroke="#111" stroke-width="0.5"/>
<line x1="456.01" y1="329.11" x2="457.87" y2="329.11" stroke="#111" stroke-width="0.5"/>
<line x1="456.01" y1="331.28" x2="457.14" y2="331.28" stroke="#111" stroke-width="0.5"/>
<line x1="457.14" y1="330.42" x2="457.14" y2="331.81" stroke="#111" stroke-width="0.5"/>
<line x1="457.14" y1="330.42" x2="458.6" y2="330.42" stroke="#111" stroke-width="0.5"/>
<line x1="457.14" y1="331.81" x2="458.6" y2="331.81" stroke="#111" stroke-width="0.5"/>
<line x1="458.6" y1="331.48" x2="458.6" y2="332.34" stroke="#111" stroke-width="0.5"/>
<line x1="458.6" y1="331.48" x2="458.6" y2="331.48" stroke="#111" stroke-width="0.5"/>
<line x1="458.6" y1="332.34" x2="458.6" y2="332.34" stroke="#111" stroke-width="0.5"/>
<line x1="456.26" y1="334.31" x2="456.26" y2="338.19" stroke="#111" stroke-width="0.5"/>
<line x1="456.26" y1="334.31" x2="457.74" y2="334.31" stroke="#111" stroke-width="0.5"/>
<line x1="456.26" y1="338.19" x2="458.08" y2="338.19" stroke="#111" stroke-width="0.5"/>
<line x1="457.74" y1="333.62" x2="457.74" y2="335.26" stroke="#111" stroke-width="0.5"/>
<line x1="457.74" y1="333.62" x2="458.6" y2="333.62" stroke="#111" stroke-width="0.5"/>
<line x1="457.74" y1="335.26" x2="458.6" y2="335.26" stroke="#111" stroke-width="0.5"/>
<line x1="458.6" y1="333.07" x2="458.6" y2="334.03" stroke="#111" stroke-width="0.5"/>
<line x1="458.6" y1="333.07" x2="458.6" y2="333.07" stroke="#111" stroke-width="0.5"/>
<line x1="458.6" y1="334.03" x2="458.6" y2="334.03" stroke="#111" stroke-width="0.5"/>
<line x1="458.08" y1="337.06" x2="458.08" y2="339.31" stroke="#111" stroke-width="0.5"/>
<line x1="458.08" y1="337.06" x2="458.6" y2="337.06" stroke="#111" stroke-width="0.5"/>
<line x1="458.08" y1="339.31" x2="458.6" y2="339.31" stroke="#111" stroke-width="0.5"/>
<line x1="458.6" y1="336.49" x2="458.6" y2="337.61" stroke="#111" stroke-width="0.5"/>
<line x1="458.6" y1="336.49" x2="458.6" y2="336.49" stroke="#111" stroke-width="0.5"/>
<line x1="458.6" y1="337.61" x2="458.6" y2="337.61" stroke="#111" stroke-width="0.5"/>
<line x1="458.6" y1="338.77" x2="458.6" y2="339.9" stroke="#111" stroke-width="0.5"/>
<line x1="458.6" y1="338.77" x2="458.6" y2="338.77" stroke="#111" stroke-width="0.5"/>
<line x1="458.6" y1="339.9" x2="458.6" y2="339.9" stroke="#111" stroke-width="0.5"/>
<line x1="454.16" y1="342.79" x2="454.16" y2="346.92" stroke="#111" stroke-width="0.5"/>
<line x1="454.16" y1="342.79" x2="456.55" y2="342.79" stroke="#111" stroke-width="0.5"/>
<line x1="454.16" y1="346.92" x2="455.56" y2="346.92" stroke="#111" stroke-width="0.5"/>
<line x1="456.55" y1="341.54" x2="456.55" y2="343.89" stroke="#111" stroke-width="0.5"/>
<line x1="456.55" y1="341.54" x2="457.35" y2="341.54" stroke="#111" stroke-width="0.5"/>
<line x1="456.55" y1="343.89" x2="458.41" y2="343.89" stroke="#111" stroke-width="0.5"/>
<line x1="457.35" y1="341.02" x2="457.35" y2="342.12" stroke="#111" stroke-width="0.5"/>
<line x1="457.35" y1="341.02" x2="458.6" y2="341.02" stroke="#111" stroke-width="0.5"/>
<line x1="457.35" y1="342.12" x2="458.6" y2="342.12" stroke="#111" stroke-width="0.5"/>
<line x1="458.41" y1="343.15" x2="458.41" y2="344.4" stroke="#111" stroke-width="0.5"/>
<line x1="458.41" y1="343.15" x2="458.6" y2="343.15" stroke="#111" stroke-width="0.5"/>
<line x1="458.41" y1="344.4" x2="458.6" y2="344.4" stroke="#111" stroke-width="0.5"/>
<line x1="455.56" y1="346.2" x2="455.56" y2="347.98" stroke="#111" stroke-width="0.5"/>
<line x1="455.56" y1="346.2" x2="457.13" y2="346.2" stroke="#111" stroke-width="0.5"/>
<line x1="455.56" y1="347.98" x2="456.45" y2="347.98" stroke="#111" stroke-width="0.5"/>
<line x1="457.13" y1="345.63" x2="457.13" y2="346.69" stroke="#111" stroke-width="0.5"/>
<line x1="457.13" y1="345.63" x2="458.6" y2="345.63" stroke="#111" stroke-width="0.5"/>
<line x1="457.13" y1="346.69" x2="458.6" y2="346.69" stroke="#111" stroke-width="0.5"/>
<line x1="462.12" y1="262.16" x2="464.37" y2="262.16" stroke="#ffffff" stroke-width="0.35"/>
<line x1="464.54" y1="284.18" x2="467.27" y2="284.18" stroke="#ffffff" stroke-width="0.35"/>
<line x1="462" y1="308.73" x2="463.5" y2="308.73" stroke="#ffffff" stroke-width="0.35"/>
<line x1="465.34" y1="313.65" x2="468.2" y2="313.65" stroke="#ffffff" stroke-width="0.35"/>
<line x1="465.78" y1="219.95" x2="468.56" y2="219.95" stroke="#ffffff" stroke-width="0.35"/>
<line x1="461.46" y1="200.41" x2="463.73" y2="200.41" stroke="#ffffff" stroke-width="0.35"/>
<line x1="465.65" y1="211.49" x2="467.18" y2="211.49" stroke="#ffffff" stroke-width="0.35"/>
<line x1="461.37" y1="297.65" x2="462.8" y2="297.65" stroke="#ffffff" stroke-width="0.35"/>
<line x1="462.98" y1="221.26" x2="465.41" y2="221.26" stroke="#ffffff" stroke-width="0.35"/>
<line x1="464.49" y1="223.01" x2="466.16" y2="223.01" stroke="#ffffff" stroke-width="0.35"/>
<line x1="461.95" y1="292.34" x2="463.33" y2="292.34" stroke="#ffffff" stroke-width="0.35"/>
<line x1="459.46" y1="210.66" x2="461.85" y2="210.66" stroke="#ffffff" stroke-width="0.35"/>
<line x1="459.99" y1="254.48" x2="462.75" y2="254.48" stroke="#ffffff" stroke-width="0.35"/>
<line x1="459.17" y1="293.23" x2="461.62" y2="293.23" stroke="#ffffff" stroke-width="0.35"/>
<line x1="462.55" y1="283.56" x2="464.55" y2="283.56" stroke="#ffffff" stroke-width="0.35"/>
<line x1="461.99" y1="342.63" x2="464.26" y2="342.63" stroke="#ffffff" stroke-width="0.35"/>
<line x1="461.93" y1="290.16" x2="463.62" y2="290.16" stroke="#ffffff" stroke-width="0.35"/>
<line x1="464.09" y1="309.32" x2="466" y2="309.32" stroke="#ffffff" stroke-width="0.35"/>
<line x1="460.79" y1="270.56" x2="463.37" y2="270.56" stroke="#ffffff" stroke-width="0.35"/>
<line x1="464.15" y1="191.19" x2="466.06" y2="191.19" stroke="#ffffff" stroke-width="0.35"/>
<line x1="463.69" y1="223.58" x2="465.86" y2="223.58" stroke="#ffffff" stroke-width="0.35"/>
<line x1="462.92" y1="201.95" x2="464.25" y2="201.95" stroke="#ffffff" stroke-width="0.35"/>
<line x1="461.62" y1="316.41" x2="463.27" y2="316.41" stroke="#ffffff" stroke-width="0.35"/>
<line x1="459.39" y1="222.61" x2="460.76" y2="222.61" stroke="#ffffff" stroke-width="0.35"/>
<line x1="463.99" y1="212.37" x2="466.69" y2="212.37" stroke="#ffffff" stroke-width="0.35"/>
<line x1="459.89" y1="223.52" x2="461.96" y2="223.52" stroke="#ffffff" stroke-width="0.35"/>
<line x1="462.24" y1="206.58" x2="464.76" y2="206.58" stroke="#ffffff" stroke-width="0.35"/>
<line x1="464.6" y1="220.65" x2="466.67" y2="220.65" stroke="#ffffff" stroke-width="0.35"/>
<line x1="460.94" y1="201.66" x2="463.14" y2="201.66" stroke="#ffffff" stroke-width="0.35"/>
<line x1="460.63" y1="203.47" x2="462.78" y2="203.47" stroke="#ffffff" stroke-width="0.35"/>
<line x1="463.16" y1="319.47" x2="465.49" y2="319.47" stroke="#ffffff" stroke-width="0.35"/>
<line x1="461.42" y1="189.46" x2="463.06" y2="189.46" stroke="#ffffff" stroke-width="0.35"/>
<line x1="461.86" y1="334.79" x2="464.43" y2="334.79" stroke="#ffffff" stroke-width="0.35"/>
<line x1="462.99" y1="193.51" x2="465.77" y2="193.51" stroke="#ffffff" stroke-width="0.35"/>
<line x1="463.64" y1="311.95" x2="465" y2="311.95" stroke="#ffffff" stroke-width="0.35"/>
<line x1="459.64" y1="336.84" x2="462.57" y2="336.84" stroke="#ffffff" stroke-width="0.35"/>
<line x1="464.76" y1="312.74" x2="466.82" y2="312.74" stroke="#ffffff" stroke-width="0.35"/>
<line x1="461.73" y1="214.35" x2="464.05" y2="214.35" stroke="#ffffff" stroke-width="0.35"/>
<line x1="462.11" y1="293.42" x2="464.72" y2="293.42" stroke="#ffffff" stroke-width="0.35"/>
<line x1="461.3" y1="196.58" x2="462.48" y2="196.58" stroke="#ffffff" stroke-width="0.35"/>
<line x1="622.6" y1="188.84" x2="625" y2="188.84" stroke="#c8c8c8" stroke-width="0.3"/>
<line x1="622.6" y1="190.51" x2="624.2" y2="190.51" stroke="#c8c8c8" stroke-width="0.3"/>
<line x1="622.6" y1="192.18" x2="624.2" y2="192.18" stroke="#c8c8c8" stroke-width="0.3"/>
<line x1="622.6" y1="193.86" x2="625" y2="193.86" stroke="#c8c8c8" stroke-width="0.3"/>
<line x1="622.6" y1="195.53" x2="624.2" y2="195.53" stroke="#c8c8c8" stroke-width="0.3"/>
<line x1="622.6" y1="197.21" x2="624.2" y2="197.21" stroke="#c8c8c8" stroke-width="0.3"/>
<line x1="622.6" y1="198.88" x2="625" y2="198.88" stroke="#c8c8c8" stroke-width="0.3"/>
<line x1="622.6" y1="200.55" x2="624.2" y2="200.55" stroke="#c8c8c8" stroke-width="0.3"/>
<line x1="622.6" y1="202.23" x2="624.2" y2="202.23" stroke="#c8c8c8" stroke-width="0.3"/>
<line x1="622.6" y1="203.9" x2="625" y2="203.9" stroke="#c8c8c8" stroke-width="0.3"/>
<line x1="622.6" y1="205.58" x2="624.2" y2="205.58" stroke="#c8c8c8" stroke-width="0.3"/>
<line x1="622.6" y1="207.25" x2="624.2" y2="207.25" stroke="#c8c8c8" stroke-width="0.3"/>
<line x1="622.6" y1="208.92" x2="625" y2="208.92" stroke="#c8c8c8" stroke-width="0.3"/>
<line x1="622.6" y1="210.6" x2="624.2" y2="210.6" stroke="#c8c8c8" stroke-width="0.3"/>
<line x1="622.6" y1="212.27" x2="624.2" y2="212.27" stroke="#c8c8c8" stroke-width="0.3"/>
<line x1="622.6" y1="213.95" x2="625" y2="213.95" stroke="#c8c8c8" stroke-width="0.3"/>
<line x1="622.6" y1="215.62" x2="624.2" y2="215.62" stroke="#c8c8c8" stroke-width="0.3"/>
<line x1="622.6" y1="217.29" x2="624.2" y2="217.29" stroke="#c8c8c8" stroke-width="0.3"/>
<line x1="622.6" y1="218.97" x2="625" y2="218.97" stroke="#c8c8c8" stroke-width="0.3"/>
<line x1="622.6" y1="220.64" x2="624.2" y2="220.64" stroke="#c8c8c8" stroke-width="0.3"/>
<line x1="622.6" y1="222.32" x2="624.2" y2="222.32" stroke="#c8c8c8" stroke-width="0.3"/>
<line x1="622.6" y1="223.99" x2="625" y2="223.99" stroke="#c8c8c8" stroke-width="0.3"/>
<line x1="622.6" y1="225.66" x2="624.2" y2="225.66" stroke="#c8c8c8" stroke-width="0.3"/>
<line x1="622.6" y1="227.34" x2="624.2" y2="227.34" stroke="#c8c8c8" stroke-width="0.3"/>
<line x1="622.6" y1="229.01" x2="625" y2="229.01" stroke="#c8c8c8" stroke-width="0.3"/>
<line x1="622.6" y1="230.69" x2="624.2" y2="230.69" stroke="#c8c8c8" stroke-width="0.3"/>
<line x1="622.6" y1="232.36" x2="624.2" y2="232.36" stroke="#c8c8c8" stroke-width="0.3"/>
<line x1="622.6" y1="234.03" x2="625" y2="234.03" stroke="#c8c8c8" stroke-width="0.3"/>
<line x1="622.6" y1="235.71" x2="624.2" y2="235.71" stroke="#c8c8c8" stroke-width="0.3"/>
<line x1="622.6" y1="237.38" x2="624.2" y2="237.38" stroke="#c8c8c8" stroke-width="0.3"/>
<line x1="622.6" y1="239.06" x2="625" y2="239.06" stroke="#c8c8c8" stroke-width="0.3"/>
<line x1="622.6" y1="240.73" x2="624.2" y2="240.73" stroke="#c8c8c8" stroke-width="0.3"/>
<line x1="622.6" y1="242.4" x2="624.2" y2="242.4" stroke="#c8c8c8" stroke-width="0.3"/>
<line x1="622.6" y1="244.08" x2="625" y2="244.08" stroke="#c8c8c8" stroke-width="0.3"/>
<line x1="622.6" y1="245.75" x2="624.2" y2="245.75" stroke="#c8c8c8" stroke-width="0.3"/>
<line x1="622.6" y1="247.43" x2="624.2" y2="247.43" stroke="#c8c8c8" stroke-width="0.3"/>
<line x1="622.6" y1="249.1" x2="625" y2="249.1" stroke="#c8c8c8" stroke-width="0.3"/>
<line x1="622.6" y1="250.77" x2="624.2" y2="250.77" stroke="#c8c8c8" stroke-width="0.3"/>
<line x1="622.6" y1="252.45" x2="624.2" y2="252.45" stroke="#c8c8c8" stroke-width="0.3"/>
<line x1="622.6" y1="254.12" x2="625" y2="254.12" stroke="#c8c8c8" stroke-width="0.3"/>
<line x1="622.6" y1="255.8" x2="624.2" y2="255.8" stroke="#c8c8c8" stroke-width="0.3"/>
<line x1="622.6" y1="257.47" x2="624.2" y2="257.47" stroke="#c8c8c8" stroke-width="0.3"/>
<line x1="622.6" y1="259.14" x2="625" y2="259.14" stroke="#c8c8c8" stroke-width="0.3"/>
<line x1="622.6" y1="260.82" x2="624.2" y2="260.82" stroke="#c8c8c8" stroke-width="0.3"/>
<line x1="622.6" y1="262.49" x2="624.2" y2="262.49" stroke="#c8c8c8" stroke-width="0.3"/>
<line x1="622.6" y1="264.17" x2="625" y2="264.17" stroke="#c8c8c8" stroke-width="0.3"/>
<line x1="622.6" y1="265.84" x2="624.2" y2="265.84" stroke="#c8c8c8" stroke-width="0.3"/>
<line x1="622.6" y1="267.51" x2="624.2" y2="267.51" stroke="#c8c8c8" stroke-width="0.3"/>
<line x1="622.6" y1="269.19" x2="625" y2="269.19" stroke="#c8c8c8" stroke-width="0.3"/>
<line x1="622.6" y1="270.86" x2="624.2" y2="270.86" stroke="#c8c8c8" stroke-width="0.3"/>
<line x1="622.6" y1="272.53" x2="624.2" y2="272.53" stroke="#c8c8c8" stroke-width="0.3"/>
<line x1="622.6" y1="274.21" x2="625" y2="274.21" stroke="#c8c8c8" stroke-width="0.3"/>
<line x1="622.6" y1="275.88" x2="624.2" y2="275.88" stroke="#c8c8c8" stroke-width="0.3"/>
<line x1="622.6" y1="277.56" x2="624.2" y2="277.56" stroke="#c8c8c8" stroke-width="0.3"/>
<line x1="622.6" y1="279.23" x2="625" y2="279.23" stroke="#c8c8c8" stroke-width="0.3"/>
<line x1="622.6" y1="280.9" x2="624.2" y2="280.9" stroke="#c8c8c8" stroke-width="0.3"/>
<line x1="622.6" y1="282.58" x2="624.2" y2="282.58" stroke="#c8c8c8" stroke-width="0.3"/>
<line x1="622.6" y1="284.25" x2="625" y2="284.25" stroke="#c8c8c8" stroke-width="0.3"/>
<line x1="622.6" y1="285.93" x2="624.2" y2="285.93" stroke="#c8c8c8" stroke-width="0.3"/>
<line x1="622.6" y1="287.6" x2="624.2" y2="287.6" stroke="#c8c8c8" stroke-width="0.3"/>
<line x1="622.6" y1="289.27" x2="625" y2="289.27" stroke="#c8c8c8" stroke-width="0.3"/>
<line x1="622.6" y1="290.95" x2="624.2" y2="290.95" stroke="#c8c8c8" stroke-width="0.3"/>
<line x1="622.6" y1="292.62" x2="624.2" y2="292.62" stroke="#c8c8c8" stroke-width="0.3"/>
<line x1="622.6" y1="294.3" x2="625" y2="294.3" stroke="#c8c8c8" stroke-width="0.3"/>
<line x1="622.6" y1="295.97" x2="624.2" y2="295.97" stroke="#c8c8c8" stroke-width="0.3"/>
<line x1="622.6" y1="297.64" x2="624.2" y2="297.64" stroke="#c8c8c8" stroke-width="0.3"/>
<line x1="622.6" y1="299.32" x2="625" y2="299.32" stroke="#c8c8c8" stroke-width="0.3"/>
<line x1="622.6" y1="300.99" x2="624.2" y2="300.99" stroke="#c8c8c8" stroke-width="0.3"/>
<line x1="622.6" y1="302.67" x2="624.2" y2="302.67" stroke="#c8c8c8" stroke-width="0.3"/>
<line x1="622.6" y1="304.34" x2="625" y2="304.34" stroke="#c8c8c8" stroke-width="0.3"/>
<line x1="622.6" y1="306.01" x2="624.2" y2="306.01" stroke="#c8c8c8" stroke-width="0.3"/>
<line x1="622.6" y1="307.69" x2="624.2" y2="307.69" stroke="#c8c8c8" stroke-width="0.3"/>
<line x1="622.6" y1="309.36" x2="625" y2="309.36" stroke="#c8c8c8" stroke-width="0.3"/>
<line x1="622.6" y1="311.04" x2="624.2" y2="311.04" stroke="#c8c8c8" stroke-width="0.3"/>
<line x1="622.6" y1="312.71" x2="624.2" y2="312.71" stroke="#c8c8c8" stroke-width="0.3"/>
<line x1="622.6" y1="314.38" x2="625" y2="314.38" stroke="#c8c8c8" stroke-width="0.3"/>
<line x1="622.6" y1="316.06" x2="624.2" y2="316.06" stroke="#c8c8c8" stroke-width="0.3"/>
<line x1="622.6" y1="317.73" x2="624.2" y2="317.73" stroke="#c8c8c8" stroke-width="0.3"/>
<line x1="622.6" y1="319.41" x2="625" y2="319.41" stroke="#c8c8c8" stroke-width="0.3"/>
<line x1="622.6" y1="321.08" x2="624.2" y2="321.08" stroke="#c8c8c8" stroke-width="0.3"/>
<line x1="622.6" y1="322.75" x2="624.2" y2="322.75" stroke="#c8c8c8" stroke-width="0.3"/>
<line x1="622.6" y1="324.43" x2="625" y2="324.43" stroke="#c8c8c8" stroke-width="0.3"/>
<line x1="622.6" y1="326.1" x2="624.2" y2="326.1" stroke="#c8c8c8" stroke-width="0.3"/>
<line x1="622.6" y1="327.78" x2="624.2" y2="327.78" stroke="#c8c8c8" stroke-width="0.3"/>
<line x1="622.6" y1="329.45" x2="625" y2="329.45" stroke="#c8c8c8" stroke-width="0.3"/>
<line x1="622.6" y1="331.12" x2="624.2" y2="331.12" stroke="#c8c8c8" stroke-width="0.3"/>
<line x1="622.6" y1="332.8" x2="624.2" y2="332.8" stroke="#c8c8c8" stroke-width="0.3"/>
<line x1="622.6" y1="334.47" x2="625" y2="334.47" stroke="#c8c8c8" stroke-width="0.3"/>
<line x1="622.6" y1="336.15" x2="624.2" y2="336.15" stroke="#c8c8c8" stroke-width="0.3"/>
<line x1="622.6" y1="337.82" x2="624.2" y2="337.82" stroke="#c8c8c8" stroke-width="0.3"/>
<line x1="622.6" y1="339.49" x2="625" y2="339.49" stroke="#c8c8c8" stroke-width="0.3"/>
<line x1="622.6" y1="341.17" x2="624.2" y2="341.17" stroke="#c8c8c8" stroke-width="0.3"/>
<line x1="622.6" y1="342.84" x2="624.2" y2="342.84" stroke="#c8c8c8" stroke-width="0.3"/>
<line x1="622.6" y1="344.52" x2="625" y2="344.52" stroke="#c8c8c8" stroke-width="0.3"/>
<line x1="622.6" y1="346.19" x2="624.2" y2="346.19" stroke="#c8c8c8" stroke-width="0.3"/>
<line x1="622.6" y1="347.86" x2="624.2" y2="347.86" stroke="#c8c8c8" stroke-width="0.3"/>
<line x1="474.94" y1="350.8" x2="474.94" y2="352" stroke="#aaaaaa" stroke-width="0.4"/>
<line x1="484.43" y1="350.8" x2="484.43" y2="352" stroke="#aaaaaa" stroke-width="0.4"/>
<line x1="493.92" y1="350.8" x2="493.92" y2="352" stroke="#aaaaaa" stroke-width="0.4"/>
<line x1="503.41" y1="350.8" x2="503.41" y2="352" stroke="#aaaaaa" stroke-width="0.4"/>
<line x1="512.89" y1="350.8" x2="512.89" y2="352" stroke="#aaaaaa" stroke-width="0.4"/>
<line x1="522.38" y1="350.8" x2="522.38" y2="352" stroke="#aaaaaa" stroke-width="0.4"/>
<line x1="531.87" y1="350.8" x2="531.87" y2="352" stroke="#aaaaaa" stroke-width="0.4"/>
<line x1="541.36" y1="350.8" x2="541.36" y2="352" stroke="#aaaaaa" stroke-width="0.4"/>
<line x1="550.84" y1="350.8" x2="550.84" y2="352" stroke="#aaaaaa" stroke-width="0.4"/>
<line x1="560.33" y1="350.8" x2="560.33" y2="352" stroke="#aaaaaa" stroke-width="0.4"/>
<line x1="569.82" y1="350.8" x2="569.82" y2="352" stroke="#aaaaaa" stroke-width="0.4"/>
<line x1="579.31" y1="350.8" x2="579.31" y2="352" stroke="#aaaaaa" stroke-width="0.4"/>
<line x1="588.79" y1="350.8" x2="588.79" y2="352" stroke="#aaaaaa" stroke-width="0.4"/>
<line x1="598.28" y1="350.8" x2="598.28" y2="352" stroke="#aaaaaa" stroke-width="0.4"/>
<line x1="607.77" y1="350.8" x2="607.77" y2="352" stroke="#aaaaaa" stroke-width="0.4"/>
<line x1="617.26" y1="350.8" x2="617.26" y2="352" stroke="#aaaaaa" stroke-width="0.4"/>
<defs><linearGradient id="vir" x1="0" y1="1" x2="0" y2="0"><stop offset="0.000" stop-color="#45307a"/><stop offset="0.167" stop-color="#3f5a92"/><stop offset="0.333" stop-color="#3b7f8f"/><stop offset="0.500" stop-color="#44a088"/><stop offset="0.667" stop-color="#79c17a"/><stop offset="0.833" stop-color="#b9d76a"/><stop offset="1.000" stop-color="#e6e15c"/></linearGradient></defs>
<rect x="640" y="181.2" width="4.3" height="70.7" fill="url(#vir)"/>
<text x="646.4" y="186.6" font-size="4.8" fill="#1a1a1a">3</text>
<text x="646.4" y="197.1" font-size="4.8" fill="#1a1a1a">2</text>
<text x="646.4" y="207.9" font-size="4.8" fill="#1a1a1a">1</text>
<text x="646.4" y="218.6" font-size="4.8" fill="#1a1a1a">0</text>
<text x="646.4" y="229.4" font-size="4.8" fill="#1a1a1a">−1</text>
<text x="646.4" y="240.2" font-size="4.8" fill="#1a1a1a">−2</text>
<text x="646.4" y="250.9" font-size="4.8" fill="#1a1a1a">−3</text>
<text x="653.4" y="184.6" font-size="4.6" font-weight="bold" fill="#111">Group</text>
<rect x="653.4" y="186.8" width="6.8" height="6.2" fill="#4a55ad"/>
<text x="661.4" y="191.8" font-size="5" fill="#1a1a1a">CTR</text>
<rect x="653.4" y="193.6" width="6.8" height="6.2" fill="#f0924d"/>
<text x="661.4" y="198.8" font-size="5" fill="#1a1a1a">sh−DDX3X</text>
<text x="8.6" y="368.4" font-size="15" font-weight="bold">G</text>
<line x1="159.2" y1="370.9" x2="220.7" y2="376.6" stroke="#bbbbbb" stroke-width="3.51" stroke-linecap="round"/>
<line x1="302.8" y1="435.4" x2="253.5" y2="480.3" stroke="#bbbbbb" stroke-width="3.24" stroke-linecap="round"/>
<line x1="253.5" y1="480.3" x2="170.1" y2="572.4" stroke="#bbbbbb" stroke-width="2.29" stroke-linecap="round"/>
<line x1="94.3" y1="451" x2="59.1" y2="491.3" stroke="#bbbbbb" stroke-width="4.32" stroke-linecap="round"/>
<line x1="94.3" y1="451" x2="115.6" y2="528.6" stroke="#bbbbbb" stroke-width="4.05" stroke-linecap="round"/>
<line x1="59.1" y1="491.3" x2="115.6" y2="528.6" stroke="#bbbbbb" stroke-width="3.51" stroke-linecap="round"/>
<line x1="59.1" y1="491.3" x2="40.8" y2="565.8" stroke="#bbbbbb" stroke-width="2.43" stroke-linecap="round"/>
<line x1="59.1" y1="491.3" x2="107.5" y2="581.3" stroke="#bbbbbb" stroke-width="2.16" stroke-linecap="round"/>
<line x1="115.6" y1="528.6" x2="40.8" y2="565.8" stroke="#bbbbbb" stroke-width="2.43" stroke-linecap="round"/>
<line x1="115.6" y1="528.6" x2="107.5" y2="581.3" stroke="#bbbbbb" stroke-width="2.43" stroke-linecap="round"/>
<line x1="115.6" y1="528.6" x2="142.6" y2="610" stroke="#bbbbbb" stroke-width="2.16" stroke-linecap="round"/>
<line x1="115.6" y1="528.6" x2="191" y2="624" stroke="#bbbbbb" stroke-width="2.43" stroke-linecap="round"/>
<line x1="115.6" y1="528.6" x2="112" y2="630.4" stroke="#bbbbbb" stroke-width="2.03" stroke-linecap="round"/>
<line x1="115.6" y1="528.6" x2="129.4" y2="673.5" stroke="#bbbbbb" stroke-width="2.03" stroke-linecap="round"/>
<line x1="115.6" y1="528.6" x2="170.1" y2="572.4" stroke="#bbbbbb" stroke-width="1.76" stroke-linecap="round"/>
<line x1="40.8" y1="565.8" x2="170.1" y2="572.4" stroke="#bbbbbb" stroke-width="2.16" stroke-linecap="round"/>
<line x1="40.8" y1="565.8" x2="61.3" y2="651.4" stroke="#bbbbbb" stroke-width="2.43" stroke-linecap="round"/>
<line x1="170.1" y1="572.4" x2="107.5" y2="581.3" stroke="#bbbbbb" stroke-width="2.03" stroke-linecap="round"/>
<line x1="170.1" y1="572.4" x2="142.6" y2="610" stroke="#bbbbbb" stroke-width="2.43" stroke-linecap="round"/>
<line x1="170.1" y1="572.4" x2="112" y2="630.4" stroke="#bbbbbb" stroke-width="2.97" stroke-linecap="round"/>
<line x1="170.1" y1="572.4" x2="155.3" y2="644" stroke="#bbbbbb" stroke-width="2.16" stroke-linecap="round"/>
<line x1="170.1" y1="572.4" x2="61.3" y2="651.4" stroke="#bbbbbb" stroke-width="2.03" stroke-linecap="round"/>
<line x1="170.1" y1="572.4" x2="129.4" y2="673.5" stroke="#bbbbbb" stroke-width="2.29" stroke-linecap="round"/>
<line x1="170.1" y1="572.4" x2="191" y2="624" stroke="#bbbbbb" stroke-width="2.16" stroke-linecap="round"/>
<line x1="107.5" y1="581.3" x2="112" y2="630.4" stroke="#bbbbbb" stroke-width="2.16" stroke-linecap="round"/>
<line x1="107.5" y1="581.3" x2="129.4" y2="673.5" stroke="#bbbbbb" stroke-width="2.16" stroke-linecap="round"/>
<line x1="107.5" y1="581.3" x2="155.3" y2="644" stroke="#bbbbbb" stroke-width="1.76" stroke-linecap="round"/>
<line x1="142.6" y1="610" x2="112" y2="630.4" stroke="#bbbbbb" stroke-width="2.97" stroke-linecap="round"/>
<line x1="142.6" y1="610" x2="155.3" y2="644" stroke="#bbbbbb" stroke-width="2.97" stroke-linecap="round"/>
<line x1="142.6" y1="610" x2="61.3" y2="651.4" stroke="#bbbbbb" stroke-width="2.29" stroke-linecap="round"/>
<line x1="142.6" y1="610" x2="129.4" y2="673.5" stroke="#bbbbbb" stroke-width="2.97" stroke-linecap="round"/>
<line x1="142.6" y1="610" x2="191" y2="624" stroke="#bbbbbb" stroke-width="2.97" stroke-linecap="round"/>
<line x1="191" y1="624" x2="155.3" y2="644" stroke="#bbbbbb" stroke-width="3.51" stroke-linecap="round"/>
<line x1="191" y1="624" x2="112" y2="630.4" stroke="#bbbbbb" stroke-width="2.7" stroke-linecap="round"/>
<line x1="191" y1="624" x2="61.3" y2="651.4" stroke="#bbbbbb" stroke-width="2.16" stroke-linecap="round"/>
<line x1="191" y1="624" x2="129.4" y2="673.5" stroke="#bbbbbb" stroke-width="2.16" stroke-linecap="round"/>
<line x1="191" y1="624" x2="266.6" y2="694.2" stroke="#bbbbbb" stroke-width="3.51" stroke-linecap="round"/>
<line x1="112" y1="630.4" x2="61.3" y2="651.4" stroke="#bbbbbb" stroke-width="3.51" stroke-linecap="round"/>
<line x1="112" y1="630.4" x2="155.3" y2="644" stroke="#bbbbbb" stroke-width="3.51" stroke-linecap="round"/>
<line x1="112" y1="630.4" x2="129.4" y2="673.5" stroke="#bbbbbb" stroke-width="2.97" stroke-linecap="round"/>
<line x1="61.3" y1="651.4" x2="129.4" y2="673.5" stroke="#bbbbbb" stroke-width="3.51" stroke-linecap="round"/>
<line x1="61.3" y1="651.4" x2="155.3" y2="644" stroke="#bbbbbb" stroke-width="2.7" stroke-linecap="round"/>
<line x1="155.3" y1="644" x2="129.4" y2="673.5" stroke="#bbbbbb" stroke-width="3.51" stroke-linecap="round"/>
<line x1="370.6" y1="541.6" x2="330.6" y2="563.5" stroke="#bbbbbb" stroke-width="4.32" stroke-linecap="round"/>
<line x1="370.6" y1="541.6" x2="354.5" y2="612.6" stroke="#bbbbbb" stroke-width="4.32" stroke-linecap="round"/>
<line x1="330.6" y1="563.5" x2="354.5" y2="612.6" stroke="#bbbbbb" stroke-width="4.32" stroke-linecap="round"/>
<line x1="40.8" y1="565.8" x2="112" y2="630.4" stroke="#bbbbbb" stroke-width="1.76" stroke-linecap="round"/>
<circle cx="159.2" cy="370.9" r="4.43" fill="#e0606a" stroke="#1f1f1f" stroke-width="0.8"/>
<circle cx="220.7" cy="376.6" r="2.7" fill="#4f74b0" stroke="#1f1f1f" stroke-width="0.8"/>
<circle cx="302.8" cy="435.4" r="4.97" fill="#8c6a92" stroke="#1f1f1f" stroke-width="0.8"/>
<circle cx="94.3" cy="451" r="5.08" fill="#6a72ac" stroke="#1f1f1f" stroke-width="0.8"/>
<circle cx="253.5" cy="480.3" r="3.56" fill="#4c77b3" stroke="#1f1f1f" stroke-width="0.8"/>
<circle cx="59.1" cy="491.3" r="4.97" fill="#3e7fba" stroke="#1f1f1f" stroke-width="0.8"/>
<circle cx="115.6" cy="528.6" r="4.64" fill="#5d77b0" stroke="#1f1f1f" stroke-width="0.8"/>
<circle cx="370.6" cy="541.6" r="3.24" fill="#4f74b0" stroke="#1f1f1f" stroke-width="0.8"/>
<circle cx="330.6" cy="563.5" r="3.24" fill="#4f74b0" stroke="#1f1f1f" stroke-width="0.8"/>
<circle cx="40.8" cy="565.8" r="4.75" fill="#4c77b3" stroke="#1f1f1f" stroke-width="0.8"/>
<circle cx="170.1" cy="572.4" r="3.89" fill="#4678b6" stroke="#1f1f1f" stroke-width="0.8"/>
<circle cx="107.5" cy="581.3" r="3.56" fill="#4f74b0" stroke="#1f1f1f" stroke-width="0.8"/>
<circle cx="142.6" cy="610" r="3.89" fill="#7673a8" stroke="#1f1f1f" stroke-width="0.8"/>
<circle cx="191" cy="624" r="3.89" fill="#4f78b4" stroke="#1f1f1f" stroke-width="0.8"/>
<circle cx="112" cy="630.4" r="4.86" fill="#4678b6" stroke="#1f1f1f" stroke-width="0.8"/>
<circle cx="155.3" cy="644" r="3.89" fill="#4f74b0" stroke="#1f1f1f" stroke-width="0.8"/>
<circle cx="61.3" cy="651.4" r="4.86" fill="#4678b6" stroke="#1f1f1f" stroke-width="0.8"/>
<circle cx="129.4" cy="673.5" r="4" fill="#4f74b0" stroke="#1f1f1f" stroke-width="0.8"/>
<circle cx="266.6" cy="694.2" r="3.56" fill="#4678b6" stroke="#1f1f1f" stroke-width="0.8"/>
<circle cx="354.5" cy="612.6" r="3.56" fill="#4f74b0" stroke="#1f1f1f" stroke-width="0.8"/>
<text x="71" y="368" font-size="8.8" fill="#111" textLength="164.7" lengthAdjust="spacingAndGlyphs">Valine, leucine and isoleucine degradation</text>
<text x="183" y="386.3" font-size="8.8" fill="#111" textLength="88.8" lengthAdjust="spacingAndGlyphs">Butanoate metabolism</text>
<text x="258.5" y="444.6" font-size="8.8" fill="#111" textLength="76.5" lengthAdjust="spacingAndGlyphs">Carbon metabolism</text>
<text x="64.8" y="447.7" font-size="8.8" fill="#111" textLength="71.6" lengthAdjust="spacingAndGlyphs">Parkinson disease</text>
<text x="205.2" y="477.9" font-size="8.8" fill="#111" textLength="109.3" lengthAdjust="spacingAndGlyphs">Biosynthesis of amino acids</text>
<text x="27.7" y="500.6" font-size="8.8" fill="#111" textLength="53.3" lengthAdjust="spacingAndGlyphs">Prion disease</text>
<text x="98.7" y="532.3" font-size="8.8" fill="#111" textLength="201.3" lengthAdjust="spacingAndGlyphs">Pathways of neurodegeneration − multiple diseases</text>
<text x="280" y="545.5" font-size="8.8" fill="#111" textLength="87.7" lengthAdjust="spacingAndGlyphs">Fatty acid degradation</text>
<text x="292.8" y="560.6" font-size="8.8" fill="#111" textLength="86.6" lengthAdjust="spacingAndGlyphs">Fatty acid metabolism</text>
<text x="44.4" y="568.9" font-size="8.8" fill="#111" textLength="78.2" lengthAdjust="spacingAndGlyphs">Salmonella infection</text>
<text x="128.5" y="568.9" font-size="8.8" fill="#111" textLength="96.1" lengthAdjust="spacingAndGlyphs">HIF−1 signaling pathway</text>
<text x="76" y="590.5" font-size="8.8" fill="#111" textLength="50" lengthAdjust="spacingAndGlyphs">Gap junction</text>
<text x="91.7" y="606.4" font-size="8.8" fill="#111" textLength="90.5" lengthAdjust="spacingAndGlyphs">Long−term potentiation</text>
<text x="157.7" y="621.6" font-size="8.8" fill="#111" textLength="80" lengthAdjust="spacingAndGlyphs">Cholinergic synapse</text>
<text x="33.9" y="639.7" font-size="8.8" fill="#111" textLength="93.4" lengthAdjust="spacingAndGlyphs">Proteoglycans in cancer</text>
<text x="133.1" y="640.3" font-size="8.8" fill="#111" textLength="106.3" lengthAdjust="spacingAndGlyphs">Oxytocin signaling pathway</text>
<text x="65.4" y="656" font-size="8.8" fill="#111" textLength="124.4" lengthAdjust="spacingAndGlyphs">Regulation of actin cytoskeleton</text>
<text x="64.2" y="670.6" font-size="8.8" fill="#111" textLength="141.9" lengthAdjust="spacingAndGlyphs">Vascular smooth muscle contraction</text>
<text x="256.3" y="615.2" font-size="8.8" fill="#111" textLength="95.8" lengthAdjust="spacingAndGlyphs">PPAR signaling pathway</text>
<text x="233.7" y="691.1" font-size="8.8" fill="#111" textLength="77.9" lengthAdjust="spacingAndGlyphs">GABAergic synapse</text>
<text x="342.7" y="392.4" font-size="6.3" fill="#222" textLength="47.3" lengthAdjust="spacingAndGlyphs">number of genes</text>
<rect x="342.4" y="396" width="13.5" height="47.5" fill="#ebebeb"/>
<circle cx="349" cy="401.4" r="2.2" fill="none" stroke="#111" stroke-width="0.6"/>
<text x="359.1" y="403.6" font-size="6.1" fill="#222">5</text>
<circle cx="349" cy="412.4" r="4.2" fill="none" stroke="#111" stroke-width="0.6"/>
<text x="359.1" y="414.6" font-size="6.1" fill="#222">10</text>
<circle cx="349" cy="423.8" r="5" fill="none" stroke="#111" stroke-width="0.6"/>
<text x="359.1" y="426" font-size="6.1" fill="#222">15</text>
<circle cx="349" cy="436.5" r="5.6" fill="none" stroke="#111" stroke-width="0.6"/>
<text x="359.1" y="438.7" font-size="6.1" fill="#222">20</text>
<text x="342.7" y="462.6" font-size="6.2" fill="#222">p.adjust</text>
<defs><linearGradient id="padj" x1="0" y1="0" x2="0" y2="1"><stop offset="0" stop-color="#4a7fb8"/><stop offset="0.5" stop-color="#8a6f9e"/><stop offset="1" stop-color="#e06565"/></linearGradient></defs>
<rect x="342.4" y="466.3" width="10.8" height="54.6" fill="url(#padj)"/>
<line x1="342.4" y1="472.9" x2="344.4" y2="472.9" stroke="#fff" stroke-width="0.5"/>
<line x1="351.2" y1="472.9" x2="353.2" y2="472.9" stroke="#fff" stroke-width="0.5"/>
<text x="357.1" y="475.1" font-size="6.1" fill="#222">1e−03</text>
<line x1="342.4" y1="484.2" x2="344.4" y2="484.2" stroke="#fff" stroke-width="0.5"/>
<line x1="351.2" y1="484.2" x2="353.2" y2="484.2" stroke="#fff" stroke-width="0.5"/>
<text x="357.1" y="486.4" font-size="6.1" fill="#222">1e−04</text>
<line x1="342.4" y1="495.6" x2="344.4" y2="495.6" stroke="#fff" stroke-width="0.5"/>
<line x1="351.2" y1="495.6" x2="353.2" y2="495.6" stroke="#fff" stroke-width="0.5"/>
<text x="357.1" y="497.8" font-size="6.1" fill="#222">1e−05</text>
<line x1="342.4" y1="507" x2="344.4" y2="507" stroke="#fff" stroke-width="0.5"/>
<line x1="351.2" y1="507" x2="353.2" y2="507" stroke="#fff" stroke-width="0.5"/>
<text x="357.1" y="509.2" font-size="6.1" fill="#222">1e−06</text>
<line x1="342.4" y1="517.8" x2="344.4" y2="517.8" stroke="#fff" stroke-width="0.5"/>
<line x1="351.2" y1="517.8" x2="353.2" y2="517.8" stroke="#fff" stroke-width="0.5"/>
<text x="357.1" y="520" font-size="6.1" fill="#222">1e−07</text>
<text x="404.3" y="368.2" font-size="15.6" font-weight="bold">H</text>
<rect x="575.6" y="367.4" width="67" height="115.4" fill="#fff"/>
<line x1="586.79" y1="367.4" x2="586.79" y2="482.8" stroke="#ebebeb" stroke-width="0.6"/>
<line x1="604.36" y1="367.4" x2="604.36" y2="482.8" stroke="#ebebeb" stroke-width="0.6"/>
<line x1="621.93" y1="367.4" x2="621.93" y2="482.8" stroke="#ebebeb" stroke-width="0.6"/>
<line x1="639.5" y1="367.4" x2="639.5" y2="482.8" stroke="#ebebeb" stroke-width="0.6"/>
<line x1="575.6" y1="374" x2="642.6" y2="374" stroke="#ebebeb" stroke-width="0.6"/>
<line x1="575.6" y1="385.3" x2="642.6" y2="385.3" stroke="#ebebeb" stroke-width="0.6"/>
<line x1="575.6" y1="396.8" x2="642.6" y2="396.8" stroke="#ebebeb" stroke-width="0.6"/>
<line x1="575.6" y1="408.1" x2="642.6" y2="408.1" stroke="#ebebeb" stroke-width="0.6"/>
<line x1="575.6" y1="419.6" x2="642.6" y2="419.6" stroke="#ebebeb" stroke-width="0.6"/>
<line x1="575.6" y1="430.9" x2="642.6" y2="430.9" stroke="#ebebeb" stroke-width="0.6"/>
<line x1="575.6" y1="442.3" x2="642.6" y2="442.3" stroke="#ebebeb" stroke-width="0.6"/>
<line x1="575.6" y1="453.8" x2="642.6" y2="453.8" stroke="#ebebeb" stroke-width="0.6"/>
<line x1="575.6" y1="465" x2="642.6" y2="465" stroke="#ebebeb" stroke-width="0.6"/>
<line x1="575.6" y1="476.4" x2="642.6" y2="476.4" stroke="#ebebeb" stroke-width="0.6"/>
<rect x="578.88" y="369.1" width="60.62" height="9.8" fill="#f2e9b8"/>
<rect x="586.79" y="380.4" width="52.71" height="9.8" fill="#a85a7c"/>
<rect x="581.52" y="391.9" width="57.98" height="9.8" fill="#803a79"/>
<rect x="590.13" y="403.2" width="49.37" height="9.8" fill="#7a3778"/>
<rect x="596.8" y="414.7" width="42.7" height="9.8" fill="#6a2d73"/>
<rect x="593.12" y="426" width="46.38" height="9.8" fill="#6b2c72"/>
<rect x="593.12" y="437.4" width="46.38" height="9.8" fill="#552b6c"/>
<rect x="590.13" y="448.9" width="49.37" height="9.8" fill="#502c6a"/>
<rect x="600.14" y="460.1" width="39.36" height="9.8" fill="#483067"/>
<rect x="593.12" y="471.5" width="46.38" height="9.8" fill="#453068"/>
<rect x="575.6" y="367.4" width="67" height="115.4" fill="none" stroke="#555" stroke-width="0.7"/>
<line x1="574" y1="374" x2="575.6" y2="374" stroke="#333" stroke-width="0.6"/>
<text x="573.2" y="376.5" font-size="7.1" font-weight="bold" text-anchor="end" fill="#4d4d4d">Valine, leucine and isoleucine degradation</text>
<line x1="574" y1="385.3" x2="575.6" y2="385.3" stroke="#333" stroke-width="0.6"/>
<text x="573.2" y="387.8" font-size="7.1" font-weight="bold" text-anchor="end" fill="#4d4d4d">Long−term potentiation</text>
<line x1="574" y1="396.8" x2="575.6" y2="396.8" stroke="#333" stroke-width="0.6"/>
<text x="573.2" y="399.3" font-size="7.1" font-weight="bold" text-anchor="end" fill="#4d4d4d">Oxytocin signaling pathway</text>
<line x1="574" y1="408.1" x2="575.6" y2="408.1" stroke="#333" stroke-width="0.6"/>
<text x="573.2" y="410.6" font-size="7.1" font-weight="bold" text-anchor="end" fill="#4d4d4d">GABAergic synapse</text>
<line x1="574" y1="419.6" x2="575.6" y2="419.6" stroke="#333" stroke-width="0.6"/>
<text x="573.2" y="422.1" font-size="7.1" font-weight="bold" text-anchor="end" fill="#4d4d4d">Long−term depression</text>
<line x1="574" y1="430.9" x2="575.6" y2="430.9" stroke="#333" stroke-width="0.6"/>
<text x="573.2" y="433.4" font-size="7.1" font-weight="bold" text-anchor="end" fill="#4d4d4d">ErbB signaling pathway</text>
<line x1="574" y1="442.3" x2="575.6" y2="442.3" stroke="#333" stroke-width="0.6"/>
<text x="573.2" y="444.8" font-size="7.1" font-weight="bold" text-anchor="end" fill="#4d4d4d">Glutamatergic synapse</text>
<line x1="574" y1="453.8" x2="575.6" y2="453.8" stroke="#333" stroke-width="0.6"/>
<text x="573.2" y="456.3" font-size="7.1" font-weight="bold" text-anchor="end" fill="#4d4d4d">mTOR signaling pathway</text>
<line x1="574" y1="465" x2="575.6" y2="465" stroke="#333" stroke-width="0.6"/>
<text x="573.2" y="467.5" font-size="7.1" font-weight="bold" text-anchor="end" fill="#4d4d4d">Synaptic vesicle cycle</text>
<line x1="574" y1="476.4" x2="575.6" y2="476.4" stroke="#333" stroke-width="0.6"/>
<text x="573.2" y="478.9" font-size="7.1" font-weight="bold" text-anchor="end" fill="#4d4d4d">Autophagy − animal</text>
<line x1="586.79" y1="482.8" x2="586.79" y2="484.4" stroke="#333" stroke-width="0.6"/>
<text x="586.79" y="491" font-size="6.6" text-anchor="middle" fill="#4d4d4d">−3</text>
<line x1="604.36" y1="482.8" x2="604.36" y2="484.4" stroke="#333" stroke-width="0.6"/>
<text x="604.36" y="491" font-size="6.6" text-anchor="middle" fill="#4d4d4d">−2</text>
<line x1="621.93" y1="482.8" x2="621.93" y2="484.4" stroke="#333" stroke-width="0.6"/>
<text x="621.93" y="491" font-size="6.6" text-anchor="middle" fill="#4d4d4d">−1</text>
<line x1="639.5" y1="482.8" x2="639.5" y2="484.4" stroke="#333" stroke-width="0.6"/>
<text x="639.5" y="491" font-size="6.6" text-anchor="middle" fill="#4d4d4d">0</text>
<text x="609.3" y="498.4" font-size="6.3" font-weight="bold" text-anchor="middle" fill="#111" textLength="19.6" lengthAdjust="spacingAndGlyphs">zscore</text>
<text x="441.8" y="429.2" font-size="5.6" fill="#222" textLength="44" lengthAdjust="spacingAndGlyphs">−log10(adj_pval)</text>
<defs><linearGradient id="mag" x1="0" y1="1" x2="0" y2="0"><stop offset="0" stop-color="#2d1e5c"/><stop offset="0.3" stop-color="#6b2b80"/><stop offset="0.55" stop-color="#b04c7c"/><stop offset="0.8" stop-color="#f0a070"/><stop offset="1" stop-color="#fbe9b8"/></linearGradient></defs>
<rect x="441.8" y="432.2" width="9.1" height="41" fill="url(#mag)"/>
<text x="453.2" y="434.7" font-size="4.4" fill="#222">7</text>
<text x="453.2" y="442.1" font-size="4.4" fill="#222">6</text>
<text x="453.2" y="449.5" font-size="4.4" fill="#222">5</text>
<text x="453.2" y="456.2" font-size="4.4" fill="#222">4</text>
<text x="453.2" y="463.3" font-size="4.4" fill="#222">3</text>
<text x="453.2" y="470.7" font-size="4.4" fill="#222">2</text>
<text x="406.5" y="515" font-size="15" font-weight="bold">I</text>
<line x1="494" y1="530.4" x2="449.7" y2="576.4" stroke="#1a1a1a" stroke-width="0.45"/>
<line x1="494" y1="530.4" x2="506.7" y2="566.1" stroke="#1a1a1a" stroke-width="0.45"/>
<line x1="494.45" y1="529.8" x2="551.45" y2="572.4" stroke="#1a1a1a" stroke-width="0.4"/>
<line x1="493.55" y1="531" x2="550.55" y2="573.6" stroke="#1a1a1a" stroke-width="0.4"/>
<line x1="562.3" y1="525.6" x2="609.2" y2="555.2" stroke="#1a1a1a" stroke-width="0.45"/>
<line x1="609.42" y1="555.92" x2="551.22" y2="573.72" stroke="#1a1a1a" stroke-width="0.4"/>
<line x1="608.98" y1="554.48" x2="550.78" y2="572.28" stroke="#1a1a1a" stroke-width="0.4"/>
<line x1="609.2" y1="555.2" x2="506.7" y2="566.1" stroke="#1a1a1a" stroke-width="0.45"/>
<line x1="609.2" y1="555.2" x2="600" y2="598.1" stroke="#1a1a1a" stroke-width="0.45"/>
<line x1="609.2" y1="555.2" x2="566.8" y2="621" stroke="#1a1a1a" stroke-width="0.45"/>
<line x1="609.2" y1="555.2" x2="487.8" y2="605" stroke="#1a1a1a" stroke-width="0.45"/>
<line x1="609.62" y1="555.82" x2="525.32" y2="612.52" stroke="#1a1a1a" stroke-width="0.4"/>
<line x1="608.78" y1="554.58" x2="524.48" y2="611.28" stroke="#1a1a1a" stroke-width="0.4"/>
<line x1="609.2" y1="555.2" x2="483.6" y2="645.2" stroke="#1a1a1a" stroke-width="0.45"/>
<line x1="609.2" y1="555.2" x2="435.4" y2="626.6" stroke="#1a1a1a" stroke-width="0.45"/>
<line x1="609.2" y1="555.2" x2="525.5" y2="651.5" stroke="#1a1a1a" stroke-width="0.45"/>
<line x1="609.2" y1="555.2" x2="572.8" y2="667.7" stroke="#1a1a1a" stroke-width="0.45"/>
<line x1="609.2" y1="555.2" x2="543" y2="694.4" stroke="#1a1a1a" stroke-width="0.45"/>
<line x1="449.57" y1="575.66" x2="506.57" y2="565.36" stroke="#1a1a1a" stroke-width="0.4"/>
<line x1="449.83" y1="577.14" x2="506.83" y2="566.84" stroke="#1a1a1a" stroke-width="0.4"/>
<line x1="449.7" y1="576.4" x2="551" y2="573" stroke="#1a1a1a" stroke-width="0.45"/>
<line x1="449.7" y1="576.4" x2="435.4" y2="626.6" stroke="#1a1a1a" stroke-width="0.45"/>
<line x1="449.7" y1="576.4" x2="483.6" y2="645.2" stroke="#1a1a1a" stroke-width="0.45"/>
<line x1="506.7" y1="566.1" x2="551" y2="573" stroke="#1a1a1a" stroke-width="0.45"/>
<line x1="506.7" y1="566.1" x2="487.8" y2="605" stroke="#1a1a1a" stroke-width="0.45"/>
<line x1="507.4" y1="565.82" x2="525.6" y2="611.62" stroke="#1a1a1a" stroke-width="0.4"/>
<line x1="506" y1="566.38" x2="524.2" y2="612.18" stroke="#1a1a1a" stroke-width="0.4"/>
<line x1="506.7" y1="566.1" x2="483.6" y2="645.2" stroke="#1a1a1a" stroke-width="0.45"/>
<line x1="506.7" y1="566.1" x2="525.5" y2="651.5" stroke="#1a1a1a" stroke-width="0.45"/>
<line x1="506.7" y1="566.1" x2="600" y2="598.1" stroke="#1a1a1a" stroke-width="0.45"/>
<line x1="506.7" y1="566.1" x2="435.4" y2="626.6" stroke="#1a1a1a" stroke-width="0.45"/>
<line x1="551.34" y1="573.67" x2="488.14" y2="605.67" stroke="#1a1a1a" stroke-width="0.4"/>
<line x1="550.66" y1="572.33" x2="487.46" y2="604.33" stroke="#1a1a1a" stroke-width="0.4"/>
<line x1="551.62" y1="573.42" x2="525.52" y2="612.32" stroke="#1a1a1a" stroke-width="0.4"/>
<line x1="550.38" y1="572.58" x2="524.28" y2="611.48" stroke="#1a1a1a" stroke-width="0.4"/>
<line x1="551" y1="573" x2="600" y2="598.1" stroke="#1a1a1a" stroke-width="0.45"/>
<line x1="551" y1="573" x2="566.8" y2="621" stroke="#1a1a1a" stroke-width="0.45"/>
<line x1="551" y1="573" x2="483.6" y2="645.2" stroke="#1a1a1a" stroke-width="0.45"/>
<line x1="551" y1="573" x2="435.4" y2="626.6" stroke="#1a1a1a" stroke-width="0.45"/>
<line x1="551.71" y1="573.23" x2="526.21" y2="651.73" stroke="#1a1a1a" stroke-width="0.4"/>
<line x1="550.29" y1="572.77" x2="524.79" y2="651.27" stroke="#1a1a1a" stroke-width="0.4"/>
<line x1="551" y1="573" x2="572.8" y2="667.7" stroke="#1a1a1a" stroke-width="0.45"/>
<line x1="551" y1="573" x2="543" y2="694.4" stroke="#1a1a1a" stroke-width="0.45"/>
<line x1="600" y1="598.1" x2="524.9" y2="611.9" stroke="#1a1a1a" stroke-width="0.45"/>
<line x1="600" y1="598.1" x2="487.8" y2="605" stroke="#1a1a1a" stroke-width="0.45"/>
<line x1="600.44" y1="598.71" x2="525.94" y2="652.11" stroke="#1a1a1a" stroke-width="0.4"/>
<line x1="599.56" y1="597.49" x2="525.06" y2="650.89" stroke="#1a1a1a" stroke-width="0.4"/>
<line x1="600" y1="598.1" x2="483.6" y2="645.2" stroke="#1a1a1a" stroke-width="0.45"/>
<line x1="600" y1="598.1" x2="543" y2="694.4" stroke="#1a1a1a" stroke-width="0.45"/>
<line x1="600" y1="598.1" x2="572.8" y2="667.7" stroke="#1a1a1a" stroke-width="0.45"/>
<line x1="488.09" y1="605.69" x2="435.69" y2="627.29" stroke="#1a1a1a" stroke-width="0.4"/>
<line x1="487.51" y1="604.31" x2="435.11" y2="625.91" stroke="#1a1a1a" stroke-width="0.4"/>
<line x1="488.55" y1="605.08" x2="484.35" y2="645.28" stroke="#1a1a1a" stroke-width="0.4"/>
<line x1="487.05" y1="604.92" x2="482.85" y2="645.12" stroke="#1a1a1a" stroke-width="0.4"/>
<line x1="487.8" y1="605" x2="524.9" y2="611.9" stroke="#1a1a1a" stroke-width="0.45"/>
<line x1="487.8" y1="605" x2="572.8" y2="667.7" stroke="#1a1a1a" stroke-width="0.45"/>
<line x1="487.8" y1="605" x2="525.5" y2="651.5" stroke="#1a1a1a" stroke-width="0.45"/>
<line x1="487.8" y1="605" x2="464.5" y2="679" stroke="#1a1a1a" stroke-width="0.45"/>
<line x1="524.9" y1="611.9" x2="483.6" y2="645.2" stroke="#1a1a1a" stroke-width="0.45"/>
<line x1="525.65" y1="611.89" x2="526.25" y2="651.49" stroke="#1a1a1a" stroke-width="0.4"/>
<line x1="524.15" y1="611.91" x2="524.75" y2="651.51" stroke="#1a1a1a" stroke-width="0.4"/>
<line x1="524.9" y1="611.9" x2="543" y2="694.4" stroke="#1a1a1a" stroke-width="0.45"/>
<line x1="524.9" y1="611.9" x2="566.8" y2="621" stroke="#1a1a1a" stroke-width="0.45"/>
<line x1="524.9" y1="611.9" x2="572.8" y2="667.7" stroke="#1a1a1a" stroke-width="0.45"/>
<line x1="524.9" y1="611.9" x2="464.5" y2="679" stroke="#1a1a1a" stroke-width="0.45"/>
<line x1="435.67" y1="625.9" x2="483.87" y2="644.5" stroke="#1a1a1a" stroke-width="0.4"/>
<line x1="435.13" y1="627.3" x2="483.33" y2="645.9" stroke="#1a1a1a" stroke-width="0.4"/>
<line x1="435.4" y1="626.6" x2="464.5" y2="679" stroke="#1a1a1a" stroke-width="0.45"/>
<line x1="435.4" y1="626.6" x2="525.5" y2="651.5" stroke="#1a1a1a" stroke-width="0.45"/>
<line x1="435.4" y1="626.6" x2="572.8" y2="667.7" stroke="#1a1a1a" stroke-width="0.45"/>
<line x1="435.4" y1="626.6" x2="543" y2="694.4" stroke="#1a1a1a" stroke-width="0.45"/>
<line x1="566.8" y1="621" x2="624.6" y2="619" stroke="#1a1a1a" stroke-width="0.45"/>
<line x1="566.8" y1="621" x2="602.4" y2="658.4" stroke="#1a1a1a" stroke-width="0.45"/>
<line x1="566.8" y1="621" x2="525.5" y2="651.5" stroke="#1a1a1a" stroke-width="0.45"/>
<line x1="566.8" y1="621" x2="572.8" y2="667.7" stroke="#1a1a1a" stroke-width="0.45"/>
<line x1="483.71" y1="644.46" x2="525.61" y2="650.76" stroke="#1a1a1a" stroke-width="0.4"/>
<line x1="483.49" y1="645.94" x2="525.39" y2="652.24" stroke="#1a1a1a" stroke-width="0.4"/>
<line x1="483.6" y1="645.2" x2="572.8" y2="667.7" stroke="#1a1a1a" stroke-width="0.45"/>
<line x1="483.6" y1="645.2" x2="464.5" y2="679" stroke="#1a1a1a" stroke-width="0.45"/>
<line x1="484.08" y1="644.62" x2="543.48" y2="693.82" stroke="#1a1a1a" stroke-width="0.4"/>
<line x1="483.12" y1="645.78" x2="542.52" y2="694.98" stroke="#1a1a1a" stroke-width="0.4"/>
<line x1="525.74" y1="650.79" x2="573.04" y2="666.99" stroke="#1a1a1a" stroke-width="0.4"/>
<line x1="525.26" y1="652.21" x2="572.56" y2="668.41" stroke="#1a1a1a" stroke-width="0.4"/>
<line x1="526.19" y1="651.22" x2="543.69" y2="694.12" stroke="#1a1a1a" stroke-width="0.4"/>
<line x1="524.81" y1="651.78" x2="542.31" y2="694.68" stroke="#1a1a1a" stroke-width="0.4"/>
<line x1="525.5" y1="651.5" x2="464.5" y2="679" stroke="#1a1a1a" stroke-width="0.45"/>
<line x1="602.4" y1="658.4" x2="566.8" y2="621" stroke="#1a1a1a" stroke-width="0.45"/>
<line x1="572.8" y1="667.7" x2="543" y2="694.4" stroke="#1a1a1a" stroke-width="0.45"/>
<line x1="464.5" y1="679" x2="543" y2="694.4" stroke="#1a1a1a" stroke-width="0.45"/>
<line x1="464.5" y1="679" x2="572.8" y2="667.7" stroke="#1a1a1a" stroke-width="0.45"/>
<circle cx="494" cy="530.4" r="14.3" fill="#6a1c52"/>
<circle cx="494" cy="530.4" r="10.9" fill="#fff"/>
<path d="M483.6,530.4 A10.4,10.4 0 0 1 504.4,530.4 L500.1,530.4 A6.1,6.1 0 0 0 487.9,530.4 Z" fill="#4b50b2" stroke="none" stroke-width="0"/>
<path d="M504.4,530.4 A10.4,10.4 0 0 1 483.6,530.4 L487.9,530.4 A6.1,6.1 0 0 0 500.1,530.4 Z" fill="#74c29d" stroke="none" stroke-width="0"/>
<circle cx="494" cy="530.4" r="6.1" fill="#fff"/>
<text x="494" y="532.7" font-size="6.4" font-weight="bold" text-anchor="middle" font-style="italic" textLength="26" lengthAdjust="spacingAndGlyphs">Cacna1a</text>
<circle cx="562.3" cy="525.6" r="14.3" fill="#d8a29c"/>
<circle cx="562.3" cy="525.6" r="10.9" fill="#fff"/>
<circle cx="562.3" cy="525.6" r="8.25" fill="none" stroke="#4b50b2" stroke-width="4.3"/>
<circle cx="562.3" cy="525.6" r="6.1" fill="#fff"/>
<text x="562.3" y="527.9" font-size="6.4" font-weight="bold" text-anchor="middle" font-style="italic" textLength="27" lengthAdjust="spacingAndGlyphs">Gabarapl2</text>
<circle cx="609.2" cy="555.2" r="14.3" fill="#a32f70"/>
<circle cx="609.2" cy="555.2" r="10.9" fill="#fff"/>
<path d="M604.8,545.77 A10.4,10.4 0 0 1 619.44,557.01 L615.21,556.26 A6.1,6.1 0 0 0 606.62,549.67 Z" fill="#4b50b2" stroke="none" stroke-width="0"/>
<path d="M619.44,557.01 A10.4,10.4 0 0 1 601.85,562.55 L604.89,559.51 A6.1,6.1 0 0 0 615.21,556.26 Z" fill="#efd33b" stroke="none" stroke-width="0"/>
<path d="M601.85,562.55 A10.4,10.4 0 0 1 604.8,545.77 L606.62,549.67 A6.1,6.1 0 0 0 604.89,559.51 Z" fill="#74c29d" stroke="none" stroke-width="0"/>
<circle cx="609.2" cy="555.2" r="6.1" fill="#fff"/>
<text x="609.2" y="557.5" font-size="6.4" font-weight="bold" text-anchor="middle" font-style="italic" textLength="21" lengthAdjust="spacingAndGlyphs">Prkaca</text>
<circle cx="449.7" cy="576.4" r="14.3" fill="#c56b93"/>
<circle cx="449.7" cy="576.4" r="10.9" fill="#fff"/>
<path d="M439.3,576.4 A10.4,10.4 0 0 1 460.1,576.4 L455.8,576.4 A6.1,6.1 0 0 0 443.6,576.4 Z" fill="#4b50b2" stroke="none" stroke-width="0"/>
<path d="M460.1,576.4 A10.4,10.4 0 0 1 439.3,576.4 L443.6,576.4 A6.1,6.1 0 0 0 455.8,576.4 Z" fill="#74c29d" stroke="none" stroke-width="0"/>
<circle cx="449.7" cy="576.4" r="6.1" fill="#fff"/>
<text x="449.7" y="578.7" font-size="6.4" font-weight="bold" text-anchor="middle" font-style="italic" textLength="14.6" lengthAdjust="spacingAndGlyphs">Gng4</text>
<circle cx="506.7" cy="566.1" r="14.3" fill="#b0377a"/>
<circle cx="506.7" cy="566.1" r="10.9" fill="#fff"/>
<circle cx="506.7" cy="566.1" r="8.25" fill="none" stroke="#efd33b" stroke-width="4.3"/>
<circle cx="506.7" cy="566.1" r="6.1" fill="#fff"/>
<text x="506.7" y="568.4" font-size="6.4" font-weight="bold" text-anchor="middle" font-style="italic" textLength="20.4" lengthAdjust="spacingAndGlyphs">Ppp1ca</text>
<circle cx="551" cy="573" r="14.3" fill="#761d57"/>
<circle cx="551" cy="573" r="10.9" fill="#fff"/>
<path d="M545.8,563.99 A10.4,10.4 0 0 1 561.36,572.09 L557.08,572.47 A6.1,6.1 0 0 0 547.95,567.72 Z" fill="#4b50b2" stroke="none" stroke-width="0"/>
<path d="M561.36,572.09 A10.4,10.4 0 0 1 545.8,582.01 L547.95,578.28 A6.1,6.1 0 0 0 557.08,572.47 Z" fill="#efd33b" stroke="none" stroke-width="0"/>
<path d="M545.8,582.01 A10.4,10.4 0 0 1 545.8,563.99 L547.95,567.72 A6.1,6.1 0 0 0 547.95,578.28 Z" fill="#74c29d" stroke="none" stroke-width="0"/>
<circle cx="551" cy="573" r="6.1" fill="#fff"/>
<text x="551" y="575.3" font-size="6.4" font-weight="bold" text-anchor="middle" font-style="italic" textLength="15.5" lengthAdjust="spacingAndGlyphs">Prkca</text>
<circle cx="600" cy="598.1" r="14.3" fill="#d8929c"/>
<circle cx="600" cy="598.1" r="10.9" fill="#fff"/>
<circle cx="600" cy="598.1" r="8.25" fill="none" stroke="#efd33b" stroke-width="4.3"/>
<circle cx="600" cy="598.1" r="6.1" fill="#fff"/>
<text x="600" y="600.4" font-size="6.4" font-weight="bold" text-anchor="middle" font-style="italic" textLength="23" lengthAdjust="spacingAndGlyphs">Camk2b</text>
<circle cx="487.8" cy="605" r="14.3" fill="#ebc7a8"/>
<circle cx="487.8" cy="605" r="10.9" fill="#fff"/>
<circle cx="487.8" cy="605" r="8.25" fill="none" stroke="#efd33b" stroke-width="4.3"/>
<circle cx="487.8" cy="605" r="6.1" fill="#fff"/>
<text x="487.8" y="607.3" font-size="6.4" font-weight="bold" text-anchor="middle" font-style="italic" textLength="21" lengthAdjust="spacingAndGlyphs">Map2k1</text>
<circle cx="524.9" cy="611.9" r="14.3" fill="#f3deb3"/>
<circle cx="524.9" cy="611.9" r="10.9" fill="#fff"/>
<circle cx="524.9" cy="611.9" r="8.25" fill="none" stroke="#efd33b" stroke-width="4.3"/>
<circle cx="524.9" cy="611.9" r="6.1" fill="#fff"/>
<text x="524.9" y="614.2" font-size="6.4" font-weight="bold" text-anchor="middle" font-style="italic" textLength="14.8" lengthAdjust="spacingAndGlyphs">Gria2</text>
<circle cx="435.4" cy="626.6" r="14.3" fill="#ecc3a3"/>
<circle cx="435.4" cy="626.6" r="10.9" fill="#fff"/>
<path d="M425,626.6 A10.4,10.4 0 0 1 445.8,626.6 L441.5,626.6 A6.1,6.1 0 0 0 429.3,626.6 Z" fill="#74c29d" stroke="none" stroke-width="0"/>
<path d="M445.8,626.6 A10.4,10.4 0 0 1 425,626.6 L429.3,626.6 A6.1,6.1 0 0 0 441.5,626.6 Z" fill="#efd33b" stroke="none" stroke-width="0"/>
<circle cx="435.4" cy="626.6" r="6.1" fill="#fff"/>
<text x="435.4" y="628.9" font-size="6.4" font-weight="bold" text-anchor="middle" font-style="italic" textLength="19" lengthAdjust="spacingAndGlyphs">Mapk3</text>
<circle cx="566.8" cy="621" r="14.3" fill="#d0878f"/>
<circle cx="566.8" cy="621" r="10.9" fill="#fff"/>
<circle cx="566.8" cy="621" r="8.25" fill="none" stroke="#4b50b2" stroke-width="4.3"/>
<circle cx="566.8" cy="621" r="6.1" fill="#fff"/>
<text x="566.8" y="623.3" font-size="6.4" font-weight="bold" text-anchor="middle" font-style="italic" textLength="13.8" lengthAdjust="spacingAndGlyphs">Gad2</text>
<circle cx="624.6" cy="619" r="14.3" fill="#8a276a"/>
<circle cx="624.6" cy="619" r="10.9" fill="#fff"/>
<circle cx="624.6" cy="619" r="8.25" fill="none" stroke="#4b50b2" stroke-width="4.3"/>
<circle cx="624.6" cy="619" r="6.1" fill="#fff"/>
<text x="624.6" y="621.3" font-size="6.4" font-weight="bold" text-anchor="middle" font-style="italic" textLength="21.5" lengthAdjust="spacingAndGlyphs">Slc6a11</text>
<circle cx="483.6" cy="645.2" r="14.3" fill="#b0377a"/>
<circle cx="483.6" cy="645.2" r="10.9" fill="#fff"/>
<path d="M473.2,645.2 A10.4,10.4 0 0 1 494,645.2 L489.7,645.2 A6.1,6.1 0 0 0 477.5,645.2 Z" fill="#74c29d" stroke="none" stroke-width="0"/>
<path d="M494,645.2 A10.4,10.4 0 0 1 473.2,645.2 L477.5,645.2 A6.1,6.1 0 0 0 489.7,645.2 Z" fill="#efd33b" stroke="none" stroke-width="0"/>
<circle cx="483.6" cy="645.2" r="6.1" fill="#fff"/>
<text x="483.6" y="647.5" font-size="6.4" font-weight="bold" text-anchor="middle" font-style="italic" textLength="17.5" lengthAdjust="spacingAndGlyphs">Mapk1</text>
<circle cx="525.5" cy="651.5" r="14.3" fill="#f6f0c6"/>
<circle cx="525.5" cy="651.5" r="10.9" fill="#fff"/>
<circle cx="525.5" cy="651.5" r="8.25" fill="none" stroke="#efd33b" stroke-width="4.3"/>
<circle cx="525.5" cy="651.5" r="6.1" fill="#fff"/>
<text x="525.5" y="653.8" font-size="6.4" font-weight="bold" text-anchor="middle" font-style="italic" textLength="13.8" lengthAdjust="spacingAndGlyphs">Grin1</text>
<circle cx="602.4" cy="658.4" r="14.3" fill="#ecc9aa"/>
<circle cx="602.4" cy="658.4" r="10.9" fill="#fff"/>
<circle cx="602.4" cy="658.4" r="8.25" fill="none" stroke="#4b50b2" stroke-width="4.3"/>
<circle cx="602.4" cy="658.4" r="6.1" fill="#fff"/>
<text x="602.4" y="660.7" font-size="6.4" font-weight="bold" text-anchor="middle" font-style="italic" textLength="12.8" lengthAdjust="spacingAndGlyphs">Abat</text>
<circle cx="572.8" cy="667.7" r="14.3" fill="#080808"/>
<circle cx="572.8" cy="667.7" r="10.9" fill="#fff"/>
<circle cx="572.8" cy="667.7" r="8.25" fill="none" stroke="#efd33b" stroke-width="4.3"/>
<circle cx="572.8" cy="667.7" r="6.1" fill="#fff"/>
<text x="572.8" y="670" font-size="6.4" font-weight="bold" text-anchor="middle" font-style="italic" textLength="12.8" lengthAdjust="spacingAndGlyphs">Araf</text>
<circle cx="464.5" cy="679" r="14.3" fill="#b8407f"/>
<circle cx="464.5" cy="679" r="10.9" fill="#fff"/>
<circle cx="464.5" cy="679" r="8.25" fill="none" stroke="#efd33b" stroke-width="4.3"/>
<circle cx="464.5" cy="679" r="6.1" fill="#fff"/>
<text x="464.5" y="681.3" font-size="6.4" font-weight="bold" text-anchor="middle" font-style="italic" textLength="23" lengthAdjust="spacingAndGlyphs">Camk2d</text>
<circle cx="543" cy="694.4" r="14.3" fill="#e0a2a2"/>
<circle cx="543" cy="694.4" r="10.9" fill="#fff"/>
<circle cx="543" cy="694.4" r="8.25" fill="none" stroke="#74c29d" stroke-width="4.3"/>
<circle cx="543" cy="694.4" r="6.1" fill="#fff"/>
<text x="543" y="696.7" font-size="6.4" font-weight="bold" text-anchor="middle" font-style="italic" textLength="12.8" lengthAdjust="spacingAndGlyphs">Dlg4</text>
<defs><linearGradient id="lfc" x1="0" y1="0" x2="0" y2="1"><stop offset="0" stop-color="#fbe7b2"/><stop offset="0.22" stop-color="#e993a8"/><stop offset="0.38" stop-color="#c8307f"/><stop offset="0.7" stop-color="#6c1a55"/><stop offset="1" stop-color="#0a0008"/></linearGradient></defs>
<rect x="636.2" y="514.3" width="7.5" height="57.4" fill="url(#lfc)"/>
<text x="645.4" y="517" font-size="6.4" fill="#111">−0.21</text>
<text x="645.7" y="543" font-size="6.4" fill="#111">logFC</text>
<text x="645.4" y="573.5" font-size="6.4" fill="#111">−1.42</text>
<rect x="585.9" y="683.5" width="9.1" height="6.5" fill="#efd33b"/>
<text x="597.8" y="688.4" font-size="4.3" font-weight="bold" fill="#111">Long−term potentiation</text>
<rect x="585.9" y="691.6" width="9.1" height="6.5" fill="#74c29d"/>
<text x="597.8" y="696.5" font-size="4.3" font-weight="bold" fill="#111">Glutamatergic synapse</text>
<rect x="585.9" y="699.7" width="9.1" height="6.5" fill="#4b50b2"/>
<text x="597.8" y="704.6" font-size="4.3" font-weight="bold" fill="#111">GABAergic synapse</text>
<text x="8" y="726.9" font-size="15" font-weight="bold">J</text>
<text x="42.3" y="748" font-size="18.6" font-weight="bold" fill="#1a1a1a" textLength="122.7" lengthAdjust="spacingAndGlyphs">Presynapase</text>
<text x="0.5" y="752.5" font-size="5.7" fill="#222">gene count</text>
<rect x="0" y="754.75" width="6.8" height="6.5" fill="#c6c6c8"/>
<text x="8.7" y="759.9" font-size="5.3" fill="#222">0</text>
<rect x="0" y="762.92" width="6.8" height="6.5" fill="#8fb6da"/>
<text x="8.7" y="768.07" font-size="5.3" fill="#222">1</text>
<rect x="0" y="771.09" width="6.8" height="6.5" fill="#6264ad"/>
<text x="8.7" y="776.24" font-size="5.3" fill="#222">2</text>
<rect x="0" y="779.26" width="6.8" height="6.5" fill="#7262a8"/>
<text x="8.7" y="784.41" font-size="5.3" fill="#222">3</text>
<rect x="0" y="787.43" width="6.8" height="6.5" fill="#7e5da0"/>
<text x="8.7" y="792.58" font-size="5.3" fill="#222">4</text>
<rect x="0" y="795.6" width="6.8" height="6.5" fill="#8b5a98"/>
<text x="8.7" y="800.75" font-size="5.3" fill="#222">5</text>
<rect x="0" y="803.77" width="6.8" height="6.5" fill="#98568f"/>
<text x="8.7" y="808.92" font-size="5.3" fill="#222">6</text>
<rect x="0" y="811.94" width="6.8" height="6.5" fill="#a45286"/>
<text x="8.7" y="817.09" font-size="5.3" fill="#222">7</text>
<rect x="0" y="820.11" width="6.8" height="6.5" fill="#ae4d7a"/>
<text x="8.7" y="825.26" font-size="5.3" fill="#222">8</text>
<rect x="0" y="828.28" width="6.8" height="6.5" fill="#b8476c"/>
<text x="8.7" y="833.43" font-size="5.3" fill="#222">9</text>
<rect x="0" y="836.45" width="6.8" height="6.5" fill="#c9404f"/>
<text x="8.7" y="841.6" font-size="5.3" fill="#222">10</text>
<rect x="0" y="844.62" width="6.8" height="6.5" fill="#d63a3a"/>
<text x="8.7" y="849.77" font-size="5.3" fill="#222">≥11</text>
<path d="M107.4,820.1 A40,40 0 0 1 142.72,841.32 L128.59,848.83 A24,24 0 0 0 107.4,836.1 Z" fill="#6264ad" stroke="#fff" stroke-width="0.7"/>
<path d="M142.72,841.32 A40,40 0 0 1 138.92,884.73 L126.31,874.88 A24,24 0 0 0 128.59,848.83 Z" fill="#b5415f" stroke="#fff" stroke-width="0.7"/>
<path d="M138.92,884.73 A40,40 0 0 1 107.4,900.1 L107.4,884.1 A24,24 0 0 0 126.31,874.88 Z" fill="#c6c6c8" stroke="#fff" stroke-width="0.7"/>
<path d="M107.4,900.1 A40,40 0 0 1 77.67,886.87 L89.56,876.16 A24,24 0 0 0 107.4,884.1 Z" fill="#7262a8" stroke="#fff" stroke-width="0.7"/>
<path d="M77.67,886.87 A40,40 0 0 1 67.55,863.59 L83.49,862.19 A24,24 0 0 0 89.56,876.16 Z" fill="#c6c6c8" stroke="#fff" stroke-width="0.7"/>
<path d="M67.55,863.59 A40,40 0 0 1 72.08,841.32 L86.21,848.83 A24,24 0 0 0 83.49,862.19 Z" fill="#c6c6c8" stroke="#fff" stroke-width="0.7"/>
<path d="M72.08,841.32 A40,40 0 0 1 79.12,831.82 L90.43,843.13 A24,24 0 0 0 86.21,848.83 Z" fill="#8fb6da" stroke="#fff" stroke-width="0.7"/>
<path d="M79.12,831.82 A40,40 0 0 1 87.4,825.46 L95.4,839.32 A24,24 0 0 0 90.43,843.13 Z" fill="#8fb6da" stroke="#fff" stroke-width="0.7"/>
<path d="M87.4,825.46 A40,40 0 0 1 97.05,821.46 L101.19,836.92 A24,24 0 0 0 95.4,839.32 Z" fill="#c6c6c8" stroke="#fff" stroke-width="0.7"/>
<path d="M97.05,821.46 A40,40 0 0 1 107.4,820.1 L107.4,836.1 A24,24 0 0 0 101.19,836.92 Z" fill="#7a5fa3" stroke="#fff" stroke-width="0.7"/>
<path d="M107.4,804.1 A56,56 0 0 1 131.07,809.35 L124.3,823.85 A40,40 0 0 0 107.4,820.1 Z" fill="#6264ad" stroke="#fff" stroke-width="0.7"/>
<path d="M131.07,809.35 A56,56 0 0 1 149.02,822.63 L137.13,833.33 A40,40 0 0 0 124.3,823.85 Z" fill="#6264ad" stroke="#fff" stroke-width="0.7"/>
<path d="M149.02,822.63 A56,56 0 0 1 156.85,833.81 L142.72,841.32 A40,40 0 0 0 137.13,833.33 Z" fill="#c6c6c8" stroke="#fff" stroke-width="0.7"/>
<path d="M156.85,833.81 A56,56 0 0 1 158.15,883.77 L143.65,877 A40,40 0 0 0 142.72,841.32 Z" fill="#a3476b" stroke="#fff" stroke-width="0.7"/>
<path d="M158.15,883.77 A56,56 0 0 1 147,899.7 L135.68,888.38 A40,40 0 0 0 143.65,877 Z" fill="#c6c6c8" stroke="#fff" stroke-width="0.7"/>
<path d="M147,899.7 A56,56 0 0 1 128.38,912.02 L122.38,897.19 A40,40 0 0 0 135.68,888.38 Z" fill="#c6c6c8" stroke="#fff" stroke-width="0.7"/>
<path d="M128.38,912.02 A56,56 0 0 1 107.4,916.1 L107.4,900.1 A40,40 0 0 0 122.38,897.19 Z" fill="#c6c6c8" stroke="#fff" stroke-width="0.7"/>
<path d="M107.4,916.1 A56,56 0 0 1 88.25,912.72 L93.72,897.69 A40,40 0 0 0 107.4,900.1 Z" fill="#c6c6c8" stroke="#fff" stroke-width="0.7"/>
<path d="M88.25,912.72 A56,56 0 0 1 75.28,905.97 L84.46,892.87 A40,40 0 0 0 93.72,897.69 Z" fill="#c6c6c8" stroke="#fff" stroke-width="0.7"/>
<path d="M75.28,905.97 A56,56 0 0 1 62.68,893.8 L75.45,884.17 A40,40 0 0 0 84.46,892.87 Z" fill="#7262a8" stroke="#fff" stroke-width="0.7"/>
<path d="M62.68,893.8 A56,56 0 0 1 54.78,879.25 L69.81,873.78 A40,40 0 0 0 75.45,884.17 Z" fill="#c6c6c8" stroke="#fff" stroke-width="0.7"/>
<path d="M54.78,879.25 A56,56 0 0 1 51.61,864.98 L67.55,863.59 A40,40 0 0 0 69.81,873.78 Z" fill="#c6c6c8" stroke="#fff" stroke-width="0.7"/>
<path d="M51.61,864.98 A56,56 0 0 1 52.62,848.46 L68.27,851.78 A40,40 0 0 0 67.55,863.59 Z" fill="#c6c6c8" stroke="#fff" stroke-width="0.7"/>
<path d="M52.62,848.46 A56,56 0 0 1 57.95,833.81 L72.08,841.32 A40,40 0 0 0 68.27,851.78 Z" fill="#c6c6c8" stroke="#fff" stroke-width="0.7"/>
<path d="M65.78,822.63 A56,56 0 0 1 79.4,811.6 L87.4,825.46 A40,40 0 0 0 77.67,833.33 Z" fill="#8fb6da" stroke="#fff" stroke-width="0.7"/>
<path d="M79.4,811.6 A56,56 0 0 1 92.91,806.01 L97.05,821.46 A40,40 0 0 0 87.4,825.46 Z" fill="#c6c6c8" stroke="#fff" stroke-width="0.7"/>
<path d="M107.4,788.1 A72,72 0 0 1 124.82,790.24 L120.95,805.76 A56,56 0 0 0 107.4,804.1 Z" fill="#c6c6c8" stroke="#fff" stroke-width="0.7"/>
<path d="M124.82,790.24 A72,72 0 0 1 141.2,796.53 L133.69,810.65 A56,56 0 0 0 120.95,805.76 Z" fill="#c6c6c8" stroke="#fff" stroke-width="0.7"/>
<path d="M141.2,796.53 A72,72 0 0 1 162.56,813.82 L150.3,824.1 A56,56 0 0 0 133.69,810.65 Z" fill="#6264ad" stroke="#fff" stroke-width="0.7"/>
<path d="M172.11,828.54 A72,72 0 0 1 178.31,847.6 L162.55,850.38 A56,56 0 0 0 157.73,835.55 Z" fill="#8fb6da" stroke="#fff" stroke-width="0.7"/>
<path d="M178.31,847.6 A72,72 0 0 1 178.31,872.6 L162.55,869.82 A56,56 0 0 0 162.55,850.38 Z" fill="#845c9c" stroke="#fff" stroke-width="0.7"/>
<path d="M178.31,872.6 A72,72 0 0 1 170.97,893.9 L156.85,886.39 A56,56 0 0 0 162.55,869.82 Z" fill="#6264ad" stroke="#fff" stroke-width="0.7"/>
<path d="M162.56,906.38 A72,72 0 0 1 143.4,922.45 L135.4,908.6 A56,56 0 0 0 150.3,896.1 Z" fill="#c6c6c8" stroke="#fff" stroke-width="0.7"/>
<path d="M143.4,922.45 A72,72 0 0 1 124.82,929.96 L120.95,914.44 A56,56 0 0 0 135.4,908.6 Z" fill="#c6c6c8" stroke="#fff" stroke-width="0.7"/>
<path d="M36.1,870.12 A72,72 0 0 1 36.29,848.84 L52.09,851.34 A56,56 0 0 0 51.94,867.89 Z" fill="#c6c6c8" stroke="#fff" stroke-width="0.7"/>
<path d="M36.29,848.84 A72,72 0 0 1 42.69,828.54 L57.07,835.55 A56,56 0 0 0 52.09,851.34 Z" fill="#c6c6c8" stroke="#fff" stroke-width="0.7"/>
<path d="M49.15,817.78 A72,72 0 0 1 66.1,801.12 L75.28,814.23 A56,56 0 0 0 62.1,827.18 Z" fill="#c6c6c8" stroke="#fff" stroke-width="0.7"/>
<path d="M66.1,801.12 A72,72 0 0 1 86.35,791.25 L91.03,806.55 A56,56 0 0 0 75.28,814.23 Z" fill="#c6c6c8" stroke="#fff" stroke-width="0.7"/>
<path d="M20.74,844.82 A88,88 0 0 1 27.01,824.31 L41.62,830.81 A72,72 0 0 0 36.49,847.6 Z" fill="#c6c6c8" stroke="#fff" stroke-width="0.7"/>
<circle cx="107.4" cy="860.1" r="24" fill="#e8302e"/>
<line x1="107.4" y1="836.1" x2="107.4" y2="851.9" stroke="#fff" stroke-width="0.7"/>
<circle cx="107.4" cy="860.1" r="8.2" fill="#e8302e" stroke="#fff" stroke-width="0.7"/>
<text x="136.27" y="817.61" font-size="5.6" text-anchor="middle" fill="#111" transform="rotate(-57 136.27 817.61)">active zone</text>
<text x="140.27" y="865.22" font-size="6.4" text-anchor="middle" fill="#111" transform="rotate(5 140.27 865.22)">SV</text>
<text x="115.94" y="894.01" font-size="5.8" text-anchor="middle" fill="#111" transform="rotate(75 115.94 894.01)">DCV</text>
<text x="83.93" y="906" font-size="5" text-anchor="middle" fill="#111" transform="rotate(298 83.93 906)">membrane</text>
<text x="62.29" y="878.27" font-size="5" text-anchor="middle" fill="#111" transform="rotate(340 62.29 878.27)">cytoskeleton</text>
<text x="75.71" y="857.68" font-size="5.8" text-anchor="middle" fill="#111" transform="rotate(0 75.71 857.68)">ER</text>
<text x="70.09" y="838.53" font-size="5" text-anchor="middle" fill="#111" transform="rotate(392 70.09 838.53)">cytosol</text>
<text x="76.55" y="825.08" font-size="5" text-anchor="middle" fill="#111" transform="rotate(410 76.55 825.08)">endocytic zone</text>
<text x="87.47" y="817.09" font-size="5" text-anchor="middle" fill="#111" transform="rotate(426 87.47 817.09)">endosome</text>
<text x="101.06" y="810.24" font-size="5" text-anchor="middle" fill="#111" transform="rotate(443 101.06 810.24)">ribosome</text>
<text x="203" y="726.7" font-size="15" font-weight="bold">K</text>
<text x="240.4" y="748.6" font-size="18.6" font-weight="bold" fill="#1a1a1a" textLength="135" lengthAdjust="spacingAndGlyphs">Postsynapase</text>
<text x="197.7" y="748" font-size="5.7" fill="#222">gene count</text>
<rect x="197.2" y="750.25" width="6.8" height="6.5" fill="#c6c6c8"/>
<text x="205.9" y="755.4" font-size="5.3" fill="#222">0</text>
<rect x="197.2" y="758.42" width="6.8" height="6.5" fill="#8fb6da"/>
<text x="205.9" y="763.57" font-size="5.3" fill="#222">1</text>
<rect x="197.2" y="766.59" width="6.8" height="6.5" fill="#6264ad"/>
<text x="205.9" y="771.74" font-size="5.3" fill="#222">2</text>
<rect x="197.2" y="774.76" width="6.8" height="6.5" fill="#7262a8"/>
<text x="205.9" y="779.91" font-size="5.3" fill="#222">3</text>
<rect x="197.2" y="782.93" width="6.8" height="6.5" fill="#7e5da0"/>
<text x="205.9" y="788.08" font-size="5.3" fill="#222">4</text>
<rect x="197.2" y="791.1" width="6.8" height="6.5" fill="#8b5a98"/>
<text x="205.9" y="796.25" font-size="5.3" fill="#222">5</text>
<rect x="197.2" y="799.27" width="6.8" height="6.5" fill="#98568f"/>
<text x="205.9" y="804.42" font-size="5.3" fill="#222">6</text>
<rect x="197.2" y="807.44" width="6.8" height="6.5" fill="#a45286"/>
<text x="205.9" y="812.59" font-size="5.3" fill="#222">7</text>
<rect x="197.2" y="815.61" width="6.8" height="6.5" fill="#ae4d7a"/>
<text x="205.9" y="820.76" font-size="5.3" fill="#222">8</text>
<rect x="197.2" y="823.78" width="6.8" height="6.5" fill="#b8476c"/>
<text x="205.9" y="828.93" font-size="5.3" fill="#222">9</text>
<rect x="197.2" y="831.95" width="6.8" height="6.5" fill="#c9404f"/>
<text x="205.9" y="837.1" font-size="5.3" fill="#222">10</text>
<rect x="197.2" y="840.12" width="6.8" height="6.5" fill="#d63a3a"/>
<text x="205.9" y="845.27" font-size="5.3" fill="#222">≥11</text>
<path d="M305.1,815.6 A40,40 0 0 1 341.92,871.23 L327.19,864.98 A24,24 0 0 0 305.1,831.6 Z" fill="#d63b38" stroke="#fff" stroke-width="0.7"/>
<path d="M341.92,871.23 A40,40 0 0 1 309.97,895.3 L308.02,879.42 A24,24 0 0 0 327.19,864.98 Z" fill="#6264ad" stroke="#fff" stroke-width="0.7"/>
<path d="M309.97,895.3 A40,40 0 0 1 281.03,887.55 L290.66,874.77 A24,24 0 0 0 308.02,879.42 Z" fill="#c6c6c8" stroke="#fff" stroke-width="0.7"/>
<path d="M281.03,887.55 A40,40 0 0 1 265.49,861.17 L281.33,858.94 A24,24 0 0 0 290.66,874.77 Z" fill="#6264ad" stroke="#fff" stroke-width="0.7"/>
<path d="M265.49,861.17 A40,40 0 0 1 269.46,837.44 L283.72,844.7 A24,24 0 0 0 281.33,858.94 Z" fill="#8fb6da" stroke="#fff" stroke-width="0.7"/>
<path d="M269.46,837.44 A40,40 0 0 1 282.16,822.83 L291.33,835.94 A24,24 0 0 0 283.72,844.7 Z" fill="#c6c6c8" stroke="#fff" stroke-width="0.7"/>
<path d="M282.16,822.83 A40,40 0 0 1 294.75,816.96 L298.89,832.42 A24,24 0 0 0 291.33,835.94 Z" fill="#6264ad" stroke="#fff" stroke-width="0.7"/>
<path d="M294.75,816.96 A40,40 0 0 1 305.1,815.6 L305.1,831.6 A24,24 0 0 0 298.89,832.42 Z" fill="#7d5f9a" stroke="#fff" stroke-width="0.7"/>
<path d="M305.1,799.6 A56,56 0 0 1 352.59,825.92 L339.02,834.4 A40,40 0 0 0 305.1,815.6 Z" fill="#cf3a3a" stroke="#fff" stroke-width="0.7"/>
<path d="M352.59,825.92 A56,56 0 0 1 361.07,853.65 L345.08,854.2 A40,40 0 0 0 339.02,834.4 Z" fill="#c6c6c8" stroke="#fff" stroke-width="0.7"/>
<path d="M361.07,853.65 A56,56 0 0 1 360.25,865.32 L344.49,862.55 A40,40 0 0 0 345.08,854.2 Z" fill="#c6c6c8" stroke="#fff" stroke-width="0.7"/>
<path d="M360.25,865.32 A56,56 0 0 1 357.02,876.58 L342.19,870.58 A40,40 0 0 0 344.49,862.55 Z" fill="#c6c6c8" stroke="#fff" stroke-width="0.7"/>
<path d="M357.02,876.58 A56,56 0 0 1 349.23,890.08 L336.62,880.23 A40,40 0 0 0 342.19,870.58 Z" fill="#c6c6c8" stroke="#fff" stroke-width="0.7"/>
<path d="M349.23,890.08 A56,56 0 0 1 341.1,898.5 L330.81,886.24 A40,40 0 0 0 336.62,880.23 Z" fill="#6264ad" stroke="#fff" stroke-width="0.7"/>
<path d="M341.1,898.5 A56,56 0 0 1 331.39,905.05 L323.88,890.92 A40,40 0 0 0 330.81,886.24 Z" fill="#c6c6c8" stroke="#fff" stroke-width="0.7"/>
<path d="M331.39,905.05 A56,56 0 0 1 319.59,909.69 L315.45,894.24 A40,40 0 0 0 323.88,890.92 Z" fill="#c6c6c8" stroke="#fff" stroke-width="0.7"/>
<path d="M319.59,909.69 A56,56 0 0 1 307.05,911.57 L306.5,895.58 A40,40 0 0 0 315.45,894.24 Z" fill="#c6c6c8" stroke="#fff" stroke-width="0.7"/>
<path d="M307.05,911.57 A56,56 0 0 1 290.61,909.69 L294.75,894.24 A40,40 0 0 0 306.5,895.58 Z" fill="#c6c6c8" stroke="#fff" stroke-width="0.7"/>
<path d="M290.61,909.69 A56,56 0 0 1 277.1,904.1 L285.1,890.24 A40,40 0 0 0 294.75,894.24 Z" fill="#c6c6c8" stroke="#fff" stroke-width="0.7"/>
<path d="M277.1,904.1 A56,56 0 0 1 267.63,897.22 L278.33,885.33 A40,40 0 0 0 285.1,890.24 Z" fill="#c6c6c8" stroke="#fff" stroke-width="0.7"/>
<path d="M267.63,897.22 A56,56 0 0 1 259.8,888.52 L272.74,879.11 A40,40 0 0 0 278.33,885.33 Z" fill="#c6c6c8" stroke="#fff" stroke-width="0.7"/>
<path d="M259.8,888.52 A56,56 0 0 1 254.35,879.27 L268.85,872.5 A40,40 0 0 0 272.74,879.11 Z" fill="#c6c6c8" stroke="#fff" stroke-width="0.7"/>
<path d="M254.35,879.27 A56,56 0 0 1 249.95,865.32 L265.71,862.55 A40,40 0 0 0 268.85,872.5 Z" fill="#6264ad" stroke="#fff" stroke-width="0.7"/>
<path d="M249.95,865.32 A56,56 0 0 1 249.64,847.81 L265.49,850.03 A40,40 0 0 0 265.71,862.55 Z" fill="#8fb6da" stroke="#fff" stroke-width="0.7"/>
<path d="M249.64,847.81 A56,56 0 0 1 254.35,831.93 L268.85,838.7 A40,40 0 0 0 265.49,850.03 Z" fill="#c6c6c8" stroke="#fff" stroke-width="0.7"/>
<path d="M254.35,831.93 A56,56 0 0 1 262.2,819.6 L274.46,829.89 A40,40 0 0 0 268.85,838.7 Z" fill="#c6c6c8" stroke="#fff" stroke-width="0.7"/>
<path d="M262.2,819.6 A56,56 0 0 1 270.62,811.47 L280.47,824.08 A40,40 0 0 0 274.46,829.89 Z" fill="#c6c6c8" stroke="#fff" stroke-width="0.7"/>
<path d="M270.62,811.47 A56,56 0 0 1 278.81,806.15 L286.32,820.28 A40,40 0 0 0 280.47,824.08 Z" fill="#c6c6c8" stroke="#fff" stroke-width="0.7"/>
<path d="M278.81,806.15 A56,56 0 0 1 290.61,801.51 L294.75,816.96 A40,40 0 0 0 286.32,820.28 Z" fill="#8fb6da" stroke="#fff" stroke-width="0.7"/>
<path d="M305.1,783.6 A72,72 0 0 1 356.01,804.69 L344.7,816 A56,56 0 0 0 305.1,799.6 Z" fill="#7b62a4" stroke="#fff" stroke-width="0.7"/>
<path d="M356.01,804.69 A72,72 0 0 1 368.67,821.8 L354.55,829.31 A56,56 0 0 0 344.7,816 Z" fill="#7b62a4" stroke="#fff" stroke-width="0.7"/>
<path d="M368.67,821.8 A72,72 0 0 1 377.06,853.09 L361.07,853.65 A56,56 0 0 0 354.55,829.31 Z" fill="#c6c6c8" stroke="#fff" stroke-width="0.7"/>
<path d="M323.73,925.15 A72,72 0 0 1 305.1,927.6 L305.1,911.6 A56,56 0 0 0 319.59,909.69 Z" fill="#c6c6c8" stroke="#fff" stroke-width="0.7"/>
<path d="M305.1,927.6 A72,72 0 0 1 286.47,925.15 L290.61,909.69 A56,56 0 0 0 305.1,911.6 Z" fill="#c6c6c8" stroke="#fff" stroke-width="0.7"/>
<path d="M286.47,925.15 A72,72 0 0 1 266.95,916.66 L275.42,903.09 A56,56 0 0 0 290.61,909.69 Z" fill="#c6c6c8" stroke="#fff" stroke-width="0.7"/>
<path d="M266.95,916.66 A72,72 0 0 1 253.31,905.62 L264.82,894.5 A56,56 0 0 0 275.42,903.09 Z" fill="#c6c6c8" stroke="#fff" stroke-width="0.7"/>
<path d="M234.67,870.57 A72,72 0 0 1 233.49,848.07 L249.41,849.75 A56,56 0 0 0 250.32,867.24 Z" fill="#8fb6da" stroke="#fff" stroke-width="0.7"/>
<path d="M233.49,848.07 A72,72 0 0 1 238.34,828.63 L253.18,834.62 A56,56 0 0 0 249.41,849.75 Z" fill="#c6c6c8" stroke="#fff" stroke-width="0.7"/>
<path d="M244.72,816.39 A72,72 0 0 1 259.79,799.65 L269.86,812.08 A56,56 0 0 0 258.13,825.1 Z" fill="#c6c6c8" stroke="#fff" stroke-width="0.7"/>
<path d="M305.1,767.6 A88,88 0 0 1 327.88,770.6 L323.73,786.05 A72,72 0 0 0 305.1,783.6 Z" fill="#8fb6da" stroke="#fff" stroke-width="0.7"/>
<path d="M327.88,770.6 A88,88 0 0 1 345.05,777.19 L337.79,791.45 A72,72 0 0 0 323.73,786.05 Z" fill="#c6c6c8" stroke="#fff" stroke-width="0.7"/>
<path d="M345.05,777.19 A88,88 0 0 1 367.33,793.37 L356.01,804.69 A72,72 0 0 0 337.79,791.45 Z" fill="#6264ad" stroke="#fff" stroke-width="0.7"/>
<path d="M300.49,943.48 A88,88 0 0 1 275,938.29 L280.47,923.26 A72,72 0 0 0 301.33,927.5 Z" fill="#c6c6c8" stroke="#fff" stroke-width="0.7"/>
<path d="M275,938.29 A88,88 0 0 1 246.22,921 L256.92,909.11 A72,72 0 0 0 280.47,923.26 Z" fill="#c6c6c8" stroke="#fff" stroke-width="0.7"/>
<path d="M217.31,849.46 A88,88 0 0 1 222.41,825.5 L237.44,830.97 A72,72 0 0 0 233.28,850.58 Z" fill="#c6c6c8" stroke="#fff" stroke-width="0.7"/>
<circle cx="305.1" cy="855.6" r="24" fill="#e8302e"/>
<line x1="305.1" y1="831.6" x2="305.1" y2="847.4" stroke="#fff" stroke-width="0.7"/>
<circle cx="305.1" cy="855.6" r="8.2" fill="#e8302e" stroke="#fff" stroke-width="0.7"/>
<text x="325.39" y="813.99" font-size="5.4" text-anchor="middle" fill="#111" transform="rotate(-65 325.39 813.99)">PSD</text>
<text x="357.41" y="840.28" font-size="4.8" text-anchor="middle" fill="#111" transform="rotate(-18 357.41 840.28)">membrane</text>
<text x="364.95" y="861.47" font-size="4.8" text-anchor="middle" fill="#111" transform="rotate(4 364.95 861.47)">intracellular</text>
<text x="360.85" y="873.27" font-size="4.8" text-anchor="middle" fill="#111" transform="rotate(16 360.85 873.27)">synaptic</text>
<text x="362.26" y="890.28" font-size="4.8" text-anchor="middle" fill="#111" transform="rotate(30 362.26 890.28)">IF cytoskeleton</text>
<text x="339.63" y="890.62" font-size="4.8" text-anchor="middle" fill="#111" transform="rotate(44 339.63 890.62)">actin</text>
<text x="352.3" y="915.57" font-size="4.8" text-anchor="middle" fill="#111" transform="rotate(51 352.3 915.57)">cytoskeleton</text>
<text x="337.53" y="933.68" font-size="4.8" text-anchor="middle" fill="#111" transform="rotate(67 337.53 933.68)">postsynaptic septin cytoskeleton</text>
<text x="316.91" y="924.25" font-size="4.8" text-anchor="middle" fill="#111" transform="rotate(80 316.91 924.25)">SA cytoskeleton</text>
<text x="298.72" y="917.95" font-size="4.8" text-anchor="middle" fill="#111" transform="rotate(276 298.72 917.95)">membrane</text>
<text x="285.26" y="911.78" font-size="4.8" text-anchor="middle" fill="#111" transform="rotate(290 285.26 911.78)">early</text>
<text x="270.69" y="906.43" font-size="4.8" text-anchor="middle" fill="#111" transform="rotate(305 270.69 906.43)">recycling</text>
<text x="259.14" y="895.85" font-size="4.8" text-anchor="middle" fill="#111" transform="rotate(320 259.14 895.85)">anchored</text>
<text x="255.2" y="882.7" font-size="4.8" text-anchor="middle" fill="#111" transform="rotate(333 255.2 882.7)">extrinsic</text>
<text x="256.59" y="869.38" font-size="4.8" text-anchor="middle" fill="#111" transform="rotate(346 256.59 869.38)">integral</text>
<text x="245.11" y="858.33" font-size="4.8" text-anchor="middle" fill="#111" transform="rotate(0 245.11 858.33)">membrane</text>
<text x="250.04" y="842.74" font-size="5.4" text-anchor="middle" fill="#111" transform="rotate(375 250.04 842.74)">SER</text>
<text x="265.26" y="834.28" font-size="4.8" text-anchor="middle" fill="#111" transform="rotate(390 265.26 834.28)">cytosol</text>
<text x="256.83" y="812.27" font-size="4.8" text-anchor="middle" fill="#111" transform="rotate(403 256.83 812.27)">membrane</text>
<text x="283.1" y="819.17" font-size="4.8" text-anchor="middle" fill="#111" transform="rotate(420 283.1 819.17)">golgi</text>
<text x="278.88" y="792.38" font-size="4.8" text-anchor="middle" fill="#111" transform="rotate(428 278.88 792.38)">membrane</text>
<text x="298.42" y="809.75" font-size="4.8" text-anchor="middle" fill="#111" transform="rotate(442 298.42 809.75)">ribosome</text>
<text x="402.3" y="747.3" font-size="14.5" fill="#000">L</text>
<line x1="477.6" y1="750.6" x2="498.1" y2="812.9" stroke="#333" stroke-width="0.55"/>
<line x1="426.9" y1="782.6" x2="466.1" y2="781.4" stroke="#333" stroke-width="0.55"/>
<line x1="426.9" y1="782.6" x2="415.2" y2="823.4" stroke="#333" stroke-width="0.55"/>
<line x1="426.9" y1="782.6" x2="456.1" y2="825.8" stroke="#333" stroke-width="0.55"/>
<line x1="466.1" y1="781.4" x2="415.2" y2="823.4" stroke="#333" stroke-width="0.55"/>
<line x1="466.1" y1="781.4" x2="456.1" y2="825.8" stroke="#333" stroke-width="0.55"/>
<line x1="466.1" y1="781.4" x2="518" y2="766.9" stroke="#333" stroke-width="0.55"/>
<line x1="415.2" y1="823.4" x2="456.1" y2="825.8" stroke="#333" stroke-width="0.55"/>
<line x1="456.1" y1="825.8" x2="498.1" y2="812.9" stroke="#333" stroke-width="0.55"/>
<line x1="498.1" y1="812.9" x2="518" y2="766.9" stroke="#333" stroke-width="0.55"/>
<line x1="498.1" y1="812.9" x2="560.5" y2="762.4" stroke="#333" stroke-width="0.55"/>
<line x1="498.1" y1="812.9" x2="548.2" y2="807.4" stroke="#333" stroke-width="0.55"/>
<line x1="498.1" y1="812.9" x2="553.2" y2="839.5" stroke="#333" stroke-width="0.55"/>
<line x1="518" y1="766.9" x2="560.5" y2="762.4" stroke="#333" stroke-width="0.55"/>
<line x1="518" y1="766.9" x2="548.2" y2="807.4" stroke="#333" stroke-width="0.55"/>
<line x1="518" y1="766.9" x2="553.2" y2="839.5" stroke="#333" stroke-width="0.55"/>
<line x1="560.5" y1="762.4" x2="548.2" y2="807.4" stroke="#333" stroke-width="0.55"/>
<line x1="560.5" y1="762.4" x2="553.2" y2="839.5" stroke="#333" stroke-width="0.55"/>
<line x1="560.5" y1="762.4" x2="601.2" y2="807.4" stroke="#333" stroke-width="0.55"/>
<line x1="595.4" y1="774.9" x2="548.2" y2="807.4" stroke="#333" stroke-width="0.55"/>
<line x1="595.4" y1="774.9" x2="553.2" y2="839.5" stroke="#333" stroke-width="0.55"/>
<line x1="548.2" y1="807.4" x2="601.2" y2="807.4" stroke="#333" stroke-width="0.55"/>
<line x1="548.2" y1="807.4" x2="553.2" y2="839.5" stroke="#333" stroke-width="0.55"/>
<line x1="601.2" y1="807.4" x2="553.2" y2="839.5" stroke="#333" stroke-width="0.55"/>
<line x1="601.2" y1="807.4" x2="639.7" y2="805" stroke="#333" stroke-width="0.55"/>
<line x1="553.2" y1="839.5" x2="516.5" y2="874.3" stroke="#333" stroke-width="0.55"/>
<line x1="553.2" y1="839.5" x2="604.3" y2="862.8" stroke="#333" stroke-width="0.55"/>
<line x1="553.2" y1="839.5" x2="576.4" y2="888" stroke="#333" stroke-width="0.55"/>
<circle cx="477.6" cy="750.6" r="6.6" fill="#1a1a1a"/>
<circle cx="477.6" cy="750.6" r="5.25" fill="none" stroke="#e23030" stroke-width="1.3"/>
<circle cx="477.6" cy="750.6" r="4.6" fill="#222"/>
<text x="477.6" y="766.7" font-size="7.4" font-weight="bold" text-anchor="middle" textLength="32" lengthAdjust="spacingAndGlyphs" stroke="#000" stroke-width="0.25">MYH10</text>
<circle cx="426.9" cy="782.6" r="6.6" fill="#1a1a1a"/>
<circle cx="426.9" cy="782.6" r="5.25" fill="none" stroke="#4fc3cf" stroke-width="1.3"/>
<circle cx="426.9" cy="782.6" r="4.6" fill="#222"/>
<text x="426.9" y="798.7" font-size="7.4" font-weight="bold" text-anchor="middle" textLength="23.4" lengthAdjust="spacingAndGlyphs" stroke="#000" stroke-width="0.25">RPS3</text>
<circle cx="466.1" cy="781.4" r="6.6" fill="#1a1a1a"/>
<path d="M460.29,780.38 A5.9,5.9 0 0 1 471.91,782.42 L470.63,782.2 A4.6,4.6 0 0 0 461.57,780.6 Z" fill="#4fc3cf" stroke="none" stroke-width="0"/>
<path d="M471.91,782.42 A5.9,5.9 0 0 1 460.29,780.38 L461.57,780.6 A4.6,4.6 0 0 0 470.63,782.2 Z" fill="#5548a0" stroke="none" stroke-width="0"/>
<circle cx="466.1" cy="781.4" r="4.6" fill="#222"/>
<text x="466.1" y="797.5" font-size="7.4" font-weight="bold" text-anchor="middle" textLength="23.4" lengthAdjust="spacingAndGlyphs" stroke="#000" stroke-width="0.25">RPL8</text>
<circle cx="415.2" cy="823.4" r="6.6" fill="#1a1a1a"/>
<path d="M409.39,822.38 A5.9,5.9 0 0 1 421.01,824.42 L419.73,824.2 A4.6,4.6 0 0 0 410.67,822.6 Z" fill="#4fc3cf" stroke="none" stroke-width="0"/>
<path d="M421.01,824.42 A5.9,5.9 0 0 1 409.39,822.38 L410.67,822.6 A4.6,4.6 0 0 0 419.73,824.2 Z" fill="#5548a0" stroke="none" stroke-width="0"/>
<circle cx="415.2" cy="823.4" r="4.6" fill="#222"/>
<text x="415.2" y="839.5" font-size="7.4" font-weight="bold" text-anchor="middle" textLength="29.2" lengthAdjust="spacingAndGlyphs" stroke="#000" stroke-width="0.25">RPL14</text>
<circle cx="456.1" cy="825.8" r="6.6" fill="#1a1a1a"/>
<circle cx="456.1" cy="825.8" r="5.25" fill="none" stroke="#4fc3cf" stroke-width="1.3"/>
<circle cx="456.1" cy="825.8" r="4.6" fill="#222"/>
<text x="456.1" y="841.9" font-size="7.4" font-weight="bold" text-anchor="middle" textLength="36.2" lengthAdjust="spacingAndGlyphs" stroke="#000" stroke-width="0.25">RPS27A</text>
<circle cx="498.1" cy="812.9" r="6.6" fill="#1a1a1a"/>
<circle cx="498.1" cy="812.9" r="5.25" fill="none" stroke="#e23030" stroke-width="1.3"/>
<circle cx="498.1" cy="812.9" r="4.6" fill="#222"/>
<text x="498.1" y="829" font-size="7.4" font-weight="bold" text-anchor="middle" textLength="25" lengthAdjust="spacingAndGlyphs" stroke="#000" stroke-width="0.25">ACTB</text>
<circle cx="518" cy="766.9" r="6.6" fill="#1a1a1a"/>
<circle cx="518" cy="766.9" r="5.25" fill="none" stroke="#5548a0" stroke-width="1.3"/>
<circle cx="518" cy="766.9" r="4.6" fill="#222"/>
<text x="518" y="783" font-size="7.4" font-weight="bold" text-anchor="middle" textLength="32.7" lengthAdjust="spacingAndGlyphs" stroke="#000" stroke-width="0.25">GAPDH</text>
<circle cx="560.5" cy="762.4" r="6.6" fill="#1a1a1a"/>
<circle cx="560.5" cy="762.4" r="5.25" fill="none" stroke="#5548a0" stroke-width="1.3"/>
<circle cx="560.5" cy="762.4" r="4.6" fill="#222"/>
<text x="560.5" y="778.5" font-size="7.4" font-weight="bold" text-anchor="middle" textLength="32.8" lengthAdjust="spacingAndGlyphs" stroke="#000" stroke-width="0.25">MAPK1</text>
<circle cx="595.4" cy="774.9" r="6.6" fill="#1a1a1a"/>
<circle cx="595.4" cy="774.9" r="5.25" fill="none" stroke="#5548a0" stroke-width="1.3"/>
<circle cx="595.4" cy="774.9" r="4.6" fill="#222"/>
<text x="595.4" y="791" font-size="7.4" font-weight="bold" text-anchor="middle" textLength="39.3" lengthAdjust="spacingAndGlyphs" stroke="#000" stroke-width="0.25">CAMK2B</text>
<circle cx="548.2" cy="807.4" r="6.6" fill="#1a1a1a"/>
<circle cx="548.2" cy="807.4" r="5.25" fill="none" stroke="#5548a0" stroke-width="1.3"/>
<circle cx="548.2" cy="807.4" r="4.6" fill="#222"/>
<text x="548.2" y="823.5" font-size="7.4" font-weight="bold" text-anchor="middle" textLength="38.3" lengthAdjust="spacingAndGlyphs" stroke="#000" stroke-width="0.25">MAP2K1</text>
<circle cx="601.2" cy="807.4" r="6.6" fill="#1a1a1a"/>
<circle cx="601.2" cy="807.4" r="5.25" fill="none" stroke="#5548a0" stroke-width="1.3"/>
<circle cx="601.2" cy="807.4" r="4.6" fill="#222"/>
<text x="601.2" y="823.5" font-size="7.4" font-weight="bold" text-anchor="middle" textLength="35.6" lengthAdjust="spacingAndGlyphs" stroke="#000" stroke-width="0.25">PTPRZ1</text>
<circle cx="639.7" cy="805" r="6.6" fill="#1a1a1a"/>
<circle cx="639.7" cy="805" r="5.25" fill="none" stroke="#5548a0" stroke-width="1.3"/>
<circle cx="639.7" cy="805" r="4.6" fill="#222"/>
<text x="639.7" y="821.1" font-size="7.4" font-weight="bold" text-anchor="middle" textLength="25.3" lengthAdjust="spacingAndGlyphs" stroke="#000" stroke-width="0.25">RTN4</text>
<circle cx="553.2" cy="839.5" r="6.6" fill="#1a1a1a"/>
<circle cx="553.2" cy="839.5" r="5.25" fill="none" stroke="#5548a0" stroke-width="1.3"/>
<circle cx="553.2" cy="839.5" r="4.6" fill="#222"/>
<text x="553.2" y="855.6" font-size="7.4" font-weight="bold" text-anchor="middle" textLength="29.9" lengthAdjust="spacingAndGlyphs" stroke="#000" stroke-width="0.25">PSD95</text>
<circle cx="604.3" cy="862.8" r="6.6" fill="#1a1a1a"/>
<circle cx="604.3" cy="862.8" r="5.25" fill="none" stroke="#7cc242" stroke-width="1.3"/>
<circle cx="604.3" cy="862.8" r="4.6" fill="#222"/>
<text x="604.3" y="878.9" font-size="7.4" font-weight="bold" text-anchor="middle" textLength="29.4" lengthAdjust="spacingAndGlyphs" stroke="#000" stroke-width="0.25">PRRT1</text>
<circle cx="481.1" cy="857.2" r="6.6" fill="#1a1a1a"/>
<circle cx="481.1" cy="857.2" r="5.25" fill="none" stroke="#7cc242" stroke-width="1.3"/>
<circle cx="481.1" cy="857.2" r="4.6" fill="#222"/>
<text x="481.1" y="873.3" font-size="7.4" font-weight="bold" text-anchor="middle" textLength="40.8" lengthAdjust="spacingAndGlyphs" stroke="#000" stroke-width="0.25">SLC6A11</text>
<circle cx="516.5" cy="874.3" r="6.6" fill="#1a1a1a"/>
<circle cx="516.5" cy="874.3" r="5.25" fill="none" stroke="#5548a0" stroke-width="1.3"/>
<circle cx="516.5" cy="874.3" r="4.6" fill="#222"/>
<text x="516.5" y="890.4" font-size="7.4" font-weight="bold" text-anchor="middle" textLength="37.4" lengthAdjust="spacingAndGlyphs" stroke="#000" stroke-width="0.25">FAM81A</text>
<circle cx="576.4" cy="888" r="6.6" fill="#1a1a1a"/>
<circle cx="576.4" cy="888" r="5.25" fill="none" stroke="#5548a0" stroke-width="1.3"/>
<circle cx="576.4" cy="888" r="4.6" fill="#222"/>
<text x="576.4" y="904.1" font-size="7.4" font-weight="bold" text-anchor="middle" textLength="19.1" lengthAdjust="spacingAndGlyphs" stroke="#000" stroke-width="0.25">ABR</text>
<rect x="402" y="907.5" width="13.4" height="6.6" fill="#5a4aa8"/>
<text x="417.9" y="913.2" font-size="7.3" font-weight="bold" fill="#111" textLength="109.8" lengthAdjust="spacingAndGlyphs">PSD (Postsynaptic denisty)</text>
<rect x="402" y="919.1" width="13.4" height="6.6" fill="#7cc242"/>
<text x="417.9" y="924.8" font-size="7.3" font-weight="bold" fill="#111" textLength="140.1" lengthAdjust="spacingAndGlyphs">Integral of postsynaptic membrane</text>
<rect x="402" y="930.8" width="13.4" height="6.6" fill="#58c8d4"/>
<text x="417.9" y="936.5" font-size="7.3" font-weight="bold" fill="#111" textLength="89.5" lengthAdjust="spacingAndGlyphs">Postsynaptic ribosome</text>
<rect x="402" y="942.4" width="13.4" height="6.6" fill="#e23030"/>
<text x="417.9" y="948.1" font-size="7.3" font-weight="bold" fill="#111" textLength="128.2" lengthAdjust="spacingAndGlyphs">Postsynaptic actin cytoskeleton</text>
<text x="573.5" y="918.9" font-size="5.6" font-weight="bold" fill="#222" textLength="33.2" lengthAdjust="spacingAndGlyphs">Node Shape</text>
<text x="620.5" y="918.9" font-size="5.6" font-weight="bold" fill="#222" textLength="15.4" lengthAdjust="spacingAndGlyphs">Class</text>
<line x1="568" y1="922" x2="641.7" y2="922" stroke="#555" stroke-width="0.6"/>
<circle cx="589.3" cy="930.3" r="5.4" fill="none" stroke="#222" stroke-width="0.45"/>
<circle cx="589.3" cy="945.3" r="5" fill="none" stroke="#222" stroke-width="0.45"/>
<text x="620.5" y="931.9" font-size="5.4" font-weight="bold" fill="#222" textLength="8.3" lengthAdjust="spacingAndGlyphs">Up</text>
<text x="618.4" y="946.9" font-size="5.4" font-weight="bold" fill="#222" textLength="14.6" lengthAdjust="spacingAndGlyphs">Down</text>
</svg>
</body></html>
